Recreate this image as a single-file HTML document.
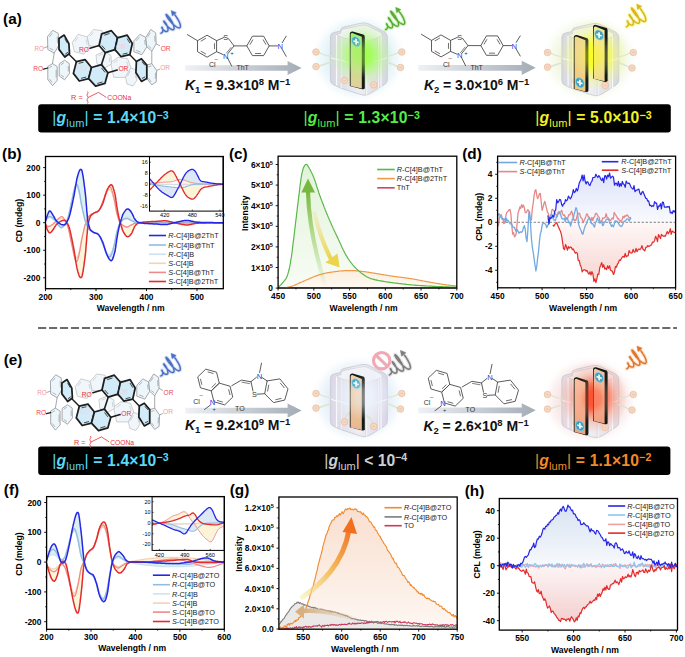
<!DOCTYPE html>
<html><head><meta charset="utf-8"><style>
html,body{margin:0;padding:0;background:#fff;width:685px;height:657px;overflow:hidden}
svg{display:block}
text{font-family:"Liberation Sans", sans-serif}
</style></head><body>
<svg width="685" height="657" viewBox="0 0 685 657" font-family='"Liberation Sans", sans-serif'><defs><clipPath id="cb"><rect x="45.5" y="156.5" width="177.8" height="132.2"/></clipPath><clipPath id="cc"><rect x="278.1" y="156.2" width="178.7" height="131.9"/></clipPath><clipPath id="cd"><rect x="497.6" y="156.2" width="178" height="131.6"/></clipPath><clipPath id="cf"><rect x="46.6" y="496.6" width="177.7" height="132.7"/></clipPath><clipPath id="cg"><rect x="278.9" y="497" width="178.3" height="132.2"/></clipPath><clipPath id="ch"><rect x="499.3" y="498.5" width="178.2" height="131.6"/></clipPath><clipPath id="cbi"><rect x="149.5" y="156.6" width="73.6" height="54.5"/></clipPath><linearGradient id="gG" x1="0" y1="0" x2="0" y2="1"><stop offset="0" stop-color="#e2f3da"/><stop offset="1" stop-color="#f8fcf5"/></linearGradient><linearGradient id="gO" x1="0" y1="0" x2="0" y2="1"><stop offset="0" stop-color="#fbeedd"/><stop offset="1" stop-color="#fefaf3"/></linearGradient><linearGradient id="aG" x1="0" y1="1" x2="0" y2="0"><stop offset="0" stop-color="#8cc850" stop-opacity="0.05"/><stop offset="0.55" stop-color="#8cc850" stop-opacity="0.6"/><stop offset="1" stop-color="#78b840"/></linearGradient><linearGradient id="aY" x1="0" y1="0" x2="0" y2="1"><stop offset="0" stop-color="#e8e090" stop-opacity="0.3"/><stop offset="1" stop-color="#ecd44c"/></linearGradient><linearGradient id="gdB" x1="0" y1="0" x2="0" y2="1"><stop offset="0" stop-color="#dde2f7"/><stop offset="1" stop-color="#fafbff"/></linearGradient><linearGradient id="gdR" x1="0" y1="1" x2="0" y2="0"><stop offset="0" stop-color="#f6d4d0"/><stop offset="1" stop-color="#fef8f7"/></linearGradient><clipPath id="cfi"><rect x="152.1" y="496.6" width="72.2" height="53.8"/></clipPath><linearGradient id="ggO" x1="0" y1="0" x2="0" y2="1"><stop offset="0" stop-color="#f9dfd0"/><stop offset="1" stop-color="#fef7f2"/></linearGradient><linearGradient id="aO" x1="0" y1="1" x2="1" y2="0"><stop offset="0" stop-color="#f4eca0" stop-opacity="0.5"/><stop offset="0.5" stop-color="#f4c060"/><stop offset="1" stop-color="#f07828"/></linearGradient><linearGradient id="aT" x1="1" y1="0" x2="0" y2="0"><stop offset="0" stop-color="#e8c8a8" stop-opacity="0.2"/><stop offset="1" stop-color="#d8b080"/></linearGradient><linearGradient id="ghB" x1="0" y1="0" x2="0" y2="1"><stop offset="0" stop-color="#d8e3f1"/><stop offset="1" stop-color="#f8fafd"/></linearGradient><linearGradient id="ghR" x1="0" y1="1" x2="0" y2="0"><stop offset="0" stop-color="#f4cfcf"/><stop offset="1" stop-color="#fdf6f6"/></linearGradient><linearGradient id="ga1" x1="0" y1="0" x2="1" y2="0"><stop offset="0" stop-color="#eef2f6"/><stop offset="1" stop-color="#a4acb6"/></linearGradient><radialGradient id="cg0_0o"><stop offset="0" stop-color="#d6eef4" stop-opacity="1"/><stop offset="0.55" stop-color="#d6eef4" stop-opacity="0.85"/><stop offset="0.8" stop-color="#d6eef4" stop-opacity="0.35"/><stop offset="1" stop-color="#ffffff" stop-opacity="0"/></radialGradient><radialGradient id="cg0_0g"><stop offset="0" stop-color="#a0ff50" stop-opacity="1"/><stop offset="0.35" stop-color="#a0ff50" stop-opacity="0.9"/><stop offset="0.7" stop-color="#b8f890" stop-opacity="0.45"/><stop offset="1" stop-color="#b8f890" stop-opacity="0"/></radialGradient><linearGradient id="cg0_0b" x1="0" y1="0" x2="1" y2="0"><stop offset="0" stop-color="#d6d7e0"/><stop offset="0.5" stop-color="#eeeef2"/><stop offset="1" stop-color="#d6d7e0"/></linearGradient><linearGradient id="bg0_0_349" x1="0" y1="0" x2="0" y2="1"><stop offset="0" stop-color="#9ef26c"/><stop offset="1" stop-color="#e6cfa0"/></linearGradient><linearGradient id="ga2" x1="0" y1="0" x2="1" y2="0"><stop offset="0" stop-color="#eef2f6"/><stop offset="1" stop-color="#a4acb6"/></linearGradient><radialGradient id="cg231_0o"><stop offset="0" stop-color="#eaf4d4" stop-opacity="1"/><stop offset="0.55" stop-color="#eaf4d4" stop-opacity="0.85"/><stop offset="0.8" stop-color="#eaf4d4" stop-opacity="0.35"/><stop offset="1" stop-color="#ffffff" stop-opacity="0"/></radialGradient><radialGradient id="cg231_0g"><stop offset="0" stop-color="#f8ff20" stop-opacity="1"/><stop offset="0.35" stop-color="#f8ff20" stop-opacity="0.9"/><stop offset="0.7" stop-color="#f0f880" stop-opacity="0.45"/><stop offset="1" stop-color="#f0f880" stop-opacity="0"/></radialGradient><linearGradient id="cg231_0b" x1="0" y1="0" x2="1" y2="0"><stop offset="0" stop-color="#d6d7e0"/><stop offset="0.5" stop-color="#eeeef2"/><stop offset="1" stop-color="#d6d7e0"/></linearGradient><linearGradient id="bg231_0_342" x1="0" y1="0" x2="0" y2="1"><stop offset="0" stop-color="#f2d890"/><stop offset="1" stop-color="#f0c880"/></linearGradient><linearGradient id="bg231_0_361" x1="0" y1="0" x2="0" y2="1"><stop offset="0" stop-color="#f8e88a"/><stop offset="1" stop-color="#f2d890"/></linearGradient><linearGradient id="ga3" x1="0" y1="0" x2="1" y2="0"><stop offset="0" stop-color="#eef2f6"/><stop offset="1" stop-color="#a4acb6"/></linearGradient><linearGradient id="ga4" x1="0" y1="0" x2="1" y2="0"><stop offset="0" stop-color="#eef2f6"/><stop offset="1" stop-color="#a4acb6"/></linearGradient><radialGradient id="cg0_341o"><stop offset="0" stop-color="#dceaf6" stop-opacity="1"/><stop offset="0.55" stop-color="#dceaf6" stop-opacity="0.85"/><stop offset="0.8" stop-color="#dceaf6" stop-opacity="0.35"/><stop offset="1" stop-color="#ffffff" stop-opacity="0"/></radialGradient><radialGradient id="cg0_341g"><stop offset="0" stop-color="#eef2fa" stop-opacity="1"/><stop offset="0.35" stop-color="#eef2fa" stop-opacity="0.9"/><stop offset="0.7" stop-color="#e8eef8" stop-opacity="0.45"/><stop offset="1" stop-color="#e8eef8" stop-opacity="0"/></radialGradient><linearGradient id="cg0_341b" x1="0" y1="0" x2="1" y2="0"><stop offset="0" stop-color="#dad6e8"/><stop offset="0.5" stop-color="#eeeef2"/><stop offset="1" stop-color="#dad6e8"/></linearGradient><linearGradient id="bg0_341_349" x1="0" y1="0" x2="0" y2="1"><stop offset="0" stop-color="#f2d0a8"/><stop offset="1" stop-color="#e8b890"/></linearGradient><radialGradient id="cg231_342o"><stop offset="0" stop-color="#f6dcdc" stop-opacity="1"/><stop offset="0.55" stop-color="#f6dcdc" stop-opacity="0.85"/><stop offset="0.8" stop-color="#f6dcdc" stop-opacity="0.35"/><stop offset="1" stop-color="#ffffff" stop-opacity="0"/></radialGradient><radialGradient id="cg231_342g"><stop offset="0" stop-color="#ff5030" stop-opacity="1"/><stop offset="0.35" stop-color="#ff5030" stop-opacity="0.9"/><stop offset="0.7" stop-color="#f8a088" stop-opacity="0.45"/><stop offset="1" stop-color="#f8a088" stop-opacity="0"/></radialGradient><linearGradient id="cg231_342b" x1="0" y1="0" x2="1" y2="0"><stop offset="0" stop-color="#e6d6dc"/><stop offset="0.5" stop-color="#eeeef2"/><stop offset="1" stop-color="#e6d6dc"/></linearGradient><linearGradient id="bg231_342_342" x1="0" y1="0" x2="0" y2="1"><stop offset="0" stop-color="#f8c0a0"/><stop offset="1" stop-color="#f2a080"/></linearGradient><linearGradient id="bg231_342_361" x1="0" y1="0" x2="0" y2="1"><stop offset="0" stop-color="#f8c4a4"/><stop offset="1" stop-color="#f2a080"/></linearGradient></defs><text x="3.1" y="23.7" font-size="15.3" font-weight="bold" fill="#000" text-anchor="start"  >(a)</text>
<text x="2.1" y="159.3" font-size="15.3" font-weight="bold" fill="#000" text-anchor="start"  >(b)</text>
<text x="229" y="159.3" font-size="15.3" font-weight="bold" fill="#000" text-anchor="start"  >(c)</text>
<text x="462.2" y="159.2" font-size="15.3" font-weight="bold" fill="#000" text-anchor="start"  >(d)</text>
<text x="3.7" y="364.5" font-size="15.3" font-weight="bold" fill="#000" text-anchor="start"  >(e)</text>
<text x="3.8" y="494.6" font-size="15.3" font-weight="bold" fill="#000" text-anchor="start"  >(f)</text>
<text x="229.7" y="494.5" font-size="15.3" font-weight="bold" fill="#000" text-anchor="start"  >(g)</text>
<text x="464.7" y="495.5" font-size="15.3" font-weight="bold" fill="#000" text-anchor="start"  >(h)</text>
<line x1="38.1" y1="328" x2="677" y2="328" stroke="#6b6b6b" stroke-width="2" stroke-dasharray="8.1 2.85"/>
<rect x="38.2" y="104.2" width="632.6" height="28.3" rx="3" fill="#000"/>
<rect x="38.2" y="446.5" width="632.2" height="28.4" rx="3" fill="#000"/>
<text x="52.3" y="123.4" font-size="15.7" font-weight="bold" fill="#5ad8f4" textLength="116.4" lengthAdjust="spacing"><tspan font-weight="normal">|</tspan><tspan font-style="italic">g</tspan><tspan font-size="11" font-weight="normal" dy="3.7">lum</tspan><tspan dy="-3.7" font-weight="normal">|</tspan> = 1.4&#215;10<tspan font-size="10.6" dy="-4.5">&#8722;3</tspan></text>
<text x="303.4" y="123.4" font-size="15.7" font-weight="bold" fill="#56ec48" textLength="116.4" lengthAdjust="spacing"><tspan font-weight="normal">|</tspan><tspan font-style="italic">g</tspan><tspan font-size="11" font-weight="normal" dy="3.7">lum</tspan><tspan dy="-3.7" font-weight="normal">|</tspan> = 1.3&#215;10<tspan font-size="10.6" dy="-4.5">&#8722;3</tspan></text>
<text x="535.3" y="123.4" font-size="15.7" font-weight="bold" fill="#f2f224" textLength="116.4" lengthAdjust="spacing"><tspan font-weight="normal">|</tspan><tspan font-style="italic">g</tspan><tspan font-size="11" font-weight="normal" dy="3.7">lum</tspan><tspan dy="-3.7" font-weight="normal">|</tspan> = 5.0&#215;10<tspan font-size="10.6" dy="-4.5">&#8722;3</tspan></text>
<text x="52.3" y="465.8" font-size="15.7" font-weight="bold" fill="#5ad8f4" textLength="116.4" lengthAdjust="spacing"><tspan font-weight="normal">|</tspan><tspan font-style="italic">g</tspan><tspan font-size="11" font-weight="normal" dy="3.7">lum</tspan><tspan dy="-3.7" font-weight="normal">|</tspan> = 1.4&#215;10<tspan font-size="10.6" dy="-4.5">&#8722;3</tspan></text>
<text x="324.3" y="465.8" font-size="15.7" font-weight="bold" fill="#cfcfcf"><tspan font-weight="normal">|</tspan><tspan font-style="italic">g</tspan><tspan font-size="11" font-weight="normal" dy="3.7">lum</tspan><tspan dy="-3.7" font-weight="normal">|</tspan> &lt; 10<tspan font-size="10.6" dy="-4.5">&#8722;4</tspan></text>
<text x="534.9" y="465.8" font-size="15.7" font-weight="bold" fill="#f28a26" textLength="116.4" lengthAdjust="spacing"><tspan font-weight="normal">|</tspan><tspan font-style="italic">g</tspan><tspan font-size="11" font-weight="normal" dy="3.7">lum</tspan><tspan dy="-3.7" font-weight="normal">|</tspan> = 1.1&#215;10<tspan font-size="10.6" dy="-4.5">&#8722;2</tspan></text>
<g clip-path="url(#cb)">
<path d="M45.5,221.3 45.9,220 46.2,218.8 46.6,217.6 46.9,216.6 47.3,215.6 47.6,214.7 48,213.8 48.3,212.9 48.7,212.1 49.1,211.4 49.4,211 50.1,211 50.8,211.7 51.2,212.2 51.6,212.8 51.9,213.4 52.3,214 52.6,214.5 53,215.1 53.3,215.7 53.7,216.3 54,217 54.4,217.6 54.8,218.3 55.1,218.9 55.5,219.5 55.8,220 56.2,220.5 56.5,221 56.9,221.3 57.3,221.7 58,222.3 58.7,222.9 59.4,223.4 60.1,223.8 60.8,224.2 61.5,224.5 62.2,224.7 63,224.8 63.7,224.9 64.4,224.9 65.1,224.5 65.8,223.7 66.2,223.2 66.5,222.7 66.9,222 67.2,221.4 67.6,220.7 67.9,220 68.3,219.2 68.7,218.4 69,217.4 69.4,216.3 69.7,215.1 70.1,213.7 70.4,212.3 70.8,210.8 71.1,209.2 71.5,207.6 71.9,205.9 72.2,204.2 72.6,202.6 72.9,200.9 73.3,199.2 73.6,197.5 74,195.6 74.4,193.6 74.7,191.5 75.1,189.4 75.4,187.2 75.8,185.1 76.1,183.1 76.5,181.1 76.8,179.3 77.2,177.7 77.6,176.3 77.9,174.9 78.3,173.7 78.6,172.6 79,171.7 79.3,170.9 79.7,170.2 80.1,169.7 80.8,169.3 81.5,169.7 81.8,170.4 82.2,171.7 82.5,173.3 82.9,175.3 83.3,177.6 83.6,180.1 84,182.7 84.3,185.4 84.7,188.1 85,190.8 85.4,194.2 85.8,198.1 86.1,202.3 86.5,206.6 86.8,210.9 87.2,214.8 87.5,218.3 87.9,221.1 88.2,223 88.6,224.5 89,225.9 89.3,227.1 89.7,228.1 90,229 90.4,229.7 90.7,230.2 91.5,230.8 92.2,231.4 92.9,232 93.6,232.4 94.3,232.8 95,233 95.7,233.1 96.4,233.3 97.2,233.5 97.9,234 98.6,234.6 98.9,235.1 99.3,235.6 99.6,236.1 100,236.7 100.4,237.3 100.7,238 101.1,238.6 101.4,239.3 101.8,240.1 102.1,240.8 102.5,241.6 102.9,242.5 103.2,243.5 103.6,244.5 103.9,245.7 104.3,246.8 104.6,248 105,249.1 105.3,250.3 105.7,251.4 106.1,252.5 106.4,253.5 106.8,254.4 107.1,255.2 107.5,256 107.8,256.7 108.2,257.4 108.5,258 108.9,258.6 109.3,259.2 109.6,259.6 110,260 110.7,260.5 111.4,260.7 112.1,260 112.5,259.4 112.8,258.6 113.2,257.6 113.5,256.5 113.9,255.3 114.2,254.1 114.6,252.7 115,251.3 115.3,249.4 115.7,247.2 116,244.7 116.4,242.2 116.7,239.7 117.1,237.3 117.5,235.1 117.8,233.2 118.2,231.4 118.5,229.7 118.9,228.1 119.2,226.5 119.6,225.1 119.9,223.7 120.3,222.5 120.7,221.3 121,220.1 121.4,218.9 121.7,217.7 122.1,216.7 122.4,215.6 122.8,214.7 123.2,213.9 123.5,213.2 123.9,212.6 124.2,212.1 124.6,211.6 124.9,211.1 125.3,210.6 125.6,210.2 126,209.8 126.7,209.2 127.4,208.9 128.1,209 128.9,209.4 129.6,210.1 129.9,210.4 130.3,210.8 130.6,211.3 131,211.8 131.3,212.2 131.7,212.8 132.1,213.4 132.4,214.1 132.8,214.9 133.1,215.7 133.5,216.5 133.8,217.3 134.2,218.1 134.6,218.7 134.9,219.3 135.3,219.8 135.6,220.2 136,220.5 136.7,221.2 137.4,221.8 138.1,222.2 138.8,222.6 139.5,222.7 140.3,222.8 141,222.9 141.7,223 142.4,223.1 143.1,223.2 143.8,223.3 144.5,223.4 145.2,223.4 146,223.5 146.7,223.5 147.4,223.6 148.1,223.6 148.8,223.7 149.5,223.7 150.2,223.7 150.9,223.8 151.7,223.8 152.4,223.8 153.1,223.9 153.8,223.9 154.5,224 155.2,224 155.9,224 156.6,224.1 157.4,224.1 158.1,224.2 158.8,224.2 159.5,224.3 160.2,224.4 160.9,224.4 161.6,224.5 162.3,224.5 163,224.6 163.8,224.6 164.5,224.6 165.2,224.6 165.9,224.6 166.6,224.5 167.3,224.4 168,224.3 168.7,224.1 169.5,224 170.2,223.8 170.9,223.6 171.6,223.4 172.3,223.2 173,223 173.7,222.8 174.4,222.7 175.2,222.5 175.9,222.4 176.6,222.2 177.3,222 178,221.9 178.7,221.7 179.4,221.6 180.1,221.4 180.9,221.2 181.6,221.1 182.3,221 183,220.8 183.7,220.7 184.4,220.6 185.1,220.6 185.8,220.5 186.6,220.5 187.3,220.5 188,220.5 188.7,220.6 189.4,220.7 190.1,220.8 190.8,221 191.5,221.2 192.3,221.3 193,221.5 193.7,221.6 194.4,221.8 195.1,221.9 195.8,222 196.5,222.1 197.2,222.2 198,222.2 198.7,222.2 199.4,222.3 200.1,222.3 200.8,222.4 201.5,222.4 202.2,222.4 202.9,222.4 203.7,222.5 204.4,222.5 205.1,222.5 205.8,222.5 206.5,222.6 207.2,222.6 207.9,222.6 208.6,222.6 209.4,222.6 210.1,222.6 210.8,222.6 211.5,222.6 212.2,222.6 212.9,222.6 213.6,222.7 214.3,222.7 215.1,222.7 215.8,222.7 216.5,222.7 217.2,222.7 217.9,222.7 218.6,222.7 219.3,222.7 220,222.7 220.8,222.7 221.5,222.7 222.2,222.7 222.9,222.7 222.2,222.7 221.5,222.7 220.8,222.7 220,222.7 219.3,222.7 218.6,222.7 217.9,222.7 217.2,222.8 216.5,222.8 215.8,222.8 215.1,222.8 214.3,222.8 213.6,222.8 212.9,222.8 212.2,222.8 211.5,222.8 210.8,222.8 210.1,222.8 209.4,222.8 208.6,222.8 207.9,222.8 207.2,222.8 206.5,222.8 205.8,222.8 205.1,222.8 204.4,222.8 203.7,222.8 202.9,222.8 202.2,222.8 201.5,222.8 200.8,222.8 200.1,222.8 199.4,222.8 198.7,222.8 198,222.8 197.2,222.8 196.5,222.8 195.8,222.8 195.1,222.8 194.4,222.8 193.7,222.8 193,222.8 192.3,222.8 191.5,222.8 190.8,222.8 190.1,222.8 189.4,222.8 188.7,222.8 188,222.8 187.3,222.8 186.6,222.8 185.8,222.8 185.1,222.8 184.4,222.8 183.7,222.8 183,222.8 182.3,222.8 181.6,222.8 180.9,222.8 180.1,222.8 179.4,222.8 178.7,222.8 178,222.8 177.3,222.8 176.6,222.8 175.9,222.8 175.2,222.8 174.4,222.8 173.7,222.8 173,222.8 172.3,222.8 171.6,222.8 170.9,222.8 170.2,222.8 169.5,222.8 168.7,222.8 168,222.8 167.3,222.8 166.6,222.8 165.9,222.8 165.2,222.8 164.5,222.7 163.8,222.7 163,222.7 162.3,222.7 161.6,222.7 160.9,222.7 160.2,222.7 159.5,222.7 158.8,222.7 158.1,222.7 157.4,222.7 156.6,222.7 155.9,222.7 155.2,222.7 154.5,222.7 153.8,222.7 153.1,222.7 152.4,222.7 151.7,222.7 150.9,222.7 150.2,222.7 149.5,222.7 148.8,222.7 148.1,222.7 147.4,222.7 146.7,222.7 146,222.7 145.2,222.7 144.5,222.7 143.8,222.7 143.1,222.7 142.4,222.6 141.7,222.6 141,222.6 140.3,222.6 139.5,222.6 138.8,222.5 138.1,222.5 137.4,222.5 136.7,222.4 136,222.4 135.3,222.2 134.6,221.9 133.8,221.5 133.1,221.1 132.4,220.6 131.7,220.2 131,219.7 130.3,219.2 129.6,218.6 128.9,218 128.1,217.6 127.4,217.2 126.7,217.1 126,217.4 125.3,217.8 124.6,218.3 123.9,218.8 123.2,219.3 122.4,220 122.1,220.3 121.7,220.8 121.4,221.2 121,221.6 120.7,222.1 120.3,222.6 119.9,223.1 119.6,223.8 119.2,224.6 118.9,225.4 118.5,226.4 118.2,227.4 117.8,228.5 117.5,229.6 117.1,230.8 116.7,232.1 116.4,233.7 116,235.5 115.7,237.3 115.3,239.2 115,241 114.6,242.7 114.2,244.3 113.9,245.7 113.5,246.8 113.2,247.8 112.8,248.9 112.5,249.9 112.1,250.8 111.8,251.6 111.4,252.4 111,253.1 110.7,253.7 110.3,254.2 109.6,254.7 108.9,254.7 108.2,254.3 107.5,253.6 107.1,253 106.8,252.4 106.4,251.7 106.1,250.9 105.7,250 105.3,249.1 105,248.2 104.6,247.3 104.3,246.4 103.9,245.5 103.6,244.7 103.2,243.9 102.9,243.1 102.5,242.2 102.1,241.3 101.8,240.4 101.4,239.5 101.1,238.7 100.7,237.8 100.4,237.1 100,236.3 99.6,235.7 99.3,235.1 98.9,234.7 98.6,234.3 97.9,233.8 97.2,233.4 96.4,233.1 95.7,232.8 95,232.5 94.3,232.2 93.6,231.9 92.9,231.5 92.2,231.2 91.5,230.8 90.7,230.4 90,229.9 89.3,229.3 89,228.8 88.6,228.3 88.2,227.7 87.9,227.1 87.5,226.4 87.2,225.6 86.8,224.8 86.5,224 86.1,223.2 85.8,222.3 85.4,221.4 85,220.3 84.7,219.1 84.3,217.8 84,216.5 83.6,215.1 83.3,213.6 82.9,212.1 82.5,210.5 82.2,209 81.8,207.4 81.5,205.7 81.1,203.8 80.8,201.8 80.4,199.7 80.1,197.7 79.7,195.7 79.3,193.9 79,192.4 78.6,191.2 78.3,190.1 77.9,189.1 77.6,188.2 77.2,187.5 76.8,186.9 76.1,186.5 75.4,187.2 75.1,188 74.7,189 74.4,190.3 74,191.7 73.6,193.3 73.3,194.9 72.9,196.6 72.6,198.3 72.2,200 71.9,201.6 71.5,203.1 71.1,204.8 70.8,206.4 70.4,208.1 70.1,209.8 69.7,211.4 69.4,213 69,214.5 68.7,215.8 68.3,217 67.9,218 67.6,219 67.2,219.9 66.9,220.7 66.5,221.5 66.2,222.2 65.8,222.9 65.4,223.5 65.1,223.9 64.7,224.3 64,225 63.3,225.6 62.6,226.2 61.9,226.5 61.2,226.6 60.5,226.3 59.7,225.8 59,225.3 58.3,224.6 58,224.3 57.6,223.9 57.3,223.5 56.9,223 56.5,222.6 56.2,222.2 55.8,221.8 55.5,221.4 55.1,221 54.8,220.7 54,220 53.3,219.4 52.6,218.8 51.9,218.3 51.2,217.9 50.5,217.7 49.8,217.7 49.1,217.9 48.3,218.2 47.6,218.5 46.9,218.9 46.2,219.4 45.5,219.9Z" fill="#d8eef0" fill-opacity="0.9" />
<path d="M45.5,224.1 45.9,225.3 46.2,226.4 46.6,227.5 46.9,228.5 47.3,229.4 47.6,230.1 48,230.8 48.3,231.4 48.7,232 49.1,232.5 49.8,232.9 50.5,232.6 51.2,232 51.6,231.6 51.9,231.2 52.3,230.8 52.6,230.3 53,229.9 53.3,229.3 53.7,228.8 54,228.2 54.4,227.6 54.8,227 55.1,226.4 55.5,225.8 55.8,225.3 56.2,224.8 56.5,224.4 56.9,224.1 57.6,223.4 58.3,222.8 59,222.3 59.7,221.8 60.5,221.4 61.2,221.1 61.9,220.8 62.6,220.5 63.3,220.4 64,220.2 64.7,220.3 65.4,220.8 65.8,221.1 66.2,221.5 66.5,222 66.9,222.6 67.2,223.1 67.6,223.7 67.9,224.4 68.3,225 68.7,225.8 69,226.8 69.4,228 69.7,229.2 70.1,230.6 70.4,232.2 70.8,233.8 71.1,235.5 71.5,237.2 71.9,239 72.2,240.8 72.6,242.6 72.9,244.4 73.3,246.2 73.6,248 74,250 74.4,252.2 74.7,254.4 75.1,256.7 75.4,259 75.8,261.3 76.1,263.4 76.5,265.5 76.8,267.4 77.2,269.1 77.6,270.5 77.9,271.9 78.3,273.1 78.6,274.3 79,275.2 79.3,276.1 79.7,276.8 80.1,277.3 80.8,277.7 81.5,277.4 81.8,276.7 82.2,275.5 82.5,274 82.9,272.1 83.3,270 83.6,267.7 84,265.2 84.3,262.6 84.7,260 85,257.3 85.4,254.1 85.8,250.2 86.1,246 86.5,241.6 86.8,237.2 87.2,233 87.5,229.2 87.9,226 88.2,223.6 88.6,222 89,220.6 89.3,219.4 89.7,218.3 90,217.4 90.4,216.5 90.7,215.9 91.1,215.4 91.5,215 92.2,214.4 92.9,213.8 93.6,213.3 94.3,212.9 95,212.6 95.7,212.3 96.4,212.1 97.2,211.9 97.9,211.4 98.6,210.8 98.9,210.4 99.3,209.9 99.6,209.4 100,208.8 100.4,208.2 100.7,207.6 101.1,207 101.4,206.3 101.8,205.6 102.1,204.9 102.5,204.1 102.9,203.2 103.2,202.2 103.6,201.1 103.9,200 104.3,198.8 104.6,197.6 105,196.4 105.3,195.2 105.7,194.1 106.1,193 106.4,191.9 106.8,191 107.1,190.2 107.5,189.4 107.8,188.7 108.2,188 108.5,187.3 108.9,186.8 109.3,186.2 109.6,185.8 110,185.4 110.7,184.8 111.4,184.7 112.1,185.4 112.5,186 112.8,186.8 113.2,187.8 113.5,188.9 113.9,190.1 114.2,191.3 114.6,192.7 115,194.1 115.3,196 115.7,198.2 116,200.7 116.4,203.2 116.7,205.7 117.1,208.1 117.5,210.3 117.8,212.2 118.2,214 118.5,215.7 118.9,217.3 119.2,218.9 119.6,220.3 119.9,221.7 120.3,222.9 120.7,224.1 121,225.3 121.4,226.5 121.7,227.6 122.1,228.7 122.4,229.7 122.8,230.7 123.2,231.5 123.5,232.2 123.9,232.8 124.2,233.3 124.6,233.8 124.9,234.4 125.3,234.9 125.6,235.3 126,235.7 126.4,236.1 127.1,236.6 127.8,236.8 128.5,236.6 129.2,236.1 129.9,235.5 130.3,235.1 130.6,234.6 131,234.2 131.3,233.7 131.7,233.2 132.1,232.5 132.4,231.7 132.8,230.9 133.1,230 133.5,229.1 133.8,228.3 134.2,227.5 134.6,226.7 134.9,226.1 135.3,225.6 135.6,225.2 136,224.9 136.7,224.2 137.4,223.6 138.1,223.2 138.8,222.8 139.5,222.7 140.3,222.6 141,222.5 141.7,222.4 142.4,222.3 143.1,222.2 143.8,222.1 144.5,222 145.2,222 146,221.9 146.7,221.9 147.4,221.8 148.1,221.8 148.8,221.7 149.5,221.7 150.2,221.7 150.9,221.6 151.7,221.6 152.4,221.6 153.1,221.5 153.8,221.5 154.5,221.4 155.2,221.4 155.9,221.4 156.6,221.3 157.4,221.3 158.1,221.2 158.8,221.2 159.5,221.1 160.2,221 160.9,221 161.6,220.9 162.3,220.9 163,220.8 163.8,220.8 164.5,220.8 165.2,220.8 165.9,220.8 166.6,220.9 167.3,221 168,221.1 168.7,221.3 169.5,221.4 170.2,221.6 170.9,221.8 171.6,222 172.3,222.2 173,222.4 173.7,222.6 174.4,222.7 175.2,222.9 175.9,223 176.6,223.2 177.3,223.3 178,223.5 178.7,223.7 179.4,223.8 180.1,224 180.9,224.1 181.6,224.3 182.3,224.4 183,224.5 183.7,224.6 184.4,224.7 185.1,224.8 185.8,224.9 186.6,224.9 187.3,224.9 188,224.9 188.7,224.8 189.4,224.7 190.1,224.6 190.8,224.5 191.5,224.3 192.3,224.1 193,224 193.7,223.8 194.4,223.6 195.1,223.5 195.8,223.4 196.5,223.3 197.2,223.2 198,223.2 198.7,223.2 199.4,223.1 200.1,223.1 200.8,223 201.5,223 202.2,223 202.9,222.9 203.7,222.9 204.4,222.9 205.1,222.9 205.8,222.9 206.5,222.8 207.2,222.8 207.9,222.8 208.6,222.8 209.4,222.8 210.1,222.8 210.8,222.8 211.5,222.8 212.2,222.8 212.9,222.8 213.6,222.7 214.3,222.7 215.1,222.7 215.8,222.7 216.5,222.7 217.2,222.7 217.9,222.7 218.6,222.7 219.3,222.7 220,222.7 220.8,222.7 221.5,222.7 222.2,222.7 222.9,222.7 222.2,222.7 221.5,222.7 220.8,222.7 220,222.7 219.3,222.7 218.6,222.7 217.9,222.7 217.2,222.6 216.5,222.6 215.8,222.6 215.1,222.6 214.3,222.6 213.6,222.6 212.9,222.6 212.2,222.6 211.5,222.6 210.8,222.6 210.1,222.6 209.4,222.6 208.6,222.6 207.9,222.6 207.2,222.6 206.5,222.6 205.8,222.6 205.1,222.6 204.4,222.6 203.7,222.6 202.9,222.6 202.2,222.6 201.5,222.6 200.8,222.6 200.1,222.6 199.4,222.6 198.7,222.6 198,222.6 197.2,222.6 196.5,222.6 195.8,222.6 195.1,222.6 194.4,222.6 193.7,222.6 193,222.6 192.3,222.6 191.5,222.6 190.8,222.6 190.1,222.6 189.4,222.6 188.7,222.6 188,222.6 187.3,222.6 186.6,222.6 185.8,222.6 185.1,222.6 184.4,222.6 183.7,222.6 183,222.6 182.3,222.6 181.6,222.6 180.9,222.6 180.1,222.6 179.4,222.6 178.7,222.6 178,222.6 177.3,222.6 176.6,222.6 175.9,222.6 175.2,222.6 174.4,222.6 173.7,222.6 173,222.6 172.3,222.6 171.6,222.6 170.9,222.6 170.2,222.6 169.5,222.6 168.7,222.6 168,222.6 167.3,222.6 166.6,222.6 165.9,222.6 165.2,222.6 164.5,222.6 163.8,222.6 163,222.7 162.3,222.7 161.6,222.7 160.9,222.7 160.2,222.7 159.5,222.7 158.8,222.7 158.1,222.7 157.4,222.7 156.6,222.7 155.9,222.7 155.2,222.7 154.5,222.7 153.8,222.7 153.1,222.7 152.4,222.7 151.7,222.7 150.9,222.7 150.2,222.7 149.5,222.7 148.8,222.7 148.1,222.7 147.4,222.7 146.7,222.7 146,222.7 145.2,222.7 144.5,222.7 143.8,222.7 143.1,222.7 142.4,222.7 141.7,222.8 141,222.8 140.3,222.8 139.5,222.8 138.8,222.9 138.1,222.9 137.4,222.9 136.7,223 136,223 135.3,223.2 134.6,223.4 133.8,223.7 133.1,224.1 132.4,224.4 131.7,224.8 131,225.1 130.3,225.4 129.6,225.7 128.9,226 128.1,226.3 127.4,226.5 126.7,226.6 126,226.4 125.3,226.2 124.6,225.8 123.9,225.5 123.2,225.2 122.4,224.7 121.7,224.1 121,223.5 120.7,223.1 120.3,222.8 119.9,222.3 119.6,221.7 119.2,221 118.9,220.1 118.5,219.2 118.2,218.1 117.8,217 117.5,215.8 117.1,214.6 116.7,213.2 116.4,211.6 116,209.9 115.7,208 115.3,206.1 115,204.2 114.6,202.4 114.2,200.7 113.9,199.3 113.5,198 113.2,196.8 112.8,195.6 112.5,194.4 112.1,193.3 111.8,192.3 111.4,191.5 111,190.7 110.7,190.1 110.3,189.8 109.6,189.5 108.9,189.7 108.2,190.3 107.8,190.7 107.5,191.2 107.1,191.8 106.8,192.5 106.4,193.3 106.1,194.1 105.7,195.1 105.3,196 105,197 104.6,198 104.3,198.9 103.9,199.8 103.6,200.7 103.2,201.5 102.9,202.4 102.5,203.3 102.1,204.2 101.8,205.1 101.4,205.9 101.1,206.8 100.7,207.6 100.4,208.4 100,209.1 99.6,209.7 99.3,210.3 98.9,210.7 98.6,211.1 97.9,211.6 97.2,212 96.4,212.3 95.7,212.6 95,212.9 94.3,213.2 93.6,213.5 92.9,213.9 92.2,214.2 91.5,214.6 90.7,215 90,215.5 89.3,216.1 89,216.6 88.6,217.1 88.2,217.7 87.9,218.3 87.5,219 87.2,219.8 86.8,220.6 86.5,221.4 86.1,222.2 85.8,223.1 85.4,224 85,225.1 84.7,226.3 84.3,227.6 84,228.9 83.6,230.4 83.3,231.9 82.9,233.4 82.5,234.9 82.2,236.4 81.8,238 81.5,239.6 81.1,241.5 80.8,243.4 80.4,245.4 80.1,247.4 79.7,249.3 79.3,251 79,252.5 78.6,253.6 78.3,254.7 77.9,255.7 77.6,256.5 77.2,257.1 76.8,257.5 76.1,257.5 75.8,257.1 75.4,256.4 75.1,255.5 74.7,254.4 74.4,253.2 74,251.9 73.6,250.4 73.3,249 72.9,247.4 72.6,245.9 72.2,244.4 71.9,242.9 71.5,241.5 71.1,240 70.8,238.3 70.4,236.7 70.1,235 69.7,233.4 69.4,231.8 69,230.4 68.7,229 68.3,227.9 67.9,226.9 67.6,225.9 67.2,225 66.9,224.2 66.5,223.4 66.2,222.7 65.8,222 65.4,221.4 65.1,221 64.7,220.5 64.4,220.2 64,219.8 63.7,219.4 63.3,219.1 62.6,218.5 61.9,218.3 61.2,218.4 60.5,218.6 59.7,219 59,219.4 58.3,219.8 57.6,220.3 56.9,220.9 56.2,221.4 55.5,222 54.8,222.6 54,223.1 53.3,223.7 52.6,224.2 51.9,224.7 51.2,225.2 50.5,225.5 49.8,225.7 49.1,225.9 48.3,226 47.6,226 46.9,225.9 46.2,225.7 45.5,225.5Z" fill="#fbf4d6" fill-opacity="0.9" />
<path d="M45.5,225.5 46.2,225.7 46.9,225.9 47.6,226 48.3,226 49.1,225.9 49.8,225.7 50.5,225.5 51.2,225.2 51.9,224.7 52.6,224.2 53.3,223.7 54,223.1 54.8,222.6 55.5,222 56.2,221.4 56.9,220.9 57.6,220.3 58.3,219.8 59,219.4 59.7,219 60.5,218.6 61.2,218.4 61.9,218.3 62.6,218.5 63.3,219.1 63.7,219.4 64,219.8 64.4,220.2 64.7,220.5 65.1,221 65.4,221.4 65.8,222 66.2,222.7 66.5,223.4 66.9,224.2 67.2,225 67.6,225.9 67.9,226.9 68.3,227.9 68.7,229 69,230.4 69.4,231.8 69.7,233.4 70.1,235 70.4,236.7 70.8,238.3 71.1,240 71.5,241.5 71.9,242.9 72.2,244.4 72.6,245.9 72.9,247.4 73.3,249 73.6,250.4 74,251.9 74.4,253.2 74.7,254.4 75.1,255.5 75.4,256.4 75.8,257.1 76.1,257.5 76.8,257.5 77.2,257.1 77.6,256.5 77.9,255.7 78.3,254.7 78.6,253.6 79,252.5 79.3,251 79.7,249.3 80.1,247.4 80.4,245.4 80.8,243.4 81.1,241.5 81.5,239.6 81.8,238 82.2,236.4 82.5,234.9 82.9,233.4 83.3,231.9 83.6,230.4 84,228.9 84.3,227.6 84.7,226.3 85,225.1 85.4,224 85.8,223.1 86.1,222.2 86.5,221.4 86.8,220.6 87.2,219.8 87.5,219 87.9,218.3 88.2,217.7 88.6,217.1 89,216.6 89.3,216.1 89.7,215.7 90.4,215.2 91.1,214.8 91.8,214.4 92.5,214.1 93.2,213.7 93.9,213.3 94.7,213 95.4,212.7 96.1,212.4 96.8,212.1 97.5,211.8 98.2,211.3 98.9,210.7 99.3,210.3 99.6,209.7 100,209.1 100.4,208.4 100.7,207.6 101.1,206.8 101.4,205.9 101.8,205.1 102.1,204.2 102.5,203.3 102.9,202.4 103.2,201.5 103.6,200.7 103.9,199.8 104.3,198.9 104.6,198 105,197 105.3,196 105.7,195.1 106.1,194.1 106.4,193.3 106.8,192.5 107.1,191.8 107.5,191.2 107.8,190.7 108.2,190.3 108.9,189.7 109.6,189.5 110.3,189.8 110.7,190.1 111,190.7 111.4,191.5 111.8,192.3 112.1,193.3 112.5,194.4 112.8,195.6 113.2,196.8 113.5,198 113.9,199.3 114.2,200.7 114.6,202.4 115,204.2 115.3,206.1 115.7,208 116,209.9 116.4,211.6 116.7,213.2 117.1,214.6 117.5,215.8 117.8,217 118.2,218.1 118.5,219.2 118.9,220.1 119.2,221 119.6,221.7 119.9,222.3 120.3,222.8 120.7,223.1 121,223.5 121.7,224.1 122.4,224.7 123.2,225.2 123.9,225.5 124.6,225.8 125.3,226.2 126,226.4 126.7,226.6 127.4,226.5 128.1,226.3 128.9,226 129.6,225.7 130.3,225.4 131,225.1 131.7,224.8 132.4,224.4 133.1,224.1 133.8,223.7 134.6,223.4 135.3,223.2 136,223 136.7,223 137.4,222.9 138.1,222.9 138.8,222.9 139.5,222.8 140.3,222.8 141,222.8 141.7,222.8 142.4,222.7 143.1,222.7 143.8,222.7 144.5,222.7 145.2,222.7 146,222.7 146.7,222.7 147.4,222.7 148.1,222.7 148.8,222.7 149.5,222.7 150.2,222.7 150.9,222.7 151.7,222.7 152.4,222.7 153.1,222.7 153.8,222.7 154.5,222.7 155.2,222.7 155.9,222.7 156.6,222.7 157.4,222.7 158.1,222.7 158.8,222.7 159.5,222.7 160.2,222.7 160.9,222.7 161.6,222.7 162.3,222.7 163,222.7 163.8,222.6 164.5,222.6 165.2,222.6 165.9,222.6 166.6,222.6 167.3,222.6 168,222.6 168.7,222.6 169.5,222.6 170.2,222.6 170.9,222.6 171.6,222.6 172.3,222.6 173,222.6 173.7,222.6 174.4,222.6 175.2,222.6 175.9,222.6 176.6,222.6 177.3,222.6 178,222.6 178.7,222.6 179.4,222.6 180.1,222.6 180.9,222.6 181.6,222.6 182.3,222.6 183,222.6 183.7,222.6 184.4,222.6 185.1,222.6 185.8,222.6 186.6,222.6 187.3,222.6 188,222.6 188.7,222.6 189.4,222.6 190.1,222.6 190.8,222.6 191.5,222.6 192.3,222.6 193,222.6 193.7,222.6 194.4,222.6 195.1,222.6 195.8,222.6 196.5,222.6 197.2,222.6 198,222.6 198.7,222.6 199.4,222.6 200.1,222.6 200.8,222.6 201.5,222.6 202.2,222.6 202.9,222.6 203.7,222.6 204.4,222.6 205.1,222.6 205.8,222.6 206.5,222.6 207.2,222.6 207.9,222.6 208.6,222.6 209.4,222.6 210.1,222.6 210.8,222.6 211.5,222.6 212.2,222.6 212.9,222.6 213.6,222.6 214.3,222.6 215.1,222.6 215.8,222.6 216.5,222.6 217.2,222.6 217.9,222.7 218.6,222.7 219.3,222.7 220,222.7 220.8,222.7 221.5,222.7 222.2,222.7 222.9,222.7 223.2,222.7" fill="none" stroke="#f3d2b6" stroke-width="1.3" stroke-linejoin="round"  />
<path d="M45.5,219.9 46.2,219.4 46.9,218.9 47.6,218.5 48.3,218.2 49.1,217.9 49.8,217.7 50.5,217.7 51.2,217.9 51.9,218.3 52.6,218.8 53.3,219.4 54,220 54.8,220.7 55.1,221 55.5,221.4 55.8,221.8 56.2,222.2 56.5,222.6 56.9,223 57.3,223.5 57.6,223.9 58,224.3 58.3,224.6 59,225.3 59.7,225.8 60.5,226.3 61.2,226.6 61.9,226.5 62.6,226.2 63.3,225.6 64,225 64.7,224.3 65.1,223.9 65.4,223.5 65.8,222.9 66.2,222.2 66.5,221.5 66.9,220.7 67.2,219.9 67.6,219 67.9,218 68.3,217 68.7,215.8 69,214.5 69.4,213 69.7,211.4 70.1,209.8 70.4,208.1 70.8,206.4 71.1,204.8 71.5,203.1 71.9,201.6 72.2,200 72.6,198.3 72.9,196.6 73.3,194.9 73.6,193.3 74,191.7 74.4,190.3 74.7,189 75.1,188 75.4,187.2 75.8,186.7 76.5,186.6 77.2,187.5 77.6,188.2 77.9,189.1 78.3,190.1 78.6,191.2 79,192.4 79.3,193.9 79.7,195.7 80.1,197.7 80.4,199.7 80.8,201.8 81.1,203.8 81.5,205.7 81.8,207.4 82.2,209 82.5,210.5 82.9,212.1 83.3,213.6 83.6,215.1 84,216.5 84.3,217.8 84.7,219.1 85,220.3 85.4,221.4 85.8,222.3 86.1,223.2 86.5,224 86.8,224.8 87.2,225.6 87.5,226.4 87.9,227.1 88.2,227.7 88.6,228.3 89,228.8 89.3,229.3 89.7,229.7 90.4,230.2 91.1,230.6 91.8,231 92.5,231.3 93.2,231.7 93.9,232.1 94.7,232.4 95.4,232.7 96.1,233 96.8,233.2 97.5,233.6 98.2,234 98.9,234.7 99.3,235.1 99.6,235.7 100,236.3 100.4,237.1 100.7,237.8 101.1,238.7 101.4,239.5 101.8,240.4 102.1,241.3 102.5,242.2 102.9,243.1 103.2,243.9 103.6,244.7 103.9,245.5 104.3,246.4 104.6,247.3 105,248.2 105.3,249.1 105.7,250 106.1,250.9 106.4,251.7 106.8,252.4 107.1,253 107.5,253.6 107.8,254 108.5,254.5 109.3,254.7 110,254.5 110.7,253.7 111,253.1 111.4,252.4 111.8,251.6 112.1,250.8 112.5,249.9 112.8,248.9 113.2,247.8 113.5,246.8 113.9,245.7 114.2,244.3 114.6,242.7 115,241 115.3,239.2 115.7,237.3 116,235.5 116.4,233.7 116.7,232.1 117.1,230.8 117.5,229.6 117.8,228.5 118.2,227.4 118.5,226.4 118.9,225.4 119.2,224.6 119.6,223.8 119.9,223.1 120.3,222.6 120.7,222.1 121,221.6 121.4,221.2 121.7,220.8 122.1,220.3 122.4,220 122.8,219.6 123.5,219 124.2,218.5 124.9,218 125.6,217.5 126.4,217.2 127.1,217.1 127.8,217.4 128.5,217.8 129.2,218.3 129.9,218.9 130.6,219.5 131.3,219.9 132.1,220.4 132.8,220.8 133.5,221.3 134.2,221.7 134.9,222 135.6,222.3 136.3,222.4 137,222.5 137.8,222.5 138.5,222.5 139.2,222.5 139.9,222.6 140.6,222.6 141.3,222.6 142,222.6 142.7,222.7 143.5,222.7 144.2,222.7 144.9,222.7 145.6,222.7 146.3,222.7 147,222.7 147.7,222.7 148.4,222.7 149.2,222.7 149.9,222.7 150.6,222.7 151.3,222.7 152,222.7 152.7,222.7 153.4,222.7 154.1,222.7 154.9,222.7 155.6,222.7 156.3,222.7 157,222.7 157.7,222.7 158.4,222.7 159.1,222.7 159.8,222.7 160.6,222.7 161.3,222.7 162,222.7 162.7,222.7 163.4,222.7 164.1,222.7 164.8,222.7 165.5,222.8 166.3,222.8 167,222.8 167.7,222.8 168.4,222.8 169.1,222.8 169.8,222.8 170.5,222.8 171.2,222.8 172,222.8 172.7,222.8 173.4,222.8 174.1,222.8 174.8,222.8 175.5,222.8 176.2,222.8 176.9,222.8 177.7,222.8 178.4,222.8 179.1,222.8 179.8,222.8 180.5,222.8 181.2,222.8 181.9,222.8 182.6,222.8 183.4,222.8 184.1,222.8 184.8,222.8 185.5,222.8 186.2,222.8 186.9,222.8 187.6,222.8 188.3,222.8 189.1,222.8 189.8,222.8 190.5,222.8 191.2,222.8 191.9,222.8 192.6,222.8 193.3,222.8 194,222.8 194.8,222.8 195.5,222.8 196.2,222.8 196.9,222.8 197.6,222.8 198.3,222.8 199,222.8 199.7,222.8 200.5,222.8 201.2,222.8 201.9,222.8 202.6,222.8 203.3,222.8 204,222.8 204.7,222.8 205.4,222.8 206.2,222.8 206.9,222.8 207.6,222.8 208.3,222.8 209,222.8 209.7,222.8 210.4,222.8 211.1,222.8 211.9,222.8 212.6,222.8 213.3,222.8 214,222.8 214.7,222.8 215.4,222.8 216.1,222.8 216.8,222.8 217.6,222.8 218.3,222.7 219,222.7 219.7,222.7 220.4,222.7 221.1,222.7 221.8,222.7 222.5,222.7 223.2,222.7" fill="none" stroke="#cfe2f1" stroke-width="1.3" stroke-linejoin="round"  />
<path d="M45.5,224.9 46.2,225.5 46.9,226.1 47.6,226.5 48.3,226.6 49.1,226.5 49.8,226.3 50.5,226 51.2,225.6 51.9,225.1 52.6,224.5 53.3,223.9 54,223.2 54.8,222.5 55.1,222.2 55.5,221.8 55.8,221.4 56.2,221 56.5,220.5 56.9,220.1 57.3,219.7 57.6,219.3 58,219 58.7,218.4 59.4,217.8 60.1,217.3 60.8,216.9 61.5,216.7 62.2,216.7 63,217.2 63.3,217.6 63.7,218.1 64,218.5 64.4,219 64.7,219.5 65.1,220 65.4,220.6 65.8,221.3 66.2,222.1 66.5,223 66.9,224 67.2,225 67.6,226.1 67.9,227.3 68.3,228.5 68.7,229.8 69,231.3 69.4,232.9 69.7,234.7 70.1,236.5 70.4,238.3 70.8,240.1 71.1,241.9 71.5,243.6 71.9,245.2 72.2,246.8 72.6,248.5 72.9,250.3 73.3,252 73.6,253.7 74,255.4 74.4,256.9 74.7,258.3 75.1,259.5 75.4,260.5 75.8,261.2 76.1,261.7 76.8,261.4 77.2,260.8 77.6,260 77.9,259 78.3,257.8 78.6,256.5 79,255.1 79.3,253.5 79.7,251.6 80.1,249.6 80.4,247.4 80.8,245.3 81.1,243.1 81.5,241.1 81.8,239.3 82.2,237.7 82.5,236 82.9,234.3 83.3,232.7 83.6,231.1 84,229.5 84.3,228 84.7,226.6 85,225.3 85.4,224.1 85.8,223.1 86.1,222.2 86.5,221.3 86.8,220.4 87.2,219.5 87.5,218.7 87.9,218 88.2,217.2 88.6,216.6 89,216 89.3,215.6 89.7,215.2 90.4,214.7 91.1,214.3 91.8,213.9 92.5,213.5 93.2,213.2 93.9,212.8 94.7,212.5 95.4,212.2 96.1,211.9 96.8,211.6 97.5,211.2 98.2,210.8 98.9,210.2 99.3,209.7 99.6,209.1 100,208.4 100.4,207.7 100.7,206.8 101.1,205.9 101.4,205 101.8,204.1 102.1,203.1 102.5,202.1 102.9,201.1 103.2,200.2 103.6,199.3 103.9,198.4 104.3,197.4 104.6,196.4 105,195.3 105.3,194.2 105.7,193.2 106.1,192.2 106.4,191.2 106.8,190.4 107.1,189.6 107.5,188.9 107.8,188.3 108.2,187.8 108.5,187.4 109.3,186.9 110,186.8 110.7,187.4 111,188 111.4,188.8 111.8,189.8 112.1,190.9 112.5,192.1 112.8,193.4 113.2,194.7 113.5,196 113.9,197.4 114.2,199 114.6,200.8 115,202.8 115.3,204.8 115.7,206.9 116,208.9 116.4,210.8 116.7,212.5 117.1,214 117.5,215.3 117.8,216.6 118.2,217.8 118.5,218.9 118.9,219.9 119.2,220.8 119.6,221.6 119.9,222.3 120.3,222.8 120.7,223.2 121,223.6 121.4,224 121.7,224.4 122.1,224.8 122.8,225.4 123.5,225.9 124.2,226.2 124.9,226.6 125.6,226.9 126.4,227.1 127.1,227.2 127.8,226.9 128.5,226.6 129.2,226.2 129.9,225.7 130.6,225.3 131.3,224.9 132.1,224.6 132.8,224.2 133.5,223.9 134.2,223.5 134.9,223.3 135.6,223.1 136.3,223 137,222.9 137.8,222.9 138.5,222.9 139.2,222.9 139.9,222.8 140.6,222.8 141.3,222.8 142,222.8 142.7,222.8 143.5,222.7 144.2,222.7 144.9,222.7 145.6,222.7 146.3,222.7 147,222.7 147.7,222.7 148.4,222.7 149.2,222.7 149.9,222.7 150.6,222.7 151.3,222.6 152,222.6 152.7,222.6 153.4,222.6 154.1,222.6 154.9,222.6 155.6,222.6 156.3,222.6 157,222.6 157.7,222.6 158.4,222.6 159.1,222.5 159.8,222.5 160.6,222.5 161.3,222.5 162,222.5 162.7,222.5 163.4,222.5 164.1,222.5 164.8,222.5 165.5,222.5 166.3,222.5 167,222.5 167.7,222.5 168.4,222.5 169.1,222.4 169.8,222.4 170.5,222.4 171.2,222.4 172,222.4 172.7,222.4 173.4,222.4 174.1,222.4 174.8,222.4 175.5,222.4 176.2,222.4 176.9,222.4 177.7,222.4 178.4,222.4 179.1,222.4 179.8,222.4 180.5,222.4 181.2,222.4 181.9,222.4 182.6,222.4 183.4,222.4 184.1,222.4 184.8,222.4 185.5,222.4 186.2,222.4 186.9,222.4 187.6,222.4 188.3,222.4 189.1,222.4 189.8,222.4 190.5,222.4 191.2,222.5 191.9,222.5 192.6,222.5 193.3,222.5 194,222.5 194.8,222.5 195.5,222.5 196.2,222.5 196.9,222.5 197.6,222.5 198.3,222.5 199,222.5 199.7,222.5 200.5,222.5 201.2,222.5 201.9,222.5 202.6,222.5 203.3,222.5 204,222.5 204.7,222.5 205.4,222.5 206.2,222.5 206.9,222.6 207.6,222.6 208.3,222.6 209,222.6 209.7,222.6 210.4,222.6 211.1,222.6 211.9,222.6 212.6,222.6 213.3,222.6 214,222.6 214.7,222.6 215.4,222.6 216.1,222.6 216.8,222.6 217.6,222.6 218.3,222.7 219,222.7 219.7,222.7 220.4,222.7 221.1,222.7 221.8,222.7 222.5,222.7 223.2,222.7" fill="none" stroke="#ee8a8a" stroke-width="1.2" stroke-linejoin="round"  />
<path d="M45.5,220.5 45.9,219.9 46.2,219.3 46.6,218.8 46.9,218.3 47.3,217.8 47.6,217.5 48.3,217 49.1,216.7 49.8,216.5 50.5,216.6 51.2,216.9 51.9,217.4 52.6,218 53.3,218.6 53.7,219 54,219.4 54.4,219.7 54.8,220.1 55.1,220.6 55.5,221 55.8,221.5 56.2,222 56.5,222.6 56.9,223.1 57.3,223.6 57.6,224.1 58,224.6 58.3,225.1 58.7,225.5 59,225.9 59.4,226.3 59.7,226.7 60.5,227.3 61.2,227.7 61.9,227.6 62.6,227.2 63.3,226.5 63.7,226.1 64,225.7 64.4,225.3 64.7,224.8 65.1,224.4 65.4,223.8 65.8,223.1 66.2,222.4 66.5,221.5 66.9,220.6 67.2,219.6 67.6,218.6 67.9,217.5 68.3,216.4 68.7,215.1 69,213.7 69.4,212.1 69.7,210.4 70.1,208.7 70.4,206.9 70.8,205.2 71.1,203.4 71.5,201.8 71.9,200.2 72.2,198.6 72.6,197 72.9,195.3 73.3,193.6 73.6,192 74,190.4 74.4,189 74.7,187.6 75.1,186.5 75.4,185.5 75.8,184.7 76.1,184.3 76.8,184.4 77.2,184.9 77.6,185.7 77.9,186.6 78.3,187.7 78.6,188.9 79,190.2 79.3,191.8 79.7,193.7 80.1,195.8 80.4,197.9 80.8,200.1 81.1,202.2 81.5,204.3 81.8,206.1 82.2,207.7 82.5,209.4 82.9,211.1 83.3,212.7 83.6,214.3 84,215.9 84.3,217.4 84.7,218.8 85,220.1 85.4,221.3 85.8,222.3 86.1,223.2 86.5,224.1 86.8,225 87.2,225.9 87.5,226.7 87.9,227.4 88.2,228.2 88.6,228.8 89,229.4 89.3,229.8 89.7,230.2 90.4,230.7 91.1,231.1 91.8,231.5 92.5,231.9 93.2,232.2 93.9,232.6 94.7,232.9 95.4,233.2 96.1,233.5 96.8,233.8 97.5,234.1 98.2,234.6 98.9,235.2 99.3,235.7 99.6,236.3 100,237 100.4,237.8 100.7,238.7 101.1,239.6 101.4,240.5 101.8,241.5 102.1,242.4 102.5,243.4 102.9,244.3 103.2,245.2 103.6,246.1 103.9,247 104.3,247.8 104.6,248.8 105,249.7 105.3,250.7 105.7,251.6 106.1,252.4 106.4,253.3 106.8,254 107.1,254.7 107.5,255.3 107.8,255.7 108.2,256.1 108.9,256.6 109.6,256.8 110.3,256.4 110.7,256 111,255.4 111.4,254.7 111.8,253.7 112.1,252.7 112.5,251.6 112.8,250.4 113.2,249.2 113.5,248 113.9,246.7 114.2,245.2 114.6,243.5 115,241.7 115.3,239.9 115.7,238 116,236.2 116.4,234.4 116.7,232.8 117.1,231.4 117.5,230.1 117.8,228.9 118.2,227.7 118.5,226.6 118.9,225.5 119.2,224.6 119.6,223.8 119.9,223.1 120.3,222.6 120.7,222.2 121,221.7 121.4,221.3 121.7,220.9 122.1,220.6 122.8,219.9 123.5,219.5 124.2,219.2 124.9,218.9 125.6,218.7 126.4,218.5 127.1,218.5 127.8,218.7 128.5,219 129.2,219.4 129.9,219.8 130.6,220.2 131.3,220.5 132.1,220.8 132.8,221.2 133.5,221.5 134.2,221.8 134.9,222.1 135.6,222.3 136.3,222.4 137,222.5 137.8,222.5 138.5,222.5 139.2,222.5 139.9,222.6 140.6,222.6 141.3,222.6 142,222.6 142.7,222.6 143.5,222.7 144.2,222.7 144.9,222.7 145.6,222.7 146.3,222.7 147,222.7 147.7,222.7 148.4,222.7 149.2,222.7 149.9,222.7 150.6,222.7 151.3,222.8 152,222.8 152.7,222.8 153.4,222.8 154.1,222.8 154.9,222.8 155.6,222.8 156.3,222.8 157,222.8 157.7,222.8 158.4,222.8 159.1,222.9 159.8,222.9 160.6,222.9 161.3,222.9 162,222.9 162.7,222.9 163.4,222.9 164.1,222.9 164.8,222.9 165.5,222.9 166.3,222.9 167,222.9 167.7,222.9 168.4,222.9 169.1,223 169.8,223 170.5,223 171.2,223 172,223 172.7,223 173.4,223 174.1,223 174.8,223 175.5,223 176.2,223 176.9,223 177.7,223 178.4,223 179.1,223 179.8,223 180.5,223 181.2,223 181.9,223 182.6,223 183.4,223 184.1,223 184.8,223 185.5,223 186.2,223 186.9,223 187.6,223 188.3,223 189.1,223 189.8,223 190.5,223 191.2,222.9 191.9,222.9 192.6,222.9 193.3,222.9 194,222.9 194.8,222.9 195.5,222.9 196.2,222.9 196.9,222.9 197.6,222.9 198.3,222.9 199,222.9 199.7,222.9 200.5,222.9 201.2,222.9 201.9,222.9 202.6,222.9 203.3,222.9 204,222.9 204.7,222.9 205.4,222.9 206.2,222.9 206.9,222.8 207.6,222.8 208.3,222.8 209,222.8 209.7,222.8 210.4,222.8 211.1,222.8 211.9,222.8 212.6,222.8 213.3,222.8 214,222.8 214.7,222.8 215.4,222.8 216.1,222.8 216.8,222.8 217.6,222.8 218.3,222.7 219,222.7 219.7,222.7 220.4,222.7 221.1,222.7 221.8,222.7 222.5,222.7 223.2,222.7" fill="none" stroke="#93bde0" stroke-width="1.4" stroke-linejoin="round"  />
<path d="M45.5,224.1 45.9,225.3 46.2,226.4 46.6,227.5 46.9,228.5 47.3,229.4 47.6,230.1 48,230.8 48.3,231.4 48.7,232 49.1,232.5 49.8,232.9 50.5,232.6 51.2,232 51.6,231.6 51.9,231.2 52.3,230.8 52.6,230.3 53,229.9 53.3,229.3 53.7,228.8 54,228.2 54.4,227.6 54.8,227 55.1,226.4 55.5,225.8 55.8,225.3 56.2,224.8 56.5,224.4 56.9,224.1 57.6,223.4 58.3,222.8 59,222.3 59.7,221.8 60.5,221.4 61.2,221.1 61.9,220.8 62.6,220.5 63.3,220.4 64,220.2 64.7,220.3 65.4,220.8 65.8,221.1 66.2,221.5 66.5,222 66.9,222.6 67.2,223.1 67.6,223.7 67.9,224.4 68.3,225 68.7,225.8 69,226.8 69.4,228 69.7,229.2 70.1,230.6 70.4,232.2 70.8,233.8 71.1,235.5 71.5,237.2 71.9,239 72.2,240.8 72.6,242.6 72.9,244.4 73.3,246.2 73.6,248 74,250 74.4,252.2 74.7,254.4 75.1,256.7 75.4,259 75.8,261.3 76.1,263.4 76.5,265.5 76.8,267.4 77.2,269.1 77.6,270.5 77.9,271.9 78.3,273.1 78.6,274.3 79,275.2 79.3,276.1 79.7,276.8 80.1,277.3 80.8,277.7 81.5,277.4 81.8,276.7 82.2,275.5 82.5,274 82.9,272.1 83.3,270 83.6,267.7 84,265.2 84.3,262.6 84.7,260 85,257.3 85.4,254.1 85.8,250.2 86.1,246 86.5,241.6 86.8,237.2 87.2,233 87.5,229.2 87.9,226 88.2,223.6 88.6,222 89,220.6 89.3,219.4 89.7,218.3 90,217.4 90.4,216.5 90.7,215.9 91.1,215.4 91.5,215 92.2,214.4 92.9,213.8 93.6,213.3 94.3,212.9 95,212.6 95.7,212.3 96.4,212.1 97.2,211.9 97.9,211.4 98.6,210.8 98.9,210.4 99.3,209.9 99.6,209.4 100,208.8 100.4,208.2 100.7,207.6 101.1,207 101.4,206.3 101.8,205.6 102.1,204.9 102.5,204.1 102.9,203.2 103.2,202.2 103.6,201.1 103.9,200 104.3,198.8 104.6,197.6 105,196.4 105.3,195.2 105.7,194.1 106.1,193 106.4,191.9 106.8,191 107.1,190.2 107.5,189.4 107.8,188.7 108.2,188 108.5,187.3 108.9,186.8 109.3,186.2 109.6,185.8 110,185.4 110.7,184.8 111.4,184.7 112.1,185.4 112.5,186 112.8,186.8 113.2,187.8 113.5,188.9 113.9,190.1 114.2,191.3 114.6,192.7 115,194.1 115.3,196 115.7,198.2 116,200.7 116.4,203.2 116.7,205.7 117.1,208.1 117.5,210.3 117.8,212.2 118.2,214 118.5,215.7 118.9,217.3 119.2,218.9 119.6,220.3 119.9,221.7 120.3,222.9 120.7,224.1 121,225.3 121.4,226.5 121.7,227.6 122.1,228.7 122.4,229.7 122.8,230.7 123.2,231.5 123.5,232.2 123.9,232.8 124.2,233.3 124.6,233.8 124.9,234.4 125.3,234.9 125.6,235.3 126,235.7 126.4,236.1 127.1,236.6 127.8,236.8 128.5,236.6 129.2,236.1 129.9,235.5 130.3,235.1 130.6,234.6 131,234.2 131.3,233.7 131.7,233.2 132.1,232.5 132.4,231.7 132.8,230.9 133.1,230 133.5,229.1 133.8,228.3 134.2,227.5 134.6,226.7 134.9,226.1 135.3,225.6 135.6,225.2 136,224.9 136.7,224.2 137.4,223.6 138.1,223.2 138.8,222.8 139.5,222.7 140.3,222.6 141,222.5 141.7,222.4 142.4,222.3 143.1,222.2 143.8,222.1 144.5,222 145.2,222 146,221.9 146.7,221.9 147.4,221.8 148.1,221.8 148.8,221.7 149.5,221.7 150.2,221.7 150.9,221.6 151.7,221.6 152.4,221.6 153.1,221.5 153.8,221.5 154.5,221.4 155.2,221.4 155.9,221.4 156.6,221.3 157.4,221.3 158.1,221.2 158.8,221.2 159.5,221.1 160.2,221 160.9,221 161.6,220.9 162.3,220.9 163,220.8 163.8,220.8 164.5,220.8 165.2,220.8 165.9,220.8 166.6,220.9 167.3,221 168,221.1 168.7,221.3 169.5,221.4 170.2,221.6 170.9,221.8 171.6,222 172.3,222.2 173,222.4 173.7,222.6 174.4,222.7 175.2,222.9 175.9,223 176.6,223.2 177.3,223.3 178,223.5 178.7,223.7 179.4,223.8 180.1,224 180.9,224.1 181.6,224.3 182.3,224.4 183,224.5 183.7,224.6 184.4,224.7 185.1,224.8 185.8,224.9 186.6,224.9 187.3,224.9 188,224.9 188.7,224.8 189.4,224.7 190.1,224.6 190.8,224.5 191.5,224.3 192.3,224.1 193,224 193.7,223.8 194.4,223.6 195.1,223.5 195.8,223.4 196.5,223.3 197.2,223.2 198,223.2 198.7,223.2 199.4,223.1 200.1,223.1 200.8,223 201.5,223 202.2,223 202.9,222.9 203.7,222.9 204.4,222.9 205.1,222.9 205.8,222.9 206.5,222.8 207.2,222.8 207.9,222.8 208.6,222.8 209.4,222.8 210.1,222.8 210.8,222.8 211.5,222.8 212.2,222.8 212.9,222.8 213.6,222.7 214.3,222.7 215.1,222.7 215.8,222.7 216.5,222.7 217.2,222.7 217.9,222.7 218.6,222.7 219.3,222.7 220,222.7 220.8,222.7 221.5,222.7 222.2,222.7 222.9,222.7 223.2,222.7" fill="none" stroke="#e42a2a" stroke-width="1.5" stroke-linejoin="round"  />
<path d="M45.5,221.3 45.9,220 46.2,218.8 46.6,217.6 46.9,216.6 47.3,215.6 47.6,214.7 48,213.8 48.3,212.9 48.7,212.1 49.1,211.4 49.4,211 50.1,211 50.8,211.7 51.2,212.2 51.6,212.8 51.9,213.4 52.3,214 52.6,214.5 53,215.1 53.3,215.7 53.7,216.3 54,217 54.4,217.6 54.8,218.3 55.1,218.9 55.5,219.5 55.8,220 56.2,220.5 56.5,221 56.9,221.3 57.3,221.7 58,222.3 58.7,222.9 59.4,223.4 60.1,223.8 60.8,224.2 61.5,224.5 62.2,224.7 63,224.8 63.7,224.9 64.4,224.9 65.1,224.5 65.8,223.7 66.2,223.2 66.5,222.7 66.9,222 67.2,221.4 67.6,220.7 67.9,220 68.3,219.2 68.7,218.4 69,217.4 69.4,216.3 69.7,215.1 70.1,213.7 70.4,212.3 70.8,210.8 71.1,209.2 71.5,207.6 71.9,205.9 72.2,204.2 72.6,202.6 72.9,200.9 73.3,199.2 73.6,197.5 74,195.6 74.4,193.6 74.7,191.5 75.1,189.4 75.4,187.2 75.8,185.1 76.1,183.1 76.5,181.1 76.8,179.3 77.2,177.7 77.6,176.3 77.9,174.9 78.3,173.7 78.6,172.6 79,171.7 79.3,170.9 79.7,170.2 80.1,169.7 80.8,169.3 81.5,169.7 81.8,170.4 82.2,171.7 82.5,173.3 82.9,175.3 83.3,177.6 83.6,180.1 84,182.7 84.3,185.4 84.7,188.1 85,190.8 85.4,194.2 85.8,198.1 86.1,202.3 86.5,206.6 86.8,210.9 87.2,214.8 87.5,218.3 87.9,221.1 88.2,223 88.6,224.5 89,225.9 89.3,227.1 89.7,228.1 90,229 90.4,229.7 90.7,230.2 91.5,230.8 92.2,231.4 92.9,232 93.6,232.4 94.3,232.8 95,233 95.7,233.1 96.4,233.3 97.2,233.5 97.9,234 98.6,234.6 98.9,235.1 99.3,235.6 99.6,236.1 100,236.7 100.4,237.3 100.7,238 101.1,238.6 101.4,239.3 101.8,240.1 102.1,240.8 102.5,241.6 102.9,242.5 103.2,243.5 103.6,244.5 103.9,245.7 104.3,246.8 104.6,248 105,249.1 105.3,250.3 105.7,251.4 106.1,252.5 106.4,253.5 106.8,254.4 107.1,255.2 107.5,256 107.8,256.7 108.2,257.4 108.5,258 108.9,258.6 109.3,259.2 109.6,259.6 110,260 110.7,260.5 111.4,260.7 112.1,260 112.5,259.4 112.8,258.6 113.2,257.6 113.5,256.5 113.9,255.3 114.2,254.1 114.6,252.7 115,251.3 115.3,249.4 115.7,247.2 116,244.7 116.4,242.2 116.7,239.7 117.1,237.3 117.5,235.1 117.8,233.2 118.2,231.4 118.5,229.7 118.9,228.1 119.2,226.5 119.6,225.1 119.9,223.7 120.3,222.5 120.7,221.3 121,220.1 121.4,218.9 121.7,217.7 122.1,216.7 122.4,215.6 122.8,214.7 123.2,213.9 123.5,213.2 123.9,212.6 124.2,212.1 124.6,211.6 124.9,211.1 125.3,210.6 125.6,210.2 126,209.8 126.7,209.2 127.4,208.9 128.1,209 128.9,209.4 129.6,210.1 129.9,210.4 130.3,210.8 130.6,211.3 131,211.8 131.3,212.2 131.7,212.8 132.1,213.4 132.4,214.1 132.8,214.9 133.1,215.7 133.5,216.5 133.8,217.3 134.2,218.1 134.6,218.7 134.9,219.3 135.3,219.8 135.6,220.2 136,220.5 136.7,221.2 137.4,221.8 138.1,222.2 138.8,222.6 139.5,222.7 140.3,222.8 141,222.9 141.7,223 142.4,223.1 143.1,223.2 143.8,223.3 144.5,223.4 145.2,223.4 146,223.5 146.7,223.5 147.4,223.6 148.1,223.6 148.8,223.7 149.5,223.7 150.2,223.7 150.9,223.8 151.7,223.8 152.4,223.8 153.1,223.9 153.8,223.9 154.5,224 155.2,224 155.9,224 156.6,224.1 157.4,224.1 158.1,224.2 158.8,224.2 159.5,224.3 160.2,224.4 160.9,224.4 161.6,224.5 162.3,224.5 163,224.6 163.8,224.6 164.5,224.6 165.2,224.6 165.9,224.6 166.6,224.5 167.3,224.4 168,224.3 168.7,224.1 169.5,224 170.2,223.8 170.9,223.6 171.6,223.4 172.3,223.2 173,223 173.7,222.8 174.4,222.7 175.2,222.5 175.9,222.4 176.6,222.2 177.3,222 178,221.9 178.7,221.7 179.4,221.6 180.1,221.4 180.9,221.2 181.6,221.1 182.3,221 183,220.8 183.7,220.7 184.4,220.6 185.1,220.6 185.8,220.5 186.6,220.5 187.3,220.5 188,220.5 188.7,220.6 189.4,220.7 190.1,220.8 190.8,221 191.5,221.2 192.3,221.3 193,221.5 193.7,221.6 194.4,221.8 195.1,221.9 195.8,222 196.5,222.1 197.2,222.2 198,222.2 198.7,222.2 199.4,222.3 200.1,222.3 200.8,222.4 201.5,222.4 202.2,222.4 202.9,222.4 203.7,222.5 204.4,222.5 205.1,222.5 205.8,222.5 206.5,222.6 207.2,222.6 207.9,222.6 208.6,222.6 209.4,222.6 210.1,222.6 210.8,222.6 211.5,222.6 212.2,222.6 212.9,222.6 213.6,222.7 214.3,222.7 215.1,222.7 215.8,222.7 216.5,222.7 217.2,222.7 217.9,222.7 218.6,222.7 219.3,222.7 220,222.7 220.8,222.7 221.5,222.7 222.2,222.7 222.9,222.7 223.2,222.7" fill="none" stroke="#2626e6" stroke-width="1.5" stroke-linejoin="round"  />
</g>
<rect x="149.5" y="156.6" width="73.6" height="54.5" fill="#fff"/>
<g clip-path="url(#cbi)">
<path d="M149.5,178.7 150,179.2 150.5,179.8 151,180.3 151.5,180.9 152,181.4 152.5,182 153,182.5 153.5,183.1 154,183.7 154.4,184.3 154.9,184.9 155.4,185.6 155.9,186.2 156.4,186.7 156.9,187.3 157.4,187.9 157.9,188.4 158.4,188.9 158.9,189.4 159.4,189.9 159.9,190.3 160.4,190.7 160.8,191.1 161.3,191.5 161.8,191.9 162.3,192.3 162.8,192.6 163.3,192.9 163.8,193.3 164.3,193.6 164.8,193.9 165.3,194.2 165.8,194.5 166.3,194.8 166.8,195.1 167.2,195.4 167.7,195.6 168.2,195.9 168.7,196.2 169.2,196.5 169.7,196.8 170.2,197.1 170.7,197.3 171.4,197.5 172.2,197.4 172.7,197.2 173.2,196.7 173.6,196.2 174.1,195.5 174.6,194.7 175.1,193.8 175.4,193.4 175.6,192.9 175.9,192.4 176.1,191.9 176.4,191.5 176.6,191 176.8,190.5 177.1,190.1 177.3,189.6 177.6,189.1 177.8,188.7 178.1,188.2 178.3,187.7 178.6,187.3 178.8,186.8 179.1,186.3 179.3,185.8 179.6,185.3 179.8,184.9 180,184.4 180.3,183.9 180.5,183.4 180.8,182.9 181,182.3 181.3,181.8 181.5,181.3 181.8,180.8 182,180.3 182.3,179.7 182.5,179.2 182.8,178.7 183,178.2 183.2,177.7 183.5,177.2 183.7,176.7 184,176.3 184.5,175.4 185,174.5 185.5,173.8 186,173.1 186.4,172.6 186.9,172.1 187.4,171.6 187.9,171.2 188.4,170.9 188.9,170.6 189.4,170.3 189.9,170 190.4,169.7 191.1,169.5 191.9,169.3 192.6,169.4 193.3,169.7 193.8,170 194.3,170.4 194.8,170.9 195.3,171.5 195.8,172.2 196.3,173 196.8,174 197,174.4 197.3,174.9 197.5,175.4 197.8,175.9 198,176.4 198.3,176.9 198.5,177.4 198.8,177.9 199.2,178.8 199.7,179.6 200.2,180.2 200.7,180.7 201.2,181.1 201.7,181.3 202.4,181.5 203.2,181.7 203.9,181.7 204.7,181.8 205.4,182 206.1,182.1 206.9,182.2 207.6,182.4 208.4,182.5 209.1,182.7 209.8,182.8 210.6,183 211.3,183.1 212,183.2 212.8,183.3 213.5,183.4 214.3,183.5 215,183.6 215.7,183.7 216.5,183.8 217.2,183.8 218,183.9 218.7,183.9 219.4,184 220.2,184 220.9,184.1 221.6,184.1 222.4,184.2 223.1,184.2 222.4,184.2 221.6,184.2 220.9,184.1 220.2,184.1 219.4,184.1 218.7,184.1 218,184.1 217.2,184.1 216.5,184 215.7,184 215,184 214.3,184 213.5,184 212.8,184 212,184 211.3,184 210.6,184 209.8,184 209.1,184 208.4,184 207.6,184 206.9,184 206.1,184 205.4,184 204.7,184 203.9,184 203.2,184 202.4,184 201.7,184 201,184 200.2,184.1 199.5,184.1 198.8,184.1 198,184.1 197.3,184.2 196.5,184.2 195.8,184.3 195.1,184.3 194.3,184.4 193.6,184.5 192.8,184.6 192.1,184.7 191.4,184.9 190.6,185.1 189.9,185.3 189.2,185.6 188.4,185.9 187.7,186.2 186.9,186.4 186.2,186.7 185.5,186.9 184.7,187.1 184,187.3 183.2,187.5 182.5,187.6 181.8,187.7 181,187.8 180.3,187.8 179.6,187.8 178.8,187.8 178.1,187.8 177.3,187.7 176.6,187.7 175.9,187.6 175.1,187.5 174.4,187.4 173.6,187.3 172.9,187.2 172.2,187.2 171.4,187.1 170.7,187 170,186.9 169.2,186.8 168.5,186.7 167.7,186.6 167,186.5 166.3,186.5 165.5,186.4 164.8,186.3 164,186.2 163.3,186.1 162.6,186 161.8,185.9 161.1,185.8 160.4,185.7 159.6,185.6 158.9,185.5 158.1,185.4 157.4,185.2 156.7,185.1 155.9,185 155.2,184.8 154.4,184.7 153.7,184.5 153,184.3 152.2,184.2 151.5,184 150.8,183.8 150,183.6 149.5,183.5Z" fill="#dce8f6"  />
<path d="M149.5,190.4 150,189.8 150.5,189.3 151,188.7 151.5,188.2 152,187.6 152.5,187.1 153,186.5 153.5,186 154,185.5 154.4,184.9 154.9,184.4 155.4,183.9 155.9,183.4 156.4,182.9 156.9,182.4 157.4,181.9 157.9,181.4 158.4,180.8 158.9,180.3 159.4,179.8 159.9,179.3 160.4,178.7 160.8,178.2 161.3,177.7 161.8,177.2 162.3,176.7 162.8,176.3 163.3,175.8 163.8,175.3 164.3,174.9 164.8,174.5 165.3,174.1 165.8,173.8 166.3,173.4 166.8,173.1 167.2,172.7 167.7,172.4 168.2,172.2 168.7,171.9 169.2,171.6 169.7,171.3 170.2,171.1 170.9,170.9 171.7,170.8 172.4,171.1 172.9,171.4 173.4,172 173.9,172.6 174.4,173.3 174.9,174.2 175.4,175.1 175.6,175.5 175.9,176 176.1,176.5 176.4,176.9 176.6,177.4 176.8,177.9 177.1,178.3 177.3,178.8 177.6,179.3 177.8,179.7 178.1,180.2 178.3,180.7 178.6,181.1 178.8,181.6 179.1,182.1 179.3,182.6 179.6,183 179.8,183.5 180,184 180.3,184.5 180.5,185 180.8,185.5 181,186.1 181.3,186.6 181.5,187.1 181.8,187.6 182,188.1 182.3,188.7 182.5,189.2 182.8,189.7 183,190.2 183.2,190.7 183.5,191.2 183.7,191.7 184,192.1 184.5,193 185,193.9 185.5,194.6 186,195.2 186.4,195.8 186.9,196.3 187.4,196.8 187.9,197.2 188.4,197.5 188.9,197.8 189.4,198.1 189.9,198.4 190.4,198.7 191.1,199 191.9,199.1 192.6,199.1 193.3,198.9 193.8,198.6 194.3,198.2 194.8,197.8 195.3,197.3 195.8,196.7 196.3,196.1 196.8,195.4 197.3,194.6 197.8,193.9 198.3,193.1 198.8,192.3 199.2,191.5 199.7,190.8 200.2,190.1 200.7,189.5 201.2,189 201.7,188.6 202.2,188.3 202.7,188 203.2,187.7 203.9,187.4 204.7,187.2 205.4,187.1 206.1,186.9 206.9,186.8 207.6,186.7 208.4,186.5 209.1,186.4 209.8,186.2 210.6,186.1 211.3,185.9 212,185.8 212.8,185.6 213.5,185.5 214.3,185.4 215,185.2 215.7,185.1 216.5,185 217.2,184.9 218,184.8 218.7,184.7 219.4,184.6 220.2,184.5 220.9,184.5 221.6,184.4 222.4,184.3 223.1,184.2 222.4,184.1 221.6,184.1 220.9,184 220.2,184 219.4,183.9 218.7,183.9 218,183.8 217.2,183.8 216.5,183.8 215.7,183.8 215,183.8 214.3,183.8 213.5,183.8 212.8,183.9 212,183.9 211.3,184 210.6,184 209.8,184 209.1,184.1 208.4,184.1 207.6,184.2 206.9,184.2 206.1,184.2 205.4,184.2 204.7,184.2 203.9,184.2 203.2,184.1 202.4,184.1 201.7,184 201,184 200.2,183.9 199.5,183.8 198.8,183.7 198,183.7 197.3,183.6 196.5,183.5 195.8,183.4 195.1,183.2 194.3,183.1 193.6,183 192.8,182.8 192.1,182.7 191.4,182.5 190.6,182.3 189.9,182.1 189.2,181.9 188.4,181.6 187.7,181.4 186.9,181.1 186.2,180.8 185.5,180.6 184.7,180.3 184,180.1 183.2,179.8 182.5,179.6 181.8,179.5 181,179.4 180.3,179.3 179.6,179.4 178.8,179.5 178.1,179.7 177.3,179.9 176.6,180.2 175.9,180.5 175.1,180.7 174.4,181 173.6,181.3 172.9,181.5 172.2,181.6 171.4,181.7 170.7,181.8 170,181.9 169.2,182 168.5,182 167.7,182 167,182.1 166.3,182.1 165.5,182.1 164.8,182.1 164,182.2 163.3,182.2 162.6,182.3 161.8,182.3 161.1,182.4 160.4,182.5 159.6,182.5 158.9,182.6 158.1,182.7 157.4,182.7 156.7,182.8 155.9,182.8 155.2,182.8 154.4,182.9 153.7,182.9 153,182.9 152.2,182.9 151.5,182.9 150.8,182.8 150,182.8 149.5,182.8Z" fill="#fbf4d8"  />
<path d="M149.5,184.2 150.3,184.2 151,184.2 151.7,184.2 152.5,184.3 153.2,184.3 154,184.3 154.7,184.3 155.4,184.3 156.2,184.3 156.9,184.4 157.6,184.4 158.4,184.4 159.1,184.4 159.9,184.4 160.6,184.4 161.3,184.4 162.1,184.4 162.8,184.5 163.6,184.5 164.3,184.5 165,184.5 165.8,184.5 166.5,184.5 167.2,184.5 168,184.5 168.7,184.5 169.5,184.5 170.2,184.5 170.9,184.5 171.7,184.5 172.4,184.5 173.2,184.5 173.9,184.6 174.6,184.6 175.4,184.6 176.1,184.6 176.8,184.6 177.6,184.6 178.3,184.6 179.1,184.6 179.8,184.6 180.5,184.6 181.3,184.6 182,184.6 182.8,184.6 183.5,184.6 184.2,184.6 185,184.6 185.7,184.6 186.4,184.6 187.2,184.6 187.9,184.6 188.7,184.6 189.4,184.6 190.1,184.6 190.9,184.6 191.6,184.6 192.4,184.6 193.1,184.6 193.8,184.6 194.6,184.6 195.3,184.6 196,184.6 196.8,184.6 197.5,184.6 198.3,184.6 199,184.6 199.7,184.6 200.5,184.6 201.2,184.6 202,184.5 202.7,184.5 203.4,184.5 204.2,184.5 204.9,184.5 205.6,184.5 206.4,184.5 207.1,184.5 207.9,184.5 208.6,184.5 209.3,184.4 210.1,184.4 210.8,184.4 211.6,184.4 212.3,184.4 213,184.4 213.8,184.4 214.5,184.4 215.2,184.3 216,184.3 216.7,184.3 217.5,184.3 218.2,184.3 218.9,184.3 219.7,184.3 220.4,184.3 221.2,184.2 221.9,184.2 222.6,184.2 223.1,184.2" fill="none" stroke="#f3d2b6" stroke-width="1.1" stroke-linejoin="round"  />
<path d="M149.5,183.9 150.3,183.9 151,184 151.7,184 152.5,184 153.2,184 154,184 154.7,184 155.4,184.1 156.2,184.1 156.9,184.1 157.6,184.1 158.4,184.1 159.1,184.1 159.9,184.1 160.6,184.1 161.3,184.2 162.1,184.2 162.8,184.2 163.6,184.2 164.3,184.2 165,184.2 165.8,184.2 166.5,184.2 167.2,184.2 168,184.2 168.7,184.2 169.5,184.2 170.2,184.3 170.9,184.3 171.7,184.3 172.4,184.3 173.2,184.3 173.9,184.3 174.6,184.3 175.4,184.3 176.1,184.3 176.8,184.3 177.6,184.3 178.3,184.3 179.1,184.3 179.8,184.3 180.5,184.3 181.3,184.3 182,184.3 182.8,184.3 183.5,184.3 184.2,184.3 185,184.3 185.7,184.3 186.4,184.3 187.2,184.3 187.9,184.3 188.7,184.3 189.4,184.3 190.1,184.3 190.9,184.3 191.6,184.3 192.4,184.3 193.1,184.3 193.8,184.3 194.6,184.3 195.3,184.3 196,184.3 196.8,184.3 197.5,184.3 198.3,184.3 199,184.3 199.7,184.3 200.5,184.3 201.2,184.3 202,184.3 202.7,184.3 203.4,184.3 204.2,184.2 204.9,184.2 205.6,184.2 206.4,184.2 207.1,184.2 207.9,184.2 208.6,184.2 209.3,184.2 210.1,184.2 210.8,184.1 211.6,184.1 212.3,184.1 213,184.1 213.8,184.1 214.5,184.1 215.2,184.1 216,184.1 216.7,184 217.5,184 218.2,184 218.9,184 219.7,184 220.4,184 221.2,184 221.9,183.9 222.6,183.9 223.1,183.9" fill="none" stroke="#cfe2f1" stroke-width="1.1" stroke-linejoin="round"  />
<path d="M149.5,182.8 150.3,182.8 151,182.9 151.7,182.9 152.5,182.9 153.2,182.9 154,182.9 154.7,182.9 155.4,182.8 156.2,182.8 156.9,182.7 157.6,182.7 158.4,182.6 159.1,182.6 159.9,182.5 160.6,182.4 161.3,182.4 162.1,182.3 162.8,182.3 163.6,182.2 164.3,182.2 165,182.1 165.8,182.1 166.5,182.1 167.2,182.1 168,182 168.7,182 169.5,182 170.2,181.9 170.9,181.8 171.7,181.7 172.4,181.6 173.2,181.4 173.9,181.2 174.6,180.9 175.4,180.6 176.1,180.4 176.8,180.1 177.6,179.8 178.3,179.6 179.1,179.4 179.8,179.4 180.5,179.4 181.3,179.4 182,179.5 182.8,179.7 183.5,179.9 184.2,180.1 185,180.4 185.7,180.6 186.4,180.9 187.2,181.2 187.9,181.4 188.7,181.7 189.4,182 190.1,182.2 190.9,182.4 191.6,182.6 192.4,182.7 193.1,182.9 193.8,183 194.6,183.2 195.3,183.3 196,183.4 196.8,183.5 197.5,183.6 198.3,183.7 199,183.8 199.7,183.9 200.5,183.9 201.2,184 202,184.1 202.7,184.1 203.4,184.1 204.2,184.2 204.9,184.2 205.6,184.2 206.4,184.2 207.1,184.2 207.9,184.2 208.6,184.1 209.3,184.1 210.1,184 210.8,184 211.6,183.9 212.3,183.9 213,183.9 213.8,183.8 214.5,183.8 215.2,183.8 216,183.8 216.7,183.8 217.5,183.8 218.2,183.8 218.9,183.9 219.7,183.9 220.4,184 221.2,184 221.9,184.1 222.6,184.2 223.1,184.2" fill="none" stroke="#ee8a8a" stroke-width="1.0" stroke-linejoin="round"  />
<path d="M149.5,183.5 150.3,183.7 151,183.9 151.7,184.1 152.5,184.2 153.2,184.4 154,184.6 154.7,184.7 155.4,184.9 156.2,185 156.9,185.2 157.6,185.3 158.4,185.4 159.1,185.5 159.9,185.6 160.6,185.7 161.3,185.8 162.1,185.9 162.8,186 163.6,186.1 164.3,186.2 165,186.3 165.8,186.4 166.5,186.5 167.2,186.6 168,186.7 168.7,186.7 169.5,186.8 170.2,186.9 170.9,187 171.7,187.1 172.4,187.2 173.2,187.3 173.9,187.4 174.6,187.4 175.4,187.5 176.1,187.6 176.8,187.7 177.6,187.7 178.3,187.8 179.1,187.8 179.8,187.8 180.5,187.8 181.3,187.7 182,187.7 182.8,187.6 183.5,187.4 184.2,187.3 185,187.1 185.7,186.9 186.4,186.6 187.2,186.3 187.9,186.1 188.7,185.8 189.4,185.5 190.1,185.3 190.9,185 191.6,184.8 192.4,184.7 193.1,184.5 193.8,184.4 194.6,184.4 195.3,184.3 196,184.2 196.8,184.2 197.5,184.2 198.3,184.1 199,184.1 199.7,184.1 200.5,184.1 201.2,184 202,184 202.7,184 203.4,184 204.2,184 204.9,184 205.6,184 206.4,184 207.1,184 207.9,184 208.6,184 209.3,184 210.1,184 210.8,184 211.6,184 212.3,184 213,184 213.8,184 214.5,184 215.2,184 216,184 216.7,184.1 217.5,184.1 218.2,184.1 218.9,184.1 219.7,184.1 220.4,184.1 221.2,184.2 221.9,184.2 222.6,184.2 223.1,184.2" fill="none" stroke="#93bde0" stroke-width="1.1" stroke-linejoin="round"  />
<path d="M149.5,190.4 150,189.8 150.5,189.3 151,188.7 151.5,188.2 152,187.6 152.5,187.1 153,186.5 153.5,186 154,185.5 154.4,184.9 154.9,184.4 155.4,183.9 155.9,183.4 156.4,182.9 156.9,182.4 157.4,181.9 157.9,181.4 158.4,180.8 158.9,180.3 159.4,179.8 159.9,179.3 160.4,178.7 160.8,178.2 161.3,177.7 161.8,177.2 162.3,176.7 162.8,176.3 163.3,175.8 163.8,175.3 164.3,174.9 164.8,174.5 165.3,174.1 165.8,173.8 166.3,173.4 166.8,173.1 167.2,172.7 167.7,172.4 168.2,172.2 168.7,171.9 169.2,171.6 169.7,171.3 170.2,171.1 170.9,170.9 171.7,170.8 172.4,171.1 172.9,171.4 173.4,172 173.9,172.6 174.4,173.3 174.9,174.2 175.4,175.1 175.6,175.5 175.9,176 176.1,176.5 176.4,176.9 176.6,177.4 176.8,177.9 177.1,178.3 177.3,178.8 177.6,179.3 177.8,179.7 178.1,180.2 178.3,180.7 178.6,181.1 178.8,181.6 179.1,182.1 179.3,182.6 179.6,183 179.8,183.5 180,184 180.3,184.5 180.5,185 180.8,185.5 181,186.1 181.3,186.6 181.5,187.1 181.8,187.6 182,188.1 182.3,188.7 182.5,189.2 182.8,189.7 183,190.2 183.2,190.7 183.5,191.2 183.7,191.7 184,192.1 184.5,193 185,193.9 185.5,194.6 186,195.2 186.4,195.8 186.9,196.3 187.4,196.8 187.9,197.2 188.4,197.5 188.9,197.8 189.4,198.1 189.9,198.4 190.4,198.7 191.1,199 191.9,199.1 192.6,199.1 193.3,198.9 193.8,198.6 194.3,198.2 194.8,197.8 195.3,197.3 195.8,196.7 196.3,196.1 196.8,195.4 197.3,194.6 197.8,193.9 198.3,193.1 198.8,192.3 199.2,191.5 199.7,190.8 200.2,190.1 200.7,189.5 201.2,189 201.7,188.6 202.2,188.3 202.7,188 203.2,187.7 203.9,187.4 204.7,187.2 205.4,187.1 206.1,186.9 206.9,186.8 207.6,186.7 208.4,186.5 209.1,186.4 209.8,186.2 210.6,186.1 211.3,185.9 212,185.8 212.8,185.6 213.5,185.5 214.3,185.4 215,185.2 215.7,185.1 216.5,185 217.2,184.9 218,184.8 218.7,184.7 219.4,184.6 220.2,184.5 220.9,184.5 221.6,184.4 222.4,184.3 223.1,184.2" fill="none" stroke="#e42a2a" stroke-width="1.3" stroke-linejoin="round"  />
<path d="M149.5,178.7 150,179.2 150.5,179.8 151,180.3 151.5,180.9 152,181.4 152.5,182 153,182.5 153.5,183.1 154,183.7 154.4,184.3 154.9,184.9 155.4,185.6 155.9,186.2 156.4,186.7 156.9,187.3 157.4,187.9 157.9,188.4 158.4,188.9 158.9,189.4 159.4,189.9 159.9,190.3 160.4,190.7 160.8,191.1 161.3,191.5 161.8,191.9 162.3,192.3 162.8,192.6 163.3,192.9 163.8,193.3 164.3,193.6 164.8,193.9 165.3,194.2 165.8,194.5 166.3,194.8 166.8,195.1 167.2,195.4 167.7,195.6 168.2,195.9 168.7,196.2 169.2,196.5 169.7,196.8 170.2,197.1 170.7,197.3 171.4,197.5 172.2,197.4 172.7,197.2 173.2,196.7 173.6,196.2 174.1,195.5 174.6,194.7 175.1,193.8 175.4,193.4 175.6,192.9 175.9,192.4 176.1,191.9 176.4,191.5 176.6,191 176.8,190.5 177.1,190.1 177.3,189.6 177.6,189.1 177.8,188.7 178.1,188.2 178.3,187.7 178.6,187.3 178.8,186.8 179.1,186.3 179.3,185.8 179.6,185.3 179.8,184.9 180,184.4 180.3,183.9 180.5,183.4 180.8,182.9 181,182.3 181.3,181.8 181.5,181.3 181.8,180.8 182,180.3 182.3,179.7 182.5,179.2 182.8,178.7 183,178.2 183.2,177.7 183.5,177.2 183.7,176.7 184,176.3 184.5,175.4 185,174.5 185.5,173.8 186,173.1 186.4,172.6 186.9,172.1 187.4,171.6 187.9,171.2 188.4,170.9 188.9,170.6 189.4,170.3 189.9,170 190.4,169.7 191.1,169.5 191.9,169.3 192.6,169.4 193.3,169.7 193.8,170 194.3,170.4 194.8,170.9 195.3,171.5 195.8,172.2 196.3,173 196.8,174 197,174.4 197.3,174.9 197.5,175.4 197.8,175.9 198,176.4 198.3,176.9 198.5,177.4 198.8,177.9 199.2,178.8 199.7,179.6 200.2,180.2 200.7,180.7 201.2,181.1 201.7,181.3 202.4,181.5 203.2,181.7 203.9,181.7 204.7,181.8 205.4,182 206.1,182.1 206.9,182.2 207.6,182.4 208.4,182.5 209.1,182.7 209.8,182.8 210.6,183 211.3,183.1 212,183.2 212.8,183.3 213.5,183.4 214.3,183.5 215,183.6 215.7,183.7 216.5,183.8 217.2,183.8 218,183.9 218.7,183.9 219.4,184 220.2,184 220.9,184.1 221.6,184.1 222.4,184.2 223.1,184.2" fill="none" stroke="#2626e6" stroke-width="1.3" stroke-linejoin="round"  />
</g>
<rect x="149.5" y="156.6" width="73.6" height="54.5" fill="none" stroke="#000" stroke-width="1.0"/>
<line x1="149.5" y1="162.2" x2="151" y2="162.2" stroke="#000" stroke-width="0.6"/>
<text x="147.7" y="164.1" font-size="5.4" text-anchor="end">16</text>
<line x1="149.5" y1="173.2" x2="151" y2="173.2" stroke="#000" stroke-width="0.6"/>
<text x="147.7" y="175.1" font-size="5.4" text-anchor="end">8</text>
<line x1="149.5" y1="184.2" x2="151" y2="184.2" stroke="#000" stroke-width="0.6"/>
<text x="147.7" y="186.1" font-size="5.4" text-anchor="end">0</text>
<line x1="149.5" y1="195.2" x2="151" y2="195.2" stroke="#000" stroke-width="0.6"/>
<text x="147.7" y="197.1" font-size="5.4" text-anchor="end">-8</text>
<line x1="149.5" y1="206.2" x2="151" y2="206.2" stroke="#000" stroke-width="0.6"/>
<text x="147.7" y="208.1" font-size="5.4" text-anchor="end">-16</text>
<line x1="164.7" y1="211.1" x2="164.7" y2="209.6" stroke="#000" stroke-width="0.6"/>
<text x="164.7" y="217.2" font-size="5.6" text-anchor="middle">420</text>
<line x1="192.3" y1="211.1" x2="192.3" y2="209.6" stroke="#000" stroke-width="0.6"/>
<text x="192.3" y="217.2" font-size="5.6" text-anchor="middle">480</text>
<line x1="219.9" y1="211.1" x2="219.9" y2="209.6" stroke="#000" stroke-width="0.6"/>
<text x="219.9" y="217.2" font-size="5.6" text-anchor="middle">540</text>
<line x1="148.9" y1="235.5" x2="166" y2="235.5" stroke="#2626e6" stroke-width="1.6"/>
<text x="168.2" y="238.1" font-size="7.3" fill="#222"><tspan font-style="italic">R</tspan>-C[4]B@2ThT</text>
<line x1="148.9" y1="245" x2="166" y2="245" stroke="#93bde0" stroke-width="1.6"/>
<text x="168.2" y="247.6" font-size="7.3" fill="#222"><tspan font-style="italic">R</tspan>-C[4]B@ThT</text>
<line x1="148.9" y1="254.2" x2="166" y2="254.2" stroke="#cfe2f1" stroke-width="1.6"/>
<text x="168.2" y="256.8" font-size="7.3" fill="#222"><tspan font-style="italic">R</tspan>-C[4]B</text>
<line x1="148.9" y1="263.3" x2="166" y2="263.3" stroke="#f3d2b6" stroke-width="1.6"/>
<text x="168.2" y="265.9" font-size="7.3" fill="#222"><tspan font-style="italic">S</tspan>-C[4]B</text>
<line x1="148.9" y1="272.4" x2="166" y2="272.4" stroke="#ee8a8a" stroke-width="1.6"/>
<text x="168.2" y="275" font-size="7.3" fill="#222"><tspan font-style="italic">S</tspan>-C[4]B@ThT</text>
<line x1="148.9" y1="281.5" x2="166" y2="281.5" stroke="#e42a2a" stroke-width="1.6"/>
<text x="168.2" y="284.1" font-size="7.3" fill="#222"><tspan font-style="italic">S</tspan>-C[4]B@2ThT</text>
<g clip-path="url(#cc)">
<path d="M278.1,287.5 278.5,287.1 278.8,286.7 279.2,286.3 279.9,285.6 280.6,285 281.3,284.3 281.7,284 282,283.6 282.4,283.1 282.8,282.7 283.1,282.2 283.5,281.8 283.8,281.3 284.2,280.8 284.5,280.4 284.9,280 285.3,279.6 285.6,279.1 286,278.6 286.3,277.9 286.7,277.2 287.1,276.3 287.4,275.3 287.8,274.2 288.1,273.1 288.5,271.8 288.8,270.5 289.2,269 289.6,267.4 289.9,265.5 290.3,263.5 290.6,261.4 291,259.2 291.4,257 291.7,254.5 292.1,251.9 292.4,249.1 292.8,246.2 293.1,243.2 293.5,240.3 293.9,237.3 294.2,234.4 294.6,231.4 294.9,228.4 295.3,225.4 295.6,222.3 296,219.3 296.4,216.3 296.7,213.3 297.1,210.3 297.4,207.4 297.8,204.4 298.2,201.4 298.5,198.5 298.9,195.7 299.2,192.8 299.6,189.7 299.9,186.7 300.3,183.8 300.7,181 301,178.5 301.4,176.3 301.7,174.5 302.1,172.8 302.5,171.2 302.8,169.8 303.2,168.6 303.5,167.6 303.9,166.9 304.2,166.3 304.6,165.7 305,165.2 305.3,164.8 306,164.3 306.7,164.5 307.1,164.8 307.5,165.3 307.8,165.9 308.2,166.5 308.5,167.1 308.9,167.7 309.3,168.2 309.6,168.8 310,169.5 310.3,170.1 310.7,170.8 311,171.5 311.4,172.2 311.8,172.9 312.1,173.7 312.5,174.5 312.8,175.3 313.2,176.1 313.6,177 313.9,177.9 314.3,178.8 314.6,179.8 315,180.9 315.3,181.9 315.7,183 316.1,184.1 316.4,185.2 316.8,186.3 317.1,187.5 317.5,188.6 317.9,189.7 318.2,190.8 318.6,191.9 318.9,193 319.3,194 319.6,195.1 320,196.1 320.4,197 320.7,198 321.1,199 321.4,199.9 321.8,200.9 322.1,201.8 322.5,202.7 322.9,203.7 323.2,204.6 323.6,205.5 323.9,206.4 324.3,207.4 324.7,208.3 325,209.2 325.4,210.1 325.7,211 326.1,211.8 326.4,212.7 326.8,213.6 327.2,214.5 327.5,215.3 327.9,216.2 328.2,217 328.6,217.9 329,218.7 329.3,219.5 329.7,220.4 330,221.2 330.4,222 330.7,222.8 331.1,223.6 331.5,224.4 331.8,225.2 332.2,226 332.5,226.8 332.9,227.6 333.2,228.4 333.6,229.2 334,229.9 334.3,230.7 334.7,231.5 335,232.2 335.4,233 335.8,233.8 336.1,234.5 336.5,235.3 336.8,236.1 337.2,236.8 337.5,237.6 337.9,238.3 338.3,239.1 338.6,239.9 339,240.7 339.3,241.4 339.7,242.2 340.1,243 340.4,243.8 340.8,244.6 341.1,245.3 341.5,246.1 341.8,246.9 342.2,247.7 342.6,248.4 342.9,249.2 343.3,249.9 343.6,250.6 344,251.4 344.4,252.1 344.7,252.8 345.1,253.4 345.4,254.1 345.8,254.8 346.1,255.4 346.5,256 346.9,256.6 347.2,257.2 347.6,257.7 347.9,258.3 348.3,258.8 348.6,259.3 349,259.8 349.4,260.3 349.7,260.8 350.1,261.3 350.4,261.8 350.8,262.3 351.2,262.8 351.5,263.3 351.9,263.7 352.2,264.2 352.6,264.6 352.9,265 353.3,265.5 353.7,265.9 354,266.3 354.4,266.7 354.7,267.1 355.1,267.5 355.5,267.9 355.8,268.2 356.2,268.6 356.5,268.9 357.2,269.6 358,270.2 358.7,270.9 359.4,271.5 360.1,272.1 360.8,272.6 361.5,273.2 362.3,273.8 363,274.3 363.7,274.8 364.4,275.3 365.1,275.8 365.8,276.2 366.6,276.7 367.3,277 368,277.4 368.7,277.7 369.4,278 370.1,278.3 370.9,278.6 371.6,278.8 372.3,279 373,279.2 373.7,279.4 374.4,279.6 375.1,279.8 375.9,279.9 376.6,280.1 377.3,280.2 378,280.4 378.7,280.5 379.4,280.7 380.2,280.8 380.9,280.9 381.6,281.1 382.3,281.2 383,281.3 383.7,281.4 384.5,281.5 385.2,281.7 385.9,281.8 386.6,281.9 387.3,282 388,282.1 388.8,282.2 389.5,282.3 390.2,282.4 390.9,282.5 391.6,282.6 392.3,282.7 393.1,282.8 393.8,282.9 394.5,283 395.2,283.1 395.9,283.1 396.6,283.2 397.4,283.3 398.1,283.4 398.8,283.5 399.5,283.6 400.2,283.7 400.9,283.7 401.7,283.8 402.4,283.9 403.1,284 403.8,284.1 404.5,284.2 405.2,284.2 405.9,284.3 406.7,284.4 407.4,284.5 408.1,284.5 408.8,284.6 409.5,284.7 410.2,284.8 411,284.8 411.7,284.9 412.4,285 413.1,285 413.8,285.1 414.5,285.2 415.3,285.2 416,285.3 416.7,285.3 417.4,285.4 418.1,285.4 418.8,285.5 419.6,285.5 420.3,285.6 421,285.6 421.7,285.7 422.4,285.7 423.1,285.7 423.9,285.8 424.6,285.8 425.3,285.9 426,285.9 426.7,286 427.4,286 428.2,286 428.9,286.1 429.6,286.1 430.3,286.2 431,286.2 431.7,286.2 432.4,286.3 433.2,286.3 433.9,286.3 434.6,286.4 435.3,286.4 436,286.5 436.7,286.5 437.5,286.5 438.2,286.6 438.9,286.6 439.6,286.6 440.3,286.6 441,286.7 441.8,286.7 442.5,286.7 443.2,286.8 443.9,286.8 444.6,286.8 445.3,286.8 446.1,286.9 446.8,286.9 447.5,286.9 448.2,286.9 448.9,286.9 449.6,287 450.4,287 451.1,287 451.8,287 452.5,287 453.2,287 453.9,287 454.7,287.1 455.4,287.1 456.1,287.1 456.8,287.1 456.8,288.1 456.1,288.1 455.4,288.1 454.7,288.1 453.9,288.1 453.2,288.1 452.5,288.1 451.8,288.1 451.1,288.1 450.4,288.1 449.6,288.1 448.9,288.1 448.2,288.1 447.5,288.1 446.8,288.1 446.1,288.1 445.3,288.1 444.6,288.1 443.9,288.1 443.2,288.1 442.5,288.1 441.8,288.1 441,288.1 440.3,288.1 439.6,288.1 438.9,288.1 438.2,288.1 437.5,288.1 436.7,288.1 436,288.1 435.3,288.1 434.6,288.1 433.9,288.1 433.2,288.1 432.4,288.1 431.7,288.1 431,288.1 430.3,288.1 429.6,288.1 428.9,288.1 428.2,288.1 427.4,288.1 426.7,288.1 426,288.1 425.3,288.1 424.6,288.1 423.9,288.1 423.1,288.1 422.4,288.1 421.7,288.1 421,288.1 420.3,288.1 419.6,288.1 418.8,288.1 418.1,288.1 417.4,288.1 416.7,288.1 416,288.1 415.3,288.1 414.5,288.1 413.8,288.1 413.1,288.1 412.4,288.1 411.7,288.1 411,288.1 410.2,288.1 409.5,288.1 408.8,288.1 408.1,288.1 407.4,288.1 406.7,288.1 405.9,288.1 405.2,288.1 404.5,288.1 403.8,288.1 403.1,288.1 402.4,288.1 401.7,288.1 400.9,288.1 400.2,288.1 399.5,288.1 398.8,288.1 398.1,288.1 397.4,288.1 396.6,288.1 395.9,288.1 395.2,288.1 394.5,288.1 393.8,288.1 393.1,288.1 392.3,288.1 391.6,288.1 390.9,288.1 390.2,288.1 389.5,288.1 388.8,288.1 388,288.1 387.3,288.1 386.6,288.1 385.9,288.1 385.2,288.1 384.5,288.1 383.7,288.1 383,288.1 382.3,288.1 381.6,288.1 380.9,288.1 380.2,288.1 379.4,288.1 378.7,288.1 378,288.1 377.3,288.1 376.6,288.1 375.9,288.1 375.1,288.1 374.4,288.1 373.7,288.1 373,288.1 372.3,288.1 371.6,288.1 370.9,288.1 370.1,288.1 369.4,288.1 368.7,288.1 368,288.1 367.3,288.1 366.6,288.1 365.8,288.1 365.1,288.1 364.4,288.1 363.7,288.1 363,288.1 362.3,288.1 361.5,288.1 360.8,288.1 360.1,288.1 359.4,288.1 358.7,288.1 358,288.1 357.2,288.1 356.5,288.1 355.8,288.1 355.1,288.1 354.4,288.1 353.7,288.1 352.9,288.1 352.2,288.1 351.5,288.1 350.8,288.1 350.1,288.1 349.4,288.1 348.6,288.1 347.9,288.1 347.2,288.1 346.5,288.1 345.8,288.1 345.1,288.1 344.4,288.1 343.6,288.1 342.9,288.1 342.2,288.1 341.5,288.1 340.8,288.1 340.1,288.1 339.3,288.1 338.6,288.1 337.9,288.1 337.2,288.1 336.5,288.1 335.8,288.1 335,288.1 334.3,288.1 333.6,288.1 332.9,288.1 332.2,288.1 331.5,288.1 330.7,288.1 330,288.1 329.3,288.1 328.6,288.1 327.9,288.1 327.2,288.1 326.4,288.1 325.7,288.1 325,288.1 324.3,288.1 323.6,288.1 322.9,288.1 322.1,288.1 321.4,288.1 320.7,288.1 320,288.1 319.3,288.1 318.6,288.1 317.9,288.1 317.1,288.1 316.4,288.1 315.7,288.1 315,288.1 314.3,288.1 313.6,288.1 312.8,288.1 312.1,288.1 311.4,288.1 310.7,288.1 310,288.1 309.3,288.1 308.5,288.1 307.8,288.1 307.1,288.1 306.4,288.1 305.7,288.1 305,288.1 304.2,288.1 303.5,288.1 302.8,288.1 302.1,288.1 301.4,288.1 300.7,288.1 299.9,288.1 299.2,288.1 298.5,288.1 297.8,288.1 297.1,288.1 296.4,288.1 295.6,288.1 294.9,288.1 294.2,288.1 293.5,288.1 292.8,288.1 292.1,288.1 291.4,288.1 290.6,288.1 289.9,288.1 289.2,288.1 288.5,288.1 287.8,288.1 287.1,288.1 286.3,288.1 285.6,288.1 284.9,288.1 284.2,288.1 283.5,288.1 282.8,288.1 282,288.1 281.3,288.1 280.6,288.1 279.9,288.1 279.2,288.1 278.5,288.1 278.1,288.1Z" fill="url(#gG)"  />
<path d="M278.1,288.1 278.8,288.1 279.5,288.1 280.2,288.1 281,288 281.7,288 282.4,287.9 283.1,287.9 283.8,287.8 284.5,287.8 285.3,287.7 286,287.6 286.7,287.5 287.4,287.4 288.1,287.2 288.8,287 289.6,286.9 290.3,286.7 291,286.5 291.7,286.2 292.4,286 293.1,285.8 293.9,285.5 294.6,285.2 295.3,284.9 296,284.6 296.7,284.3 297.4,283.9 298.2,283.6 298.9,283.2 299.6,282.9 300.3,282.6 301,282.3 301.7,282 302.5,281.7 303.2,281.4 303.9,281.1 304.6,280.8 305.3,280.5 306,280.1 306.7,279.8 307.5,279.5 308.2,279.2 308.9,278.9 309.6,278.6 310.3,278.2 311,277.9 311.8,277.6 312.5,277.3 313.2,277 313.9,276.7 314.6,276.5 315.3,276.2 316.1,275.9 316.8,275.7 317.5,275.4 318.2,275.2 318.9,274.9 319.6,274.7 320.4,274.5 321.1,274.3 321.8,274.1 322.5,273.9 323.2,273.7 323.9,273.5 324.7,273.4 325.4,273.2 326.1,273 326.8,272.9 327.5,272.8 328.2,272.6 329,272.5 329.7,272.4 330.4,272.3 331.1,272.2 331.8,272.1 332.5,272 333.2,271.9 334,271.8 334.7,271.7 335.4,271.6 336.1,271.5 336.8,271.4 337.5,271.3 338.3,271.2 339,271.1 339.7,271 340.4,271 341.1,270.9 341.8,270.8 342.6,270.8 343.3,270.8 344,270.7 344.7,270.7 345.4,270.7 346.1,270.6 346.9,270.6 347.6,270.6 348.3,270.6 349,270.6 349.7,270.6 350.4,270.6 351.2,270.6 351.9,270.6 352.6,270.6 353.3,270.7 354,270.7 354.7,270.7 355.5,270.7 356.2,270.8 356.9,270.8 357.6,270.8 358.3,270.9 359,271 359.8,271.1 360.5,271.2 361.2,271.3 361.9,271.4 362.6,271.5 363.3,271.5 364,271.6 364.8,271.7 365.5,271.8 366.2,271.9 366.9,272 367.6,272.1 368.3,272.2 369.1,272.3 369.8,272.5 370.5,272.6 371.2,272.7 371.9,272.8 372.6,272.9 373.4,273 374.1,273.1 374.8,273.3 375.5,273.4 376.2,273.5 376.9,273.6 377.7,273.8 378.4,273.9 379.1,274 379.8,274.1 380.5,274.2 381.2,274.4 382,274.5 382.7,274.6 383.4,274.7 384.1,274.8 384.8,275 385.5,275.1 386.3,275.2 387,275.3 387.7,275.4 388.4,275.5 389.1,275.6 389.8,275.8 390.5,275.9 391.3,276 392,276.1 392.7,276.2 393.4,276.3 394.1,276.4 394.8,276.5 395.6,276.6 396.3,276.7 397,276.8 397.7,276.9 398.4,277 399.1,277.1 399.9,277.1 400.6,277.2 401.3,277.3 402,277.4 402.7,277.5 403.4,277.6 404.2,277.7 404.9,277.8 405.6,277.9 406.3,278 407,278.1 407.7,278.2 408.5,278.3 409.2,278.4 409.9,278.5 410.6,278.6 411.3,278.7 412,278.9 412.8,279 413.5,279.1 414.2,279.2 414.9,279.3 415.6,279.5 416.3,279.6 417,279.7 417.8,279.9 418.5,280 419.2,280.2 419.9,280.3 420.6,280.4 421.3,280.6 422.1,280.7 422.8,280.9 423.5,281 424.2,281.2 424.9,281.3 425.6,281.4 426.4,281.6 427.1,281.7 427.8,281.8 428.5,282 429.2,282.1 429.9,282.2 430.7,282.3 431.4,282.5 432.1,282.6 432.8,282.7 433.5,282.8 434.2,283 435,283.1 435.7,283.2 436.4,283.3 437.1,283.5 437.8,283.6 438.5,283.7 439.3,283.8 440,283.9 440.7,284 441.4,284.1 442.1,284.3 442.8,284.4 443.5,284.5 444.3,284.6 445,284.7 445.7,284.8 446.4,284.9 447.1,285 447.8,285.1 448.6,285.1 449.3,285.2 450,285.3 450.7,285.4 451.4,285.5 452.1,285.6 452.9,285.6 453.6,285.7 454.3,285.8 455,285.9 455.7,285.9 456.4,286 456.8,288.1 456.1,288.1 455.4,288.1 454.7,288.1 453.9,288.1 453.2,288.1 452.5,288.1 451.8,288.1 451.1,288.1 450.4,288.1 449.6,288.1 448.9,288.1 448.2,288.1 447.5,288.1 446.8,288.1 446.1,288.1 445.3,288.1 444.6,288.1 443.9,288.1 443.2,288.1 442.5,288.1 441.8,288.1 441,288.1 440.3,288.1 439.6,288.1 438.9,288.1 438.2,288.1 437.5,288.1 436.7,288.1 436,288.1 435.3,288.1 434.6,288.1 433.9,288.1 433.2,288.1 432.4,288.1 431.7,288.1 431,288.1 430.3,288.1 429.6,288.1 428.9,288.1 428.2,288.1 427.4,288.1 426.7,288.1 426,288.1 425.3,288.1 424.6,288.1 423.9,288.1 423.1,288.1 422.4,288.1 421.7,288.1 421,288.1 420.3,288.1 419.6,288.1 418.8,288.1 418.1,288.1 417.4,288.1 416.7,288.1 416,288.1 415.3,288.1 414.5,288.1 413.8,288.1 413.1,288.1 412.4,288.1 411.7,288.1 411,288.1 410.2,288.1 409.5,288.1 408.8,288.1 408.1,288.1 407.4,288.1 406.7,288.1 405.9,288.1 405.2,288.1 404.5,288.1 403.8,288.1 403.1,288.1 402.4,288.1 401.7,288.1 400.9,288.1 400.2,288.1 399.5,288.1 398.8,288.1 398.1,288.1 397.4,288.1 396.6,288.1 395.9,288.1 395.2,288.1 394.5,288.1 393.8,288.1 393.1,288.1 392.3,288.1 391.6,288.1 390.9,288.1 390.2,288.1 389.5,288.1 388.8,288.1 388,288.1 387.3,288.1 386.6,288.1 385.9,288.1 385.2,288.1 384.5,288.1 383.7,288.1 383,288.1 382.3,288.1 381.6,288.1 380.9,288.1 380.2,288.1 379.4,288.1 378.7,288.1 378,288.1 377.3,288.1 376.6,288.1 375.9,288.1 375.1,288.1 374.4,288.1 373.7,288.1 373,288.1 372.3,288.1 371.6,288.1 370.9,288.1 370.1,288.1 369.4,288.1 368.7,288.1 368,288.1 367.3,288.1 366.6,288.1 365.8,288.1 365.1,288.1 364.4,288.1 363.7,288.1 363,288.1 362.3,288.1 361.5,288.1 360.8,288.1 360.1,288.1 359.4,288.1 358.7,288.1 358,288.1 357.2,288.1 356.5,288.1 355.8,288.1 355.1,288.1 354.4,288.1 353.7,288.1 352.9,288.1 352.2,288.1 351.5,288.1 350.8,288.1 350.1,288.1 349.4,288.1 348.6,288.1 347.9,288.1 347.2,288.1 346.5,288.1 345.8,288.1 345.1,288.1 344.4,288.1 343.6,288.1 342.9,288.1 342.2,288.1 341.5,288.1 340.8,288.1 340.1,288.1 339.3,288.1 338.6,288.1 337.9,288.1 337.2,288.1 336.5,288.1 335.8,288.1 335,288.1 334.3,288.1 333.6,288.1 332.9,288.1 332.2,288.1 331.5,288.1 330.7,288.1 330,288.1 329.3,288.1 328.6,288.1 327.9,288.1 327.2,288.1 326.4,288.1 325.7,288.1 325,288.1 324.3,288.1 323.6,288.1 322.9,288.1 322.1,288.1 321.4,288.1 320.7,288.1 320,288.1 319.3,288.1 318.6,288.1 317.9,288.1 317.1,288.1 316.4,288.1 315.7,288.1 315,288.1 314.3,288.1 313.6,288.1 312.8,288.1 312.1,288.1 311.4,288.1 310.7,288.1 310,288.1 309.3,288.1 308.5,288.1 307.8,288.1 307.1,288.1 306.4,288.1 305.7,288.1 305,288.1 304.2,288.1 303.5,288.1 302.8,288.1 302.1,288.1 301.4,288.1 300.7,288.1 299.9,288.1 299.2,288.1 298.5,288.1 297.8,288.1 297.1,288.1 296.4,288.1 295.6,288.1 294.9,288.1 294.2,288.1 293.5,288.1 292.8,288.1 292.1,288.1 291.4,288.1 290.6,288.1 289.9,288.1 289.2,288.1 288.5,288.1 287.8,288.1 287.1,288.1 286.3,288.1 285.6,288.1 284.9,288.1 284.2,288.1 283.5,288.1 282.8,288.1 282,288.1 281.3,288.1 280.6,288.1 279.9,288.1 279.2,288.1 278.5,288.1 278.1,288.1Z" fill="url(#gO)"  />
<path d="M278.1,287.7 278.8,287.7 279.5,287.7 280.2,287.7 281,287.7 281.7,287.7 282.4,287.7 283.1,287.7 283.8,287.7 284.5,287.7 285.3,287.7 286,287.7 286.7,287.7 287.4,287.7 288.1,287.7 288.8,287.7 289.6,287.7 290.3,287.7 291,287.7 291.7,287.7 292.4,287.7 293.1,287.7 293.9,287.7 294.6,287.7 295.3,287.7 296,287.7 296.7,287.7 297.4,287.7 298.2,287.7 298.9,287.7 299.6,287.7 300.3,287.7 301,287.7 301.7,287.7 302.5,287.7 303.2,287.7 303.9,287.7 304.6,287.7 305.3,287.7 306,287.7 306.7,287.7 307.5,287.7 308.2,287.7 308.9,287.7 309.6,287.7 310.3,287.7 311,287.7 311.8,287.7 312.5,287.7 313.2,287.7 313.9,287.7 314.6,287.7 315.3,287.7 316.1,287.7 316.8,287.7 317.5,287.7 318.2,287.7 318.9,287.7 319.6,287.7 320.4,287.7 321.1,287.7 321.8,287.7 322.5,287.7 323.2,287.7 323.9,287.7 324.7,287.7 325.4,287.7 326.1,287.7 326.8,287.7 327.5,287.7 328.2,287.7 329,287.7 329.7,287.7 330.4,287.7 331.1,287.7 331.8,287.7 332.5,287.7 333.2,287.7 334,287.7 334.7,287.7 335.4,287.7 336.1,287.7 336.8,287.7 337.5,287.7 338.3,287.7 339,287.7 339.7,287.7 340.4,287.7 341.1,287.7 341.8,287.7 342.6,287.7 343.3,287.7 344,287.7 344.7,287.7 345.4,287.7 346.1,287.7 346.9,287.7 347.6,287.7 348.3,287.7 349,287.7 349.7,287.7 350.4,287.7 351.2,287.7 351.9,287.7 352.6,287.7 353.3,287.7 354,287.7 354.7,287.7 355.5,287.7 356.2,287.7 356.9,287.7 357.6,287.7 358.3,287.7 359,287.7 359.8,287.7 360.5,287.7 361.2,287.7 361.9,287.7 362.6,287.7 363.3,287.7 364,287.7 364.8,287.7 365.5,287.7 366.2,287.7 366.9,287.7 367.6,287.7 368.3,287.7 369.1,287.7 369.8,287.7 370.5,287.7 371.2,287.7 371.9,287.7 372.6,287.7 373.4,287.7 374.1,287.7 374.8,287.7 375.5,287.7 376.2,287.7 376.9,287.7 377.7,287.7 378.4,287.7 379.1,287.7 379.8,287.7 380.5,287.7 381.2,287.7 382,287.7 382.7,287.7 383.4,287.7 384.1,287.7 384.8,287.7 385.5,287.7 386.3,287.7 387,287.7 387.7,287.7 388.4,287.7 389.1,287.7 389.8,287.7 390.5,287.7 391.3,287.7 392,287.7 392.7,287.7 393.4,287.7 394.1,287.7 394.8,287.7 395.6,287.7 396.3,287.7 397,287.7 397.7,287.7 398.4,287.7 399.1,287.7 399.9,287.7 400.6,287.7 401.3,287.7 402,287.7 402.7,287.7 403.4,287.7 404.2,287.7 404.9,287.7 405.6,287.7 406.3,287.7 407,287.7 407.7,287.7 408.5,287.7 409.2,287.7 409.9,287.7 410.6,287.7 411.3,287.7 412,287.7 412.8,287.7 413.5,287.7 414.2,287.7 414.9,287.7 415.6,287.7 416.3,287.7 417,287.7 417.8,287.7 418.5,287.7 419.2,287.7 419.9,287.7 420.6,287.7 421.3,287.7 422.1,287.7 422.8,287.7 423.5,287.7 424.2,287.7 424.9,287.7 425.6,287.7 426.4,287.7 427.1,287.7 427.8,287.7 428.5,287.7 429.2,287.7 429.9,287.7 430.7,287.7 431.4,287.7 432.1,287.7 432.8,287.7 433.5,287.7 434.2,287.7 435,287.7 435.7,287.7 436.4,287.7 437.1,287.7 437.8,287.7 438.5,287.7 439.3,287.7 440,287.7 440.7,287.7 441.4,287.7 442.1,287.7 442.8,287.7 443.5,287.7 444.3,287.7 445,287.7 445.7,287.7 446.4,287.7 447.1,287.7 447.8,287.7 448.6,287.7 449.3,287.7 450,287.7 450.7,287.7 451.4,287.7 452.1,287.7 452.9,287.7 453.6,287.7 454.3,287.7 455,287.7 455.7,287.7 456.4,287.7 456.8,287.7" fill="none" stroke="#d2426a" stroke-width="1.2" stroke-linejoin="round"  />
<path d="M278.1,288.1 278.8,288.1 279.5,288.1 280.2,288.1 281,288 281.7,288 282.4,287.9 283.1,287.9 283.8,287.8 284.5,287.8 285.3,287.7 286,287.6 286.7,287.5 287.4,287.4 288.1,287.2 288.8,287 289.6,286.9 290.3,286.7 291,286.5 291.7,286.2 292.4,286 293.1,285.8 293.9,285.5 294.6,285.2 295.3,284.9 296,284.6 296.7,284.3 297.4,283.9 298.2,283.6 298.9,283.2 299.6,282.9 300.3,282.6 301,282.3 301.7,282 302.5,281.7 303.2,281.4 303.9,281.1 304.6,280.8 305.3,280.5 306,280.1 306.7,279.8 307.5,279.5 308.2,279.2 308.9,278.9 309.6,278.6 310.3,278.2 311,277.9 311.8,277.6 312.5,277.3 313.2,277 313.9,276.7 314.6,276.5 315.3,276.2 316.1,275.9 316.8,275.7 317.5,275.4 318.2,275.2 318.9,274.9 319.6,274.7 320.4,274.5 321.1,274.3 321.8,274.1 322.5,273.9 323.2,273.7 323.9,273.5 324.7,273.4 325.4,273.2 326.1,273 326.8,272.9 327.5,272.8 328.2,272.6 329,272.5 329.7,272.4 330.4,272.3 331.1,272.2 331.8,272.1 332.5,272 333.2,271.9 334,271.8 334.7,271.7 335.4,271.6 336.1,271.5 336.8,271.4 337.5,271.3 338.3,271.2 339,271.1 339.7,271 340.4,271 341.1,270.9 341.8,270.8 342.6,270.8 343.3,270.8 344,270.7 344.7,270.7 345.4,270.7 346.1,270.6 346.9,270.6 347.6,270.6 348.3,270.6 349,270.6 349.7,270.6 350.4,270.6 351.2,270.6 351.9,270.6 352.6,270.6 353.3,270.7 354,270.7 354.7,270.7 355.5,270.7 356.2,270.8 356.9,270.8 357.6,270.8 358.3,270.9 359,271 359.8,271.1 360.5,271.2 361.2,271.3 361.9,271.4 362.6,271.5 363.3,271.5 364,271.6 364.8,271.7 365.5,271.8 366.2,271.9 366.9,272 367.6,272.1 368.3,272.2 369.1,272.3 369.8,272.5 370.5,272.6 371.2,272.7 371.9,272.8 372.6,272.9 373.4,273 374.1,273.1 374.8,273.3 375.5,273.4 376.2,273.5 376.9,273.6 377.7,273.8 378.4,273.9 379.1,274 379.8,274.1 380.5,274.2 381.2,274.4 382,274.5 382.7,274.6 383.4,274.7 384.1,274.8 384.8,275 385.5,275.1 386.3,275.2 387,275.3 387.7,275.4 388.4,275.5 389.1,275.6 389.8,275.8 390.5,275.9 391.3,276 392,276.1 392.7,276.2 393.4,276.3 394.1,276.4 394.8,276.5 395.6,276.6 396.3,276.7 397,276.8 397.7,276.9 398.4,277 399.1,277.1 399.9,277.1 400.6,277.2 401.3,277.3 402,277.4 402.7,277.5 403.4,277.6 404.2,277.7 404.9,277.8 405.6,277.9 406.3,278 407,278.1 407.7,278.2 408.5,278.3 409.2,278.4 409.9,278.5 410.6,278.6 411.3,278.7 412,278.9 412.8,279 413.5,279.1 414.2,279.2 414.9,279.3 415.6,279.5 416.3,279.6 417,279.7 417.8,279.9 418.5,280 419.2,280.2 419.9,280.3 420.6,280.4 421.3,280.6 422.1,280.7 422.8,280.9 423.5,281 424.2,281.2 424.9,281.3 425.6,281.4 426.4,281.6 427.1,281.7 427.8,281.8 428.5,282 429.2,282.1 429.9,282.2 430.7,282.3 431.4,282.5 432.1,282.6 432.8,282.7 433.5,282.8 434.2,283 435,283.1 435.7,283.2 436.4,283.3 437.1,283.5 437.8,283.6 438.5,283.7 439.3,283.8 440,283.9 440.7,284 441.4,284.1 442.1,284.3 442.8,284.4 443.5,284.5 444.3,284.6 445,284.7 445.7,284.8 446.4,284.9 447.1,285 447.8,285.1 448.6,285.1 449.3,285.2 450,285.3 450.7,285.4 451.4,285.5 452.1,285.6 452.9,285.6 453.6,285.7 454.3,285.8 455,285.9 455.7,285.9 456.4,286 456.8,286" fill="none" stroke="#ef9a4a" stroke-width="1.2" stroke-linejoin="round"  />
<path d="M278.1,287.5 278.5,287.1 278.8,286.7 279.2,286.3 279.9,285.6 280.6,285 281.3,284.3 281.7,284 282,283.6 282.4,283.1 282.8,282.7 283.1,282.2 283.5,281.8 283.8,281.3 284.2,280.8 284.5,280.4 284.9,280 285.3,279.6 285.6,279.1 286,278.6 286.3,277.9 286.7,277.2 287.1,276.3 287.4,275.3 287.8,274.2 288.1,273.1 288.5,271.8 288.8,270.5 289.2,269 289.6,267.4 289.9,265.5 290.3,263.5 290.6,261.4 291,259.2 291.4,257 291.7,254.5 292.1,251.9 292.4,249.1 292.8,246.2 293.1,243.2 293.5,240.3 293.9,237.3 294.2,234.4 294.6,231.4 294.9,228.4 295.3,225.4 295.6,222.3 296,219.3 296.4,216.3 296.7,213.3 297.1,210.3 297.4,207.4 297.8,204.4 298.2,201.4 298.5,198.5 298.9,195.7 299.2,192.8 299.6,189.7 299.9,186.7 300.3,183.8 300.7,181 301,178.5 301.4,176.3 301.7,174.5 302.1,172.8 302.5,171.2 302.8,169.8 303.2,168.6 303.5,167.6 303.9,166.9 304.2,166.3 304.6,165.7 305,165.2 305.3,164.8 306,164.3 306.7,164.5 307.1,164.8 307.5,165.3 307.8,165.9 308.2,166.5 308.5,167.1 308.9,167.7 309.3,168.2 309.6,168.8 310,169.5 310.3,170.1 310.7,170.8 311,171.5 311.4,172.2 311.8,172.9 312.1,173.7 312.5,174.5 312.8,175.3 313.2,176.1 313.6,177 313.9,177.9 314.3,178.8 314.6,179.8 315,180.9 315.3,181.9 315.7,183 316.1,184.1 316.4,185.2 316.8,186.3 317.1,187.5 317.5,188.6 317.9,189.7 318.2,190.8 318.6,191.9 318.9,193 319.3,194 319.6,195.1 320,196.1 320.4,197 320.7,198 321.1,199 321.4,199.9 321.8,200.9 322.1,201.8 322.5,202.7 322.9,203.7 323.2,204.6 323.6,205.5 323.9,206.4 324.3,207.4 324.7,208.3 325,209.2 325.4,210.1 325.7,211 326.1,211.8 326.4,212.7 326.8,213.6 327.2,214.5 327.5,215.3 327.9,216.2 328.2,217 328.6,217.9 329,218.7 329.3,219.5 329.7,220.4 330,221.2 330.4,222 330.7,222.8 331.1,223.6 331.5,224.4 331.8,225.2 332.2,226 332.5,226.8 332.9,227.6 333.2,228.4 333.6,229.2 334,229.9 334.3,230.7 334.7,231.5 335,232.2 335.4,233 335.8,233.8 336.1,234.5 336.5,235.3 336.8,236.1 337.2,236.8 337.5,237.6 337.9,238.3 338.3,239.1 338.6,239.9 339,240.7 339.3,241.4 339.7,242.2 340.1,243 340.4,243.8 340.8,244.6 341.1,245.3 341.5,246.1 341.8,246.9 342.2,247.7 342.6,248.4 342.9,249.2 343.3,249.9 343.6,250.6 344,251.4 344.4,252.1 344.7,252.8 345.1,253.4 345.4,254.1 345.8,254.8 346.1,255.4 346.5,256 346.9,256.6 347.2,257.2 347.6,257.7 347.9,258.3 348.3,258.8 348.6,259.3 349,259.8 349.4,260.3 349.7,260.8 350.1,261.3 350.4,261.8 350.8,262.3 351.2,262.8 351.5,263.3 351.9,263.7 352.2,264.2 352.6,264.6 352.9,265 353.3,265.5 353.7,265.9 354,266.3 354.4,266.7 354.7,267.1 355.1,267.5 355.5,267.9 355.8,268.2 356.2,268.6 356.5,268.9 357.2,269.6 358,270.2 358.7,270.9 359.4,271.5 360.1,272.1 360.8,272.6 361.5,273.2 362.3,273.8 363,274.3 363.7,274.8 364.4,275.3 365.1,275.8 365.8,276.2 366.6,276.7 367.3,277 368,277.4 368.7,277.7 369.4,278 370.1,278.3 370.9,278.6 371.6,278.8 372.3,279 373,279.2 373.7,279.4 374.4,279.6 375.1,279.8 375.9,279.9 376.6,280.1 377.3,280.2 378,280.4 378.7,280.5 379.4,280.7 380.2,280.8 380.9,280.9 381.6,281.1 382.3,281.2 383,281.3 383.7,281.4 384.5,281.5 385.2,281.7 385.9,281.8 386.6,281.9 387.3,282 388,282.1 388.8,282.2 389.5,282.3 390.2,282.4 390.9,282.5 391.6,282.6 392.3,282.7 393.1,282.8 393.8,282.9 394.5,283 395.2,283.1 395.9,283.1 396.6,283.2 397.4,283.3 398.1,283.4 398.8,283.5 399.5,283.6 400.2,283.7 400.9,283.7 401.7,283.8 402.4,283.9 403.1,284 403.8,284.1 404.5,284.2 405.2,284.2 405.9,284.3 406.7,284.4 407.4,284.5 408.1,284.5 408.8,284.6 409.5,284.7 410.2,284.8 411,284.8 411.7,284.9 412.4,285 413.1,285 413.8,285.1 414.5,285.2 415.3,285.2 416,285.3 416.7,285.3 417.4,285.4 418.1,285.4 418.8,285.5 419.6,285.5 420.3,285.6 421,285.6 421.7,285.7 422.4,285.7 423.1,285.7 423.9,285.8 424.6,285.8 425.3,285.9 426,285.9 426.7,286 427.4,286 428.2,286 428.9,286.1 429.6,286.1 430.3,286.2 431,286.2 431.7,286.2 432.4,286.3 433.2,286.3 433.9,286.3 434.6,286.4 435.3,286.4 436,286.5 436.7,286.5 437.5,286.5 438.2,286.6 438.9,286.6 439.6,286.6 440.3,286.6 441,286.7 441.8,286.7 442.5,286.7 443.2,286.8 443.9,286.8 444.6,286.8 445.3,286.8 446.1,286.9 446.8,286.9 447.5,286.9 448.2,286.9 448.9,286.9 449.6,287 450.4,287 451.1,287 451.8,287 452.5,287 453.2,287 453.9,287 454.7,287.1 455.4,287.1 456.1,287.1 456.8,287.1" fill="none" stroke="#58b848" stroke-width="1.2" stroke-linejoin="round"  />
</g>
<path d="M325,285 C318,262 309,230 308,192" fill="none" stroke="url(#aG)" stroke-width="4.2"/>
<path d="M301.3,192.5 L308,178.5 L315,192.5 Z" fill="#78b840"/>
<path d="M314,211.5 C318,228 324,246 331,259" fill="none" stroke="url(#aY)" stroke-width="4.2"/>
<path d="M325.3,262.5 L339.6,267.6 L337.6,253.4 Z" fill="#ecd44c"/>
<line x1="377.2" y1="169.5" x2="394.7" y2="169.5" stroke="#58b848" stroke-width="1.6"/>
<text x="396.7" y="172.1" font-size="7.3" fill="#222"><tspan font-style="italic">R</tspan>-C[4]B@ThT</text>
<line x1="377.2" y1="178.6" x2="394.7" y2="178.6" stroke="#ef9a4a" stroke-width="1.6"/>
<text x="396.7" y="181.2" font-size="7.3" fill="#222"><tspan font-style="italic">R</tspan>-C[4]B@2ThT</text>
<line x1="377.2" y1="187.8" x2="394.7" y2="187.8" stroke="#d2426a" stroke-width="1.6"/>
<text x="396.7" y="190.4" font-size="7.3" fill="#222">ThT</text>
<g clip-path="url(#cd)">
<path d="M547.9,215.4 548.9,224 549.8,217.6 550.8,218.6 551.8,217.2 552.8,215.5 553.8,217.2 554.7,211.3 555.7,209.9 556.7,199.5 557.7,202.8 558.7,201.4 559.6,199.4 560.6,199.7 561.6,204.4 562.6,206.3 563.5,203.9 564.5,203.6 565.5,199.6 566.5,200.8 567.5,199.7 568.4,196.2 569.4,197.6 570.4,198.8 571.4,197.1 572.4,194.1 573.3,189.7 574.3,192.6 575.3,191.6 576.3,188.4 577.3,191 578.2,188.2 579.2,183.2 580.2,180.9 581.2,178.9 582.2,175 583.1,181 584.1,175.1 585.1,181 586.1,184 587,181.7 588,182.1 589,184.8 590,185.5 591,182.4 591.9,181.4 592.9,177.5 593.9,177.5 594.9,177.2 595.9,174.2 596.8,176 597.8,177.5 598.8,175.6 599.8,176.9 600.8,179.3 601.7,180.5 602.7,178.1 603.7,182.6 604.7,175.8 605.6,175.6 606.6,179.1 607.6,175.2 608.6,176.7 609.6,173 610.5,178.2 611.5,177.1 612.5,176.2 613.5,177.1 614.5,185.1 615.4,183.4 616.4,183.1 617.4,185.6 618.4,181.4 619.4,186.7 620.3,183.6 621.3,186.1 622.3,181.3 623.3,184 624.2,184.6 625.2,187.3 626.2,181 627.2,183 628.2,183.4 629.1,183 630.1,184.9 631.1,187.4 632.1,188.4 633.1,189.2 634,185.7 635,191.7 636,190.4 637,190.2 638,189.4 638.9,189.1 639.9,193.1 640.9,194.7 641.9,192.4 642.8,191.3 643.8,193.5 644.8,195.9 645.8,198.3 646.8,198.5 647.7,201.1 648.7,200.8 649.7,205.6 650.7,205.2 651.7,206.6 652.6,205.7 653.6,206.2 654.6,201.5 655.6,203.2 656.6,203 657.5,209.5 658.5,206 659.5,206.2 660.5,203.7 661.4,208.9 662.4,202.1 663.4,202.3 664.4,207.1 665.4,207 666.3,207.3 667.3,206.6 668.3,207.1 669.3,206.5 670.3,212.8 671.2,212.2 672.2,213.6 673.2,210.5 674.2,212.2 675.2,210.4 675.2,222.3 674.2,222.3 673.2,222.3 672.2,222.3 671.2,222.3 670.3,222.3 669.3,222.3 668.3,222.3 667.3,222.3 666.3,222.3 665.4,222.3 664.4,222.3 663.4,222.3 662.4,222.3 661.4,222.3 660.5,222.3 659.5,222.3 658.5,222.3 657.5,222.3 656.6,222.3 655.6,222.3 654.6,222.3 653.6,222.3 652.6,222.3 651.7,222.3 650.7,222.3 649.7,222.3 648.7,222.3 647.7,222.3 646.8,222.3 645.8,222.3 644.8,222.3 643.8,222.3 642.8,222.3 641.9,222.3 640.9,222.3 639.9,222.3 638.9,222.3 638,222.3 637,222.3 636,222.3 635,222.3 634,222.3 633.1,222.3 632.1,222.3 631.1,222.3 630.1,222.3 629.1,222.3 628.2,222.3 627.2,222.3 626.2,222.3 625.2,222.3 624.2,222.3 623.3,222.3 622.3,222.3 621.3,222.3 620.3,222.3 619.4,222.3 618.4,222.3 617.4,222.3 616.4,222.3 615.4,222.3 614.5,222.3 613.5,222.3 612.5,222.3 611.5,222.3 610.5,222.3 609.6,222.3 608.6,222.3 607.6,222.3 606.6,222.3 605.6,222.3 604.7,222.3 603.7,222.3 602.7,222.3 601.7,222.3 600.8,222.3 599.8,222.3 598.8,222.3 597.8,222.3 596.8,222.3 595.9,222.3 594.9,222.3 593.9,222.3 592.9,222.3 591.9,222.3 591,222.3 590,222.3 589,222.3 588,222.3 587,222.3 586.1,222.3 585.1,222.3 584.1,222.3 583.1,222.3 582.2,222.3 581.2,222.3 580.2,222.3 579.2,222.3 578.2,222.3 577.3,222.3 576.3,222.3 575.3,222.3 574.3,222.3 573.3,222.3 572.4,222.3 571.4,222.3 570.4,222.3 569.4,222.3 568.4,222.3 567.5,222.3 566.5,222.3 565.5,222.3 564.5,222.3 563.5,222.3 562.6,222.3 561.6,222.3 560.6,222.3 559.6,222.3 558.7,222.3 557.7,222.3 556.7,222.3 555.7,222.3 554.7,222.3 553.8,222.3 552.8,222.3 551.8,222.3 550.8,222.3 549.8,222.3 548.9,222.3 547.9,222.3Z" fill="url(#gdB)"  />
<path d="M552.8,225 553.8,226.2 554.7,224.4 555.7,223.6 556.7,222.7 557.7,225.3 558.7,227.5 559.6,229.6 560.6,231.7 561.6,235.6 562.6,242.2 563.5,248.7 564.5,249.7 565.5,244.6 566.5,247 567.5,250.2 568.4,246.6 569.4,248.2 570.4,247 571.4,247.4 572.4,249.7 573.3,249 574.3,251.2 575.3,253.2 576.3,252.4 577.3,253.2 578.2,260.4 579.2,260.5 580.2,264.9 581.2,267 582.2,272 583.1,270.2 584.1,269.9 585.1,269.8 586.1,271.2 587,270.5 588,272.8 589,274.2 590,271.8 591,275.1 591.9,271.7 592.9,274 593.9,281.3 594.9,278.8 595.9,282.6 596.8,279.1 597.8,274.1 598.8,274.3 599.8,267.5 600.8,265.2 601.7,262.5 602.7,267.4 603.7,264.7 604.7,269 605.6,268.1 606.6,269.6 607.6,265.9 608.6,268.4 609.6,265.8 610.5,270.2 611.5,270.7 612.5,271.5 613.5,274.5 614.5,272.1 615.4,266.6 616.4,267.2 617.4,264.2 618.4,262.8 619.4,260 620.3,260.4 621.3,258.7 622.3,257 623.3,256.3 624.2,257.4 625.2,253.3 626.2,256.9 627.2,256 628.2,255.6 629.1,250.6 630.1,252.5 631.1,253.1 632.1,252.9 633.1,249.4 634,251.9 635,252.1 636,248.3 637,251.6 638,249.7 638.9,248.9 639.9,249.6 640.9,248.6 641.9,245.6 642.8,248.9 643.8,250 644.8,250.8 645.8,247.3 646.8,247.2 647.7,245.6 648.7,246.5 649.7,245.9 650.7,245.5 651.7,244.3 652.6,242.1 653.6,242.2 654.6,240.5 655.6,236.3 656.6,238.4 657.5,241.6 658.5,234.6 659.5,236.6 660.5,238.5 661.4,234.4 662.4,235.6 663.4,236.3 664.4,235.9 665.4,236.2 666.3,233.8 667.3,231.5 668.3,233.8 669.3,232 670.3,228.8 671.2,234.3 672.2,231 673.2,231.7 674.2,232.7 675.2,232.3 675.2,222.3 674.2,222.3 673.2,222.3 672.2,222.3 671.2,222.3 670.3,222.3 669.3,222.3 668.3,222.3 667.3,222.3 666.3,222.3 665.4,222.3 664.4,222.3 663.4,222.3 662.4,222.3 661.4,222.3 660.5,222.3 659.5,222.3 658.5,222.3 657.5,222.3 656.6,222.3 655.6,222.3 654.6,222.3 653.6,222.3 652.6,222.3 651.7,222.3 650.7,222.3 649.7,222.3 648.7,222.3 647.7,222.3 646.8,222.3 645.8,222.3 644.8,222.3 643.8,222.3 642.8,222.3 641.9,222.3 640.9,222.3 639.9,222.3 638.9,222.3 638,222.3 637,222.3 636,222.3 635,222.3 634,222.3 633.1,222.3 632.1,222.3 631.1,222.3 630.1,222.3 629.1,222.3 628.2,222.3 627.2,222.3 626.2,222.3 625.2,222.3 624.2,222.3 623.3,222.3 622.3,222.3 621.3,222.3 620.3,222.3 619.4,222.3 618.4,222.3 617.4,222.3 616.4,222.3 615.4,222.3 614.5,222.3 613.5,222.3 612.5,222.3 611.5,222.3 610.5,222.3 609.6,222.3 608.6,222.3 607.6,222.3 606.6,222.3 605.6,222.3 604.7,222.3 603.7,222.3 602.7,222.3 601.7,222.3 600.8,222.3 599.8,222.3 598.8,222.3 597.8,222.3 596.8,222.3 595.9,222.3 594.9,222.3 593.9,222.3 592.9,222.3 591.9,222.3 591,222.3 590,222.3 589,222.3 588,222.3 587,222.3 586.1,222.3 585.1,222.3 584.1,222.3 583.1,222.3 582.2,222.3 581.2,222.3 580.2,222.3 579.2,222.3 578.2,222.3 577.3,222.3 576.3,222.3 575.3,222.3 574.3,222.3 573.3,222.3 572.4,222.3 571.4,222.3 570.4,222.3 569.4,222.3 568.4,222.3 567.5,222.3 566.5,222.3 565.5,222.3 564.5,222.3 563.5,222.3 562.6,222.3 561.6,222.3 560.6,222.3 559.6,222.3 558.7,222.3 557.7,222.3 556.7,222.3 555.7,222.3 554.7,222.3 553.8,222.3 552.8,222.3Z" fill="url(#gdR)"  />
<line x1="497.6" y1="222.3" x2="675.6" y2="222.3" stroke="#777" stroke-width="0.9" stroke-dasharray="2.4 1.6"/>
<path d="M497.6,224.4 498.5,225.6 499.4,217.4 500.3,216.5 501.2,214.5 502.1,217.5 502.9,219 503.8,223.5 504.7,223.2 505.6,217.5 506.5,212.9 507.4,211.8 508.3,211.1 509.2,209.6 510.1,209.5 511,215.1 511.8,225.8 512.7,234.1 513.6,232.6 514.5,236.8 515.4,235.8 516.3,233.6 517.2,221.9 518.1,212.7 519,210.3 519.9,207 520.7,208.4 521.6,204.7 522.5,207.3 523.4,205.1 524.3,207.7 525.2,212.5 526.1,212.8 527,211.2 527.9,209.7 528.8,210.8 529.6,215.8 530.5,220.7 531.4,219.7 532.3,208.8 533.2,203.4 534.1,195.5 535,190.7 535.9,189.8 536.8,195.7 537.6,198.7 538.5,196.5 539.4,193.8 540.3,193.4 541.2,201.7 542.1,210.3 543,207.3 543.9,203.8 544.8,201.3 545.7,204.9 546.6,208.7 547.4,212.1 548.3,213.4 549.2,217.7 550.1,217.7 551,215.1 551.9,209.9 552.8,209.3 553.7,210.6 554.6,212.1 555.5,214.2 556.3,215 557.2,216.9 558.1,212.4 559,211.6 559.9,212.1 560.8,211.9 561.7,210.3 562.6,214 563.5,215.5 564.4,214.9 565.2,217 566.1,218.1 567,219.5 567.9,217.6 568.8,214.6 569.7,214.9 570.6,213.4 571.5,211.1 572.4,213.4 573.2,217.6 574.1,220.3 575,220.1 575.9,220.4 576.8,217.3 577.7,212.9 578.6,213.7 579.5,213.2 580.4,216.7 581.3,218.1 582.1,218.7 583,222.7 583.9,220.9 584.8,219.2 585.7,216.9 586.6,213.9 587.5,214.3 588.4,217.4 589.3,217.1 590.2,219.3 591.1,220.5 591.9,217.5 592.8,220.6 593.7,217.5 594.6,216.9 595.5,213.5 596.4,213.5 597.3,214.5 598.2,216.5 599.1,217.2 600,221.5 600.8,222 601.7,221.9 602.6,217.8 603.5,218.3 604.4,218 605.3,216.8 606.2,213.7 607.1,217.7 608,217.6 608.9,219 609.7,219.9 610.6,220.4 611.5,219.1 612.4,217.9 613.3,219 614.2,212.3 615.1,214 616,215.4 616.9,216.9 617.8,219 618.6,218.4 619.5,220.9 620.4,220.5 621.3,222.4 622.2,219.4 623.1,216.3 624,217.9 624.9,215.7 625.8,216.3 626.6,215 627.5,215.2 628.4,216.7 629.3,217.9 630.2,217.5 631.1,218.6" fill="none" stroke="#e68888" stroke-width="1.3" stroke-linejoin="round"  />
<path d="M497.6,216.3 498.5,213.9 499.4,213.9 500.3,216.6 501.2,217.6 502.1,219.2 502.9,218.6 503.8,219.6 504.7,218.9 505.6,222.3 506.5,218.4 507.4,220.8 508.3,220.6 509.2,222.5 510.1,223.8 511,223.9 511.8,224.4 512.7,226.6 513.6,227.5 514.5,227.5 515.4,230.2 516.3,231.6 517.2,229.7 518.1,231.4 519,233.2 519.9,232.2 520.7,231.9 521.6,232.3 522.5,231.2 523.4,227.8 524.3,225.7 525.2,229 526.1,237.8 527,241.5 527.9,230 528.8,214 529.6,211.7 530.5,223.5 531.4,238.2 532.3,246.9 533.2,252.3 534.1,258.8 535,265 535.9,271 536.8,266.1 537.6,258.3 538.5,251.8 539.4,241.7 540.3,234.1 541.2,231.3 542.1,225.2 543,223.4 543.9,223 544.8,223.8 545.7,224.1 546.6,227.7 547.4,225.9 548.3,224.5 549.2,223.6 550.1,216.9 551,215.1 551.9,214.3 552.8,218 553.7,219.8 554.6,220.2 555.5,220.6 556.3,216.9 557.2,215.6 558.1,213.1 559,213.7 559.9,212.7 560.8,215.1 561.7,218.3 562.6,219.1 563.5,219.1 564.4,218.2 565.2,221.5 566.1,217.9 567,218.1 567.9,219.8 568.8,222.9 569.7,222.3 570.6,226.2 571.5,222.8 572.4,219 573.2,219.4 574.1,214.2 575,211.4 575.9,207.6 576.8,209 577.7,214.5 578.6,224.4 579.5,227 580.4,229.3 581.3,231.2 582.1,233.8 583,234 583.9,230.1 584.8,227.3 585.7,224.9 586.6,223.6 587.5,220.3 588.4,218.9 589.3,218.8 590.2,219.7 591.1,222.8 591.9,223.9 592.8,223.7 593.7,226.1 594.6,227 595.5,222.2 596.4,221.4 597.3,218 598.2,219.8 599.1,221 600,223.3 600.8,221.4 601.7,221.1 602.6,225.7 603.5,224.9 604.4,221.9 605.3,221.8 606.2,219.6 607.1,219.1 608,219.2 608.9,219.9 609.7,223.3 610.6,224 611.5,226.4 612.4,225 613.3,226.8 614.2,224.5 615.1,220.6 616,221.8 616.9,221 617.8,222.6 618.6,223.4 619.5,225.5 620.4,225.9 621.3,226.5 622.2,225.6 623.1,223.5 624,221.4 624.9,221.3 625.8,220.3 626.6,219.4 627.5,218.8 628.4,219.3 629.3,221.1 630.2,218.8 631.1,218.4" fill="none" stroke="#70aae2" stroke-width="1.3" stroke-linejoin="round"  />
<path d="M552.8,225 553.8,226.2 554.7,224.4 555.7,223.6 556.7,222.7 557.7,225.3 558.7,227.5 559.6,229.6 560.6,231.7 561.6,235.6 562.6,242.2 563.5,248.7 564.5,249.7 565.5,244.6 566.5,247 567.5,250.2 568.4,246.6 569.4,248.2 570.4,247 571.4,247.4 572.4,249.7 573.3,249 574.3,251.2 575.3,253.2 576.3,252.4 577.3,253.2 578.2,260.4 579.2,260.5 580.2,264.9 581.2,267 582.2,272 583.1,270.2 584.1,269.9 585.1,269.8 586.1,271.2 587,270.5 588,272.8 589,274.2 590,271.8 591,275.1 591.9,271.7 592.9,274 593.9,281.3 594.9,278.8 595.9,282.6 596.8,279.1 597.8,274.1 598.8,274.3 599.8,267.5 600.8,265.2 601.7,262.5 602.7,267.4 603.7,264.7 604.7,269 605.6,268.1 606.6,269.6 607.6,265.9 608.6,268.4 609.6,265.8 610.5,270.2 611.5,270.7 612.5,271.5 613.5,274.5 614.5,272.1 615.4,266.6 616.4,267.2 617.4,264.2 618.4,262.8 619.4,260 620.3,260.4 621.3,258.7 622.3,257 623.3,256.3 624.2,257.4 625.2,253.3 626.2,256.9 627.2,256 628.2,255.6 629.1,250.6 630.1,252.5 631.1,253.1 632.1,252.9 633.1,249.4 634,251.9 635,252.1 636,248.3 637,251.6 638,249.7 638.9,248.9 639.9,249.6 640.9,248.6 641.9,245.6 642.8,248.9 643.8,250 644.8,250.8 645.8,247.3 646.8,247.2 647.7,245.6 648.7,246.5 649.7,245.9 650.7,245.5 651.7,244.3 652.6,242.1 653.6,242.2 654.6,240.5 655.6,236.3 656.6,238.4 657.5,241.6 658.5,234.6 659.5,236.6 660.5,238.5 661.4,234.4 662.4,235.6 663.4,236.3 664.4,235.9 665.4,236.2 666.3,233.8 667.3,231.5 668.3,233.8 669.3,232 670.3,228.8 671.2,234.3 672.2,231 673.2,231.7 674.2,232.7 675.2,232.3" fill="none" stroke="#e42a2a" stroke-width="1.2" stroke-linejoin="round"  />
<path d="M547.9,215.4 548.9,224 549.8,217.6 550.8,218.6 551.8,217.2 552.8,215.5 553.8,217.2 554.7,211.3 555.7,209.9 556.7,199.5 557.7,202.8 558.7,201.4 559.6,199.4 560.6,199.7 561.6,204.4 562.6,206.3 563.5,203.9 564.5,203.6 565.5,199.6 566.5,200.8 567.5,199.7 568.4,196.2 569.4,197.6 570.4,198.8 571.4,197.1 572.4,194.1 573.3,189.7 574.3,192.6 575.3,191.6 576.3,188.4 577.3,191 578.2,188.2 579.2,183.2 580.2,180.9 581.2,178.9 582.2,175 583.1,181 584.1,175.1 585.1,181 586.1,184 587,181.7 588,182.1 589,184.8 590,185.5 591,182.4 591.9,181.4 592.9,177.5 593.9,177.5 594.9,177.2 595.9,174.2 596.8,176 597.8,177.5 598.8,175.6 599.8,176.9 600.8,179.3 601.7,180.5 602.7,178.1 603.7,182.6 604.7,175.8 605.6,175.6 606.6,179.1 607.6,175.2 608.6,176.7 609.6,173 610.5,178.2 611.5,177.1 612.5,176.2 613.5,177.1 614.5,185.1 615.4,183.4 616.4,183.1 617.4,185.6 618.4,181.4 619.4,186.7 620.3,183.6 621.3,186.1 622.3,181.3 623.3,184 624.2,184.6 625.2,187.3 626.2,181 627.2,183 628.2,183.4 629.1,183 630.1,184.9 631.1,187.4 632.1,188.4 633.1,189.2 634,185.7 635,191.7 636,190.4 637,190.2 638,189.4 638.9,189.1 639.9,193.1 640.9,194.7 641.9,192.4 642.8,191.3 643.8,193.5 644.8,195.9 645.8,198.3 646.8,198.5 647.7,201.1 648.7,200.8 649.7,205.6 650.7,205.2 651.7,206.6 652.6,205.7 653.6,206.2 654.6,201.5 655.6,203.2 656.6,203 657.5,209.5 658.5,206 659.5,206.2 660.5,203.7 661.4,208.9 662.4,202.1 663.4,202.3 664.4,207.1 665.4,207 666.3,207.3 667.3,206.6 668.3,207.1 669.3,206.5 670.3,212.8 671.2,212.2 672.2,213.6 673.2,210.5 674.2,212.2 675.2,210.4" fill="none" stroke="#2626e6" stroke-width="1.2" stroke-linejoin="round"  />
</g>
<line x1="498.3" y1="162.5" x2="517.2" y2="162.5" stroke="#70a8e0" stroke-width="1.6"/>
<text x="519.4" y="165.1" font-size="7.3" fill="#222"><tspan font-style="italic">R</tspan>-C[4]B@ThT</text>
<line x1="498.3" y1="171.6" x2="517.2" y2="171.6" stroke="#e48888" stroke-width="1.6"/>
<text x="519.4" y="174.2" font-size="7.3" fill="#222"><tspan font-style="italic">S</tspan>-C[4]B@ThT</text>
<line x1="601.8" y1="161.7" x2="618.4" y2="161.7" stroke="#2626e6" stroke-width="1.6"/>
<text x="621.2" y="164.3" font-size="7.3" fill="#222"><tspan font-style="italic">R</tspan>-C[4]B@2ThT</text>
<line x1="601.8" y1="170.2" x2="618.4" y2="170.2" stroke="#e42a2a" stroke-width="1.6"/>
<text x="621.2" y="172.8" font-size="7.3" fill="#222"><tspan font-style="italic">S</tspan>-C[4]B@2ThT</text>
<g clip-path="url(#cf)">
<path d="M46.6,560.6 47,559.3 47.3,558.1 47.7,556.8 48,555.7 48.4,554.5 48.7,553.4 49.1,552.3 49.4,551.3 49.8,550.2 50.2,549.2 50.5,548.3 50.9,547.5 51.2,546.9 51.6,546.2 51.9,545.7 52.3,545.1 52.7,544.7 53,544.3 53.7,543.9 54.4,544 55.1,544.8 55.5,545.5 55.9,546.3 56.2,547.2 56.6,548.2 56.9,549.2 57.3,550.2 57.6,551.4 58,552.7 58.4,554.1 58.7,555.6 59.1,557 59.4,558.3 59.8,559.3 60.1,560.2 60.5,560.9 60.8,561.6 61.2,562.1 61.6,562.5 62.3,563 63,563 63.7,562.6 64.4,561.9 64.8,561.4 65.1,560.8 65.5,560.2 65.8,559.3 66.2,558.3 66.5,557 66.9,555.6 67.3,554.2 67.6,552.6 68,551 68.3,549.4 68.7,547.8 69,546.2 69.4,544.5 69.7,542.8 70.1,540.9 70.5,539.1 70.8,537.2 71.2,535.3 71.5,533.3 71.9,531.5 72.2,529.6 72.6,527.9 73,526.2 73.3,524.6 73.7,523.1 74,521.6 74.4,520.2 74.7,518.9 75.1,517.6 75.4,516.4 75.8,515.3 76.2,514.4 76.5,513.6 76.9,512.9 77.2,512.5 77.9,512.4 78.3,512.9 78.7,514 79,515.8 79.4,518.1 79.7,520.7 80.1,523.5 80.4,526.4 80.8,529.2 81.1,532.1 81.5,535.5 81.9,539.1 82.2,543 82.6,546.9 82.9,550.6 83.3,554.2 83.6,557.4 84,560 84.3,562 84.7,563.6 85.1,565 85.4,566.3 85.8,567.5 86.1,568.5 86.5,569.4 86.8,570.1 87.2,570.7 87.6,571.1 87.9,571.5 88.3,571.9 89,572.5 89.7,573.1 90.4,573.6 91.1,573.9 91.8,574.1 92.5,574.4 93.3,575.1 93.6,575.7 94,576.4 94.3,577.2 94.7,578.1 95,579.1 95.4,580.1 95.7,581.2 96.1,582.2 96.5,583.3 96.8,584.4 97.2,585.8 97.5,587.2 97.9,588.8 98.2,590.3 98.6,591.8 98.9,593.2 99.3,594.5 99.7,595.7 100,596.6 100.4,597.5 100.7,598.2 101.1,598.9 101.4,599.5 101.8,600.1 102.2,600.6 102.5,601 103.2,601.5 103.9,601.7 104.6,601.3 105,600.8 105.4,600.1 105.7,599.2 106.1,598.2 106.4,597 106.8,595.8 107.1,594.4 107.5,592.6 107.9,590.3 108.2,587.8 108.6,585.1 108.9,582.3 109.3,579.7 109.6,577.3 110,575.1 110.3,572.8 110.7,570.6 111.1,568.4 111.4,566.4 111.8,564.5 112.1,562.9 112.5,561.7 112.8,560.5 113.2,559.4 113.5,558.4 113.9,557.5 114.3,556.7 114.6,556 115,555.3 115.3,554.8 115.7,554.4 116,553.9 116.4,553.5 116.8,553 117.1,552.6 117.5,552.3 118.2,551.7 118.9,551.6 119.6,552 120.3,552.5 121,553.2 121.4,553.6 121.7,554 122.1,554.4 122.5,554.9 122.8,555.3 123.2,555.7 123.5,556.2 123.9,556.8 124.2,557.4 124.6,558 124.9,558.6 125.3,559.2 125.7,559.7 126,560.1 126.7,560.7 127.4,561.1 128.1,561.4 128.9,561.7 129.6,561.9 130.3,562 131,562.1 131.7,562.1 132.4,562.1 133.1,562.1 133.8,562.1 134.6,562.1 135.3,562.1 136,562.1 136.7,562.1 137.4,562 138.1,562 138.8,562 139.5,562 140.3,562 141,562 141.7,562 142.4,562 143.1,562 143.8,562.1 144.5,562.1 145.2,562.2 146,562.2 146.7,562.2 147.4,562.3 148.1,562.3 148.8,562.4 149.5,562.4 150.2,562.5 150.9,562.5 151.7,562.6 152.4,562.6 153.1,562.7 153.8,562.7 154.5,562.8 155.2,562.8 155.9,562.9 156.6,562.9 157.4,563 158.1,563 158.8,563.1 159.5,563.1 160.2,563.1 160.9,563.2 161.6,563.2 162.3,563.2 163,563.3 163.8,563.3 164.5,563.3 165.2,563.4 165.9,563.4 166.6,563.4 167.3,563.4 168,563.5 168.7,563.5 169.5,563.5 170.2,563.5 170.9,563.5 171.6,563.6 172.3,563.6 173,563.6 173.7,563.6 174.4,563.6 175.2,563.6 175.9,563.6 176.6,563.6 177.3,563.5 178,563.5 178.7,563.5 179.4,563.4 180.1,563.3 180.9,563.2 181.6,563.1 182.3,563.1 183,563 183.7,562.9 184.4,562.7 185.1,562.6 185.8,562.5 186.6,562.4 187.3,562.3 188,562.2 188.7,562.1 189.4,562 190.1,561.9 190.8,561.7 191.5,561.6 192.2,561.4 193,561.2 193.7,561 194.4,560.8 195.1,560.5 195.8,560.3 196.5,560.1 197.2,559.9 197.9,559.6 198.7,559.4 199.4,559.2 200.1,559 200.8,558.8 201.5,558.6 202.2,558.5 202.9,558.3 203.6,558.2 204.4,558.1 205.1,558 205.8,558 206.5,557.9 207.2,558 207.9,558.1 208.6,558.3 209.3,558.6 210.1,558.9 210.8,559.2 211.5,559.6 212.2,560 212.9,560.3 213.6,560.7 214.3,560.9 215,561.1 215.8,561.3 216.5,561.4 217.2,561.5 217.9,561.6 218.6,561.7 219.3,561.7 220,561.8 220.7,561.8 221.5,561.9 222.2,561.9 222.9,561.9 223.6,561.8 224.3,561.8 223.9,562.2 223.2,562.3 222.5,562.4 221.8,562.5 221.1,562.6 220.4,562.7 219.7,562.8 219,562.9 218.2,563 217.5,563.1 216.8,563.2 216.1,563.3 215.4,563.4 214.7,563.5 214,563.6 213.3,563.7 212.5,563.8 211.8,563.9 211.1,564 210.4,564.1 209.7,564.2 209,564.2 208.3,564.3 207.6,564.4 206.9,564.5 206.1,564.6 205.4,564.7 204.7,564.7 204,564.8 203.3,564.9 202.6,565 201.9,565.1 201.2,565.1 200.4,565.2 199.7,565.3 199,565.3 198.3,565.4 197.6,565.5 196.9,565.5 196.2,565.6 195.5,565.7 194.7,565.7 194,565.8 193.3,565.8 192.6,565.9 191.9,566 191.2,566 190.5,566.1 189.8,566.1 189,566.2 188.3,566.2 187.6,566.2 186.9,566.3 186.2,566.3 185.5,566.4 184.8,566.4 184.1,566.4 183.3,566.5 182.6,566.5 181.9,566.5 181.2,566.6 180.5,566.6 179.8,566.6 179.1,566.6 178.4,566.6 177.6,566.7 176.9,566.7 176.2,566.7 175.5,566.7 174.8,566.7 174.1,566.7 173.4,566.7 172.7,566.7 172,566.7 171.2,566.7 170.5,566.7 169.8,566.7 169.1,566.7 168.4,566.7 167.7,566.7 167,566.7 166.3,566.6 165.5,566.6 164.8,566.6 164.1,566.6 163.4,566.6 162.7,566.5 162,566.5 161.3,566.5 160.6,566.4 159.8,566.4 159.1,566.4 158.4,566.3 157.7,566.3 157,566.2 156.3,566.2 155.6,566.1 154.9,566.1 154.1,566 153.4,565.9 152.7,565.9 152,565.8 151.3,565.7 150.6,565.7 149.9,565.6 149.2,565.5 148.4,565.4 147.7,565.4 147,565.3 146.3,565.2 145.6,565.1 144.9,565 144.2,564.9 143.5,564.8 142.8,564.7 142,564.6 141.3,564.5 140.6,564.4 139.9,564.3 139.2,564.1 138.5,564 137.8,563.9 137.1,563.8 136.3,563.7 135.6,563.5 134.9,563.4 134.2,563.2 133.5,563.1 132.8,563 132.1,562.8 131.4,562.7 130.6,562.5 129.9,562.4 129.2,562.2 128.5,562 127.8,561.8 127.1,561.6 126.4,561.3 125.7,560.9 124.9,560.6 124.2,560.3 123.5,559.9 122.8,559.6 122.1,559.3 121.4,558.9 120.7,558.5 120,558.2 119.2,557.9 118.5,557.6 117.8,557.6 117.1,557.8 116.4,558.1 115.7,558.4 115,558.8 114.3,559.3 113.9,559.7 113.5,560.1 113.2,560.6 112.8,561.2 112.5,561.8 112.1,562.6 111.8,563.8 111.4,565.4 111.1,567.2 110.7,569.1 110.3,571.1 110,573 109.6,574.9 109.3,576.7 108.9,578.7 108.6,580.8 108.2,582.8 107.9,584.8 107.5,586.7 107.1,588.5 106.8,590 106.4,591.2 106.1,592.3 105.7,593.4 105.4,594.4 105,595.4 104.6,596.2 104.3,596.8 103.9,597.3 103.6,597.7 102.9,597.8 102.2,597.4 101.8,597 101.4,596.6 101.1,596 100.7,595.5 100.4,594.8 100,594.1 99.7,593.3 99.3,592.5 98.9,591.7 98.6,590.8 98.2,589.7 97.9,588.5 97.5,587.2 97.2,585.8 96.8,584.5 96.5,583.1 96.1,581.8 95.7,580.6 95.4,579.5 95,578.5 94.7,577.8 94.3,577.2 94,576.6 93.6,576.1 93.3,575.7 92.9,575.3 92.5,574.9 92.2,574.5 91.8,574.2 91.1,573.5 90.4,572.9 89.7,572.5 89,572 88.3,571.4 87.9,571 87.6,570.5 87.2,569.9 86.8,569.2 86.5,568.5 86.1,567.7 85.8,566.8 85.4,566 85.1,565.2 84.7,564.3 84.3,563.6 84,562.8 83.6,562.1 83.3,561.4 82.9,560.7 82.6,560 82.2,559.2 81.9,558.4 81.5,557.4 81.1,556.4 80.8,555.1 80.4,553.6 80.1,551.8 79.7,549.9 79.4,548 79,546 78.7,544.1 78.3,542.3 77.9,540.7 77.6,539.3 77.2,538 76.9,536.6 76.5,535.3 76.2,534.1 75.8,533 75.4,532.1 75.1,531.4 74.7,530.9 74,530.9 73.3,531.6 73,532.3 72.6,533 72.2,533.9 71.9,534.8 71.5,535.7 71.2,536.8 70.8,537.9 70.5,539.2 70.1,540.6 69.7,542 69.4,543.4 69,544.8 68.7,546.1 68.3,547.4 68,548.6 67.6,549.7 67.3,550.8 66.9,551.9 66.5,553 66.2,554.1 65.8,555.1 65.5,556 65.1,556.8 64.8,557.4 64.4,557.9 64,558.3 63.7,558.6 63,559.3 62.3,559.7 61.6,559.8 60.8,559.5 60.1,559.1 59.4,558.6 58.7,558 58,557.5 57.3,556.9 56.6,556.3 55.9,555.8 55.1,555.2 54.4,554.9 53.7,554.7 53,554.6 52.3,554.6 51.6,554.7 50.9,555.1 50.2,555.5 49.4,556 48.7,556.6 48.4,556.9 48,557.3 47.7,557.8 47.3,558.2 47,558.7 46.6,559.1Z" fill="#d8eef0" fill-opacity="0.9" />
<path d="M46.6,563.6 47,564.8 47.3,566.1 47.7,567.3 48,568.5 48.4,569.6 48.7,570.8 49.1,571.9 49.4,573.1 49.8,574.2 50.2,575.3 50.5,576.4 50.9,577.2 51.2,578 51.6,578.6 51.9,579.2 52.3,579.8 52.7,580.3 53,580.7 53.7,581.1 54.4,581.2 55.1,580.5 55.5,579.9 55.9,579.1 56.2,578.3 56.6,577.4 56.9,576.4 57.3,575.5 57.6,574.3 58,572.8 58.4,571.2 58.7,569.6 59.1,568 59.4,566.6 59.8,565.4 60.1,564.7 60.5,564 60.8,563.4 61.2,562.8 61.6,562.3 61.9,561.9 62.6,561.4 63.3,561.2 64,561.4 64.8,562.1 65.1,562.6 65.5,563.2 65.8,563.8 66.2,564.8 66.5,566 66.9,567.5 67.3,569.1 67.6,570.9 68,572.7 68.3,574.5 68.7,576.3 69,578.1 69.4,579.9 69.7,581.8 70.1,583.8 70.5,585.8 70.8,587.9 71.2,589.9 71.5,591.9 71.9,593.9 72.2,595.8 72.6,597.7 73,599.4 73.3,601.1 73.7,602.6 74,604.1 74.4,605.6 74.7,606.9 75.1,608.2 75.4,609.3 75.8,610.4 76.2,611.3 76.5,612 76.9,612.6 77.2,613 77.9,613 78.3,612.5 78.7,611.4 79,609.7 79.4,607.5 79.7,604.9 80.1,602.2 80.4,599.3 80.8,596.5 81.1,593.5 81.5,590 81.9,586.2 82.2,582.2 82.6,578.1 82.9,574.1 83.3,570.3 83.6,567 84,564.2 84.3,562.2 84.7,560.6 85.1,559.2 85.4,557.9 85.8,556.8 86.1,555.8 86.5,554.9 86.8,554.2 87.2,553.5 87.6,553.1 87.9,552.6 88.3,552.2 88.6,551.7 89,551.3 89.3,551 89.7,550.6 90.4,550 91.1,549.5 91.8,549.2 92.5,548.7 92.9,548.3 93.3,547.8 93.6,547.1 94,546.4 94.3,545.5 94.7,544.6 95,543.6 95.4,542.6 95.7,541.6 96.1,540.5 96.5,539.5 96.8,538.3 97.2,537 97.5,535.6 97.9,534.1 98.2,532.7 98.6,531.3 98.9,529.9 99.3,528.7 99.7,527.6 100,526.7 100.4,525.9 100.7,525.2 101.1,524.5 101.4,523.9 101.8,523.4 102.2,523 102.5,522.6 103.2,522.1 103.9,521.9 104.6,522.3 105,522.8 105.4,523.5 105.7,524.4 106.1,525.4 106.4,526.6 106.8,527.8 107.1,529.2 107.5,531.1 107.9,533.4 108.2,536.1 108.6,538.9 108.9,541.7 109.3,544.4 109.6,546.9 110,549.1 110.3,551.4 110.7,553.7 111.1,555.8 111.4,557.9 111.8,559.7 112.1,561.3 112.5,562.5 112.8,563.7 113.2,564.8 113.5,565.8 113.9,566.7 114.3,567.5 114.6,568.3 115,568.9 115.3,569.4 115.7,569.8 116,570.2 116.4,570.6 116.8,571.1 117.1,571.5 117.5,571.9 117.8,572.2 118.5,572.8 119.2,573.1 120,573.1 120.7,572.8 121.4,572.3 122.1,571.6 122.5,571.3 122.8,570.9 123.2,570.4 123.5,570 123.9,569.6 124.2,569.1 124.6,568.5 124.9,567.8 125.3,567.1 125.7,566.3 126,565.6 126.4,564.9 126.7,564.4 127.1,563.9 127.8,563.4 128.5,563 129.2,562.7 129.9,562.4 130.6,562.2 131.4,562.1 132.1,562.1 132.8,562.1 133.5,562.1 134.2,562.1 134.9,562.1 135.6,562.1 136.3,562.1 137.1,562.1 137.8,562.1 138.5,562.2 139.2,562.2 139.9,562.2 140.6,562.2 141.3,562.2 142,562.2 142.8,562.2 143.5,562.1 144.2,562.1 144.9,562.1 145.6,562 146.3,562 147,562 147.7,561.9 148.4,561.9 149.2,561.9 149.9,561.8 150.6,561.8 151.3,561.8 152,561.7 152.7,561.7 153.4,561.6 154.1,561.6 154.9,561.6 155.6,561.5 156.3,561.5 157,561.4 157.7,561.4 158.4,561.4 159.1,561.3 159.8,561.3 160.6,561.2 161.3,561.2 162,561.2 162.7,561.1 163.4,561.1 164.1,561 164.8,561 165.5,561 166.3,560.9 167,560.9 167.7,560.8 168.4,560.8 169.1,560.7 169.8,560.7 170.5,560.6 171.2,560.6 172,560.5 172.7,560.4 173.4,560.4 174.1,560.3 174.8,560.2 175.5,560.2 176.2,560.1 176.9,560 177.6,560 178.4,559.9 179.1,559.8 179.8,559.8 180.5,559.7 181.2,559.7 181.9,559.6 182.6,559.6 183.3,559.5 184.1,559.5 184.8,559.5 185.5,559.4 186.2,559.4 186.9,559.4 187.6,559.5 188.3,559.7 189,559.9 189.8,560.1 190.5,560.4 191.2,560.8 191.9,561.1 192.6,561.4 193.3,561.6 194,561.8 194.7,562 195.5,562.1 196.2,562.2 196.9,562.2 197.6,562.3 198.3,562.3 199,562.3 199.7,562.4 200.4,562.4 201.2,562.4 201.9,562.5 202.6,562.5 203.3,562.5 204,562.5 204.7,562.5 205.4,562.6 206.1,562.6 206.9,562.5 207.6,562.5 208.3,562.5 209,562.5 209.7,562.5 210.4,562.5 211.1,562.5 211.8,562.5 212.5,562.5 213.3,562.4 214,562.4 214.7,562.4 215.4,562.4 216.1,562.4 216.8,562.4 217.5,562.3 218.2,562.3 219,562.3 219.7,562.3 220.4,562.3 221.1,562.2 221.8,562.2 222.5,562.2 223.2,562.1 223.9,562.1 223.2,561.9 222.5,561.8 221.8,561.7 221.1,561.6 220.4,561.5 219.7,561.4 219,561.3 218.2,561.2 217.5,561.1 216.8,561 216.1,560.9 215.4,560.8 214.7,560.7 214,560.6 213.3,560.5 212.5,560.4 211.8,560.3 211.1,560.2 210.4,560.1 209.7,560 209,560 208.3,559.9 207.6,559.8 206.9,559.7 206.1,559.6 205.4,559.5 204.7,559.5 204,559.4 203.3,559.3 202.6,559.2 201.9,559.1 201.2,559.1 200.4,559 199.7,558.9 199,558.9 198.3,558.8 197.6,558.7 196.9,558.7 196.2,558.6 195.5,558.5 194.7,558.5 194,558.4 193.3,558.4 192.6,558.3 191.9,558.2 191.2,558.2 190.5,558.1 189.8,558.1 189,558 188.3,558 187.6,558 186.9,557.9 186.2,557.9 185.5,557.8 184.8,557.8 184.1,557.8 183.3,557.7 182.6,557.7 181.9,557.7 181.2,557.6 180.5,557.6 179.8,557.6 179.1,557.6 178.4,557.6 177.6,557.5 176.9,557.5 176.2,557.5 175.5,557.5 174.8,557.5 174.1,557.5 173.4,557.5 172.7,557.5 172,557.5 171.2,557.5 170.5,557.5 169.8,557.5 169.1,557.5 168.4,557.5 167.7,557.5 167,557.5 166.3,557.6 165.5,557.6 164.8,557.6 164.1,557.6 163.4,557.6 162.7,557.7 162,557.7 161.3,557.7 160.6,557.8 159.8,557.8 159.1,557.8 158.4,557.9 157.7,557.9 157,558 156.3,558 155.6,558.1 154.9,558.1 154.1,558.2 153.4,558.3 152.7,558.3 152,558.4 151.3,558.5 150.6,558.5 149.9,558.6 149.2,558.7 148.4,558.8 147.7,558.8 147,558.9 146.3,559 145.6,559.1 144.9,559.2 144.2,559.3 143.5,559.4 142.8,559.5 142,559.6 141.3,559.7 140.6,559.8 139.9,559.9 139.2,560.1 138.5,560.2 137.8,560.3 137.1,560.4 136.3,560.5 135.6,560.7 134.9,560.8 134.2,561 133.5,561.1 132.8,561.2 132.1,561.4 131.4,561.5 130.6,561.7 129.9,561.8 129.2,562 128.5,562.2 127.8,562.4 127.1,562.6 126.4,562.9 125.7,563.3 124.9,563.6 124.2,563.9 123.5,564.3 122.8,564.6 122.1,564.9 121.4,565.3 120.7,565.7 120,566 119.2,566.3 118.5,566.6 117.8,566.6 117.1,566.4 116.4,566.1 115.7,565.8 115,565.4 114.3,564.9 113.9,564.5 113.5,564.1 113.2,563.6 112.8,563 112.5,562.4 112.1,561.6 111.8,560.4 111.4,558.8 111.1,557 110.7,555.1 110.3,553.1 110,551.1 109.6,549.3 109.3,547.5 108.9,545.5 108.6,543.5 108.2,541.5 107.9,539.5 107.5,537.6 107.1,536 106.8,534.5 106.4,533.3 106.1,532.2 105.7,531.2 105.4,530.2 105,529.3 104.6,528.6 104.3,527.9 103.9,527.4 103.2,526.9 102.5,527.1 101.8,527.7 101.4,528.1 101.1,528.5 100.7,529.1 100.4,529.6 100,530.3 99.7,531 99.3,531.7 98.9,532.5 98.6,533.3 98.2,534.4 97.9,535.5 97.5,536.7 97.2,537.9 96.8,539.2 96.5,540.5 96.1,541.7 95.7,542.8 95.4,543.9 95,544.8 94.7,545.5 94.3,546.1 94,546.7 93.6,547.2 93.3,547.7 92.9,548.1 92.5,548.5 92.2,548.9 91.8,549.3 91.5,549.7 91.1,550.1 90.8,550.5 90,551.1 89.3,551.7 88.6,552.3 88.3,552.7 87.9,553.2 87.6,553.7 87.2,554.3 86.8,555 86.5,555.8 86.1,556.6 85.8,557.4 85.4,558.2 85.1,559.1 84.7,559.9 84.3,560.6 84,561.4 83.6,562.1 83.3,562.8 82.9,563.5 82.6,564.2 82.2,565 81.9,565.8 81.5,566.8 81.1,567.8 80.8,569.1 80.4,570.6 80.1,572.4 79.7,574.3 79.4,576.2 79,578.2 78.7,580.1 78.3,581.9 77.9,583.5 77.6,584.9 77.2,586.2 76.9,587.6 76.5,588.9 76.2,590.1 75.8,591.2 75.4,592.1 75.1,592.8 74.7,593.2 74,593.3 73.3,592.6 73,592 72.6,591.2 72.2,590.4 71.9,589.4 71.5,588.5 71.2,587.4 70.8,586.2 70.5,584.9 70.1,583.5 69.7,582.1 69.4,580.6 69,579.2 68.7,577.8 68.3,576.5 68,575.3 67.6,574.2 67.3,573.1 66.9,572 66.5,570.9 66.2,569.9 65.8,568.9 65.5,568 65.1,567.2 64.8,566.5 64.4,566 64,565.6 63.7,565.2 63.3,564.8 63,564.4 62.3,563.9 61.6,563.8 60.8,564.1 60.1,564.6 59.4,565.2 58.7,565.8 58,566.4 57.3,566.9 56.6,567.5 55.9,568 55.1,568.4 54.4,568.7 53.7,568.8 53,568.8 52.3,568.7 51.6,568.6 50.9,568.3 50.2,568 49.4,567.6 48.7,567.1 48,566.5 47.3,565.8 47,565.5 46.6,565.1Z" fill="#fbf4d6" fill-opacity="0.9" />
<path d="M46.6,565.1 47,565.5 47.3,565.8 47.7,566.2 48.4,566.8 49.1,567.4 49.8,567.8 50.5,568.1 51.2,568.5 51.9,568.7 52.7,568.8 53.4,568.8 54.1,568.8 54.8,568.6 55.5,568.2 56.2,567.8 56.9,567.2 57.6,566.7 58.4,566.1 59.1,565.5 59.8,564.9 60.5,564.4 61.2,563.9 61.9,563.8 62.6,564.1 63.3,564.8 63.7,565.2 64,565.6 64.4,566 64.8,566.5 65.1,567.2 65.5,568 65.8,568.9 66.2,569.9 66.5,570.9 66.9,572 67.3,573.1 67.6,574.2 68,575.3 68.3,576.5 68.7,577.8 69,579.2 69.4,580.6 69.7,582.1 70.1,583.5 70.5,584.9 70.8,586.2 71.2,587.4 71.5,588.5 71.9,589.4 72.2,590.4 72.6,591.2 73,592 73.3,592.6 73.7,593 74.4,593.4 75.1,592.8 75.4,592.1 75.8,591.2 76.2,590.1 76.5,588.9 76.9,587.6 77.2,586.2 77.6,584.9 77.9,583.5 78.3,581.9 78.7,580.1 79,578.2 79.4,576.2 79.7,574.3 80.1,572.4 80.4,570.6 80.8,569.1 81.1,567.8 81.5,566.8 81.9,565.8 82.2,565 82.6,564.2 82.9,563.5 83.3,562.8 83.6,562.1 84,561.4 84.3,560.6 84.7,559.9 85.1,559.1 85.4,558.2 85.8,557.4 86.1,556.6 86.5,555.8 86.8,555 87.2,554.3 87.6,553.7 87.9,553.2 88.3,552.7 88.6,552.3 89,552 89.7,551.4 90.4,550.8 91.1,550.1 91.5,549.7 91.8,549.3 92.2,548.9 92.5,548.5 92.9,548.1 93.3,547.7 93.6,547.2 94,546.7 94.3,546.1 94.7,545.5 95,544.8 95.4,543.9 95.7,542.8 96.1,541.7 96.5,540.5 96.8,539.2 97.2,537.9 97.5,536.7 97.9,535.5 98.2,534.4 98.6,533.3 98.9,532.5 99.3,531.7 99.7,531 100,530.3 100.4,529.6 100.7,529.1 101.1,528.5 101.4,528.1 101.8,527.7 102.5,527.1 103.2,526.9 103.9,527.4 104.3,527.9 104.6,528.6 105,529.3 105.4,530.2 105.7,531.2 106.1,532.2 106.4,533.3 106.8,534.5 107.1,536 107.5,537.6 107.9,539.5 108.2,541.5 108.6,543.5 108.9,545.5 109.3,547.5 109.6,549.3 110,551.1 110.3,553.1 110.7,555.1 111.1,557 111.4,558.8 111.8,560.4 112.1,561.6 112.5,562.4 112.8,563 113.2,563.6 113.5,564.1 113.9,564.5 114.3,564.9 115,565.4 115.7,565.8 116.4,566.1 117.1,566.4 117.8,566.6 118.5,566.6 119.2,566.3 120,566 120.7,565.7 121.4,565.3 122.1,564.9 122.8,564.6 123.5,564.3 124.2,563.9 124.9,563.6 125.7,563.3 126.4,562.9 127.1,562.6 127.8,562.4 128.5,562.2 129.2,562 129.9,561.8 130.6,561.7 131.4,561.5 132.1,561.4 132.8,561.2 133.5,561.1 134.2,561 134.9,560.8 135.6,560.7 136.3,560.5 137.1,560.4 137.8,560.3 138.5,560.2 139.2,560.1 139.9,559.9 140.6,559.8 141.3,559.7 142,559.6 142.8,559.5 143.5,559.4 144.2,559.3 144.9,559.2 145.6,559.1 146.3,559 147,558.9 147.7,558.8 148.4,558.8 149.2,558.7 149.9,558.6 150.6,558.5 151.3,558.5 152,558.4 152.7,558.3 153.4,558.3 154.1,558.2 154.9,558.1 155.6,558.1 156.3,558 157,558 157.7,557.9 158.4,557.9 159.1,557.8 159.8,557.8 160.6,557.8 161.3,557.7 162,557.7 162.7,557.7 163.4,557.6 164.1,557.6 164.8,557.6 165.5,557.6 166.3,557.6 167,557.5 167.7,557.5 168.4,557.5 169.1,557.5 169.8,557.5 170.5,557.5 171.2,557.5 172,557.5 172.7,557.5 173.4,557.5 174.1,557.5 174.8,557.5 175.5,557.5 176.2,557.5 176.9,557.5 177.6,557.5 178.4,557.6 179.1,557.6 179.8,557.6 180.5,557.6 181.2,557.6 181.9,557.7 182.6,557.7 183.3,557.7 184.1,557.8 184.8,557.8 185.5,557.8 186.2,557.9 186.9,557.9 187.6,558 188.3,558 189,558 189.8,558.1 190.5,558.1 191.2,558.2 191.9,558.2 192.6,558.3 193.3,558.4 194,558.4 194.7,558.5 195.5,558.5 196.2,558.6 196.9,558.7 197.6,558.7 198.3,558.8 199,558.9 199.7,558.9 200.4,559 201.2,559.1 201.9,559.1 202.6,559.2 203.3,559.3 204,559.4 204.7,559.5 205.4,559.5 206.1,559.6 206.9,559.7 207.6,559.8 208.3,559.9 209,560 209.7,560 210.4,560.1 211.1,560.2 211.8,560.3 212.5,560.4 213.3,560.5 214,560.6 214.7,560.7 215.4,560.8 216.1,560.9 216.8,561 217.5,561.1 218.2,561.2 219,561.3 219.7,561.4 220.4,561.5 221.1,561.6 221.8,561.7 222.5,561.8 223.2,561.9 223.9,562 224.3,562.1" fill="none" stroke="#f3d2b6" stroke-width="1.3" stroke-linejoin="round"  />
<path d="M46.6,559.1 47,558.7 47.3,558.2 47.7,557.8 48,557.3 48.4,556.9 48.7,556.6 49.4,556 50.2,555.5 50.9,555.1 51.6,554.7 52.3,554.6 53,554.6 53.7,554.7 54.4,554.9 55.1,555.2 55.9,555.8 56.6,556.3 57.3,556.9 58,557.5 58.7,558 59.4,558.6 60.1,559.1 60.8,559.5 61.6,559.8 62.3,559.7 63,559.3 63.7,558.6 64,558.3 64.4,557.9 64.8,557.4 65.1,556.8 65.5,556 65.8,555.1 66.2,554.1 66.5,553 66.9,551.9 67.3,550.8 67.6,549.7 68,548.6 68.3,547.4 68.7,546.1 69,544.8 69.4,543.4 69.7,542 70.1,540.6 70.5,539.2 70.8,537.9 71.2,536.8 71.5,535.7 71.9,534.8 72.2,533.9 72.6,533 73,532.3 73.3,531.6 73.7,531.2 74.4,530.8 75.1,531.4 75.4,532.1 75.8,533 76.2,534.1 76.5,535.3 76.9,536.6 77.2,538 77.6,539.3 77.9,540.7 78.3,542.3 78.7,544.1 79,546 79.4,548 79.7,549.9 80.1,551.8 80.4,553.6 80.8,555.1 81.1,556.4 81.5,557.4 81.9,558.4 82.2,559.2 82.6,560 82.9,560.7 83.3,561.4 83.6,562.1 84,562.8 84.3,563.6 84.7,564.3 85.1,565.2 85.4,566 85.8,566.8 86.1,567.7 86.5,568.5 86.8,569.2 87.2,569.9 87.6,570.5 87.9,571 88.3,571.4 89,572 89.7,572.5 90.4,572.9 91.1,573.5 91.8,574.2 92.2,574.5 92.5,574.9 92.9,575.3 93.3,575.7 93.6,576.1 94,576.6 94.3,577.2 94.7,577.8 95,578.5 95.4,579.5 95.7,580.6 96.1,581.8 96.5,583.1 96.8,584.5 97.2,585.8 97.5,587.2 97.9,588.5 98.2,589.7 98.6,590.8 98.9,591.7 99.3,592.5 99.7,593.3 100,594.1 100.4,594.8 100.7,595.5 101.1,596 101.4,596.6 101.8,597 102.2,597.4 102.9,597.8 103.6,597.7 103.9,597.3 104.3,596.8 104.6,596.2 105,595.4 105.4,594.4 105.7,593.4 106.1,592.3 106.4,591.2 106.8,590 107.1,588.5 107.5,586.7 107.9,584.8 108.2,582.8 108.6,580.8 108.9,578.7 109.3,576.7 109.6,574.9 110,573 110.3,571.1 110.7,569.1 111.1,567.2 111.4,565.4 111.8,563.8 112.1,562.6 112.5,561.8 112.8,561.2 113.2,560.6 113.5,560.1 113.9,559.7 114.3,559.3 115,558.8 115.7,558.4 116.4,558.1 117.1,557.8 117.8,557.6 118.5,557.6 119.2,557.9 120,558.2 120.7,558.5 121.4,558.9 122.1,559.3 122.8,559.6 123.5,559.9 124.2,560.3 124.9,560.6 125.7,560.9 126.4,561.3 127.1,561.6 127.8,561.8 128.5,562 129.2,562.2 129.9,562.4 130.6,562.5 131.4,562.7 132.1,562.8 132.8,563 133.5,563.1 134.2,563.2 134.9,563.4 135.6,563.5 136.3,563.7 137.1,563.8 137.8,563.9 138.5,564 139.2,564.1 139.9,564.3 140.6,564.4 141.3,564.5 142,564.6 142.8,564.7 143.5,564.8 144.2,564.9 144.9,565 145.6,565.1 146.3,565.2 147,565.3 147.7,565.4 148.4,565.4 149.2,565.5 149.9,565.6 150.6,565.7 151.3,565.7 152,565.8 152.7,565.9 153.4,565.9 154.1,566 154.9,566.1 155.6,566.1 156.3,566.2 157,566.2 157.7,566.3 158.4,566.3 159.1,566.4 159.8,566.4 160.6,566.4 161.3,566.5 162,566.5 162.7,566.5 163.4,566.6 164.1,566.6 164.8,566.6 165.5,566.6 166.3,566.6 167,566.7 167.7,566.7 168.4,566.7 169.1,566.7 169.8,566.7 170.5,566.7 171.2,566.7 172,566.7 172.7,566.7 173.4,566.7 174.1,566.7 174.8,566.7 175.5,566.7 176.2,566.7 176.9,566.7 177.6,566.7 178.4,566.6 179.1,566.6 179.8,566.6 180.5,566.6 181.2,566.6 181.9,566.5 182.6,566.5 183.3,566.5 184.1,566.4 184.8,566.4 185.5,566.4 186.2,566.3 186.9,566.3 187.6,566.2 188.3,566.2 189,566.2 189.8,566.1 190.5,566.1 191.2,566 191.9,566 192.6,565.9 193.3,565.8 194,565.8 194.7,565.7 195.5,565.7 196.2,565.6 196.9,565.5 197.6,565.5 198.3,565.4 199,565.3 199.7,565.3 200.4,565.2 201.2,565.1 201.9,565.1 202.6,565 203.3,564.9 204,564.8 204.7,564.7 205.4,564.7 206.1,564.6 206.9,564.5 207.6,564.4 208.3,564.3 209,564.2 209.7,564.2 210.4,564.1 211.1,564 211.8,563.9 212.5,563.8 213.3,563.7 214,563.6 214.7,563.5 215.4,563.4 216.1,563.3 216.8,563.2 217.5,563.1 218.2,563 219,562.9 219.7,562.8 220.4,562.7 221.1,562.6 221.8,562.5 222.5,562.4 223.2,562.3 223.9,562.2 224.3,562.1" fill="none" stroke="#cfe2f1" stroke-width="1.3" stroke-linejoin="round"  />
<path d="M46.6,564.5 47,565.1 47.3,565.8 47.7,566.4 48,567 48.4,567.5 48.7,568 49.1,568.5 49.4,568.9 49.8,569.2 50.2,569.6 50.5,570 51.2,570.6 51.9,571 52.7,571.4 53.4,571.7 54.1,571.8 54.8,571.5 55.5,571 56.2,570.3 56.6,569.9 56.9,569.5 57.3,569.1 57.6,568.6 58,568.2 58.4,567.8 58.7,567.4 59.1,567 59.4,566.5 59.8,566 60.1,565.6 60.5,565.2 60.8,564.8 61.6,564.3 62.3,564.4 63,564.9 63.3,565.2 63.7,565.7 64,566.1 64.4,566.6 64.8,567.2 65.1,568 65.5,568.9 65.8,569.9 66.2,571 66.5,572.2 66.9,573.4 67.3,574.7 67.6,575.9 68,577.1 68.3,578.5 68.7,579.9 69,581.4 69.4,583 69.7,584.6 70.1,586.1 70.5,587.6 70.8,589 71.2,590.3 71.5,591.5 71.9,592.5 72.2,593.4 72.6,594.3 73,595.1 73.3,595.7 73.7,596.1 74.4,596.4 75.1,595.7 75.4,594.9 75.8,593.9 76.2,592.7 76.5,591.3 76.9,589.9 77.2,588.5 77.6,587 77.9,585.5 78.3,583.7 78.7,581.8 79,579.7 79.4,577.6 79.7,575.5 80.1,573.4 80.4,571.5 80.8,569.8 81.1,568.4 81.5,567.3 81.9,566.3 82.2,565.4 82.6,564.5 82.9,563.7 83.3,563 83.6,562.2 84,561.4 84.3,560.6 84.7,559.8 85.1,558.9 85.4,558 85.8,557.1 86.1,556.2 86.5,555.4 86.8,554.6 87.2,553.8 87.6,553.1 87.9,552.6 88.3,552.1 88.6,551.7 89.3,551 90,550.5 90.8,549.9 91.1,549.5 91.5,549.1 91.8,548.7 92.2,548.3 92.5,547.9 92.9,547.4 93.3,546.9 93.6,546.4 94,545.9 94.3,545.3 94.7,544.6 95,543.8 95.4,542.8 95.7,541.6 96.1,540.3 96.5,538.9 96.8,537.5 97.2,536.1 97.5,534.7 97.9,533.4 98.2,532.1 98.6,531 98.9,530.1 99.3,529.3 99.7,528.6 100,527.9 100.4,527.2 100.7,526.7 101.1,526.2 101.4,525.7 101.8,525.4 102.5,524.9 103.2,524.9 103.9,525.5 104.3,526.1 104.6,526.8 105,527.6 105.4,528.5 105.7,529.5 106.1,530.6 106.4,531.8 106.8,533.1 107.1,534.6 107.5,536.3 107.9,538.2 108.2,540.3 108.6,542.4 108.9,544.5 109.3,546.5 109.6,548.4 110,550.3 110.3,552.4 110.7,554.5 111.1,556.5 111.4,558.5 111.8,560.1 112.1,561.5 112.5,562.4 112.8,563.2 113.2,563.9 113.5,564.5 113.9,565 114.3,565.5 114.6,565.9 115.3,566.5 116,567 116.8,567.5 117.5,567.9 118.2,568.1 118.9,567.9 119.6,567.5 120.3,567.1 121,566.5 121.7,566 122.5,565.4 123.2,565 123.9,564.5 124.6,564.1 125.3,563.6 126,563.2 126.7,562.8 127.4,562.4 128.1,562.2 128.9,562.1 129.6,562 130.3,562 131,562 131.7,562 132.4,562 133.1,562 133.8,562 134.6,562 135.3,562 136,562 136.7,562.1 137.4,562.1 138.1,562.1 138.8,562.1 139.5,562.2 140.3,562.2 141,562.2 141.7,562.2 142.4,562.2 143.1,562.2 143.8,562.1 144.5,562.1 145.2,562 146,562 146.7,561.9 147.4,561.9 148.1,561.8 148.8,561.7 149.5,561.6 150.2,561.6 150.9,561.5 151.7,561.4 152.4,561.3 153.1,561.2 153.8,561.1 154.5,561 155.2,561 155.9,560.9 156.6,560.8 157.4,560.7 158.1,560.6 158.8,560.5 159.5,560.4 160.2,560.3 160.9,560.2 161.6,560.1 162.3,560 163,560 163.8,559.9 164.5,559.8 165.2,559.7 165.9,559.6 166.6,559.6 167.3,559.5 168,559.4 168.7,559.4 169.5,559.3 170.2,559.3 170.9,559.2 171.6,559.2 172.3,559.2 173,559.2 173.7,559.1 174.4,559.1 175.2,559.1 175.9,559.1 176.6,559.2 177.3,559.2 178,559.3 178.7,559.4 179.4,559.6 180.1,559.7 180.9,559.9 181.6,560.1 182.3,560.3 183,560.5 183.7,560.7 184.4,560.9 185.1,561.1 185.8,561.3 186.6,561.5 187.3,561.7 188,561.9 188.7,562.1 189.4,562.3 190.1,562.5 190.8,562.7 191.5,562.9 192.2,563.1 193,563.3 193.7,563.5 194.4,563.8 195.1,564 195.8,564.2 196.5,564.5 197.2,564.7 197.9,564.9 198.7,565.2 199.4,565.4 200.1,565.6 200.8,565.8 201.5,566 202.2,566.2 202.9,566.4 203.6,566.6 204.4,566.7 205.1,566.9 205.8,567 206.5,567.2 207.2,567.3 207.9,567.3 208.6,567.3 209.3,567.3 210.1,567.3 210.8,567.2 211.5,567.1 212.2,567 212.9,566.8 213.6,566.7 214.3,566.5 215,566.3 215.8,566 216.5,565.8 217.2,565.5 217.9,565.3 218.6,565 219.3,564.7 220,564.4 220.7,564.1 221.5,563.8 222.2,563.6 222.9,563.3 223.6,563 224.3,562.7" fill="none" stroke="#ee8a8a" stroke-width="1.2" stroke-linejoin="round"  />
<path d="M46.6,559.7 47,558.7 47.3,557.7 47.7,556.7 48,555.8 48.4,555 48.7,554.2 49.1,553.5 49.4,552.8 49.8,552.2 50.2,551.6 50.5,551.1 50.9,550.6 51.2,550.1 51.9,549.6 52.7,549.4 53.4,549.4 54.1,549.8 54.8,550.4 55.1,550.8 55.5,551.3 55.9,551.8 56.2,552.4 56.6,553 56.9,553.6 57.3,554.2 57.6,554.8 58,555.3 58.4,555.8 58.7,556.4 59.1,556.9 59.4,557.5 59.8,558 60.1,558.5 60.5,558.9 60.8,559.3 61.6,559.9 62.3,559.9 63,559.4 63.3,559 63.7,558.6 64,558.1 64.4,557.6 64.8,556.9 65.1,556.2 65.5,555.2 65.8,554.2 66.2,553.1 66.5,551.9 66.9,550.7 67.3,549.5 67.6,548.3 68,547.1 68.3,545.8 68.7,544.4 69,543 69.4,541.6 69.7,540.1 70.1,538.6 70.5,537.2 70.8,535.9 71.2,534.7 71.5,533.6 71.9,532.7 72.2,531.7 72.6,530.9 73,530.1 73.3,529.5 73.7,529 74.4,528.7 75.1,529.4 75.4,530.1 75.8,531.1 76.2,532.3 76.5,533.6 76.9,535 77.2,536.4 77.6,537.8 77.9,539.3 78.3,541 78.7,542.8 79,544.8 79.4,546.9 79.7,548.9 80.1,550.9 80.4,552.8 80.8,554.4 81.1,555.8 81.5,556.9 81.9,557.9 82.2,558.8 82.6,559.7 82.9,560.5 83.3,561.2 83.6,562 84,562.8 84.3,563.6 84.7,564.4 85.1,565.3 85.4,566.2 85.8,567.1 86.1,568 86.5,568.9 86.8,569.7 87.2,570.4 87.6,571.1 87.9,571.6 88.3,572.1 89,572.7 89.7,573.1 90.4,573.5 91.1,574.1 91.5,574.5 91.8,574.8 92.2,575.2 92.5,575.6 92.9,576 93.3,576.4 93.6,576.9 94,577.5 94.3,578 94.7,578.7 95,579.5 95.4,580.5 95.7,581.6 96.1,582.9 96.5,584.3 96.8,585.7 97.2,587.1 97.5,588.5 97.9,589.8 98.2,591.1 98.6,592.2 98.9,593.2 99.3,594.1 99.7,594.9 100,595.6 100.4,596.3 100.7,597 101.1,597.6 101.4,598.1 101.8,598.6 102.2,598.9 102.9,599.3 103.6,599.2 103.9,598.8 104.3,598.2 104.6,597.5 105,596.7 105.4,595.8 105.7,594.7 106.1,593.6 106.4,592.4 106.8,591.1 107.1,589.6 107.5,587.9 107.9,585.9 108.2,583.9 108.6,581.8 108.9,579.7 109.3,577.7 109.6,575.8 110,573.9 110.3,571.8 110.7,569.7 111.1,567.7 111.4,565.7 111.8,564.1 112.1,562.7 112.5,561.8 112.8,561 113.2,560.3 113.5,559.7 113.9,559.2 114.3,558.7 114.6,558.3 115.3,557.7 116,557.2 116.8,556.7 117.5,556.3 118.2,556.1 118.9,556.3 119.6,556.7 120.3,557.1 121,557.7 121.7,558.2 122.5,558.8 123.2,559.2 123.9,559.7 124.6,560.1 125.3,560.6 126,561.1 126.7,561.5 127.4,561.8 128.1,562 128.9,562.1 129.6,562.1 130.3,562.2 131,562.2 131.7,562.2 132.4,562.2 133.1,562.2 133.8,562.2 134.6,562.2 135.3,562.1 136,562.1 136.7,562.1 137.4,562.1 138.1,562.1 138.8,562.1 139.5,562.1 140.3,562.1 141,562.1 141.7,562.1 142.4,562.1 143.1,562.1 143.8,562.1 144.5,562.1 145.2,562.1 146,562.2 146.7,562.2 147.4,562.2 148.1,562.2 148.8,562.3 149.5,562.3 150.2,562.3 150.9,562.4 151.7,562.4 152.4,562.5 153.1,562.5 153.8,562.5 154.5,562.6 155.2,562.6 155.9,562.7 156.6,562.7 157.4,562.7 158.1,562.8 158.8,562.8 159.5,562.9 160.2,562.9 160.9,563 161.6,563 162.3,563.1 163,563.1 163.8,563.1 164.5,563.2 165.2,563.2 165.9,563.3 166.6,563.3 167.3,563.4 168,563.4 168.7,563.5 169.5,563.5 170.2,563.5 170.9,563.6 171.6,563.6 172.3,563.7 173,563.7 173.7,563.7 174.4,563.8 175.2,563.8 175.9,563.8 176.6,563.9 177.3,563.9 178,563.9 178.7,564 179.4,564 180.1,564 180.9,564 181.6,564.1 182.3,564.1 183,564.1 183.7,564.1 184.4,564.1 185.1,564.2 185.8,564.2 186.6,564.2 187.3,564.2 188,564.2 188.7,564.2 189.4,564.2 190.1,564.1 190.8,563.9 191.5,563.8 192.2,563.6 193,563.3 193.7,563.1 194.4,562.9 195.1,562.7 195.8,562.5 196.5,562.3 197.2,562.2 197.9,562.1 198.7,562 199.4,561.9 200.1,561.9 200.8,561.8 201.5,561.7 202.2,561.7 202.9,561.6 203.6,561.6 204.4,561.6 205.1,561.5 205.8,561.5 206.5,561.5 207.2,561.5 207.9,561.4 208.6,561.4 209.3,561.4 210.1,561.4 210.8,561.4 211.5,561.4 212.2,561.4 212.9,561.5 213.6,561.5 214.3,561.5 215,561.5 215.8,561.5 216.5,561.6 217.2,561.6 217.9,561.6 218.6,561.7 219.3,561.7 220,561.8 220.7,561.8 221.5,561.9 222.2,561.9 222.9,562 223.6,562 224.3,562.1" fill="none" stroke="#93bde0" stroke-width="1.4" stroke-linejoin="round"  />
<path d="M46.6,563.6 47,564.8 47.3,566.1 47.7,567.3 48,568.5 48.4,569.6 48.7,570.8 49.1,571.9 49.4,573.1 49.8,574.2 50.2,575.3 50.5,576.4 50.9,577.2 51.2,578 51.6,578.6 51.9,579.2 52.3,579.8 52.7,580.3 53,580.7 53.7,581.1 54.4,581.2 55.1,580.5 55.5,579.9 55.9,579.1 56.2,578.3 56.6,577.4 56.9,576.4 57.3,575.5 57.6,574.3 58,572.8 58.4,571.2 58.7,569.6 59.1,568 59.4,566.6 59.8,565.4 60.1,564.7 60.5,564 60.8,563.4 61.2,562.8 61.6,562.3 61.9,561.9 62.6,561.4 63.3,561.2 64,561.4 64.8,562.1 65.1,562.6 65.5,563.2 65.8,563.8 66.2,564.8 66.5,566 66.9,567.5 67.3,569.1 67.6,570.9 68,572.7 68.3,574.5 68.7,576.3 69,578.1 69.4,579.9 69.7,581.8 70.1,583.8 70.5,585.8 70.8,587.9 71.2,589.9 71.5,591.9 71.9,593.9 72.2,595.8 72.6,597.7 73,599.4 73.3,601.1 73.7,602.6 74,604.1 74.4,605.6 74.7,606.9 75.1,608.2 75.4,609.3 75.8,610.4 76.2,611.3 76.5,612 76.9,612.6 77.2,613 77.9,613 78.3,612.5 78.7,611.4 79,609.7 79.4,607.5 79.7,604.9 80.1,602.2 80.4,599.3 80.8,596.5 81.1,593.5 81.5,590 81.9,586.2 82.2,582.2 82.6,578.1 82.9,574.1 83.3,570.3 83.6,567 84,564.2 84.3,562.2 84.7,560.6 85.1,559.2 85.4,557.9 85.8,556.8 86.1,555.8 86.5,554.9 86.8,554.2 87.2,553.5 87.6,553.1 87.9,552.6 88.3,552.2 88.6,551.7 89,551.3 89.3,551 89.7,550.6 90.4,550 91.1,549.5 91.8,549.2 92.5,548.7 92.9,548.3 93.3,547.8 93.6,547.1 94,546.4 94.3,545.5 94.7,544.6 95,543.6 95.4,542.6 95.7,541.6 96.1,540.5 96.5,539.5 96.8,538.3 97.2,537 97.5,535.6 97.9,534.1 98.2,532.7 98.6,531.3 98.9,529.9 99.3,528.7 99.7,527.6 100,526.7 100.4,525.9 100.7,525.2 101.1,524.5 101.4,523.9 101.8,523.4 102.2,523 102.5,522.6 103.2,522.1 103.9,521.9 104.6,522.3 105,522.8 105.4,523.5 105.7,524.4 106.1,525.4 106.4,526.6 106.8,527.8 107.1,529.2 107.5,531.1 107.9,533.4 108.2,536.1 108.6,538.9 108.9,541.7 109.3,544.4 109.6,546.9 110,549.1 110.3,551.4 110.7,553.7 111.1,555.8 111.4,557.9 111.8,559.7 112.1,561.3 112.5,562.5 112.8,563.7 113.2,564.8 113.5,565.8 113.9,566.7 114.3,567.5 114.6,568.3 115,568.9 115.3,569.4 115.7,569.8 116,570.2 116.4,570.6 116.8,571.1 117.1,571.5 117.5,571.9 117.8,572.2 118.5,572.8 119.2,573.1 120,573.1 120.7,572.8 121.4,572.3 122.1,571.6 122.5,571.3 122.8,570.9 123.2,570.4 123.5,570 123.9,569.6 124.2,569.1 124.6,568.5 124.9,567.8 125.3,567.1 125.7,566.3 126,565.6 126.4,564.9 126.7,564.4 127.1,563.9 127.8,563.4 128.5,563 129.2,562.7 129.9,562.4 130.6,562.2 131.4,562.1 132.1,562.1 132.8,562.1 133.5,562.1 134.2,562.1 134.9,562.1 135.6,562.1 136.3,562.1 137.1,562.1 137.8,562.1 138.5,562.2 139.2,562.2 139.9,562.2 140.6,562.2 141.3,562.2 142,562.2 142.8,562.2 143.5,562.1 144.2,562.1 144.9,562.1 145.6,562 146.3,562 147,562 147.7,561.9 148.4,561.9 149.2,561.9 149.9,561.8 150.6,561.8 151.3,561.8 152,561.7 152.7,561.7 153.4,561.6 154.1,561.6 154.9,561.6 155.6,561.5 156.3,561.5 157,561.4 157.7,561.4 158.4,561.4 159.1,561.3 159.8,561.3 160.6,561.2 161.3,561.2 162,561.2 162.7,561.1 163.4,561.1 164.1,561 164.8,561 165.5,561 166.3,560.9 167,560.9 167.7,560.8 168.4,560.8 169.1,560.7 169.8,560.7 170.5,560.6 171.2,560.6 172,560.5 172.7,560.4 173.4,560.4 174.1,560.3 174.8,560.2 175.5,560.2 176.2,560.1 176.9,560 177.6,560 178.4,559.9 179.1,559.8 179.8,559.8 180.5,559.7 181.2,559.7 181.9,559.6 182.6,559.6 183.3,559.5 184.1,559.5 184.8,559.5 185.5,559.4 186.2,559.4 186.9,559.4 187.6,559.5 188.3,559.7 189,559.9 189.8,560.1 190.5,560.4 191.2,560.8 191.9,561.1 192.6,561.4 193.3,561.6 194,561.8 194.7,562 195.5,562.1 196.2,562.2 196.9,562.2 197.6,562.3 198.3,562.3 199,562.3 199.7,562.4 200.4,562.4 201.2,562.4 201.9,562.5 202.6,562.5 203.3,562.5 204,562.5 204.7,562.5 205.4,562.6 206.1,562.6 206.9,562.5 207.6,562.5 208.3,562.5 209,562.5 209.7,562.5 210.4,562.5 211.1,562.5 211.8,562.5 212.5,562.5 213.3,562.4 214,562.4 214.7,562.4 215.4,562.4 216.1,562.4 216.8,562.4 217.5,562.3 218.2,562.3 219,562.3 219.7,562.3 220.4,562.3 221.1,562.2 221.8,562.2 222.5,562.2 223.2,562.1 223.9,562.1 224.3,562.1" fill="none" stroke="#e42a2a" stroke-width="1.5" stroke-linejoin="round"  />
<path d="M46.6,560.6 47,559.3 47.3,558.1 47.7,556.8 48,555.7 48.4,554.5 48.7,553.4 49.1,552.3 49.4,551.3 49.8,550.2 50.2,549.2 50.5,548.3 50.9,547.5 51.2,546.9 51.6,546.2 51.9,545.7 52.3,545.1 52.7,544.7 53,544.3 53.7,543.9 54.4,544 55.1,544.8 55.5,545.5 55.9,546.3 56.2,547.2 56.6,548.2 56.9,549.2 57.3,550.2 57.6,551.4 58,552.7 58.4,554.1 58.7,555.6 59.1,557 59.4,558.3 59.8,559.3 60.1,560.2 60.5,560.9 60.8,561.6 61.2,562.1 61.6,562.5 62.3,563 63,563 63.7,562.6 64.4,561.9 64.8,561.4 65.1,560.8 65.5,560.2 65.8,559.3 66.2,558.3 66.5,557 66.9,555.6 67.3,554.2 67.6,552.6 68,551 68.3,549.4 68.7,547.8 69,546.2 69.4,544.5 69.7,542.8 70.1,540.9 70.5,539.1 70.8,537.2 71.2,535.3 71.5,533.3 71.9,531.5 72.2,529.6 72.6,527.9 73,526.2 73.3,524.6 73.7,523.1 74,521.6 74.4,520.2 74.7,518.9 75.1,517.6 75.4,516.4 75.8,515.3 76.2,514.4 76.5,513.6 76.9,512.9 77.2,512.5 77.9,512.4 78.3,512.9 78.7,514 79,515.8 79.4,518.1 79.7,520.7 80.1,523.5 80.4,526.4 80.8,529.2 81.1,532.1 81.5,535.5 81.9,539.1 82.2,543 82.6,546.9 82.9,550.6 83.3,554.2 83.6,557.4 84,560 84.3,562 84.7,563.6 85.1,565 85.4,566.3 85.8,567.5 86.1,568.5 86.5,569.4 86.8,570.1 87.2,570.7 87.6,571.1 87.9,571.5 88.3,571.9 89,572.5 89.7,573.1 90.4,573.6 91.1,573.9 91.8,574.1 92.5,574.4 93.3,575.1 93.6,575.7 94,576.4 94.3,577.2 94.7,578.1 95,579.1 95.4,580.1 95.7,581.2 96.1,582.2 96.5,583.3 96.8,584.4 97.2,585.8 97.5,587.2 97.9,588.8 98.2,590.3 98.6,591.8 98.9,593.2 99.3,594.5 99.7,595.7 100,596.6 100.4,597.5 100.7,598.2 101.1,598.9 101.4,599.5 101.8,600.1 102.2,600.6 102.5,601 103.2,601.5 103.9,601.7 104.6,601.3 105,600.8 105.4,600.1 105.7,599.2 106.1,598.2 106.4,597 106.8,595.8 107.1,594.4 107.5,592.6 107.9,590.3 108.2,587.8 108.6,585.1 108.9,582.3 109.3,579.7 109.6,577.3 110,575.1 110.3,572.8 110.7,570.6 111.1,568.4 111.4,566.4 111.8,564.5 112.1,562.9 112.5,561.7 112.8,560.5 113.2,559.4 113.5,558.4 113.9,557.5 114.3,556.7 114.6,556 115,555.3 115.3,554.8 115.7,554.4 116,553.9 116.4,553.5 116.8,553 117.1,552.6 117.5,552.3 118.2,551.7 118.9,551.6 119.6,552 120.3,552.5 121,553.2 121.4,553.6 121.7,554 122.1,554.4 122.5,554.9 122.8,555.3 123.2,555.7 123.5,556.2 123.9,556.8 124.2,557.4 124.6,558 124.9,558.6 125.3,559.2 125.7,559.7 126,560.1 126.7,560.7 127.4,561.1 128.1,561.4 128.9,561.7 129.6,561.9 130.3,562 131,562.1 131.7,562.1 132.4,562.1 133.1,562.1 133.8,562.1 134.6,562.1 135.3,562.1 136,562.1 136.7,562.1 137.4,562 138.1,562 138.8,562 139.5,562 140.3,562 141,562 141.7,562 142.4,562 143.1,562 143.8,562.1 144.5,562.1 145.2,562.2 146,562.2 146.7,562.2 147.4,562.3 148.1,562.3 148.8,562.4 149.5,562.4 150.2,562.5 150.9,562.5 151.7,562.6 152.4,562.6 153.1,562.7 153.8,562.7 154.5,562.8 155.2,562.8 155.9,562.9 156.6,562.9 157.4,563 158.1,563 158.8,563.1 159.5,563.1 160.2,563.1 160.9,563.2 161.6,563.2 162.3,563.2 163,563.3 163.8,563.3 164.5,563.3 165.2,563.4 165.9,563.4 166.6,563.4 167.3,563.4 168,563.5 168.7,563.5 169.5,563.5 170.2,563.5 170.9,563.5 171.6,563.6 172.3,563.6 173,563.6 173.7,563.6 174.4,563.6 175.2,563.6 175.9,563.6 176.6,563.6 177.3,563.5 178,563.5 178.7,563.5 179.4,563.4 180.1,563.3 180.9,563.2 181.6,563.1 182.3,563.1 183,563 183.7,562.9 184.4,562.7 185.1,562.6 185.8,562.5 186.6,562.4 187.3,562.3 188,562.2 188.7,562.1 189.4,562 190.1,561.9 190.8,561.7 191.5,561.6 192.2,561.4 193,561.2 193.7,561 194.4,560.8 195.1,560.5 195.8,560.3 196.5,560.1 197.2,559.9 197.9,559.6 198.7,559.4 199.4,559.2 200.1,559 200.8,558.8 201.5,558.6 202.2,558.5 202.9,558.3 203.6,558.2 204.4,558.1 205.1,558 205.8,558 206.5,557.9 207.2,558 207.9,558.1 208.6,558.3 209.3,558.6 210.1,558.9 210.8,559.2 211.5,559.6 212.2,560 212.9,560.3 213.6,560.7 214.3,560.9 215,561.1 215.8,561.3 216.5,561.4 217.2,561.5 217.9,561.6 218.6,561.7 219.3,561.7 220,561.8 220.7,561.8 221.5,561.9 222.2,561.9 222.9,561.9 223.6,561.8 224.3,561.8" fill="none" stroke="#2626e6" stroke-width="1.5" stroke-linejoin="round"  />
</g>
<rect x="152.1" y="496.6" width="72.2" height="53.8" fill="#fff"/>
<g clip-path="url(#cfi)">
<path d="M152.1,519.9 152.9,520.2 153.6,520.5 154.1,520.7 154.6,521 155.1,521.2 155.5,521.4 156,521.6 156.5,521.8 157,522 157.5,522.3 158,522.5 158.7,522.8 159.4,523.1 160.2,523.4 160.9,523.7 161.6,524.1 162.3,524.4 163.1,524.7 163.8,525 164.3,525.2 164.8,525.4 165.3,525.7 165.7,525.9 166.2,526.1 166.7,526.3 167.2,526.6 167.7,526.8 168.2,527 168.6,527.3 169.1,527.5 169.6,527.7 170.1,528 170.6,528.2 171.1,528.4 171.8,528.7 172.5,529 173.3,529.3 174,529.5 174.7,529.8 175.4,530 176.2,530.1 176.9,530.3 177.6,530.5 178.4,530.8 179.1,531.1 179.8,531.4 180.3,531.7 180.8,531.9 181.3,532.3 181.8,532.6 182.2,533 182.7,533.3 183.2,533.6 183.9,533.9 184.7,533.8 185.4,533.5 185.9,533 186.4,532.5 186.9,531.8 187.3,531.1 187.8,530.3 188.3,529.5 188.8,528.7 189.3,527.9 189.8,527.1 190.3,526.3 190.7,525.6 191.2,525 191.7,524.4 192.2,523.8 192.7,523.2 193.2,522.7 193.7,522.1 194.1,521.6 194.6,521 195.1,520.5 195.6,520 196.1,519.5 196.6,519 197,518.5 197.5,518 198,517.6 198.5,517.1 199,516.6 199.5,516.1 200,515.7 200.4,515.2 200.9,514.7 201.4,514.3 201.9,513.8 202.4,513.3 202.9,512.8 203.4,512.3 203.8,511.8 204.3,511.3 204.8,510.8 205.3,510.4 205.8,509.9 206.3,509.5 206.8,509 207.2,508.6 207.7,508.3 208.2,507.9 208.7,507.7 209.4,507.6 210.2,507.7 210.6,508 211.1,508.4 211.6,509 212.1,509.8 212.6,510.7 212.8,511.2 213.1,511.7 213.3,512.3 213.6,512.8 213.8,513.4 214,514 214.3,514.6 214.5,515.2 214.8,515.8 215,516.4 215.3,516.9 215.5,517.4 215.7,517.9 216.2,518.8 216.7,519.5 217.2,520 217.7,520.5 218.2,520.9 218.7,521.2 219.1,521.4 219.9,521.7 220.6,521.9 221.3,522 222.1,522.1 222.8,522.1 223.5,522.1 224.2,522.1 224.7,523.1 224,523.1 223.3,523.1 222.5,523.1 221.8,523.1 221.1,523.1 220.4,523.1 219.6,523.1 218.9,523.1 218.2,523 217.4,523 216.7,523 216,523 215.3,523 214.5,523 213.8,523.1 213.1,523.1 212.3,523.1 211.6,523.1 210.9,523.1 210.2,523.1 209.4,523.1 208.7,523.1 208,523.2 207.2,523.2 206.5,523.3 205.8,523.4 205.1,523.6 204.3,523.7 203.6,524 202.9,524.3 202.4,524.5 201.9,524.8 201.4,525 200.9,525.4 200.4,525.8 200,526.2 199.5,526.6 199,527 198.5,527.5 198,528 197.5,528.4 197,528.9 196.6,529.3 196.1,529.8 195.6,530.1 195.1,530.5 194.6,530.8 194.1,531 193.4,531.2 192.7,531.3 192,531.3 191.2,531.1 190.5,530.9 189.8,530.6 189,530.3 188.3,530 187.6,529.7 186.9,529.5 186.1,529.3 185.4,529.1 184.7,528.9 183.9,528.7 183.2,528.5 182.5,528.3 181.8,528.1 181,527.9 180.3,527.6 179.6,527.4 178.8,527.1 178.1,526.8 177.4,526.5 176.7,526.2 175.9,526 175.2,525.7 174.5,525.4 173.7,525.2 173,525 172.3,524.8 171.6,524.6 170.8,524.4 170.1,524.2 169.4,524.1 168.6,524 167.9,523.8 167.2,523.7 166.5,523.6 165.7,523.5 165,523.4 164.3,523.3 163.6,523.2 162.8,523.2 162.1,523.1 161.4,523.1 160.6,523.1 159.9,523.1 159.2,523.1 158.5,523.2 157.7,523.2 157,523.3 156.3,523.4 155.5,523.5 154.8,523.7 154.1,523.8 153.4,523.9 152.6,524.1 152.1,524.2Z" fill="#dce8f6"  />
<path d="M152.1,525.2 152.9,525 153.6,524.8 154.3,524.6 155.1,524.4 155.8,524.2 156.5,524 157.2,523.7 158,523.5 158.7,523.3 159.4,523.1 160.2,522.9 160.9,522.6 161.6,522.3 162.3,522 163.1,521.7 163.6,521.5 164,521.3 164.5,521.1 165,520.8 165.5,520.6 166,520.3 166.5,520 166.9,519.7 167.4,519.4 167.9,519.1 168.4,518.8 168.9,518.4 169.4,518.1 169.9,517.8 170.3,517.5 170.8,517.2 171.3,516.9 171.8,516.6 172.3,516.3 172.8,516.1 173.3,515.9 174,515.6 174.7,515.4 175.4,515.2 176.2,515 176.9,514.8 177.6,514.5 178.1,514.3 178.6,514 179.1,513.8 179.6,513.5 180.1,513.2 180.5,512.9 181,512.6 181.5,512.4 182,512.2 182.7,511.9 183.5,511.8 184.2,511.8 184.9,511.9 185.6,512.2 186.1,512.6 186.6,513 187.1,513.6 187.6,514.3 188.1,515.1 188.6,515.9 189,516.8 189.5,517.6 190,518.5 190.5,519.2 191,519.8 191.5,520.4 192,521 192.4,521.5 192.9,522 193.4,522.6 193.9,523.1 194.4,523.7 194.9,524.4 195.4,525.1 195.8,525.8 196.3,526.6 196.8,527.4 197.3,528.1 197.8,528.9 198.3,529.6 198.7,530.4 199.2,531.1 199.7,531.8 200.2,532.5 200.7,533.1 201.2,533.8 201.7,534.4 202.1,535 202.6,535.6 203.1,536.1 203.6,536.6 204.1,537.1 204.6,537.6 205.1,538 205.5,538.5 206,538.9 206.5,539.3 207,539.7 207.5,540 208,540.4 208.5,540.8 208.9,541.2 209.4,541.5 209.9,541.7 210.6,541.9 211.4,541.6 211.9,541.2 212.3,540.6 212.8,539.9 213.3,539.1 213.8,538.2 214,537.7 214.3,537.1 214.5,536.6 214.8,536.1 215,535.6 215.3,535 215.5,534.5 215.7,533.9 216,533.4 216.2,532.9 216.5,532.4 216.7,531.9 217,531.5 217.4,530.6 217.9,529.9 218.4,529.3 218.9,528.8 219.4,528.4 219.9,528.1 220.4,527.8 220.8,527.5 221.3,527.3 221.8,527 222.3,526.8 222.8,526.6 223.5,526.3 224.2,526 224.7,522.6 224,522.8 223.3,523 222.5,523.2 221.8,523.4 221.1,523.6 220.4,523.9 219.6,524.1 218.9,524.4 218.2,524.6 217.4,524.7 216.7,524.8 216,524.9 215.3,524.9 214.5,524.9 213.8,524.9 213.1,524.8 212.3,524.7 211.6,524.7 210.9,524.6 210.2,524.5 209.4,524.5 208.7,524.4 208,524.3 207.2,524.2 206.5,524.2 205.8,524.1 205.1,524 204.3,523.8 203.6,523.6 202.9,523.4 202.1,523.1 201.7,522.9 201.2,522.6 200.7,522.3 200.2,521.9 199.7,521.5 199.2,521 198.7,520.5 198.3,519.9 197.8,519.2 197.3,518.5 196.8,517.6 196.3,516.8 195.8,515.9 195.4,515.1 194.9,514.4 194.4,513.8 193.9,513.3 193.4,513.1 192.7,512.9 192,513.2 191.5,513.6 191,514 190.5,514.4 190,514.7 189.5,514.9 188.8,515.2 188.1,515.4 187.3,515.5 186.6,515.6 185.9,515.8 185.2,516 184.4,516.3 183.7,516.6 183,516.9 182.5,517.1 182,517.4 181.5,517.6 181,517.8 180.5,518 179.8,518.3 179.1,518.6 178.4,518.9 177.6,519.2 176.9,519.5 176.2,519.7 175.4,520 174.7,520.2 174,520.4 173.3,520.6 172.5,520.8 171.8,521 171.1,521.2 170.3,521.3 169.6,521.5 168.9,521.6 168.2,521.8 167.4,521.9 166.7,522 166,522.1 165.3,522.3 164.5,522.4 163.8,522.5 163.1,522.6 162.3,522.7 161.6,522.8 160.9,522.9 160.2,523 159.4,523.1 158.7,523.2 158,523.3 157.2,523.4 156.5,523.5 155.8,523.6 155.1,523.8 154.3,524 153.6,524.2 152.9,524.5 152.1,524.7Z" fill="#fbf4d8"  />
<path d="M152.1,522.6 152.9,522.6 153.6,522.7 154.3,522.7 155.1,522.8 155.8,522.9 156.5,522.9 157.2,523 158,523 158.7,523.1 159.4,523.1 160.2,523.2 160.9,523.3 161.6,523.3 162.3,523.4 163.1,523.4 163.8,523.5 164.5,523.5 165.3,523.5 166,523.6 166.7,523.6 167.4,523.7 168.2,523.7 168.9,523.8 169.6,523.8 170.3,523.9 171.1,523.9 171.8,524 172.5,524 173.3,524.1 174,524.1 174.7,524.1 175.4,524.1 176.2,524.2 176.9,524.2 177.6,524.2 178.4,524.2 179.1,524.2 179.8,524.1 180.5,524.1 181.3,524.1 182,524.1 182.7,524.1 183.5,524 184.2,524 184.9,524 185.6,524 186.4,523.9 187.1,523.9 187.8,523.9 188.6,523.9 189.3,523.8 190,523.8 190.7,523.8 191.5,523.8 192.2,523.7 192.9,523.7 193.7,523.7 194.4,523.7 195.1,523.6 195.8,523.6 196.6,523.6 197.3,523.6 198,523.6 198.7,523.6 199.5,523.6 200.2,523.5 200.9,523.5 201.7,523.5 202.4,523.5 203.1,523.5 203.8,523.5 204.6,523.4 205.3,523.4 206,523.4 206.8,523.4 207.5,523.4 208.2,523.4 208.9,523.4 209.7,523.3 210.4,523.3 211.1,523.3 211.9,523.3 212.6,523.3 213.3,523.3 214,523.3 214.8,523.2 215.5,523.2 216.2,523.2 217,523.2 217.7,523.2 218.4,523.2 219.1,523.2 219.9,523.2 220.6,523.2 221.3,523.1 222.1,523.1 222.8,523.1 223.5,523.1 224.2,523.1 224.7,523.1" fill="none" stroke="#f3d2b6" stroke-width="1.1" stroke-linejoin="round"  />
<path d="M152.1,522.2 152.9,522.3 153.6,522.4 154.3,522.4 155.1,522.5 155.8,522.5 156.5,522.6 157.2,522.7 158,522.7 158.7,522.8 159.4,522.8 160.2,522.9 160.9,522.9 161.6,523 162.3,523 163.1,523.1 163.8,523.1 164.5,523.2 165.3,523.2 166,523.3 166.7,523.3 167.4,523.4 168.2,523.4 168.9,523.5 169.6,523.5 170.3,523.6 171.1,523.6 171.8,523.7 172.5,523.7 173.3,523.7 174,523.8 174.7,523.8 175.4,523.8 176.2,523.8 176.9,523.8 177.6,523.8 178.4,523.8 179.1,523.8 179.8,523.8 180.5,523.8 181.3,523.8 182,523.8 182.7,523.7 183.5,523.7 184.2,523.7 184.9,523.7 185.6,523.6 186.4,523.6 187.1,523.6 187.8,523.6 188.6,523.5 189.3,523.5 190,523.5 190.7,523.5 191.5,523.4 192.2,523.4 192.9,523.4 193.7,523.4 194.4,523.3 195.1,523.3 195.8,523.3 196.6,523.3 197.3,523.3 198,523.3 198.7,523.2 199.5,523.2 200.2,523.2 200.9,523.2 201.7,523.2 202.4,523.2 203.1,523.2 203.8,523.1 204.6,523.1 205.3,523.1 206,523.1 206.8,523.1 207.5,523.1 208.2,523 208.9,523 209.7,523 210.4,523 211.1,523 211.9,523 212.6,523 213.3,522.9 214,522.9 214.8,522.9 215.5,522.9 216.2,522.9 217,522.9 217.7,522.9 218.4,522.9 219.1,522.9 219.9,522.8 220.6,522.8 221.3,522.8 222.1,522.8 222.8,522.8 223.5,522.8 224.2,522.8 224.7,522.8" fill="none" stroke="#cfe2f1" stroke-width="1.1" stroke-linejoin="round"  />
<path d="M152.1,525.2 152.9,525 153.6,524.8 154.3,524.6 155.1,524.4 155.8,524.2 156.5,524 157.2,523.7 158,523.5 158.7,523.3 159.4,523.1 160.2,522.9 160.9,522.6 161.6,522.3 162.3,522 163.1,521.7 163.6,521.5 164,521.3 164.5,521.1 165,520.8 165.5,520.6 166,520.3 166.5,520 166.9,519.7 167.4,519.4 167.9,519.1 168.4,518.8 168.9,518.4 169.4,518.1 169.9,517.8 170.3,517.5 170.8,517.2 171.3,516.9 171.8,516.6 172.3,516.3 172.8,516.1 173.3,515.9 174,515.6 174.7,515.4 175.4,515.2 176.2,515 176.9,514.8 177.6,514.5 178.1,514.3 178.6,514 179.1,513.8 179.6,513.5 180.1,513.2 180.5,512.9 181,512.6 181.5,512.4 182,512.2 182.7,511.9 183.5,511.8 184.2,511.8 184.9,511.9 185.6,512.2 186.1,512.6 186.6,513 187.1,513.6 187.6,514.3 188.1,515.1 188.6,515.9 189,516.8 189.5,517.6 190,518.5 190.5,519.2 191,519.8 191.5,520.4 192,521 192.4,521.5 192.9,522 193.4,522.6 193.9,523.1 194.4,523.7 194.9,524.4 195.4,525.1 195.8,525.8 196.3,526.6 196.8,527.4 197.3,528.1 197.8,528.9 198.3,529.6 198.7,530.4 199.2,531.1 199.7,531.8 200.2,532.5 200.7,533.1 201.2,533.8 201.7,534.4 202.1,535 202.6,535.6 203.1,536.1 203.6,536.6 204.1,537.1 204.6,537.6 205.1,538 205.5,538.5 206,538.9 206.5,539.3 207,539.7 207.5,540 208,540.4 208.5,540.8 208.9,541.2 209.4,541.5 209.9,541.7 210.6,541.9 211.4,541.6 211.9,541.2 212.3,540.6 212.8,539.9 213.3,539.1 213.8,538.2 214,537.7 214.3,537.1 214.5,536.6 214.8,536.1 215,535.6 215.3,535 215.5,534.5 215.7,533.9 216,533.4 216.2,532.9 216.5,532.4 216.7,531.9 217,531.5 217.4,530.6 217.9,529.9 218.4,529.3 218.9,528.8 219.4,528.4 219.9,528.1 220.4,527.8 220.8,527.5 221.3,527.3 221.8,527 222.3,526.8 222.8,526.6 223.5,526.3 224.2,526 224.7,525.8" fill="none" stroke="#ee8a8a" stroke-width="1.0" stroke-linejoin="round"  />
<path d="M152.1,524.2 152.9,524 153.6,523.9 154.3,523.7 155.1,523.6 155.8,523.5 156.5,523.4 157.2,523.3 158,523.2 158.7,523.1 159.4,523.1 160.2,523.1 160.9,523.1 161.6,523.1 162.3,523.1 163.1,523.2 163.8,523.3 164.5,523.3 165.3,523.4 166,523.5 166.7,523.6 167.4,523.8 168.2,523.9 168.9,524 169.6,524.1 170.3,524.3 171.1,524.5 171.8,524.6 172.5,524.8 173.3,525 174,525.3 174.7,525.5 175.4,525.8 176.2,526 176.9,526.3 177.6,526.6 178.4,526.9 179.1,527.2 179.8,527.4 180.5,527.7 181.3,527.9 182,528.2 182.7,528.4 183.5,528.6 184.2,528.8 184.9,529 185.6,529.2 186.4,529.4 187.1,529.6 187.8,529.8 188.6,530.1 189.3,530.4 190,530.7 190.7,531 191.5,531.2 192.2,531.3 192.9,531.3 193.7,531.2 194.4,530.9 194.9,530.6 195.4,530.3 195.8,530 196.3,529.5 196.8,529.1 197.3,528.7 197.8,528.2 198.3,527.7 198.7,527.3 199.2,526.8 199.7,526.4 200.2,526 200.7,525.6 201.2,525.2 201.7,524.9 202.1,524.6 202.6,524.4 203.4,524.1 204.1,523.8 204.8,523.6 205.5,523.5 206.3,523.3 207,523.3 207.7,523.2 208.5,523.2 209.2,523.1 209.9,523.1 210.6,523.1 211.4,523.1 212.1,523.1 212.8,523.1 213.6,523.1 214.3,523.1 215,523 215.7,523 216.5,523 217.2,523 217.9,523 218.7,523.1 219.4,523.1 220.1,523.1 220.8,523.1 221.6,523.1 222.3,523.1 223,523.1 223.8,523.1 224.5,523.1 224.7,523.1" fill="none" stroke="#93bde0" stroke-width="1.1" stroke-linejoin="round"  />
<path d="M152.1,524.7 152.9,524.5 153.6,524.2 154.3,524 155.1,523.8 155.8,523.6 156.5,523.5 157.2,523.4 158,523.3 158.7,523.2 159.4,523.1 160.2,523 160.9,522.9 161.6,522.8 162.3,522.7 163.1,522.6 163.8,522.5 164.5,522.4 165.3,522.3 166,522.1 166.7,522 167.4,521.9 168.2,521.8 168.9,521.6 169.6,521.5 170.3,521.3 171.1,521.2 171.8,521 172.5,520.8 173.3,520.6 174,520.4 174.7,520.2 175.4,520 176.2,519.7 176.9,519.5 177.6,519.2 178.4,518.9 179.1,518.6 179.8,518.3 180.5,518 181,517.8 181.5,517.6 182,517.4 182.5,517.1 183,516.9 183.5,516.7 184.2,516.4 184.9,516.1 185.6,515.9 186.4,515.7 187.1,515.5 187.8,515.4 188.6,515.3 189.3,515 189.8,514.8 190.3,514.5 190.7,514.2 191.2,513.8 191.7,513.4 192.2,513.1 192.9,512.9 193.7,513.2 194.1,513.6 194.6,514.1 195.1,514.7 195.6,515.5 196.1,516.4 196.6,517.2 197,518.1 197.5,518.9 198,519.6 198.5,520.2 199,520.8 199.5,521.3 200,521.7 200.4,522.1 200.9,522.4 201.4,522.7 201.9,523 202.4,523.2 203.1,523.5 203.8,523.7 204.6,523.9 205.3,524 206,524.1 206.8,524.2 207.5,524.3 208.2,524.4 208.9,524.4 209.7,524.5 210.4,524.6 211.1,524.6 211.9,524.7 212.6,524.8 213.3,524.8 214,524.9 214.8,524.9 215.5,524.9 216.2,524.9 217,524.8 217.7,524.7 218.4,524.5 219.1,524.3 219.9,524 220.6,523.8 221.3,523.6 222.1,523.3 222.8,523.1 223.5,522.9 224.2,522.7 224.7,522.6" fill="none" stroke="#e42a2a" stroke-width="1.3" stroke-linejoin="round"  />
<path d="M152.1,519.9 152.9,520.2 153.6,520.5 154.1,520.7 154.6,521 155.1,521.2 155.5,521.4 156,521.6 156.5,521.8 157,522 157.5,522.3 158,522.5 158.7,522.8 159.4,523.1 160.2,523.4 160.9,523.7 161.6,524.1 162.3,524.4 163.1,524.7 163.8,525 164.3,525.2 164.8,525.4 165.3,525.7 165.7,525.9 166.2,526.1 166.7,526.3 167.2,526.6 167.7,526.8 168.2,527 168.6,527.3 169.1,527.5 169.6,527.7 170.1,528 170.6,528.2 171.1,528.4 171.8,528.7 172.5,529 173.3,529.3 174,529.5 174.7,529.8 175.4,530 176.2,530.1 176.9,530.3 177.6,530.5 178.4,530.8 179.1,531.1 179.8,531.4 180.3,531.7 180.8,531.9 181.3,532.3 181.8,532.6 182.2,533 182.7,533.3 183.2,533.6 183.9,533.9 184.7,533.8 185.4,533.5 185.9,533 186.4,532.5 186.9,531.8 187.3,531.1 187.8,530.3 188.3,529.5 188.8,528.7 189.3,527.9 189.8,527.1 190.3,526.3 190.7,525.6 191.2,525 191.7,524.4 192.2,523.8 192.7,523.2 193.2,522.7 193.7,522.1 194.1,521.6 194.6,521 195.1,520.5 195.6,520 196.1,519.5 196.6,519 197,518.5 197.5,518 198,517.6 198.5,517.1 199,516.6 199.5,516.1 200,515.7 200.4,515.2 200.9,514.7 201.4,514.3 201.9,513.8 202.4,513.3 202.9,512.8 203.4,512.3 203.8,511.8 204.3,511.3 204.8,510.8 205.3,510.4 205.8,509.9 206.3,509.5 206.8,509 207.2,508.6 207.7,508.3 208.2,507.9 208.7,507.7 209.4,507.6 210.2,507.7 210.6,508 211.1,508.4 211.6,509 212.1,509.8 212.6,510.7 212.8,511.2 213.1,511.7 213.3,512.3 213.6,512.8 213.8,513.4 214,514 214.3,514.6 214.5,515.2 214.8,515.8 215,516.4 215.3,516.9 215.5,517.4 215.7,517.9 216.2,518.8 216.7,519.5 217.2,520 217.7,520.5 218.2,520.9 218.7,521.2 219.1,521.4 219.9,521.7 220.6,521.9 221.3,522 222.1,522.1 222.8,522.1 223.5,522.1 224.2,522.1 224.7,522" fill="none" stroke="#2626e6" stroke-width="1.3" stroke-linejoin="round"  />
</g>
<rect x="152.1" y="496.6" width="72.2" height="53.8" fill="none" stroke="#000" stroke-width="1.0"/>
<line x1="152.1" y1="501.7" x2="153.6" y2="501.7" stroke="#000" stroke-width="0.6"/>
<text x="150.4" y="503.6" font-size="5.4" text-anchor="end">20</text>
<line x1="152.1" y1="512.4" x2="153.6" y2="512.4" stroke="#000" stroke-width="0.6"/>
<text x="150.4" y="514.3" font-size="5.4" text-anchor="end">10</text>
<line x1="152.1" y1="523.1" x2="153.6" y2="523.1" stroke="#000" stroke-width="0.6"/>
<text x="150.4" y="525" font-size="5.4" text-anchor="end">0</text>
<line x1="152.1" y1="533.8" x2="153.6" y2="533.8" stroke="#000" stroke-width="0.6"/>
<text x="150.4" y="535.7" font-size="5.4" text-anchor="end">-10</text>
<line x1="152.1" y1="544.5" x2="153.6" y2="544.5" stroke="#000" stroke-width="0.6"/>
<text x="150.4" y="546.4" font-size="5.4" text-anchor="end">-20</text>
<line x1="159.4" y1="550.4" x2="159.4" y2="548.9" stroke="#000" stroke-width="0.6"/>
<text x="159.4" y="556.6" font-size="5.6" text-anchor="middle">420</text>
<line x1="184.8" y1="550.4" x2="184.8" y2="548.9" stroke="#000" stroke-width="0.6"/>
<text x="184.8" y="556.6" font-size="5.6" text-anchor="middle">490</text>
<line x1="210.21" y1="550.4" x2="210.21" y2="548.9" stroke="#000" stroke-width="0.6"/>
<text x="210.21" y="556.6" font-size="5.6" text-anchor="middle">560</text>
<line x1="152.9" y1="575.2" x2="170" y2="575.2" stroke="#2626e6" stroke-width="1.6"/>
<text x="171.9" y="577.8" font-size="7.3" fill="#222"><tspan font-style="italic">R</tspan>-C[4]B@2TO</text>
<line x1="152.9" y1="584.7" x2="170" y2="584.7" stroke="#93bde0" stroke-width="1.6"/>
<text x="171.9" y="587.3" font-size="7.3" fill="#222"><tspan font-style="italic">R</tspan>-C[4]B@TO</text>
<line x1="152.9" y1="593.9" x2="170" y2="593.9" stroke="#cfe2f1" stroke-width="1.6"/>
<text x="171.9" y="596.5" font-size="7.3" fill="#222"><tspan font-style="italic">R</tspan>-C[4]B</text>
<line x1="152.9" y1="603.1" x2="170" y2="603.1" stroke="#f3d2b6" stroke-width="1.6"/>
<text x="171.9" y="605.7" font-size="7.3" fill="#222"><tspan font-style="italic">S</tspan>-C[4]B</text>
<line x1="152.9" y1="612.1" x2="170" y2="612.1" stroke="#ee8a8a" stroke-width="1.6"/>
<text x="171.9" y="614.7" font-size="7.3" fill="#222"><tspan font-style="italic">S</tspan>-C[4]B@TO</text>
<line x1="152.9" y1="621.5" x2="170" y2="621.5" stroke="#e42a2a" stroke-width="1.6"/>
<text x="171.9" y="624.1" font-size="7.3" fill="#222"><tspan font-style="italic">S</tspan>-C[4]B@2TO</text>
<g clip-path="url(#cg)">
<path d="M278.6,628.2 279.2,627.3 279.8,629.4 280.4,626.8 281,627.8 281.6,628.2 282.3,628 283.5,627.2 284.1,626.2 285.3,625.9 286,627.3 286.6,627 287.2,624.5 287.8,624.7 288.4,623.6 289,624 289.6,625.3 290.3,623.4 290.9,623.5 292.1,623.9 292.7,623 293.3,622.8 294,621.7 294.6,621.8 295.2,620.3 295.8,621.6 296.4,620.2 297,619.7 297.7,620.1 298.3,619.8 298.9,617.6 299.5,617.4 300.1,617.2 300.7,616.2 302,614.9 302.6,614.7 303.2,613.3 303.8,611.8 304.4,611.6 305,609.5 305.7,609.3 306.3,607.2 306.9,606.3 307.5,603.7 308.1,601.8 308.7,600.3 309.4,598.5 310,595.4 310.6,593.4 311.2,593.2 311.8,589.5 313.1,586.5 313.7,583.8 314.3,581.2 314.9,579.6 315.5,576.9 316.1,573.8 316.8,571.8 317.4,569.3 318,565.8 318.6,563.2 319.2,561.5 319.8,559 320.4,556.6 321.1,554.5 321.7,552 322.3,549.9 322.9,546.3 323.5,544.4 324.1,542.2 324.8,539.8 325.4,537.5 326,535 326.6,534.4 327.2,532.8 327.8,530.7 328.5,529.8 329.1,526.7 329.7,525.4 330.3,524.2 330.9,523.4 331.5,521.6 332.2,520.4 332.8,519.9 333.4,519.7 334,520 334.6,517.4 335.2,517.8 335.8,517.5 336.5,515.8 337.1,515.7 337.7,516.5 338.3,515.1 338.9,514.8 339.5,513.5 340.2,515.1 340.8,513.7 341.4,513.1 342,511.6 342.6,512.9 343.2,513.8 343.9,512.3 344.5,510.7 345.1,509.9 345.7,508.8 346.3,509.4 346.9,509.9 347.6,508.5 348.2,508.9 349.4,508.8 350,507.9 350.6,509.5 351.2,509.7 351.9,509.1 352.5,509.2 353.1,509.8 353.7,510 354.3,509.2 354.9,508.7 355.6,509.3 356.2,509.5 356.8,509.3 357.4,511.8 358,511.6 358.6,511.3 359.3,511.9 359.9,512 360.5,511.6 361.1,512.9 361.7,512.8 362.3,514.4 363,514.2 363.6,513.1 364.2,515 365.4,515.2 366,516.7 366.6,516.6 367.3,517.5 367.9,517.9 368.5,519.6 369.1,521 369.7,521.5 370.3,522 371,522.1 371.6,523.5 372.2,524.6 372.8,525.4 374,527.5 374.7,527 375.3,529.8 375.9,530.3 376.5,530.2 377.1,531.4 377.7,533.4 378.4,533.9 379,535.3 380.2,536.5 380.8,538.4 381.4,538.7 382,540.3 382.7,541.2 383.3,542.1 383.9,543.6 384.5,544 385.1,545 385.7,546.1 386.4,546.7 387,548.7 387.6,550.6 388.2,550.9 388.8,551.5 389.4,552.7 390.1,553.4 390.7,554.3 391.3,556 391.9,557.1 392.5,558.7 393.1,558.3 393.8,560.3 394.4,561.9 395,562.9 395.6,563.4 396.2,563 396.8,564.5 397.4,567.2 398.1,567.1 398.7,567.8 399.3,568.5 399.9,569.6 400.5,571.3 401.1,571.5 401.8,573.1 402.4,575.2 403,575 403.6,575.8 404.2,575.5 404.8,576.3 405.5,578.6 406.7,579.4 407.3,581.2 407.9,582.4 408.5,581.7 409.2,582.3 409.8,583.5 410.4,585.7 411,584.5 411.6,585.6 412.2,586.5 412.8,586.8 413.5,588 414.1,587.5 414.7,588.5 415.3,589.5 416.5,590.3 417.2,592 417.8,591.5 418.4,592.3 419,593.7 419.6,593.5 420.2,593.2 420.9,594.4 421.5,593.4 422.1,593.6 422.7,595.4 423.3,595.2 423.9,594.6 424.6,596.6 425.2,597.3 426.4,598.4 427,598.7 427.6,597.9 428.2,598.7 428.9,598.5 429.5,598.7 430.1,599.9 431.3,600.2 431.9,600.9 432.6,601.4 433.2,600.9 433.8,601.6 435,601.6 435.6,602.1 436.3,604 436.9,604.3 438.1,604.5 438.7,604.4 439.3,606.2 440,606.3 441.2,606.1 441.8,606.4 442.4,608.6 443,608.5 443.6,609.4 444.3,608.7 444.9,609.4 445.5,610.4 446.1,611 446.7,610.8 448,612.4 449.2,612.5 449.8,613 450.4,613.1 451,614.4 452.3,615.9 452.9,614.8 453.5,614.4 454.1,616.9 454.7,616.3 455.4,615.5 456,616.6 456.6,618.1 457.2,616.3 457.8,618.4 458.4,616.8 458.4,629 457.2,629 456,629 454.7,629 453.5,629 452.3,629 451,629 449.8,629 448.6,629 447.3,629 446.1,629 444.9,629 443.6,629 442.4,629 441.2,629 440,629 438.7,629 437.5,629 436.3,629 435,629 433.8,629 432.6,629 431.3,629 430.1,629 428.9,629 427.6,629 426.4,629 425.2,629 423.9,629 422.7,629 421.5,629 420.2,629 419,629 417.8,629 416.5,629 415.3,629 414.1,629 412.8,629 411.6,629 410.4,629 409.2,629 407.9,629 406.7,629 405.5,629 404.2,629 403,629 401.8,629 400.5,629 399.3,629 398.1,629 396.8,629 395.6,629 394.4,629 393.1,629 391.9,629 390.7,629 389.4,629 388.2,629 387,629 385.7,629 384.5,629 383.3,629 382,629 380.8,629 379.6,629 378.4,629 377.1,629 375.9,629 374.7,629 373.4,629 372.2,629 371,629 369.7,629 368.5,629 367.3,629 366,629 364.8,629 363.6,629 362.3,629 361.1,629 359.9,629 358.6,629 357.4,629 356.2,629 354.9,629 353.7,629 352.5,629 351.2,629 350,629 348.8,629 347.6,629 346.3,629 345.1,629 343.9,629 342.6,629 341.4,629 340.2,629 338.9,629 337.7,629 336.5,629 335.2,629 334,629 332.8,629 331.5,629 330.3,629 329.1,629 327.8,629 326.6,629 325.4,629 324.1,629 322.9,629 321.7,629 320.4,629 319.2,629 318,629 316.8,629 315.5,629 314.3,629 313.1,629 311.8,629 310.6,629 309.4,629 308.1,629 306.9,629 305.7,629 304.4,629 303.2,629 302,629 300.7,629 299.5,629 298.3,629 297,629 295.8,629 294.6,629 293.3,629 292.1,629 290.9,629 289.6,629 288.4,629 287.2,629 286,629 284.7,629 283.5,629 282.3,629 281,629 279.8,629 278.6,629Z" fill="url(#ggO)"  />
<path d="M278.6,624.9 279.2,624.2 279.8,623.6 280.4,622.7 281,621.4 281.6,621.6 282.3,620.1 282.9,619.3 283.5,619.1 284.1,618.4 284.7,617.2 285.3,616.2 286,615 286.6,614.4 287.2,613.1 287.8,612.7 288.4,611.8 289,611.1 289.6,609.9 290.3,608.8 290.9,607.9 291.5,607.6 292.1,606.4 292.7,606.1 293.3,605.6 294,605.1 294.6,603.7 295.8,603.6 296.4,603.3 297,602.2 297.7,602.8 298.3,602.2 299.5,603.4 300.1,602.5 300.7,603.2 301.4,603.8 302,603.9 303.2,604.1 303.8,604.4 304.4,605.1 305,604.8 305.7,605.1 306.3,605.3 306.9,605.8 308.1,605.9 308.7,606.4 310,606.7 310.6,606.9 311.8,607.7 312.4,607.4 313.1,607.3 313.7,608.2 314.9,607.3 315.5,608.3 316.8,608.2 317.4,608.7 318,609 319.2,609.2 319.8,609.4 321.1,609.1 321.7,609.6 322.3,609.3 322.9,609.7 323.5,609.8 324.1,610 324.8,610.4 325.4,610.3 326,610.4 326.6,611 327.2,610.5 327.8,610.7 328.5,610.8 329.1,611.2 329.7,612 330.3,610.8 330.9,611.4 331.5,612.2 332.2,611.4 332.8,612 333.4,611.7 334,612.1 334.6,611.9 335.2,612.3 335.8,612.4 336.5,612.7 337.1,612.5 337.7,613.5 338.3,612.9 338.9,613.3 339.5,613.9 340.8,614.3 342,614.3 342.6,615 343.2,614.8 343.9,615 344.5,615.3 345.7,615.9 346.9,615.6 347.6,616.6 348.2,616.8 348.8,617 350,617.6 350.6,617.7 351.2,618.4 352.5,618.6 353.1,618.8 354.3,618.6 354.9,619.1 355.6,619.5 356.2,619.2 356.8,619.4 357.4,620 358,619.6 358.6,620.1 359.9,620.3 360.5,619.9 361.1,620.5 362.3,620.4 363,620.3 364.2,621.1 364.8,620.5 365.4,620.9 366,620.7 366.6,620.9 367.3,621.5 368.5,621.6 369.1,621.5 369.7,621.2 370.3,621.7 371,622 371.6,621.1 372.2,622.3 372.8,622.1 373.4,622.2 374,622.6 374.7,622.1 375.9,622.5 377.1,622.7 377.7,623.3 378.4,622.8 379,623.3 380.2,623 381.4,623.6 382,623 382.7,622.9 383.3,623.5 383.9,623.7 385.1,623.9 385.7,624.1 386.4,623.8 387.6,624.3 388.8,624.4 389.4,624.5 390.1,624.7 390.7,624.9 391.3,624.2 391.9,624.7 393.1,624.2 393.8,624.9 394.4,624.6 395,625.3 395.6,625.1 396.2,624.7 396.8,625.1 397.4,625.5 398.7,625 399.3,625.4 399.9,625 400.5,625.1 401.1,625.4 402.4,625.1 403,625.4 403.6,625.7 404.2,625.3 404.8,625.6 406.1,625.4 406.7,625.5 407.3,625.3 407.9,625.7 408.5,625.8 409.8,625.6 410.4,626 411,625.9 411.6,626.1 412.8,625.9 413.5,625.2 414.1,626 414.7,625.9 415.9,626 417.2,625.5 417.8,626.1 418.4,625.6 419,625.9 419.6,626.4 420.9,626.3 421.5,626.5 422.1,625.9 422.7,626.1 423.9,626.6 424.6,626.2 425.2,626.5 425.8,625.6 426.4,626.4 427,626.3 428.2,626.5 429.5,626.6 430.1,626.2 430.7,626.7 431.3,626.5 431.9,626.4 432.6,626.6 433.2,626.9 434.4,626.7 435,626.9 435.6,626.3 436.3,626.6 437.5,626.9 438.1,626.5 438.7,626.8 439.3,627 440.6,626 441.2,626.9 441.8,627 442.4,626.4 443,626.5 443.6,626.9 444.3,626.4 444.9,627.2 445.5,627 446.1,627.3 446.7,626.4 447.3,626.8 448,626.1 448.6,626.7 449.8,627.2 451,627.1 451.7,626.7 452.3,627.2 452.9,627.6 453.5,626.7 454.7,627.2 455.4,626.8 456,626.6 457.2,627.5 457.8,627 458.4,627.2 458.4,629 457.2,629 456,629 454.7,629 453.5,629 452.3,629 451,629 449.8,629 448.6,629 447.3,629 446.1,629 444.9,629 443.6,629 442.4,629 441.2,629 440,629 438.7,629 437.5,629 436.3,629 435,629 433.8,629 432.6,629 431.3,629 430.1,629 428.9,629 427.6,629 426.4,629 425.2,629 423.9,629 422.7,629 421.5,629 420.2,629 419,629 417.8,629 416.5,629 415.3,629 414.1,629 412.8,629 411.6,629 410.4,629 409.2,629 407.9,629 406.7,629 405.5,629 404.2,629 403,629 401.8,629 400.5,629 399.3,629 398.1,629 396.8,629 395.6,629 394.4,629 393.1,629 391.9,629 390.7,629 389.4,629 388.2,629 387,629 385.7,629 384.5,629 383.3,629 382,629 380.8,629 379.6,629 378.4,629 377.1,629 375.9,629 374.7,629 373.4,629 372.2,629 371,629 369.7,629 368.5,629 367.3,629 366,629 364.8,629 363.6,629 362.3,629 361.1,629 359.9,629 358.6,629 357.4,629 356.2,629 354.9,629 353.7,629 352.5,629 351.2,629 350,629 348.8,629 347.6,629 346.3,629 345.1,629 343.9,629 342.6,629 341.4,629 340.2,629 338.9,629 337.7,629 336.5,629 335.2,629 334,629 332.8,629 331.5,629 330.3,629 329.1,629 327.8,629 326.6,629 325.4,629 324.1,629 322.9,629 321.7,629 320.4,629 319.2,629 318,629 316.8,629 315.5,629 314.3,629 313.1,629 311.8,629 310.6,629 309.4,629 308.1,629 306.9,629 305.7,629 304.4,629 303.2,629 302,629 300.7,629 299.5,629 298.3,629 297,629 295.8,629 294.6,629 293.3,629 292.1,629 290.9,629 289.6,629 288.4,629 287.2,629 286,629 284.7,629 283.5,629 282.3,629 281,629 279.8,629 278.6,629Z" fill="#ebe9e7"  />
<path d="M278.6,628.3 279.2,628.4 279.8,628.5 280.4,629.4 281,628.2 281.6,629.3 282.3,628 282.9,628.1 283.5,628 284.7,628.2 285.3,628.5 286,628.3 286.6,627.6 287.2,628.4 287.8,628.2 288.4,628.4 289,628.3 289.6,628.2 290.3,627.9 290.9,628.1 292.1,628.2 292.7,627.8 293.3,628.4 294,627.8 294.6,627.2 295.2,628 295.8,627.7 296.4,626.5 297,628 297.7,628.2 298.3,627.7 298.9,626.8 299.5,626.7 300.1,627.9 300.7,627.2 301.4,627.3 302,627.5 302.6,628 303.2,626.8 303.8,627.5 304.4,627 305.7,626.2 306.3,626.5 306.9,627.3 307.5,626.9 308.1,626.3 308.7,627.2 309.4,626.8 310,626.5 310.6,627.2 311.2,627 311.8,627.1 312.4,626.2 313.1,626.5 313.7,625.9 314.3,626.1 314.9,625.9 315.5,626.1 316.1,625.7 316.8,626 317.4,626.3 318,625.4 319.2,624.9 319.8,625.8 320.4,626 321.1,626.3 321.7,627.2 322.3,626.1 322.9,625.4 323.5,625.9 324.1,626.5 324.8,625.2 325.4,625.7 326,625.5 327.2,625.4 327.8,625.1 328.5,625.9 329.1,625.3 330.3,624.7 330.9,625.5 331.5,624.4 332.2,624.8 332.8,624.3 333.4,625.2 334,624.6 334.6,624.7 335.2,625.4 335.8,624.9 337.1,625.1 337.7,625 338.3,625.2 338.9,624.8 339.5,624.4 340.2,624.9 340.8,625.1 341.4,624.1 342,624.6 342.6,624.4 343.9,624.5 344.5,624.1 345.1,624.5 345.7,624.2 346.3,624.8 347.6,624.3 348.2,623.3 348.8,624 349.4,623.2 350,623.8 351.2,624.2 351.9,623.9 352.5,623.1 353.1,623.3 353.7,624 354.3,623.9 354.9,623.2 355.6,623.9 356.2,623.3 356.8,624 357.4,623.3 358,622.9 358.6,623.2 359.3,623.4 360.5,623.4 361.7,622.8 363,623 363.6,623.7 364.2,623.3 364.8,622.9 366,623.5 366.6,622.6 367.3,621.7 367.9,623.2 368.5,622.6 369.1,621.9 369.7,622.7 371,622.3 371.6,622.1 372.2,622.4 372.8,621.8 373.4,622.9 374,621.8 375.3,622.1 375.9,621.8 376.5,621.9 377.1,621.3 377.7,622 378.4,621.9 379,622.4 379.6,622.3 380.2,621.9 380.8,622.5 381.4,622.2 382,622.4 382.7,622 383.3,621.8 383.9,621.4 384.5,622.6 385.1,621.9 385.7,621.5 386.4,621.3 387.6,622.4 388.2,622 388.8,621.6 389.4,621.4 390.1,621.7 391.3,621.7 391.9,622.1 392.5,621.8 393.1,621.5 393.8,622 394.4,621.4 395,623 395.6,622 396.2,621.1 396.8,621.5 397.4,621.3 398.1,621.8 398.7,622.4 399.3,622.1 399.9,621.3 400.5,622.7 401.1,622.4 401.8,622.8 402.4,622.3 403.6,622 404.2,622.6 404.8,621.7 405.5,622.2 406.1,622.7 406.7,623 407.3,623.2 407.9,622.6 408.5,622 409.2,622.9 409.8,623.3 410.4,623 411,623.2 411.6,623.4 412.2,623.9 412.8,623.2 413.5,622.7 414.1,622.8 414.7,623 415.3,623.3 416.5,623.1 417.2,623.6 418.4,623.9 419,623.4 419.6,624.3 420.2,623.7 421.5,623.7 422.1,623.9 422.7,624.4 423.3,624.5 424.6,624.5 425.2,624.9 425.8,624.7 426.4,624.8 427,625 427.6,624.5 428.2,625 428.9,624.6 429.5,624.1 430.7,624.8 431.3,624.4 431.9,624.7 432.6,623.9 433.2,624.2 433.8,624.4 434.4,624.9 435.6,624.7 436.3,624.9 436.9,625 437.5,624.7 438.1,625.5 438.7,625.8 439.3,625.4 440.6,625.1 441.2,625.4 441.8,625.1 442.4,625.9 443,624.5 443.6,624.9 444.3,625.5 444.9,625 445.5,624.6 446.1,624.8 446.7,625.2 447.3,624.9 448,624.8 448.6,625.7 449.2,625.8 449.8,625.4 450.4,624.8 451,624.6 451.7,625.2 452.3,624.6 452.9,624.8 453.5,625.3 454.1,625.5 455.4,625.2 456,624.7 456.6,624.9 457.2,625.8 458.4,624.9" fill="none" stroke="#c83a5a" stroke-width="1.1" stroke-linejoin="round"  />
<path d="M278.6,624.9 279.2,624.2 279.8,623.6 280.4,622.7 281,621.4 281.6,621.6 282.3,620.1 282.9,619.3 283.5,619.1 284.1,618.4 284.7,617.2 285.3,616.2 286,615 286.6,614.4 287.2,613.1 287.8,612.7 288.4,611.8 289,611.1 289.6,609.9 290.3,608.8 290.9,607.9 291.5,607.6 292.1,606.4 292.7,606.1 293.3,605.6 294,605.1 294.6,603.7 295.8,603.6 296.4,603.3 297,602.2 297.7,602.8 298.3,602.2 299.5,603.4 300.1,602.5 300.7,603.2 301.4,603.8 302,603.9 303.2,604.1 303.8,604.4 304.4,605.1 305,604.8 305.7,605.1 306.3,605.3 306.9,605.8 308.1,605.9 308.7,606.4 310,606.7 310.6,606.9 311.8,607.7 312.4,607.4 313.1,607.3 313.7,608.2 314.9,607.3 315.5,608.3 316.8,608.2 317.4,608.7 318,609 319.2,609.2 319.8,609.4 321.1,609.1 321.7,609.6 322.3,609.3 322.9,609.7 323.5,609.8 324.1,610 324.8,610.4 325.4,610.3 326,610.4 326.6,611 327.2,610.5 327.8,610.7 328.5,610.8 329.1,611.2 329.7,612 330.3,610.8 330.9,611.4 331.5,612.2 332.2,611.4 332.8,612 333.4,611.7 334,612.1 334.6,611.9 335.2,612.3 335.8,612.4 336.5,612.7 337.1,612.5 337.7,613.5 338.3,612.9 338.9,613.3 339.5,613.9 340.8,614.3 342,614.3 342.6,615 343.2,614.8 343.9,615 344.5,615.3 345.7,615.9 346.9,615.6 347.6,616.6 348.2,616.8 348.8,617 350,617.6 350.6,617.7 351.2,618.4 352.5,618.6 353.1,618.8 354.3,618.6 354.9,619.1 355.6,619.5 356.2,619.2 356.8,619.4 357.4,620 358,619.6 358.6,620.1 359.9,620.3 360.5,619.9 361.1,620.5 362.3,620.4 363,620.3 364.2,621.1 364.8,620.5 365.4,620.9 366,620.7 366.6,620.9 367.3,621.5 368.5,621.6 369.1,621.5 369.7,621.2 370.3,621.7 371,622 371.6,621.1 372.2,622.3 372.8,622.1 373.4,622.2 374,622.6 374.7,622.1 375.9,622.5 377.1,622.7 377.7,623.3 378.4,622.8 379,623.3 380.2,623 381.4,623.6 382,623 382.7,622.9 383.3,623.5 383.9,623.7 385.1,623.9 385.7,624.1 386.4,623.8 387.6,624.3 388.8,624.4 389.4,624.5 390.1,624.7 390.7,624.9 391.3,624.2 391.9,624.7 393.1,624.2 393.8,624.9 394.4,624.6 395,625.3 395.6,625.1 396.2,624.7 396.8,625.1 397.4,625.5 398.7,625 399.3,625.4 399.9,625 400.5,625.1 401.1,625.4 402.4,625.1 403,625.4 403.6,625.7 404.2,625.3 404.8,625.6 406.1,625.4 406.7,625.5 407.3,625.3 407.9,625.7 408.5,625.8 409.8,625.6 410.4,626 411,625.9 411.6,626.1 412.8,625.9 413.5,625.2 414.1,626 414.7,625.9 415.9,626 417.2,625.5 417.8,626.1 418.4,625.6 419,625.9 419.6,626.4 420.9,626.3 421.5,626.5 422.1,625.9 422.7,626.1 423.9,626.6 424.6,626.2 425.2,626.5 425.8,625.6 426.4,626.4 427,626.3 428.2,626.5 429.5,626.6 430.1,626.2 430.7,626.7 431.3,626.5 431.9,626.4 432.6,626.6 433.2,626.9 434.4,626.7 435,626.9 435.6,626.3 436.3,626.6 437.5,626.9 438.1,626.5 438.7,626.8 439.3,627 440.6,626 441.2,626.9 441.8,627 442.4,626.4 443,626.5 443.6,626.9 444.3,626.4 444.9,627.2 445.5,627 446.1,627.3 446.7,626.4 447.3,626.8 448,626.1 448.6,626.7 449.8,627.2 451,627.1 451.7,626.7 452.3,627.2 452.9,627.6 453.5,626.7 454.7,627.2 455.4,626.8 456,626.6 457.2,627.5 457.8,627 458.4,627.2" fill="none" stroke="#7c7c7c" stroke-width="1.1" stroke-linejoin="round"  />
<path d="M278.6,628.2 279.2,627.3 279.8,629.4 280.4,626.8 281,627.8 281.6,628.2 282.3,628 283.5,627.2 284.1,626.2 285.3,625.9 286,627.3 286.6,627 287.2,624.5 287.8,624.7 288.4,623.6 289,624 289.6,625.3 290.3,623.4 290.9,623.5 292.1,623.9 292.7,623 293.3,622.8 294,621.7 294.6,621.8 295.2,620.3 295.8,621.6 296.4,620.2 297,619.7 297.7,620.1 298.3,619.8 298.9,617.6 299.5,617.4 300.1,617.2 300.7,616.2 302,614.9 302.6,614.7 303.2,613.3 303.8,611.8 304.4,611.6 305,609.5 305.7,609.3 306.3,607.2 306.9,606.3 307.5,603.7 308.1,601.8 308.7,600.3 309.4,598.5 310,595.4 310.6,593.4 311.2,593.2 311.8,589.5 313.1,586.5 313.7,583.8 314.3,581.2 314.9,579.6 315.5,576.9 316.1,573.8 316.8,571.8 317.4,569.3 318,565.8 318.6,563.2 319.2,561.5 319.8,559 320.4,556.6 321.1,554.5 321.7,552 322.3,549.9 322.9,546.3 323.5,544.4 324.1,542.2 324.8,539.8 325.4,537.5 326,535 326.6,534.4 327.2,532.8 327.8,530.7 328.5,529.8 329.1,526.7 329.7,525.4 330.3,524.2 330.9,523.4 331.5,521.6 332.2,520.4 332.8,519.9 333.4,519.7 334,520 334.6,517.4 335.2,517.8 335.8,517.5 336.5,515.8 337.1,515.7 337.7,516.5 338.3,515.1 338.9,514.8 339.5,513.5 340.2,515.1 340.8,513.7 341.4,513.1 342,511.6 342.6,512.9 343.2,513.8 343.9,512.3 344.5,510.7 345.1,509.9 345.7,508.8 346.3,509.4 346.9,509.9 347.6,508.5 348.2,508.9 349.4,508.8 350,507.9 350.6,509.5 351.2,509.7 351.9,509.1 352.5,509.2 353.1,509.8 353.7,510 354.3,509.2 354.9,508.7 355.6,509.3 356.2,509.5 356.8,509.3 357.4,511.8 358,511.6 358.6,511.3 359.3,511.9 359.9,512 360.5,511.6 361.1,512.9 361.7,512.8 362.3,514.4 363,514.2 363.6,513.1 364.2,515 365.4,515.2 366,516.7 366.6,516.6 367.3,517.5 367.9,517.9 368.5,519.6 369.1,521 369.7,521.5 370.3,522 371,522.1 371.6,523.5 372.2,524.6 372.8,525.4 374,527.5 374.7,527 375.3,529.8 375.9,530.3 376.5,530.2 377.1,531.4 377.7,533.4 378.4,533.9 379,535.3 380.2,536.5 380.8,538.4 381.4,538.7 382,540.3 382.7,541.2 383.3,542.1 383.9,543.6 384.5,544 385.1,545 385.7,546.1 386.4,546.7 387,548.7 387.6,550.6 388.2,550.9 388.8,551.5 389.4,552.7 390.1,553.4 390.7,554.3 391.3,556 391.9,557.1 392.5,558.7 393.1,558.3 393.8,560.3 394.4,561.9 395,562.9 395.6,563.4 396.2,563 396.8,564.5 397.4,567.2 398.1,567.1 398.7,567.8 399.3,568.5 399.9,569.6 400.5,571.3 401.1,571.5 401.8,573.1 402.4,575.2 403,575 403.6,575.8 404.2,575.5 404.8,576.3 405.5,578.6 406.7,579.4 407.3,581.2 407.9,582.4 408.5,581.7 409.2,582.3 409.8,583.5 410.4,585.7 411,584.5 411.6,585.6 412.2,586.5 412.8,586.8 413.5,588 414.1,587.5 414.7,588.5 415.3,589.5 416.5,590.3 417.2,592 417.8,591.5 418.4,592.3 419,593.7 419.6,593.5 420.2,593.2 420.9,594.4 421.5,593.4 422.1,593.6 422.7,595.4 423.3,595.2 423.9,594.6 424.6,596.6 425.2,597.3 426.4,598.4 427,598.7 427.6,597.9 428.2,598.7 428.9,598.5 429.5,598.7 430.1,599.9 431.3,600.2 431.9,600.9 432.6,601.4 433.2,600.9 433.8,601.6 435,601.6 435.6,602.1 436.3,604 436.9,604.3 438.1,604.5 438.7,604.4 439.3,606.2 440,606.3 441.2,606.1 441.8,606.4 442.4,608.6 443,608.5 443.6,609.4 444.3,608.7 444.9,609.4 445.5,610.4 446.1,611 446.7,610.8 448,612.4 449.2,612.5 449.8,613 450.4,613.1 451,614.4 452.3,615.9 452.9,614.8 453.5,614.4 454.1,616.9 454.7,616.3 455.4,615.5 456,616.6 456.6,618.1 457.2,616.3 457.8,618.4 458.4,616.8" fill="none" stroke="#f08a2e" stroke-width="1.1" stroke-linejoin="round"  />
</g>
<path d="M300.5,598.5 C320,585 343,565 349,530" fill="none" stroke="url(#aO)" stroke-width="5"/>
<path d="M342.5,532 L351.5,517 L357,534 Z" fill="#f07020"/>
<path d="M357,620 C340,614 320,610 303,611" fill="none" stroke="url(#aT)" stroke-width="4.5"/>
<path d="M304,604.5 L295,611.8 L304,618.5 Z" fill="#d8b080"/>
<line x1="384.5" y1="507.7" x2="401.8" y2="507.7" stroke="#f08a2e" stroke-width="1.6"/>
<text x="403.9" y="510.3" font-size="7.3" fill="#222"><tspan font-style="italic">R</tspan>-C[4]B@2TO</text>
<line x1="384.5" y1="516.9" x2="401.8" y2="516.9" stroke="#7c7c7c" stroke-width="1.6"/>
<text x="403.9" y="519.5" font-size="7.3" fill="#222"><tspan font-style="italic">R</tspan>-C[4]B@TO</text>
<line x1="384.5" y1="525.7" x2="401.8" y2="525.7" stroke="#c83a5a" stroke-width="1.6"/>
<text x="403.9" y="528.3" font-size="7.3" fill="#222">TO</text>
<g clip-path="url(#ch)">
<path d="M498.6,566.4 499.5,565.1 500.4,564.4 501.3,566.9 502.3,564 503.2,564.7 504.1,563.8 505,564.6 506,563.1 506.9,566.6 507.8,562.1 508.7,563.1 509.7,566.1 510.6,564.1 511.5,564.5 512.4,568.2 513.4,564.4 514.3,566.3 515.2,565.8 516.1,566.4 517.1,566.1 518,565 518.9,564.4 519.8,566.3 520.8,563.2 521.7,563.9 522.6,562.7 523.5,560.2 524.5,557.2 525.4,556.4 526.3,557.3 527.2,556.2 528.2,555.1 529.1,552.2 530,549.6 530.9,549.8 531.9,547.3 532.8,546.5 533.7,543.2 534.6,547.6 535.6,546.3 536.5,541.7 537.4,538.9 538.3,539.1 539.3,536.1 540.2,537.2 541.1,535.7 542,533.3 543,529.2 543.9,528.1 544.8,529.1 545.7,526.3 546.7,526.5 547.6,524.2 548.5,524.9 549.4,522 550.4,522.1 551.3,520 552.2,520 553.1,519.3 554.1,516.9 555,516.7 555.9,515.3 556.8,515.1 557.8,512.6 558.7,514.1 559.6,510.7 560.5,509.1 561.5,511.2 562.4,507.4 563.3,506.5 564.2,508.6 565.2,511.2 566.1,511.2 567,508.6 567.9,505.1 568.9,507 569.8,506.8 570.7,509 571.6,510.8 572.6,510.1 573.5,513.8 574.4,513.8 575.3,514.5 576.3,517.3 577.2,517.9 578.1,520.5 579,519.6 580,520.7 580.9,524.7 581.8,524.3 582.7,524.4 583.7,522.7 584.6,524 585.5,524.7 586.4,525.8 587.4,525.9 588.3,526.3 589.2,529.6 590.2,531.9 591.1,528.7 592,530.6 592.9,530.5 593.9,531.2 594.8,533.1 595.7,534.1 596.6,530.4 597.6,530.7 598.5,531.6 599.4,533.7 600.3,534.7 601.3,537 602.2,537.5 603.1,539.5 604,540.9 605,540.6 605.9,538.9 606.8,545.4 607.7,541.8 608.7,542.1 609.6,545.7 610.5,543.6 611.4,544.3 612.4,545.6 613.3,546.1 614.2,548.1 615.1,543.4 616.1,542.8 617,544.5 617.9,548 618.8,547.5 619.8,547.8 620.7,550.2 621.6,549.8 622.5,548.9 623.5,551 624.4,553.6 625.3,553.3 626.2,551.3 627.2,552.7 628.1,553.1 629,550.9 629.9,553.5 630.9,555.4 631.8,554.9 632.7,551.8 633.6,557.9 634.6,553.7 635.5,554.8 636.4,557.8 637.3,558.5 638.3,555.9 639.2,558 640.1,559.5 641,555.7 642,558.6 642.9,558.5 643.8,559.1 644.7,559.9 645.7,559.4 646.6,560.5 647.5,559.4 648.4,558.9 649.4,559.2 650.3,559.4 651.2,559.3 652.1,560.8 653.1,563.2 654,560.8 654.9,565.2 655.8,563.7 656.8,562.1 657.7,565.4 658.6,560.3 659.5,564.5 660.5,565.3 661.4,564.2 662.3,564.4 663.2,563.4 664.2,563.8 665.1,562 666,564.2 666.9,563.8 667.9,565.9 668.8,563.5 669.7,565.6 670.6,567.5 671.6,562.2 672.5,566.1 673.4,566.1 674.3,565.8 675.3,563.3 676.2,566.8 677.1,565 677.1,565.7 676.2,565.7 675.3,565.7 674.3,565.7 673.4,565.7 672.5,565.7 671.6,565.7 670.6,565.7 669.7,565.7 668.8,565.7 667.9,565.7 666.9,565.7 666,565.7 665.1,565.7 664.2,565.7 663.2,565.7 662.3,565.7 661.4,565.7 660.5,565.7 659.5,565.7 658.6,565.7 657.7,565.7 656.8,565.7 655.8,565.7 654.9,565.7 654,565.7 653.1,565.7 652.1,565.7 651.2,565.7 650.3,565.7 649.4,565.7 648.4,565.7 647.5,565.7 646.6,565.7 645.7,565.7 644.7,565.7 643.8,565.7 642.9,565.7 642,565.7 641,565.7 640.1,565.7 639.2,565.7 638.3,565.7 637.3,565.7 636.4,565.7 635.5,565.7 634.6,565.7 633.6,565.7 632.7,565.7 631.8,565.7 630.9,565.7 629.9,565.7 629,565.7 628.1,565.7 627.2,565.7 626.2,565.7 625.3,565.7 624.4,565.7 623.5,565.7 622.5,565.7 621.6,565.7 620.7,565.7 619.8,565.7 618.8,565.7 617.9,565.7 617,565.7 616.1,565.7 615.1,565.7 614.2,565.7 613.3,565.7 612.4,565.7 611.4,565.7 610.5,565.7 609.6,565.7 608.7,565.7 607.7,565.7 606.8,565.7 605.9,565.7 605,565.7 604,565.7 603.1,565.7 602.2,565.7 601.3,565.7 600.3,565.7 599.4,565.7 598.5,565.7 597.6,565.7 596.6,565.7 595.7,565.7 594.8,565.7 593.9,565.7 592.9,565.7 592,565.7 591.1,565.7 590.2,565.7 589.2,565.7 588.3,565.7 587.4,565.7 586.4,565.7 585.5,565.7 584.6,565.7 583.7,565.7 582.7,565.7 581.8,565.7 580.9,565.7 580,565.7 579,565.7 578.1,565.7 577.2,565.7 576.3,565.7 575.3,565.7 574.4,565.7 573.5,565.7 572.6,565.7 571.6,565.7 570.7,565.7 569.8,565.7 568.9,565.7 567.9,565.7 567,565.7 566.1,565.7 565.2,565.7 564.2,565.7 563.3,565.7 562.4,565.7 561.5,565.7 560.5,565.7 559.6,565.7 558.7,565.7 557.8,565.7 556.8,565.7 555.9,565.7 555,565.7 554.1,565.7 553.1,565.7 552.2,565.7 551.3,565.7 550.4,565.7 549.4,565.7 548.5,565.7 547.6,565.7 546.7,565.7 545.7,565.7 544.8,565.7 543.9,565.7 543,565.7 542,565.7 541.1,565.7 540.2,565.7 539.3,565.7 538.3,565.7 537.4,565.7 536.5,565.7 535.6,565.7 534.6,565.7 533.7,565.7 532.8,565.7 531.9,565.7 530.9,565.7 530,565.7 529.1,565.7 528.2,565.7 527.2,565.7 526.3,565.7 525.4,565.7 524.5,565.7 523.5,565.7 522.6,565.7 521.7,565.7 520.8,565.7 519.8,565.7 518.9,565.7 518,565.7 517.1,565.7 516.1,565.7 515.2,565.7 514.3,565.7 513.4,565.7 512.4,565.7 511.5,565.7 510.6,565.7 509.7,565.7 508.7,565.7 507.8,565.7 506.9,565.7 506,565.7 505,565.7 504.1,565.7 503.2,565.7 502.3,565.7 501.3,565.7 500.4,565.7 499.5,565.7 498.6,565.7Z" fill="url(#ghB)"  />
<path d="M498.6,565.6 499.5,565.7 500.4,566.8 501.3,565.6 502.3,567.7 503.2,569.5 504.1,563.7 505,565.6 506,569.8 506.9,568.1 507.8,567.4 508.7,565.9 509.7,564.4 510.6,566.2 511.5,567.5 512.4,566.1 513.4,567.3 514.3,566.7 515.2,568.2 516.1,569.2 517.1,565.3 518,568.3 518.9,568.2 519.8,570.1 520.8,570.8 521.7,571.3 522.6,570.4 523.5,570.1 524.5,571.8 525.4,574.2 526.3,569.1 527.2,572.8 528.2,573.2 529.1,576.4 530,576.7 530.9,576.7 531.9,582.4 532.8,582.9 533.7,583.2 534.6,581.8 535.6,586.8 536.5,590.6 537.4,592 538.3,589.5 539.3,593.5 540.2,593.8 541.1,591.2 542,595.7 543,597.9 543.9,600.4 544.8,598.7 545.7,600.5 546.7,605.4 547.6,608.1 548.5,607.2 549.4,606 550.4,608.6 551.3,612.5 552.2,611 553.1,611.3 554.1,613.6 555,614.3 555.9,615.6 556.8,617.4 557.8,618.5 558.7,620.3 559.6,620.4 560.5,621.6 561.5,618.3 562.4,618.5 563.3,619.4 564.2,619 565.2,619.7 566.1,620.9 567,619 567.9,619.3 568.9,618.6 569.8,621.2 570.7,618.3 571.6,616.7 572.6,618.3 573.5,619.9 574.4,621.9 575.3,620.9 576.3,617.7 577.2,620.4 578.1,616 579,616.9 580,612.8 580.9,613.6 581.8,610.4 582.7,608.4 583.7,607.3 584.6,608.8 585.5,606.8 586.4,606.8 587.4,604.7 588.3,604.2 589.2,603.3 590.2,601.2 591.1,603.2 592,602.1 592.9,601.1 593.9,600 594.8,600.4 595.7,597.6 596.6,599.6 597.6,594.2 598.5,596.3 599.4,593.6 600.3,596.4 601.3,594.1 602.2,592.3 603.1,588.6 604,590.4 605,587.2 605.9,590 606.8,585.6 607.7,588.4 608.7,589.5 609.6,589.1 610.5,584.9 611.4,585 612.4,583.7 613.3,583.7 614.2,582.4 615.1,580.1 616.1,582.9 617,581.8 617.9,582.6 618.8,584.6 619.8,581.9 620.7,578.7 621.6,582.1 622.5,576.5 623.5,578.8 624.4,578.3 625.3,576.8 626.2,577.6 627.2,576.8 628.1,574.1 629,577 629.9,575.6 630.9,577 631.8,574.6 632.7,569.5 633.6,572.3 634.6,575.6 635.5,576.7 636.4,572.6 637.3,572.2 638.3,574.1 639.2,570.6 640.1,571.8 641,571.1 642,570.7 642.9,569.9 643.8,572.3 644.7,572.5 645.7,568.9 646.6,571.2 647.5,572.8 648.4,570.1 649.4,571.3 650.3,569.9 651.2,565.1 652.1,567.2 653.1,570.7 654,571.8 654.9,569.5 655.8,570.7 656.8,568.3 657.7,567.9 658.6,567 659.5,567.8 660.5,569.9 661.4,567.8 662.3,567.5 663.2,567.2 664.2,565.6 665.1,569.4 666,567.9 666.9,568.7 667.9,569.1 668.8,566.7 669.7,568.7 670.6,564.4 671.6,571.6 672.5,564.7 673.4,567.3 674.3,568.6 675.3,565.9 676.2,565.6 677.1,563.7 677.1,565.7 676.2,565.7 675.3,565.7 674.3,565.7 673.4,565.7 672.5,565.7 671.6,565.7 670.6,565.7 669.7,565.7 668.8,565.7 667.9,565.7 666.9,565.7 666,565.7 665.1,565.7 664.2,565.7 663.2,565.7 662.3,565.7 661.4,565.7 660.5,565.7 659.5,565.7 658.6,565.7 657.7,565.7 656.8,565.7 655.8,565.7 654.9,565.7 654,565.7 653.1,565.7 652.1,565.7 651.2,565.7 650.3,565.7 649.4,565.7 648.4,565.7 647.5,565.7 646.6,565.7 645.7,565.7 644.7,565.7 643.8,565.7 642.9,565.7 642,565.7 641,565.7 640.1,565.7 639.2,565.7 638.3,565.7 637.3,565.7 636.4,565.7 635.5,565.7 634.6,565.7 633.6,565.7 632.7,565.7 631.8,565.7 630.9,565.7 629.9,565.7 629,565.7 628.1,565.7 627.2,565.7 626.2,565.7 625.3,565.7 624.4,565.7 623.5,565.7 622.5,565.7 621.6,565.7 620.7,565.7 619.8,565.7 618.8,565.7 617.9,565.7 617,565.7 616.1,565.7 615.1,565.7 614.2,565.7 613.3,565.7 612.4,565.7 611.4,565.7 610.5,565.7 609.6,565.7 608.7,565.7 607.7,565.7 606.8,565.7 605.9,565.7 605,565.7 604,565.7 603.1,565.7 602.2,565.7 601.3,565.7 600.3,565.7 599.4,565.7 598.5,565.7 597.6,565.7 596.6,565.7 595.7,565.7 594.8,565.7 593.9,565.7 592.9,565.7 592,565.7 591.1,565.7 590.2,565.7 589.2,565.7 588.3,565.7 587.4,565.7 586.4,565.7 585.5,565.7 584.6,565.7 583.7,565.7 582.7,565.7 581.8,565.7 580.9,565.7 580,565.7 579,565.7 578.1,565.7 577.2,565.7 576.3,565.7 575.3,565.7 574.4,565.7 573.5,565.7 572.6,565.7 571.6,565.7 570.7,565.7 569.8,565.7 568.9,565.7 567.9,565.7 567,565.7 566.1,565.7 565.2,565.7 564.2,565.7 563.3,565.7 562.4,565.7 561.5,565.7 560.5,565.7 559.6,565.7 558.7,565.7 557.8,565.7 556.8,565.7 555.9,565.7 555,565.7 554.1,565.7 553.1,565.7 552.2,565.7 551.3,565.7 550.4,565.7 549.4,565.7 548.5,565.7 547.6,565.7 546.7,565.7 545.7,565.7 544.8,565.7 543.9,565.7 543,565.7 542,565.7 541.1,565.7 540.2,565.7 539.3,565.7 538.3,565.7 537.4,565.7 536.5,565.7 535.6,565.7 534.6,565.7 533.7,565.7 532.8,565.7 531.9,565.7 530.9,565.7 530,565.7 529.1,565.7 528.2,565.7 527.2,565.7 526.3,565.7 525.4,565.7 524.5,565.7 523.5,565.7 522.6,565.7 521.7,565.7 520.8,565.7 519.8,565.7 518.9,565.7 518,565.7 517.1,565.7 516.1,565.7 515.2,565.7 514.3,565.7 513.4,565.7 512.4,565.7 511.5,565.7 510.6,565.7 509.7,565.7 508.7,565.7 507.8,565.7 506.9,565.7 506,565.7 505,565.7 504.1,565.7 503.2,565.7 502.3,565.7 501.3,565.7 500.4,565.7 499.5,565.7 498.6,565.7Z" fill="url(#ghR)"  />
<path d="M498.6,565.7 499.6,567.3 500.6,562.5 501.6,565.1 502.7,564.9 503.7,566 504.7,565.6 505.8,565.3 506.8,565.5 507.8,566.5 508.8,564.9 509.9,565.1 510.9,565.8 511.9,566.6 512.9,566.8 514,566.9 515,565.4 516,566.1 517.1,564.6 518.1,566.8 519.1,564.8 520.1,565.7 521.2,566.4 522.2,564.4 523.2,565.5 524.3,564.7 525.3,564.3 526.3,565.1 527.3,566.3 528.4,565.5 529.4,564.5 530.4,566.5 531.5,565 532.5,565.9 533.5,566.3 534.5,566.4 535.6,567 536.6,566 537.6,565.2 538.6,568.1 539.7,566.2 540.7,565.4 541.7,566.2 542.8,564.8 543.8,566.7 544.8,564.8 545.8,564.7 546.9,565.2 547.9,566.6 548.9,563.6 550,566 551,565.1 552,566.9 553,566.6 554.1,565.3 555.1,567.4 556.1,565.2 557.2,563.6 558.2,567.5 559.2,566.1 560.2,564.7 561.3,566.2 562.3,564.7 563.3,565.5 564.3,567.8 565.4,568.9 566.4,566.1 567.4,564.6 568.5,566.8 569.5,564.2 570.5,567.7 571.5,565 572.6,566 573.6,565.9 574.6,566.2 575.7,566.6 576.7,565.9 577.7,567.1 578.7,564.6 579.8,567.2 580.8,565 581.8,567.1 582.9,567.4 583.9,565 584.9,565.3 585.9,565.7 587,563.6 588,566.7 589,564.6 590,565.3 591.1,563.6 592.1,567 593.1,566.2 594.2,566.4 595.2,566.8 596.2,567.6 597.2,566 598.3,566.1 599.3,566.9 600.3,566 601.4,567.8 602.4,564 603.4,565.1 604.4,565.5 605.5,564.8 606.5,566.2 607.5,566.5 608.6,566.4 609.6,566.7 610.6,566.3 611.6,564.4 612.7,566.3 613.7,564 614.7,565.2 615.7,563.4 616.8,566.4 617.8,566.6 618.8,566.5 619.9,568.4 620.9,564.8 621.9,565.2 622.9,565.6 624,565.6 625,564.6 626,566.8 627.1,565.3 628.1,565.3 629.1,564.7 630.1,563.9 631.2,565.1 632.2,566.7 633.2,565 634.3,566 635.3,565.6 636.3,566.9 637.3,566 638.4,565.8 639.4,566.1 640.4,565.1 641.4,563.4 642.5,565.7 643.5,566.8 644.5,566 645.6,564.3 646.6,565.6 647.6,564.4 648.6,565.4 649.7,564.5 650.7,566.2 651.7,564.1 652.8,565.4 653.8,564.9 654.8,563.9 655.8,568.4 656.9,563.9 657.9,562.7 658.9,565.9 660,566.3 661,565.9 662,564.8 663,565.8 664.1,567.2 665.1,566.9 666.1,567.8 667.1,566.6 668.2,566.9 669.2,567.8 670.2,565.3 671.3,565.9 672.3,565.1 673.3,568.4 674.3,564.7 675.4,563.9 676.4,566.4" fill="none" stroke="#f0a4a4" stroke-width="1.2" stroke-linejoin="round"  />
<path d="M498.6,565.2 499.6,566.4 500.6,565 501.6,565.6 502.7,567.6 503.7,564.5 504.7,565.8 505.8,564.9 506.8,563.4 507.8,565.4 508.8,567 509.9,566.5 510.9,564.4 511.9,567.5 512.9,565.4 514,565.2 515,567.1 516,565.5 517.1,565 518.1,566.7 519.1,566.3 520.1,565 521.2,567.3 522.2,566.8 523.2,564.5 524.3,565.6 525.3,567.5 526.3,565.7 527.3,563.3 528.4,567.6 529.4,564.7 530.4,564.8 531.5,565.9 532.5,565 533.5,566.5 534.5,563.8 535.6,563.6 536.6,566.8 537.6,566 538.6,565.5 539.7,566.5 540.7,565.3 541.7,567 542.8,565 543.8,566.1 544.8,565.8 545.8,565.1 546.9,564.6 547.9,566.9 548.9,564.7 550,564.6 551,565.8 552,563.8 553,566.6 554.1,566.4 555.1,565.2 556.1,566.5 557.2,564 558.2,565.5 559.2,563.6 560.2,567 561.3,566.9 562.3,564 563.3,567 564.3,564.4 565.4,566.7 566.4,565.4 567.4,564.3 568.5,565.8 569.5,567.1 570.5,566.3 571.5,564.3 572.6,565.5 573.6,564.8 574.6,565.6 575.7,565.3 576.7,565.9 577.7,567 578.7,565 579.8,565.5 580.8,568.1 581.8,565.7 582.9,564.5 583.9,563.3 584.9,567.4 585.9,565.6 587,565 588,564.8 589,566.6 590,565.1 591.1,566.2 592.1,565.8 593.1,566.4 594.2,565.3 595.2,566.2 596.2,565.3 597.2,565.8 598.3,564.6 599.3,563.6 600.3,565.8 601.4,566.6 602.4,566 603.4,566.4 604.4,567.7 605.5,565.7 606.5,566.3 607.5,564.6 608.6,565.9 609.6,564.5 610.6,564.7 611.6,566.3 612.7,566.1 613.7,566.3 614.7,566.3 615.7,564.7 616.8,566.3 617.8,566.2 618.8,566.7 619.9,564 620.9,566.1 621.9,565.9 622.9,566.8 624,565.4 625,566.7 626,566.5 627.1,568.2 628.1,567.8 629.1,565.5 630.1,564.8 631.2,567.8 632.2,565.5 633.2,565.5 634.3,562 635.3,567 636.3,566.6 637.3,567 638.4,564.7 639.4,564.4 640.4,566.1 641.4,563.9 642.5,563.1 643.5,566.3 644.5,565 645.6,566 646.6,566.5 647.6,566.3 648.6,566 649.7,567.3 650.7,565.8 651.7,564.7 652.8,566.9 653.8,566.4 654.8,566.8 655.8,565.2 656.9,565.8 657.9,564.6 658.9,566.1 660,567.5 661,565 662,566.1 663,564.3 664.1,564.8 665.1,569 666.1,568.2 667.1,565.7 668.2,566.6 669.2,568.5 670.2,566.4 671.3,564.1 672.3,564.9 673.3,566.8 674.3,565.4 675.4,564.5 676.4,565.9" fill="none" stroke="#8cc4f2" stroke-width="1.2" stroke-linejoin="round"  />
<path d="M498.6,565.6 499.5,565.7 500.4,566.8 501.3,565.6 502.3,567.7 503.2,569.5 504.1,563.7 505,565.6 506,569.8 506.9,568.1 507.8,567.4 508.7,565.9 509.7,564.4 510.6,566.2 511.5,567.5 512.4,566.1 513.4,567.3 514.3,566.7 515.2,568.2 516.1,569.2 517.1,565.3 518,568.3 518.9,568.2 519.8,570.1 520.8,570.8 521.7,571.3 522.6,570.4 523.5,570.1 524.5,571.8 525.4,574.2 526.3,569.1 527.2,572.8 528.2,573.2 529.1,576.4 530,576.7 530.9,576.7 531.9,582.4 532.8,582.9 533.7,583.2 534.6,581.8 535.6,586.8 536.5,590.6 537.4,592 538.3,589.5 539.3,593.5 540.2,593.8 541.1,591.2 542,595.7 543,597.9 543.9,600.4 544.8,598.7 545.7,600.5 546.7,605.4 547.6,608.1 548.5,607.2 549.4,606 550.4,608.6 551.3,612.5 552.2,611 553.1,611.3 554.1,613.6 555,614.3 555.9,615.6 556.8,617.4 557.8,618.5 558.7,620.3 559.6,620.4 560.5,621.6 561.5,618.3 562.4,618.5 563.3,619.4 564.2,619 565.2,619.7 566.1,620.9 567,619 567.9,619.3 568.9,618.6 569.8,621.2 570.7,618.3 571.6,616.7 572.6,618.3 573.5,619.9 574.4,621.9 575.3,620.9 576.3,617.7 577.2,620.4 578.1,616 579,616.9 580,612.8 580.9,613.6 581.8,610.4 582.7,608.4 583.7,607.3 584.6,608.8 585.5,606.8 586.4,606.8 587.4,604.7 588.3,604.2 589.2,603.3 590.2,601.2 591.1,603.2 592,602.1 592.9,601.1 593.9,600 594.8,600.4 595.7,597.6 596.6,599.6 597.6,594.2 598.5,596.3 599.4,593.6 600.3,596.4 601.3,594.1 602.2,592.3 603.1,588.6 604,590.4 605,587.2 605.9,590 606.8,585.6 607.7,588.4 608.7,589.5 609.6,589.1 610.5,584.9 611.4,585 612.4,583.7 613.3,583.7 614.2,582.4 615.1,580.1 616.1,582.9 617,581.8 617.9,582.6 618.8,584.6 619.8,581.9 620.7,578.7 621.6,582.1 622.5,576.5 623.5,578.8 624.4,578.3 625.3,576.8 626.2,577.6 627.2,576.8 628.1,574.1 629,577 629.9,575.6 630.9,577 631.8,574.6 632.7,569.5 633.6,572.3 634.6,575.6 635.5,576.7 636.4,572.6 637.3,572.2 638.3,574.1 639.2,570.6 640.1,571.8 641,571.1 642,570.7 642.9,569.9 643.8,572.3 644.7,572.5 645.7,568.9 646.6,571.2 647.5,572.8 648.4,570.1 649.4,571.3 650.3,569.9 651.2,565.1 652.1,567.2 653.1,570.7 654,571.8 654.9,569.5 655.8,570.7 656.8,568.3 657.7,567.9 658.6,567 659.5,567.8 660.5,569.9 661.4,567.8 662.3,567.5 663.2,567.2 664.2,565.6 665.1,569.4 666,567.9 666.9,568.7 667.9,569.1 668.8,566.7 669.7,568.7 670.6,564.4 671.6,571.6 672.5,564.7 673.4,567.3 674.3,568.6 675.3,565.9 676.2,565.6 677.1,563.7" fill="none" stroke="#e42a2a" stroke-width="1.2" stroke-linejoin="round"  />
<path d="M498.6,566.4 499.5,565.1 500.4,564.4 501.3,566.9 502.3,564 503.2,564.7 504.1,563.8 505,564.6 506,563.1 506.9,566.6 507.8,562.1 508.7,563.1 509.7,566.1 510.6,564.1 511.5,564.5 512.4,568.2 513.4,564.4 514.3,566.3 515.2,565.8 516.1,566.4 517.1,566.1 518,565 518.9,564.4 519.8,566.3 520.8,563.2 521.7,563.9 522.6,562.7 523.5,560.2 524.5,557.2 525.4,556.4 526.3,557.3 527.2,556.2 528.2,555.1 529.1,552.2 530,549.6 530.9,549.8 531.9,547.3 532.8,546.5 533.7,543.2 534.6,547.6 535.6,546.3 536.5,541.7 537.4,538.9 538.3,539.1 539.3,536.1 540.2,537.2 541.1,535.7 542,533.3 543,529.2 543.9,528.1 544.8,529.1 545.7,526.3 546.7,526.5 547.6,524.2 548.5,524.9 549.4,522 550.4,522.1 551.3,520 552.2,520 553.1,519.3 554.1,516.9 555,516.7 555.9,515.3 556.8,515.1 557.8,512.6 558.7,514.1 559.6,510.7 560.5,509.1 561.5,511.2 562.4,507.4 563.3,506.5 564.2,508.6 565.2,511.2 566.1,511.2 567,508.6 567.9,505.1 568.9,507 569.8,506.8 570.7,509 571.6,510.8 572.6,510.1 573.5,513.8 574.4,513.8 575.3,514.5 576.3,517.3 577.2,517.9 578.1,520.5 579,519.6 580,520.7 580.9,524.7 581.8,524.3 582.7,524.4 583.7,522.7 584.6,524 585.5,524.7 586.4,525.8 587.4,525.9 588.3,526.3 589.2,529.6 590.2,531.9 591.1,528.7 592,530.6 592.9,530.5 593.9,531.2 594.8,533.1 595.7,534.1 596.6,530.4 597.6,530.7 598.5,531.6 599.4,533.7 600.3,534.7 601.3,537 602.2,537.5 603.1,539.5 604,540.9 605,540.6 605.9,538.9 606.8,545.4 607.7,541.8 608.7,542.1 609.6,545.7 610.5,543.6 611.4,544.3 612.4,545.6 613.3,546.1 614.2,548.1 615.1,543.4 616.1,542.8 617,544.5 617.9,548 618.8,547.5 619.8,547.8 620.7,550.2 621.6,549.8 622.5,548.9 623.5,551 624.4,553.6 625.3,553.3 626.2,551.3 627.2,552.7 628.1,553.1 629,550.9 629.9,553.5 630.9,555.4 631.8,554.9 632.7,551.8 633.6,557.9 634.6,553.7 635.5,554.8 636.4,557.8 637.3,558.5 638.3,555.9 639.2,558 640.1,559.5 641,555.7 642,558.6 642.9,558.5 643.8,559.1 644.7,559.9 645.7,559.4 646.6,560.5 647.5,559.4 648.4,558.9 649.4,559.2 650.3,559.4 651.2,559.3 652.1,560.8 653.1,563.2 654,560.8 654.9,565.2 655.8,563.7 656.8,562.1 657.7,565.4 658.6,560.3 659.5,564.5 660.5,565.3 661.4,564.2 662.3,564.4 663.2,563.4 664.2,563.8 665.1,562 666,564.2 666.9,563.8 667.9,565.9 668.8,563.5 669.7,565.6 670.6,567.5 671.6,562.2 672.5,566.1 673.4,566.1 674.3,565.8 675.3,563.3 676.2,566.8 677.1,565" fill="none" stroke="#2626e6" stroke-width="1.2" stroke-linejoin="round"  />
</g>
<line x1="608.1" y1="506" x2="625.2" y2="506" stroke="#2626e6" stroke-width="1.6"/>
<text x="627.2" y="508.6" font-size="7.3" fill="#222"><tspan font-style="italic">R</tspan>-C[4]B@2TO</text>
<line x1="608.1" y1="515" x2="625.2" y2="515" stroke="#90c4f0" stroke-width="1.6"/>
<text x="627.2" y="517.6" font-size="7.3" fill="#222"><tspan font-style="italic">R</tspan>-C[4]B@TO</text>
<line x1="608.1" y1="524.4" x2="625.2" y2="524.4" stroke="#f0a0a0" stroke-width="1.6"/>
<text x="627.2" y="527" font-size="7.3" fill="#222">S-C[4]B@TO</text>
<line x1="608.1" y1="533.1" x2="625.2" y2="533.1" stroke="#e42a2a" stroke-width="1.6"/>
<text x="627.2" y="535.7" font-size="7.3" fill="#222">S-C[4]B@2TO</text>
<rect x="45.5" y="156.5" width="177.8" height="132.2" fill="none" stroke="#000" stroke-width="1.3"/>
<line x1="43.1" y1="167.6" x2="45.5" y2="167.6" stroke="#000" stroke-width="0.9"/>
<text x="40.3" y="170.6" font-size="8.4" font-weight="bold" text-anchor="end">200</text>
<line x1="43.1" y1="195.15" x2="45.5" y2="195.15" stroke="#000" stroke-width="0.9"/>
<text x="40.3" y="198.15" font-size="8.4" font-weight="bold" text-anchor="end">100</text>
<line x1="43.1" y1="222.7" x2="45.5" y2="222.7" stroke="#000" stroke-width="0.9"/>
<text x="40.3" y="225.7" font-size="8.4" font-weight="bold" text-anchor="end">0</text>
<line x1="43.1" y1="250.25" x2="45.5" y2="250.25" stroke="#000" stroke-width="0.9"/>
<text x="40.3" y="253.25" font-size="8.4" font-weight="bold" text-anchor="end">-100</text>
<line x1="43.1" y1="277.8" x2="45.5" y2="277.8" stroke="#000" stroke-width="0.9"/>
<text x="40.3" y="280.8" font-size="8.4" font-weight="bold" text-anchor="end">-200</text>
<line x1="44.1" y1="181.38" x2="45.5" y2="181.38" stroke="#000" stroke-width="0.8"/>
<line x1="44.1" y1="208.92" x2="45.5" y2="208.92" stroke="#000" stroke-width="0.8"/>
<line x1="44.1" y1="236.47" x2="45.5" y2="236.47" stroke="#000" stroke-width="0.8"/>
<line x1="44.1" y1="264.02" x2="45.5" y2="264.02" stroke="#000" stroke-width="0.8"/>
<line x1="45.5" y1="288.7" x2="45.5" y2="291.1" stroke="#000" stroke-width="0.9"/>
<text x="45.5" y="299.7" font-size="8.4" font-weight="bold" fill="#000" text-anchor="middle"  >200</text>
<line x1="96" y1="288.7" x2="96" y2="291.1" stroke="#000" stroke-width="0.9"/>
<text x="96" y="299.7" font-size="8.4" font-weight="bold" fill="#000" text-anchor="middle"  >300</text>
<line x1="146.49" y1="288.7" x2="146.49" y2="291.1" stroke="#000" stroke-width="0.9"/>
<text x="146.49" y="299.7" font-size="8.4" font-weight="bold" fill="#000" text-anchor="middle"  >400</text>
<line x1="196.99" y1="288.7" x2="196.99" y2="291.1" stroke="#000" stroke-width="0.9"/>
<text x="196.99" y="299.7" font-size="8.4" font-weight="bold" fill="#000" text-anchor="middle"  >500</text>
<line x1="70.75" y1="288.7" x2="70.75" y2="290.1" stroke="#000" stroke-width="0.8"/>
<line x1="121.25" y1="288.7" x2="121.25" y2="290.1" stroke="#000" stroke-width="0.8"/>
<line x1="171.74" y1="288.7" x2="171.74" y2="290.1" stroke="#000" stroke-width="0.8"/>
<text x="21.8" y="220.6" font-size="8.6" font-weight="bold" fill="#000" text-anchor="middle"  transform="rotate(-90 21.8 220.6)">CD (mdeg)</text>
<text x="130.7" y="311.4" font-size="8.6" font-weight="bold" fill="#000" text-anchor="middle"  >Wavelength / nm</text>
<rect x="278.1" y="156.2" width="178.7" height="131.9" fill="none" stroke="#000" stroke-width="1.3"/>
<line x1="275.7" y1="288.1" x2="278.1" y2="288.1" stroke="#000" stroke-width="0.9"/>
<text x="272.9" y="291.1" font-size="8.4" font-weight="bold" text-anchor="end">0</text>
<line x1="275.7" y1="267.5" x2="278.1" y2="267.5" stroke="#000" stroke-width="0.9"/>
<text x="272.9" y="270.5" font-size="8.4" font-weight="bold" text-anchor="end">1&#215;10<tspan font-size="5.5" dy="-3">5</tspan></text>
<line x1="275.7" y1="246.9" x2="278.1" y2="246.9" stroke="#000" stroke-width="0.9"/>
<text x="272.9" y="249.9" font-size="8.4" font-weight="bold" text-anchor="end">2&#215;10<tspan font-size="5.5" dy="-3">5</tspan></text>
<line x1="275.7" y1="226.3" x2="278.1" y2="226.3" stroke="#000" stroke-width="0.9"/>
<text x="272.9" y="229.3" font-size="8.4" font-weight="bold" text-anchor="end">3&#215;10<tspan font-size="5.5" dy="-3">5</tspan></text>
<line x1="275.7" y1="205.7" x2="278.1" y2="205.7" stroke="#000" stroke-width="0.9"/>
<text x="272.9" y="208.7" font-size="8.4" font-weight="bold" text-anchor="end">4&#215;10<tspan font-size="5.5" dy="-3">5</tspan></text>
<line x1="275.7" y1="185.1" x2="278.1" y2="185.1" stroke="#000" stroke-width="0.9"/>
<text x="272.9" y="188.1" font-size="8.4" font-weight="bold" text-anchor="end">5&#215;10<tspan font-size="5.5" dy="-3">5</tspan></text>
<line x1="275.7" y1="164.5" x2="278.1" y2="164.5" stroke="#000" stroke-width="0.9"/>
<text x="272.9" y="167.5" font-size="8.4" font-weight="bold" text-anchor="end">6&#215;10<tspan font-size="5.5" dy="-3">5</tspan></text>
<line x1="276.7" y1="277.8" x2="278.1" y2="277.8" stroke="#000" stroke-width="0.8"/>
<line x1="276.7" y1="257.2" x2="278.1" y2="257.2" stroke="#000" stroke-width="0.8"/>
<line x1="276.7" y1="236.6" x2="278.1" y2="236.6" stroke="#000" stroke-width="0.8"/>
<line x1="276.7" y1="216" x2="278.1" y2="216" stroke="#000" stroke-width="0.8"/>
<line x1="276.7" y1="195.4" x2="278.1" y2="195.4" stroke="#000" stroke-width="0.8"/>
<line x1="276.7" y1="174.8" x2="278.1" y2="174.8" stroke="#000" stroke-width="0.8"/>
<line x1="278.1" y1="288.1" x2="278.1" y2="290.5" stroke="#000" stroke-width="0.9"/>
<text x="278.1" y="299.1" font-size="8.4" font-weight="bold" fill="#000" text-anchor="middle"  >450</text>
<line x1="313.84" y1="288.1" x2="313.84" y2="290.5" stroke="#000" stroke-width="0.9"/>
<text x="313.84" y="299.1" font-size="8.4" font-weight="bold" fill="#000" text-anchor="middle"  >500</text>
<line x1="349.58" y1="288.1" x2="349.58" y2="290.5" stroke="#000" stroke-width="0.9"/>
<text x="349.58" y="299.1" font-size="8.4" font-weight="bold" fill="#000" text-anchor="middle"  >550</text>
<line x1="385.32" y1="288.1" x2="385.32" y2="290.5" stroke="#000" stroke-width="0.9"/>
<text x="385.32" y="299.1" font-size="8.4" font-weight="bold" fill="#000" text-anchor="middle"  >600</text>
<line x1="421.06" y1="288.1" x2="421.06" y2="290.5" stroke="#000" stroke-width="0.9"/>
<text x="421.06" y="299.1" font-size="8.4" font-weight="bold" fill="#000" text-anchor="middle"  >650</text>
<line x1="456.8" y1="288.1" x2="456.8" y2="290.5" stroke="#000" stroke-width="0.9"/>
<text x="456.8" y="299.1" font-size="8.4" font-weight="bold" fill="#000" text-anchor="middle"  >700</text>
<line x1="295.97" y1="288.1" x2="295.97" y2="289.5" stroke="#000" stroke-width="0.8"/>
<line x1="331.71" y1="288.1" x2="331.71" y2="289.5" stroke="#000" stroke-width="0.8"/>
<line x1="367.45" y1="288.1" x2="367.45" y2="289.5" stroke="#000" stroke-width="0.8"/>
<line x1="403.19" y1="288.1" x2="403.19" y2="289.5" stroke="#000" stroke-width="0.8"/>
<line x1="438.93" y1="288.1" x2="438.93" y2="289.5" stroke="#000" stroke-width="0.8"/>
<text x="247.8" y="213.2" font-size="8.6" font-weight="bold" fill="#000" text-anchor="middle"  transform="rotate(-90 247.8 213.2)">Intensity</text>
<text x="363.6" y="310.9" font-size="8.6" font-weight="bold" fill="#000" text-anchor="middle"  >Wavelength / nm</text>
<rect x="497.6" y="156.2" width="178" height="131.6" fill="none" stroke="#000" stroke-width="1.3"/>
<line x1="495.2" y1="174.3" x2="497.6" y2="174.3" stroke="#000" stroke-width="0.9"/>
<text x="492.4" y="177.3" font-size="8.4" font-weight="bold" text-anchor="end">4</text>
<line x1="495.2" y1="198.3" x2="497.6" y2="198.3" stroke="#000" stroke-width="0.9"/>
<text x="492.4" y="201.3" font-size="8.4" font-weight="bold" text-anchor="end">2</text>
<line x1="495.2" y1="222.3" x2="497.6" y2="222.3" stroke="#000" stroke-width="0.9"/>
<text x="492.4" y="225.3" font-size="8.4" font-weight="bold" text-anchor="end">0</text>
<line x1="495.2" y1="246.3" x2="497.6" y2="246.3" stroke="#000" stroke-width="0.9"/>
<text x="492.4" y="249.3" font-size="8.4" font-weight="bold" text-anchor="end">-2</text>
<line x1="495.2" y1="270.3" x2="497.6" y2="270.3" stroke="#000" stroke-width="0.9"/>
<text x="492.4" y="273.3" font-size="8.4" font-weight="bold" text-anchor="end">-4</text>
<line x1="496.2" y1="186.3" x2="497.6" y2="186.3" stroke="#000" stroke-width="0.8"/>
<line x1="496.2" y1="210.3" x2="497.6" y2="210.3" stroke="#000" stroke-width="0.8"/>
<line x1="496.2" y1="234.3" x2="497.6" y2="234.3" stroke="#000" stroke-width="0.8"/>
<line x1="496.2" y1="258.3" x2="497.6" y2="258.3" stroke="#000" stroke-width="0.8"/>
<line x1="496.2" y1="162.3" x2="497.6" y2="162.3" stroke="#000" stroke-width="0.8"/>
<line x1="496.2" y1="282.3" x2="497.6" y2="282.3" stroke="#000" stroke-width="0.8"/>
<line x1="497.6" y1="287.8" x2="497.6" y2="290.2" stroke="#000" stroke-width="0.9"/>
<text x="497.6" y="298.8" font-size="8.4" font-weight="bold" fill="#000" text-anchor="middle"  >450</text>
<line x1="542.1" y1="287.8" x2="542.1" y2="290.2" stroke="#000" stroke-width="0.9"/>
<text x="542.1" y="298.8" font-size="8.4" font-weight="bold" fill="#000" text-anchor="middle"  >500</text>
<line x1="586.6" y1="287.8" x2="586.6" y2="290.2" stroke="#000" stroke-width="0.9"/>
<text x="586.6" y="298.8" font-size="8.4" font-weight="bold" fill="#000" text-anchor="middle"  >550</text>
<line x1="631.1" y1="287.8" x2="631.1" y2="290.2" stroke="#000" stroke-width="0.9"/>
<text x="631.1" y="298.8" font-size="8.4" font-weight="bold" fill="#000" text-anchor="middle"  >600</text>
<line x1="675.6" y1="287.8" x2="675.6" y2="290.2" stroke="#000" stroke-width="0.9"/>
<text x="675.6" y="298.8" font-size="8.4" font-weight="bold" fill="#000" text-anchor="middle"  >650</text>
<line x1="519.85" y1="287.8" x2="519.85" y2="289.2" stroke="#000" stroke-width="0.8"/>
<line x1="564.35" y1="287.8" x2="564.35" y2="289.2" stroke="#000" stroke-width="0.8"/>
<line x1="608.85" y1="287.8" x2="608.85" y2="289.2" stroke="#000" stroke-width="0.8"/>
<line x1="653.35" y1="287.8" x2="653.35" y2="289.2" stroke="#000" stroke-width="0.8"/>
<text x="482.2" y="216.8" font-size="8.6" font-weight="bold" fill="#000" text-anchor="middle"  transform="rotate(-90 482.2 216.8)">CPL (mdeg)</text>
<text x="583.1" y="310.8" font-size="8.6" font-weight="bold" fill="#000" text-anchor="middle"  >Wavelength / nm</text>
<rect x="46.6" y="496.6" width="177.7" height="132.7" fill="none" stroke="#000" stroke-width="1.3"/>
<line x1="44.2" y1="502.5" x2="46.6" y2="502.5" stroke="#000" stroke-width="0.9"/>
<text x="41.4" y="505.5" font-size="8.4" font-weight="bold" text-anchor="end">200</text>
<line x1="44.2" y1="532.3" x2="46.6" y2="532.3" stroke="#000" stroke-width="0.9"/>
<text x="41.4" y="535.3" font-size="8.4" font-weight="bold" text-anchor="end">100</text>
<line x1="44.2" y1="562.1" x2="46.6" y2="562.1" stroke="#000" stroke-width="0.9"/>
<text x="41.4" y="565.1" font-size="8.4" font-weight="bold" text-anchor="end">0</text>
<line x1="44.2" y1="591.9" x2="46.6" y2="591.9" stroke="#000" stroke-width="0.9"/>
<text x="41.4" y="594.9" font-size="8.4" font-weight="bold" text-anchor="end">-100</text>
<line x1="44.2" y1="621.7" x2="46.6" y2="621.7" stroke="#000" stroke-width="0.9"/>
<text x="41.4" y="624.7" font-size="8.4" font-weight="bold" text-anchor="end">-200</text>
<line x1="45.2" y1="517.4" x2="46.6" y2="517.4" stroke="#000" stroke-width="0.8"/>
<line x1="45.2" y1="547.2" x2="46.6" y2="547.2" stroke="#000" stroke-width="0.8"/>
<line x1="45.2" y1="577" x2="46.6" y2="577" stroke="#000" stroke-width="0.8"/>
<line x1="45.2" y1="606.8" x2="46.6" y2="606.8" stroke="#000" stroke-width="0.8"/>
<line x1="46.6" y1="629.3" x2="46.6" y2="631.7" stroke="#000" stroke-width="0.9"/>
<text x="46.6" y="640.3" font-size="8.4" font-weight="bold" fill="#000" text-anchor="middle"  >200</text>
<line x1="91.03" y1="629.3" x2="91.03" y2="631.7" stroke="#000" stroke-width="0.9"/>
<text x="91.03" y="640.3" font-size="8.4" font-weight="bold" fill="#000" text-anchor="middle"  >300</text>
<line x1="135.45" y1="629.3" x2="135.45" y2="631.7" stroke="#000" stroke-width="0.9"/>
<text x="135.45" y="640.3" font-size="8.4" font-weight="bold" fill="#000" text-anchor="middle"  >400</text>
<line x1="179.88" y1="629.3" x2="179.88" y2="631.7" stroke="#000" stroke-width="0.9"/>
<text x="179.88" y="640.3" font-size="8.4" font-weight="bold" fill="#000" text-anchor="middle"  >500</text>
<line x1="224.3" y1="629.3" x2="224.3" y2="631.7" stroke="#000" stroke-width="0.9"/>
<text x="224.3" y="640.3" font-size="8.4" font-weight="bold" fill="#000" text-anchor="middle"  >600</text>
<line x1="68.81" y1="629.3" x2="68.81" y2="630.7" stroke="#000" stroke-width="0.8"/>
<line x1="113.24" y1="629.3" x2="113.24" y2="630.7" stroke="#000" stroke-width="0.8"/>
<line x1="157.66" y1="629.3" x2="157.66" y2="630.7" stroke="#000" stroke-width="0.8"/>
<line x1="202.09" y1="629.3" x2="202.09" y2="630.7" stroke="#000" stroke-width="0.8"/>
<text x="22.3" y="554" font-size="8.6" font-weight="bold" fill="#000" text-anchor="middle"  transform="rotate(-90 22.3 554)">CD (mdeg)</text>
<text x="132.2" y="651.3" font-size="8.6" font-weight="bold" fill="#000" text-anchor="middle"  >Wavelength / nm</text>
<rect x="278.9" y="497" width="178.3" height="132.2" fill="none" stroke="#000" stroke-width="1.3"/>
<line x1="276.5" y1="629" x2="278.9" y2="629" stroke="#000" stroke-width="0.9"/>
<text x="273.7" y="632" font-size="8.4" font-weight="bold" text-anchor="end">0.0</text>
<line x1="276.5" y1="608.8" x2="278.9" y2="608.8" stroke="#000" stroke-width="0.9"/>
<text x="273.7" y="611.8" font-size="8.4" font-weight="bold" text-anchor="end">2.0&#215;10<tspan font-size="5.5" dy="-3">4</tspan></text>
<line x1="276.5" y1="588.6" x2="278.9" y2="588.6" stroke="#000" stroke-width="0.9"/>
<text x="273.7" y="591.6" font-size="8.4" font-weight="bold" text-anchor="end">4.0&#215;10<tspan font-size="5.5" dy="-3">4</tspan></text>
<line x1="276.5" y1="568.4" x2="278.9" y2="568.4" stroke="#000" stroke-width="0.9"/>
<text x="273.7" y="571.4" font-size="8.4" font-weight="bold" text-anchor="end">6.0&#215;10<tspan font-size="5.5" dy="-3">4</tspan></text>
<line x1="276.5" y1="548.2" x2="278.9" y2="548.2" stroke="#000" stroke-width="0.9"/>
<text x="273.7" y="551.2" font-size="8.4" font-weight="bold" text-anchor="end">8.0&#215;10<tspan font-size="5.5" dy="-3">4</tspan></text>
<line x1="276.5" y1="528" x2="278.9" y2="528" stroke="#000" stroke-width="0.9"/>
<text x="273.7" y="531" font-size="8.4" font-weight="bold" text-anchor="end">1.0&#215;10<tspan font-size="5.5" dy="-3">5</tspan></text>
<line x1="276.5" y1="507.8" x2="278.9" y2="507.8" stroke="#000" stroke-width="0.9"/>
<text x="273.7" y="510.8" font-size="8.4" font-weight="bold" text-anchor="end">1.2&#215;10<tspan font-size="5.5" dy="-3">5</tspan></text>
<line x1="277.5" y1="618.9" x2="278.9" y2="618.9" stroke="#000" stroke-width="0.8"/>
<line x1="277.5" y1="598.7" x2="278.9" y2="598.7" stroke="#000" stroke-width="0.8"/>
<line x1="277.5" y1="578.5" x2="278.9" y2="578.5" stroke="#000" stroke-width="0.8"/>
<line x1="277.5" y1="558.3" x2="278.9" y2="558.3" stroke="#000" stroke-width="0.8"/>
<line x1="277.5" y1="538.1" x2="278.9" y2="538.1" stroke="#000" stroke-width="0.8"/>
<line x1="277.5" y1="517.9" x2="278.9" y2="517.9" stroke="#000" stroke-width="0.8"/>
<line x1="303.2" y1="629.2" x2="303.2" y2="631.6" stroke="#000" stroke-width="0.9"/>
<text x="303.2" y="640.2" font-size="8.4" font-weight="bold" fill="#000" text-anchor="middle"  >550</text>
<line x1="341.7" y1="629.2" x2="341.7" y2="631.6" stroke="#000" stroke-width="0.9"/>
<text x="341.7" y="640.2" font-size="8.4" font-weight="bold" fill="#000" text-anchor="middle"  >600</text>
<line x1="380.2" y1="629.2" x2="380.2" y2="631.6" stroke="#000" stroke-width="0.9"/>
<text x="380.2" y="640.2" font-size="8.4" font-weight="bold" fill="#000" text-anchor="middle"  >650</text>
<line x1="418.7" y1="629.2" x2="418.7" y2="631.6" stroke="#000" stroke-width="0.9"/>
<text x="418.7" y="640.2" font-size="8.4" font-weight="bold" fill="#000" text-anchor="middle"  >700</text>
<line x1="457.2" y1="629.2" x2="457.2" y2="631.6" stroke="#000" stroke-width="0.9"/>
<text x="457.2" y="640.2" font-size="8.4" font-weight="bold" fill="#000" text-anchor="middle"  >750</text>
<line x1="322.45" y1="629.2" x2="322.45" y2="630.6" stroke="#000" stroke-width="0.8"/>
<line x1="360.95" y1="629.2" x2="360.95" y2="630.6" stroke="#000" stroke-width="0.8"/>
<line x1="399.45" y1="629.2" x2="399.45" y2="630.6" stroke="#000" stroke-width="0.8"/>
<line x1="437.95" y1="629.2" x2="437.95" y2="630.6" stroke="#000" stroke-width="0.8"/>
<text x="242.3" y="554" font-size="8.6" font-weight="bold" fill="#000" text-anchor="middle"  transform="rotate(-90 242.3 554)">Intensity</text>
<text x="364.9" y="651.6" font-size="8.6" font-weight="bold" fill="#000" text-anchor="middle"  >Wavelength / nm</text>
<rect x="499.3" y="498.5" width="178.2" height="131.6" fill="none" stroke="#000" stroke-width="1.3"/>
<line x1="496.9" y1="510.7" x2="499.3" y2="510.7" stroke="#000" stroke-width="0.9"/>
<text x="494.9" y="513.7" font-size="8.4" font-weight="bold" text-anchor="end">40</text>
<line x1="496.9" y1="538.2" x2="499.3" y2="538.2" stroke="#000" stroke-width="0.9"/>
<text x="494.9" y="541.2" font-size="8.4" font-weight="bold" text-anchor="end">20</text>
<line x1="496.9" y1="565.7" x2="499.3" y2="565.7" stroke="#000" stroke-width="0.9"/>
<text x="494.9" y="568.7" font-size="8.4" font-weight="bold" text-anchor="end">0</text>
<line x1="496.9" y1="593.2" x2="499.3" y2="593.2" stroke="#000" stroke-width="0.9"/>
<text x="494.9" y="596.2" font-size="8.4" font-weight="bold" text-anchor="end">-20</text>
<line x1="496.9" y1="620.7" x2="499.3" y2="620.7" stroke="#000" stroke-width="0.9"/>
<text x="494.9" y="623.7" font-size="8.4" font-weight="bold" text-anchor="end">-40</text>
<line x1="497.9" y1="524.45" x2="499.3" y2="524.45" stroke="#000" stroke-width="0.8"/>
<line x1="497.9" y1="551.95" x2="499.3" y2="551.95" stroke="#000" stroke-width="0.8"/>
<line x1="497.9" y1="579.45" x2="499.3" y2="579.45" stroke="#000" stroke-width="0.8"/>
<line x1="497.9" y1="606.95" x2="499.3" y2="606.95" stroke="#000" stroke-width="0.8"/>
<line x1="522.2" y1="630.1" x2="522.2" y2="632.5" stroke="#000" stroke-width="0.9"/>
<text x="522.2" y="641.1" font-size="8.4" font-weight="bold" fill="#000" text-anchor="middle"  >550</text>
<line x1="573.6" y1="630.1" x2="573.6" y2="632.5" stroke="#000" stroke-width="0.9"/>
<text x="573.6" y="641.1" font-size="8.4" font-weight="bold" fill="#000" text-anchor="middle"  >600</text>
<line x1="625" y1="630.1" x2="625" y2="632.5" stroke="#000" stroke-width="0.9"/>
<text x="625" y="641.1" font-size="8.4" font-weight="bold" fill="#000" text-anchor="middle"  >650</text>
<line x1="676.4" y1="630.1" x2="676.4" y2="632.5" stroke="#000" stroke-width="0.9"/>
<text x="676.4" y="641.1" font-size="8.4" font-weight="bold" fill="#000" text-anchor="middle"  >700</text>
<line x1="547.9" y1="630.1" x2="547.9" y2="631.5" stroke="#000" stroke-width="0.8"/>
<line x1="599.3" y1="630.1" x2="599.3" y2="631.5" stroke="#000" stroke-width="0.8"/>
<line x1="650.7" y1="630.1" x2="650.7" y2="631.5" stroke="#000" stroke-width="0.8"/>
<text x="480.5" y="554.4" font-size="8.6" font-weight="bold" fill="#000" text-anchor="middle"  transform="rotate(-90 480.5 554.4)">CPL (mdeg)</text>
<text x="585" y="652.8" font-size="8.6" font-weight="bold" fill="#000" text-anchor="middle"  >Wavelength / nm</text>
<g><polygon points="72.3,42.2 78.1,34.3 87.2,36.9 89.3,46 84,54 74.4,51.8" fill="#f0f6fa" stroke="#bcc0c4" stroke-width="0.75" stroke-linejoin="round" /><polyline points="75.09,41.41 77.81,37.71" fill="none" stroke="#bcc0c4" stroke-width="0.6" stroke-linejoin="round" stroke-linecap="round" /><polyline points="86.14,39.93 87.12,44.18" fill="none" stroke="#bcc0c4" stroke-width="0.6" stroke-linejoin="round" stroke-linecap="round" /><polygon points="87.2,36.9 93.6,29.5 102.1,30.7 104.5,39 99,46.5 89.3,46" fill="#f0f6fa" stroke="#bcc0c4" stroke-width="0.75" stroke-linejoin="round" /><polyline points="90.12,36.01 93.12,32.55" fill="none" stroke="#bcc0c4" stroke-width="0.6" stroke-linejoin="round" stroke-linecap="round" /><polyline points="101.12,33.62 102.24,37.51" fill="none" stroke="#bcc0c4" stroke-width="0.6" stroke-linejoin="round" stroke-linecap="round" /><polygon points="110.6,62.5 118.1,57.2 127.7,58.8 130.9,67.8 125.5,77.4 113.8,77.4" fill="#f0f6fa" stroke="#bcc0c4" stroke-width="0.75" stroke-linejoin="round" /><polyline points="114.08,62.63 117.59,60.15" fill="none" stroke="#bcc0c4" stroke-width="0.6" stroke-linejoin="round" stroke-linecap="round" /><polyline points="126.75,61.97 128.24,66.19" fill="none" stroke="#bcc0c4" stroke-width="0.6" stroke-linejoin="round" stroke-linecap="round" /><polygon points="96,55 104,51.5 111,55.5 111.5,64 104.5,68 97,64" fill="#f0f6fa" stroke="#bcc0c4" stroke-width="0.75" stroke-linejoin="round" /><polyline points="99.01,55.48 102.75,53.84" fill="none" stroke="#bcc0c4" stroke-width="0.6" stroke-linejoin="round" stroke-linecap="round" /><polyline points="109.54,57.74 109.77,61.72" fill="none" stroke="#bcc0c4" stroke-width="0.6" stroke-linejoin="round" stroke-linecap="round" /><polygon points="125.5,77.4 130.9,67.8 136,70 137,80 133,86 127,84" fill="#f0f6fa" stroke="#bcc0c4" stroke-width="0.75" stroke-linejoin="round" /><polyline points="127.68,75.93 130.2,71.44" fill="none" stroke="#bcc0c4" stroke-width="0.6" stroke-linejoin="round" stroke-linecap="round" /><polyline points="135.18,73.22 135.65,77.9" fill="none" stroke="#bcc0c4" stroke-width="0.6" stroke-linejoin="round" stroke-linecap="round" /><polygon points="110,41 118,36 126,39 127,48 120,53 112,50" fill="#f0f6fa" stroke="#bcc0c4" stroke-width="0.75" stroke-linejoin="round" /><polyline points="113.19,40.99 116.94,38.65" fill="none" stroke="#bcc0c4" stroke-width="0.6" stroke-linejoin="round" stroke-linecap="round" /><polyline points="124.58,41.61 125.05,45.83" fill="none" stroke="#bcc0c4" stroke-width="0.6" stroke-linejoin="round" stroke-linecap="round" /><polygon points="47.5,36.5 52.8,30.3 58.3,33.4 58.8,45.5 54.2,53.2 47.8,49.5" fill="#edf6fb" stroke="#96999e" stroke-width="0.85" stroke-linejoin="round" /><polyline points="49.59,36.61 52.07,33.71" fill="none" stroke="#96999e" stroke-width="0.7" stroke-linejoin="round" stroke-linecap="round" /><polyline points="57.26,37.05 57.5,42.71" fill="none" stroke="#96999e" stroke-width="0.7" stroke-linejoin="round" stroke-linecap="round" /><polyline points="52.99,50.03 49.99,48.3" fill="none" stroke="#96999e" stroke-width="0.7" stroke-linejoin="round" stroke-linecap="round" /><polygon points="47.8,66.5 52.5,63.6 57.2,66.5 57.2,80.5 52.5,85.6 47.8,79.5" fill="#edf6fb" stroke="#96999e" stroke-width="0.85" stroke-linejoin="round" /><polyline points="49.57,67.63 51.77,66.27" fill="none" stroke="#96999e" stroke-width="0.7" stroke-linejoin="round" stroke-linecap="round" /><polyline points="56.17,70.27 56.17,76.82" fill="none" stroke="#96999e" stroke-width="0.7" stroke-linejoin="round" stroke-linecap="round" /><polyline points="51.77,82.03 49.57,79.18" fill="none" stroke="#96999e" stroke-width="0.7" stroke-linejoin="round" stroke-linecap="round" /><polygon points="59.2,64 64.5,60.2 69.3,63.5 69.5,73.5 64.6,79.8 59.2,76" fill="#edf6fb" stroke="#96999e" stroke-width="0.85" stroke-linejoin="round" /><polyline points="61.17,64.62 63.65,62.84" fill="none" stroke="#96999e" stroke-width="0.7" stroke-linejoin="round" stroke-linecap="round" /><polyline points="68.25,66.38 68.34,71.06" fill="none" stroke="#96999e" stroke-width="0.7" stroke-linejoin="round" stroke-linecap="round" /><polyline points="63.71,76.94 61.18,75.16" fill="none" stroke="#96999e" stroke-width="0.7" stroke-linejoin="round" stroke-linecap="round" /><polyline points="54.2,53.2 52.5,63.6" fill="none" stroke="#96999e" stroke-width="0.85" stroke-linejoin="round" stroke-linecap="round" /><polygon points="133.9,40.8 139.9,34.4 145.8,37.4 146.8,46.8 141.9,54.7 133.9,51.7" fill="#edf6fb" stroke="#96999e" stroke-width="0.85" stroke-linejoin="round" /><polyline points="136.26,40.57 139.07,37.58" fill="none" stroke="#96999e" stroke-width="0.7" stroke-linejoin="round" stroke-linecap="round" /><polyline points="144.76,40.38 145.23,44.78" fill="none" stroke="#96999e" stroke-width="0.7" stroke-linejoin="round" stroke-linecap="round" /><polyline points="140.31,51.94 136.57,50.54" fill="none" stroke="#96999e" stroke-width="0.7" stroke-linejoin="round" stroke-linecap="round" /><polygon points="145.8,37.4 150.8,29.5 155.7,32.9 156.2,43.8 151.8,51.2 146.8,46.8" fill="#edf6fb" stroke="#96999e" stroke-width="0.85" stroke-linejoin="round" /><polyline points="147.76,36.8 150.1,33.1" fill="none" stroke="#96999e" stroke-width="0.7" stroke-linejoin="round" stroke-linecap="round" /><polyline points="154.78,36.22 155.02,41.32" fill="none" stroke="#96999e" stroke-width="0.7" stroke-linejoin="round" stroke-linecap="round" /><polyline points="150.88,48.11 148.54,46.05" fill="none" stroke="#96999e" stroke-width="0.7" stroke-linejoin="round" stroke-linecap="round" /><polygon points="146.8,65.1 151.8,63.6 156.7,70.5 156.2,81.9 151.8,84.9 146.8,78.5" fill="#edf6fb" stroke="#96999e" stroke-width="0.85" stroke-linejoin="round" /><polyline points="148.65,66.84 150.99,66.14" fill="none" stroke="#96999e" stroke-width="0.7" stroke-linejoin="round" stroke-linecap="round" /><polyline points="155.52,73.07 155.28,78.4" fill="none" stroke="#96999e" stroke-width="0.7" stroke-linejoin="round" stroke-linecap="round" /><polyline points="150.99,81.52 148.65,78.53" fill="none" stroke="#96999e" stroke-width="0.7" stroke-linejoin="round" stroke-linecap="round" /><polyline points="151.8,51.2 151.8,63.6" fill="none" stroke="#96999e" stroke-width="0.85" stroke-linejoin="round" stroke-linecap="round" /><polygon points="101.7,33.8 111.4,30.7 117.5,37.8 115,49.6 105.3,52.7 99.1,45.5" fill="#d2ebf8" stroke="#1e1e1e" stroke-width="1.75" stroke-linejoin="round" /><polyline points="104.67,35.05 109.21,33.6" fill="none" stroke="#1e1e1e" stroke-width="0.8" stroke-linejoin="round" stroke-linecap="round" /><polyline points="105,49.15 102.1,45.78" fill="none" stroke="#1e1e1e" stroke-width="0.8" stroke-linejoin="round" stroke-linecap="round" /><polygon points="117.5,37.8 127.2,35.1 132.3,43.5 129.8,54.7 121.1,56.7 115,49.6" fill="#d2ebf8" stroke="#1e1e1e" stroke-width="1.75" stroke-linejoin="round" /><polyline points="127.25,38.86 129.64,42.79" fill="none" stroke="#1e1e1e" stroke-width="0.8" stroke-linejoin="round" stroke-linecap="round" /><polyline points="127.13,53.15 123.05,54.09" fill="none" stroke="#1e1e1e" stroke-width="0.8" stroke-linejoin="round" stroke-linecap="round" /><polygon points="76.4,61.7 85.1,59.6 91.5,67.5 88.6,78.6 79.3,81 73.4,73.4" fill="#d2ebf8" stroke="#1e1e1e" stroke-width="1.75" stroke-linejoin="round" /><polyline points="79.07,63.26 83.15,62.28" fill="none" stroke="#1e1e1e" stroke-width="0.8" stroke-linejoin="round" stroke-linecap="round" /><polyline points="85.78,77.15 81.43,78.27" fill="none" stroke="#1e1e1e" stroke-width="0.8" stroke-linejoin="round" stroke-linecap="round" /><polygon points="91.5,67.5 101.5,64.6 107.9,72.8 105,83.3 95.6,86.2 88.6,78.6" fill="#d2ebf8" stroke="#1e1e1e" stroke-width="1.75" stroke-linejoin="round" /><polyline points="101.81,68.28 104.8,72.11" fill="none" stroke="#1e1e1e" stroke-width="0.8" stroke-linejoin="round" stroke-linecap="round" /><polyline points="102.07,82.04 97.67,83.39" fill="none" stroke="#1e1e1e" stroke-width="0.8" stroke-linejoin="round" stroke-linecap="round" /><polygon points="59,38.4 64.2,35.1 68.9,43.6 69.5,53.5 64.8,57 59,49.4" fill="#d2ebf8" stroke="#1e1e1e" stroke-width="1.75" stroke-linejoin="round" /><polyline points="64.94,38.86 67.14,42.84" fill="none" stroke="#1e1e1e" stroke-width="0.8" stroke-linejoin="round" stroke-linecap="round" /><polyline points="67.61,52.43 65.41,54.07" fill="none" stroke="#1e1e1e" stroke-width="0.8" stroke-linejoin="round" stroke-linecap="round" /><polygon points="136.4,61.6 141.4,58.7 146.8,65.1 146.8,78.5 141.4,81.4 135.9,72.5" fill="#d2ebf8" stroke="#1e1e1e" stroke-width="1.75" stroke-linejoin="round" /><polyline points="142.25,62.1 144.78,65.1" fill="none" stroke="#1e1e1e" stroke-width="0.8" stroke-linejoin="round" stroke-linecap="round" /><polyline points="144.78,77 142.25,78.36" fill="none" stroke="#1e1e1e" stroke-width="0.8" stroke-linejoin="round" stroke-linecap="round" /><polyline points="105.3,52.7 101.5,64.6" fill="none" stroke="#1e1e1e" stroke-width="1.6" stroke-linejoin="round" stroke-linecap="round" /><polyline points="69.2,54.5 76.4,61.7" fill="none" stroke="#1e1e1e" stroke-width="1.4" stroke-linejoin="round" stroke-linecap="round" /><polyline points="129.8,54.7 136.4,61.6" fill="none" stroke="#1e1e1e" stroke-width="1.4" stroke-linejoin="round" stroke-linecap="round" /><polyline points="99.1,45.5 90,48.2" fill="none" stroke="#1e1e1e" stroke-width="1.6" stroke-linejoin="round" stroke-linecap="round" /><polyline points="107.9,72.8 117.2,70.1" fill="none" stroke="#1e1e1e" stroke-width="1.6" stroke-linejoin="round" stroke-linecap="round" /><polyline points="43.6,69.2 47.8,68" fill="none" stroke="#1e1e1e" stroke-width="1.3" stroke-linejoin="round" stroke-linecap="round" /><polyline points="43.8,48 47.8,46.5" fill="none" stroke="#96999e" stroke-width="0.85" stroke-linejoin="round" stroke-linecap="round" /><polyline points="156.2,43.8 159.7,45.8" fill="none" stroke="#96999e" stroke-width="0.85" stroke-linejoin="round" stroke-linecap="round" /><polyline points="156.7,70.5 159.7,69.1" fill="none" stroke="#96999e" stroke-width="0.85" stroke-linejoin="round" stroke-linecap="round" /><text x="78.9" y="52" font-size="8" fill="#ec3038" textLength="10" lengthAdjust="spacingAndGlyphs">RO</text><text x="118.4" y="71.2" font-size="8" fill="#ec3038" textLength="10" lengthAdjust="spacingAndGlyphs">OR</text><text x="34.4" y="50.6" font-size="8" fill="#f09aa2" textLength="9.4" lengthAdjust="spacingAndGlyphs">RO</text><text x="33.3" y="70.8" font-size="8" fill="#ec4a54" textLength="9.9" lengthAdjust="spacingAndGlyphs">RO</text><text x="160.7" y="50.7" font-size="8" fill="#ec4a54" textLength="9.9" lengthAdjust="spacingAndGlyphs">OR</text><text x="160.2" y="69.6" font-size="8" fill="#f09aa2" textLength="9.9" lengthAdjust="spacingAndGlyphs">OR</text><text x="116" y="49.3" font-size="8" fill="#f6cfd3" textLength="9.5" lengthAdjust="spacingAndGlyphs">OR</text><text x="77.6" y="69.5" font-size="8" fill="#f6d6da" textLength="9.5" lengthAdjust="spacingAndGlyphs">RO</text><text x="71.1" y="100.4" font-size="7.3" fill="#e8303a">R =</text><path d="M87.5,91.5 q1.2,1.2 0,2.4 q-1.2,1.2 0,2.4 q1.2,1.2 0,2.4 q-1.2,1.2 0,2.4 q1.2,1.2 0,2.4" fill="none" stroke="#e8303a" stroke-width="0.8"/><polyline points="88.5,97.3 98.5,92.4 106,97.2" fill="none" stroke="#e8303a" stroke-width="0.8" stroke-linejoin="round" stroke-linecap="round" /><text x="107.3" y="100.4" font-size="7.3" fill="#e8303a" textLength="23.9" lengthAdjust="spacingAndGlyphs">COONa</text></g>
<path d="M160.9,33.2 161.1,33.1 161.4,33 161.6,32.8 161.8,32.7 162,32.5 162.2,32.3 162.4,32.1 162.6,31.9 162.7,31.6 162.8,31.3 162.9,31 162.9,30.6 162.9,30.3 162.9,29.9 162.9,29.6 162.8,29.2 162.7,28.9 162.6,28.5 162.5,28.2 162.4,27.9 162.3,27.6 162.1,27.4 162,27.3 162,27.3 161.9,27.3 161.9,27.4 161.9,27.5 162,27.7 162,27.9 162.1,28.2 162.3,28.4 162.5,28.8 162.7,29.1 163,29.4 163.3,29.8 163.6,30.1 164,30.4 164.3,30.7 164.7,31 165.1,31.2 165.5,31.3 165.9,31.5 166.3,31.5 166.6,31.5 167,31.5 167.3,31.3 167.5,31.1 167.7,30.9 167.9,30.5 168,30.1 168,29.7 168,29.1 167.9,28.6 167.8,28 167.6,27.4 167.4,26.7 167.2,26 166.9,25.4 166.6,24.7 166.3,24.1 165.9,23.5 165.6,23 165.2,22.5 164.9,22.1 164.6,21.7 164.4,21.4 164.2,21.2 164,21.1 163.9,21.1 163.8,21.2 163.8,21.3 163.9,21.6 164,21.9 164.3,22.3 164.5,22.7 164.9,23.3 165.3,23.8 165.8,24.4 166.3,25.1 166.9,25.7 167.5,26.3 168.1,27 168.8,27.5 169.5,28.1 170.1,28.6 170.7,29 171.4,29.3 171.9,29.5 172.5,29.7 172.9,29.7 173.3,29.6 173.6,29.4 173.9,29.1 174.1,28.7 174.1,28.2 174.1,27.6 174,26.8 173.8,26.1 173.5,25.2 173.2,24.3 172.8,23.3 172.3,22.3 171.8,21.4 171.2,20.4 170.6,19.4 170,18.5 169.4,17.7 168.8,16.9 168.2,16.2 167.7,15.7 167.2,15.2 166.8,14.8 166.5,14.6 166.3,14.5 166.1,14.6 166.2,14.9 166.3,15.3 166.5,15.8 166.8,16.4 167.2,17.1 167.7,17.9 168.3,18.8 169,19.7 169.7,20.6 170.5,21.6 171.4,22.5 172.2,23.4 173.1,24.3 174,25.1 174.9,25.8 175.8,26.5 176.6,27 177.4,27.4 178.1,27.7 178.7,27.9 179.3,27.9 179.7,27.7 180,27.5 180.3,27.1 180.4,26.5 180.4,25.9 180.3,25.1 180.1,24.2 179.8,23.3 179.4,22.3 178.9,21.2 178.3,20.1 177.7,19 177,18 176.3,16.9 175.6,15.9 174.9,15 174.2,14.1 173.5,13.4" fill="none" stroke="#b8c8ec" stroke-width="3.6" stroke-opacity="0.55" stroke-linecap="round" stroke-linejoin="round"/><path d="M160.9,33.2 161.1,33.1 161.4,33 161.6,32.8 161.8,32.7 162,32.5 162.2,32.3 162.4,32.1 162.6,31.9 162.7,31.6 162.8,31.3 162.9,31 162.9,30.6 162.9,30.3 162.9,29.9 162.9,29.6 162.8,29.2 162.7,28.9 162.6,28.5 162.5,28.2 162.4,27.9 162.3,27.6 162.1,27.4 162,27.3 162,27.3 161.9,27.3 161.9,27.4 161.9,27.5 162,27.7 162,27.9 162.1,28.2 162.3,28.4 162.5,28.8 162.7,29.1 163,29.4 163.3,29.8 163.6,30.1 164,30.4 164.3,30.7 164.7,31 165.1,31.2 165.5,31.3 165.9,31.5 166.3,31.5 166.6,31.5 167,31.5 167.3,31.3 167.5,31.1 167.7,30.9 167.9,30.5 168,30.1 168,29.7 168,29.1 167.9,28.6 167.8,28 167.6,27.4 167.4,26.7 167.2,26 166.9,25.4 166.6,24.7 166.3,24.1 165.9,23.5 165.6,23 165.2,22.5 164.9,22.1 164.6,21.7 164.4,21.4 164.2,21.2 164,21.1 163.9,21.1 163.8,21.2 163.8,21.3 163.9,21.6 164,21.9 164.3,22.3 164.5,22.7 164.9,23.3 165.3,23.8 165.8,24.4 166.3,25.1 166.9,25.7 167.5,26.3 168.1,27 168.8,27.5 169.5,28.1 170.1,28.6 170.7,29 171.4,29.3 171.9,29.5 172.5,29.7 172.9,29.7 173.3,29.6 173.6,29.4 173.9,29.1 174.1,28.7 174.1,28.2 174.1,27.6 174,26.8 173.8,26.1 173.5,25.2 173.2,24.3 172.8,23.3 172.3,22.3 171.8,21.4 171.2,20.4 170.6,19.4 170,18.5 169.4,17.7 168.8,16.9 168.2,16.2 167.7,15.7 167.2,15.2 166.8,14.8 166.5,14.6 166.3,14.5 166.1,14.6 166.2,14.9 166.3,15.3 166.5,15.8 166.8,16.4 167.2,17.1 167.7,17.9 168.3,18.8 169,19.7 169.7,20.6 170.5,21.6 171.4,22.5 172.2,23.4 173.1,24.3 174,25.1 174.9,25.8 175.8,26.5 176.6,27 177.4,27.4 178.1,27.7 178.7,27.9 179.3,27.9 179.7,27.7 180,27.5 180.3,27.1 180.4,26.5 180.4,25.9 180.3,25.1 180.1,24.2 179.8,23.3 179.4,22.3 178.9,21.2 178.3,20.1 177.7,19 177,18 176.3,16.9 175.6,15.9 174.9,15 174.2,14.1 173.5,13.4" fill="none" stroke="#4a6ec4" stroke-width="1.45" stroke-linecap="round" stroke-linejoin="round"/><polygon points="171.33,10.67 172.27,15.82 176.16,12.69" fill="#b8c8ec" stroke="#b8c8ec" stroke-width="1.6" stroke-linejoin="round" stroke-opacity="0.55" fill-opacity="0.55"/><polygon points="171.33,10.67 172.27,15.82 176.16,12.69" fill="#4a6ec4" stroke="#4a6ec4" stroke-width="0.5" stroke-linejoin="round" />
<path d="M185.1,65.15 L287.6,65.15 L287.6,60.9 L301.6,68 L287.6,75.1 L287.6,70.85 L185.1,70.85 Z" fill="url(#ga1)"/>
<polygon points="207.05,57.2 197.52,51.7 197.52,40.7 207.05,35.2 216.58,40.7 216.58,51.7" fill="none" stroke="#4a4a4a" stroke-width="0.9" stroke-linejoin="round" /><polyline points="205.56,53.92 201.11,51.35" fill="none" stroke="#4a4a4a" stroke-width="0.8" stroke-linejoin="round" stroke-linecap="round" /><polyline points="201.11,41.05 205.56,38.48" fill="none" stroke="#4a4a4a" stroke-width="0.8" stroke-linejoin="round" stroke-linecap="round" /><polyline points="214.48,43.63 214.48,48.77" fill="none" stroke="#4a4a4a" stroke-width="0.8" stroke-linejoin="round" stroke-linecap="round" /><polyline points="187.4,34.6 197.52,40.7" fill="none" stroke="#4a4a4a" stroke-width="0.9" stroke-linejoin="round" stroke-linecap="round" /><polyline points="216.58,40.7 223.5,37.6" fill="none" stroke="#4a4a4a" stroke-width="0.9" stroke-linejoin="round" stroke-linecap="round" /><polyline points="228.5,38.6 234,45.9 228,53.5" fill="none" stroke="#4a4a4a" stroke-width="0.9" stroke-linejoin="round" stroke-linecap="round" /><polyline points="223,54.5 216.58,51.7" fill="none" stroke="#4a4a4a" stroke-width="0.9" stroke-linejoin="round" stroke-linecap="round" /><polyline points="231,47.5 226.5,53" fill="none" stroke="#4a4a4a" stroke-width="0.7" stroke-linejoin="round" stroke-linecap="round" /><polygon points="269.2,45.9 263.6,55.6 252.4,55.6 246.8,45.9 252.4,36.2 263.6,36.2" fill="none" stroke="#4a4a4a" stroke-width="0.9" stroke-linejoin="round" /><polyline points="260.62,53.47 255.38,53.47" fill="none" stroke="#4a4a4a" stroke-width="0.8" stroke-linejoin="round" stroke-linecap="round" /><polyline points="250.14,44.39 252.76,39.85" fill="none" stroke="#4a4a4a" stroke-width="0.8" stroke-linejoin="round" stroke-linecap="round" /><polyline points="263.24,39.85 265.86,44.39" fill="none" stroke="#4a4a4a" stroke-width="0.8" stroke-linejoin="round" stroke-linecap="round" /><polyline points="234,45.9 246.8,45.9" fill="none" stroke="#4a4a4a" stroke-width="0.9" stroke-linejoin="round" stroke-linecap="round" /><polyline points="269.2,45.9 277.5,45.9" fill="none" stroke="#4a4a4a" stroke-width="0.9" stroke-linejoin="round" stroke-linecap="round" /><polyline points="282.2,42.7 286.2,36.2" fill="none" stroke="#4a4a4a" stroke-width="0.9" stroke-linejoin="round" stroke-linecap="round" /><polyline points="282.2,49.3 286.2,56.3" fill="none" stroke="#4a4a4a" stroke-width="0.9" stroke-linejoin="round" stroke-linecap="round" /><polyline points="227.6,58 231.6,66" fill="none" stroke="#4a4a4a" stroke-width="0.9" stroke-linejoin="round" stroke-linecap="round" /><text x="225.6" y="40" font-size="7.2" fill="#333" text-anchor="middle">S</text><text x="225.8" y="58.5" font-size="7.6" fill="#2a3ad8" text-anchor="middle">N</text><text x="230.3" y="55" font-size="6" fill="#333">+</text><text x="280.2" y="49" font-size="7.6" fill="#2a3ad8" text-anchor="middle">N</text><text x="209" y="67" font-size="7" fill="#333">Cl</text><text x="214.5" y="60.8" font-size="6" fill="#333">&#8211;</text>
<text x="236.4" y="70.2" font-size="7" fill="#333">ThT</text>
<text x="184.9" y="90.4" font-size="14" font-weight="bold" fill="#111" textLength="105.3" lengthAdjust="spacing"><tspan font-style="italic">K</tspan><tspan font-size="9.5" dy="3">1</tspan><tspan dy="-3"> = 9.3&#215;10</tspan><tspan font-size="9.5" dy="-5.3">8</tspan><tspan dy="5.3"> M</tspan><tspan font-size="9.5" dy="-5.3">&#8722;1</tspan></text>
<g transform="translate(0,0)"><ellipse cx="358.5" cy="58" rx="49" ry="46" fill="url(#cg0_0o)"/><path d="M330.4,37 Q330.4,33 334,32.5 L340.7,31 L340.7,30 Q341,27.5 344,27 L362,23 Q366,22.5 369,24 L384,31.5 Q387.3,33.5 387.3,37 L387.3,80 Q387.3,83 384.5,84.5 L372,92.5 Q368,95.2 364,95.3 L359,94 L342,88.5 L334,85 Q330.4,83.5 330.4,80 Z" fill="url(#cg0_0b)" stroke="#c6c8d0" stroke-width="0.8"/><path d="M336,34.5 L341,33.2 L341,31 Q342,29 345,28.8 L362,25.2 Q365.5,24.8 368,26 L382,33 L382,36 L366,42 L343,38 Z" fill="#f4f4f7" stroke="#c6c8d0" stroke-width="0.6"/><path d="M341,38 L341,88 M336.6,35 L336.6,85.5 M366.5,42 L366.5,95 M378.3,37 L378.3,89 M381,36 L381,87.5 M331,58 L342,60.5 L359,66.5 L387,58" fill="none" stroke="#fcfcfe" stroke-width="1.1" stroke-opacity="0.95"/><path d="M340.3,38 L340.3,88 M365.8,42 L365.8,95 M377.6,37 L377.6,89" fill="none" stroke="#c6c8d0" stroke-width="0.5"/><ellipse cx="362" cy="55" rx="31" ry="32" fill="url(#cg0_0g)"/><path d="M331,56 Q325,56 318,52 M331,62 Q325,64 318,66.5 M387,56 Q393,56 399,52 M387,62 Q393,64 399,67.5 M352,70 Q345,73 345,80 M366,74 Q372,77 374,84" fill="none" stroke="#dfe3cf" stroke-width="1.4"/><circle cx="316" cy="52" r="3.3" fill="#f6d8c2" stroke="#e8bc9c" stroke-width="0.7"/><line x1="314.7" y1="52" x2="317.3" y2="52" stroke="#e4b8a0" stroke-width="0.6"/><circle cx="316" cy="66.6" r="3.3" fill="#f6d8c2" stroke="#e8bc9c" stroke-width="0.7"/><line x1="314.7" y1="66.6" x2="317.3" y2="66.6" stroke="#e4b8a0" stroke-width="0.6"/><circle cx="344.6" cy="80.4" r="3.3" fill="#f6d8c2" stroke="#e8bc9c" stroke-width="0.7"/><line x1="343.3" y1="80.4" x2="345.9" y2="80.4" stroke="#e4b8a0" stroke-width="0.6"/><circle cx="373.7" cy="84.9" r="3.3" fill="#f6d8c2" stroke="#e8bc9c" stroke-width="0.7"/><line x1="372.4" y1="84.9" x2="375" y2="84.9" stroke="#e4b8a0" stroke-width="0.6"/><circle cx="401.8" cy="52" r="3.3" fill="#f6d8c2" stroke="#e8bc9c" stroke-width="0.7"/><line x1="400.5" y1="52" x2="403.1" y2="52" stroke="#e4b8a0" stroke-width="0.6"/><circle cx="400.5" cy="67.5" r="3.3" fill="#f6d8c2" stroke="#e8bc9c" stroke-width="0.7"/><line x1="399.2" y1="67.5" x2="401.8" y2="67.5" stroke="#e4b8a0" stroke-width="0.6"/><path d="M349.8,34.2 Q349.8,31.2 352.8,31.5 L363.8,34.7 Q364.8,35.2 364.8,37.7 L364.8,87.9 Q364.8,89.4 362.3,89.2 L349.8,85.9 Z" fill="#141a14"/><path d="M350.6,34.6 Q350.6,32.8 352.4,33 L361.8,36.8 L361.8,88.6 L350.6,86 Z" fill="url(#bg0_0_349)"/><g transform="translate(356.1,41.7) skewY(18)"><ellipse cx="0" cy="0" rx="4.3" ry="4.8" fill="#3a9ec4" stroke="#7ad4ea" stroke-width="0.7"/><path d="M-2.7,0 h5.4 M0,-2.9 v5.8" stroke="#f4fcf0" stroke-width="1.7"/></g><ellipse cx="362" cy="56" rx="19" ry="22" fill="url(#cg0_0g)" opacity="0.5"/></g>
<path d="M385.6,29.6 385.8,29.5 386.1,29.4 386.3,29.2 386.5,29.1 386.7,28.9 386.9,28.7 387.1,28.5 387.2,28.3 387.4,28 387.5,27.7 387.5,27.4 387.6,27.1 387.6,26.8 387.6,26.4 387.5,26 387.5,25.7 387.4,25.3 387.3,25 387.2,24.7 387.1,24.4 386.9,24.2 386.8,24 386.7,23.8 386.6,23.8 386.6,23.8 386.6,23.9 386.6,24 386.6,24.2 386.7,24.4 386.8,24.7 387,24.9 387.2,25.2 387.4,25.6 387.6,25.9 387.9,26.2 388.3,26.6 388.6,26.9 389,27.1 389.4,27.4 389.7,27.6 390.1,27.8 390.5,27.9 390.9,28 391.2,28 391.6,27.9 391.8,27.8 392.1,27.6 392.3,27.3 392.4,27 392.5,26.6 392.6,26.1 392.6,25.6 392.5,25.1 392.4,24.5 392.2,23.9 392,23.2 391.8,22.6 391.5,21.9 391.2,21.3 390.9,20.7 390.5,20.1 390.2,19.6 389.9,19.1 389.5,18.7 389.3,18.3 389,18.1 388.8,17.9 388.6,17.8 388.5,17.7 388.5,17.8 388.5,18 388.5,18.2 388.7,18.5 388.9,18.9 389.2,19.3 389.5,19.9 389.9,20.4 390.4,21 390.9,21.6 391.5,22.3 392.1,22.9 392.7,23.5 393.3,24.1 394,24.6 394.6,25.1 395.3,25.5 395.9,25.8 396.4,26 396.9,26.1 397.4,26.2 397.8,26.1 398.1,25.9 398.3,25.6 398.5,25.2 398.6,24.7 398.5,24.1 398.4,23.4 398.3,22.6 398,21.8 397.6,20.9 397.2,19.9 396.8,19 396.2,18 395.7,17 395.1,16.1 394.5,15.2 393.9,14.4 393.3,13.6 392.8,13 392.3,12.4 391.8,11.9 391.4,11.6 391.1,11.4 390.9,11.3 390.7,11.4 390.7,11.7 390.9,12 391.1,12.5 391.4,13.1 391.8,13.8 392.3,14.6 392.8,15.4 393.5,16.3 394.2,17.3 395,18.2 395.8,19.1 396.7,20 397.6,20.9 398.5,21.7 399.3,22.4 400.2,23 401,23.5 401.8,23.9 402.4,24.2 403.1,24.4 403.6,24.4 404,24.3 404.4,24 404.6,23.6 404.7,23.1 404.7,22.4 404.6,21.7 404.4,20.8 404.1,19.9 403.7,18.9 403.2,17.9 402.7,16.8 402.1,15.7 401.4,14.7 400.7,13.6 400,12.6 399.3,11.7 398.6,10.9 397.9,10.2" fill="none" stroke="#a6f080" stroke-width="3.528" stroke-opacity="0.55" stroke-linecap="round" stroke-linejoin="round"/><path d="M385.6,29.6 385.8,29.5 386.1,29.4 386.3,29.2 386.5,29.1 386.7,28.9 386.9,28.7 387.1,28.5 387.2,28.3 387.4,28 387.5,27.7 387.5,27.4 387.6,27.1 387.6,26.8 387.6,26.4 387.5,26 387.5,25.7 387.4,25.3 387.3,25 387.2,24.7 387.1,24.4 386.9,24.2 386.8,24 386.7,23.8 386.6,23.8 386.6,23.8 386.6,23.9 386.6,24 386.6,24.2 386.7,24.4 386.8,24.7 387,24.9 387.2,25.2 387.4,25.6 387.6,25.9 387.9,26.2 388.3,26.6 388.6,26.9 389,27.1 389.4,27.4 389.7,27.6 390.1,27.8 390.5,27.9 390.9,28 391.2,28 391.6,27.9 391.8,27.8 392.1,27.6 392.3,27.3 392.4,27 392.5,26.6 392.6,26.1 392.6,25.6 392.5,25.1 392.4,24.5 392.2,23.9 392,23.2 391.8,22.6 391.5,21.9 391.2,21.3 390.9,20.7 390.5,20.1 390.2,19.6 389.9,19.1 389.5,18.7 389.3,18.3 389,18.1 388.8,17.9 388.6,17.8 388.5,17.7 388.5,17.8 388.5,18 388.5,18.2 388.7,18.5 388.9,18.9 389.2,19.3 389.5,19.9 389.9,20.4 390.4,21 390.9,21.6 391.5,22.3 392.1,22.9 392.7,23.5 393.3,24.1 394,24.6 394.6,25.1 395.3,25.5 395.9,25.8 396.4,26 396.9,26.1 397.4,26.2 397.8,26.1 398.1,25.9 398.3,25.6 398.5,25.2 398.6,24.7 398.5,24.1 398.4,23.4 398.3,22.6 398,21.8 397.6,20.9 397.2,19.9 396.8,19 396.2,18 395.7,17 395.1,16.1 394.5,15.2 393.9,14.4 393.3,13.6 392.8,13 392.3,12.4 391.8,11.9 391.4,11.6 391.1,11.4 390.9,11.3 390.7,11.4 390.7,11.7 390.9,12 391.1,12.5 391.4,13.1 391.8,13.8 392.3,14.6 392.8,15.4 393.5,16.3 394.2,17.3 395,18.2 395.8,19.1 396.7,20 397.6,20.9 398.5,21.7 399.3,22.4 400.2,23 401,23.5 401.8,23.9 402.4,24.2 403.1,24.4 403.6,24.4 404,24.3 404.4,24 404.6,23.6 404.7,23.1 404.7,22.4 404.6,21.7 404.4,20.8 404.1,19.9 403.7,18.9 403.2,17.9 402.7,16.8 402.1,15.7 401.4,14.7 400.7,13.6 400,12.6 399.3,11.7 398.6,10.9 397.9,10.2" fill="none" stroke="#5aa83c" stroke-width="1.421" stroke-linecap="round" stroke-linejoin="round"/><polygon points="395.82,7.52 396.74,12.57 400.56,9.5" fill="#a6f080" stroke="#a6f080" stroke-width="1.6" stroke-linejoin="round" stroke-opacity="0.55" fill-opacity="0.55"/><polygon points="395.82,7.52 396.74,12.57 400.56,9.5" fill="#5aa83c" stroke="#5aa83c" stroke-width="0.5" stroke-linejoin="round" />
<path d="M418.2,64.95 L521.7,64.95 L521.7,60.7 L535.7,67.8 L521.7,74.9 L521.7,70.65 L418.2,70.65 Z" fill="url(#ga2)"/>
<g transform="translate(234,-0.3)"><polygon points="207.05,57.2 197.52,51.7 197.52,40.7 207.05,35.2 216.58,40.7 216.58,51.7" fill="none" stroke="#4a4a4a" stroke-width="0.9" stroke-linejoin="round" /><polyline points="205.56,53.92 201.11,51.35" fill="none" stroke="#4a4a4a" stroke-width="0.8" stroke-linejoin="round" stroke-linecap="round" /><polyline points="201.11,41.05 205.56,38.48" fill="none" stroke="#4a4a4a" stroke-width="0.8" stroke-linejoin="round" stroke-linecap="round" /><polyline points="214.48,43.63 214.48,48.77" fill="none" stroke="#4a4a4a" stroke-width="0.8" stroke-linejoin="round" stroke-linecap="round" /><polyline points="187.4,34.6 197.52,40.7" fill="none" stroke="#4a4a4a" stroke-width="0.9" stroke-linejoin="round" stroke-linecap="round" /><polyline points="216.58,40.7 223.5,37.6" fill="none" stroke="#4a4a4a" stroke-width="0.9" stroke-linejoin="round" stroke-linecap="round" /><polyline points="228.5,38.6 234,45.9 228,53.5" fill="none" stroke="#4a4a4a" stroke-width="0.9" stroke-linejoin="round" stroke-linecap="round" /><polyline points="223,54.5 216.58,51.7" fill="none" stroke="#4a4a4a" stroke-width="0.9" stroke-linejoin="round" stroke-linecap="round" /><polyline points="231,47.5 226.5,53" fill="none" stroke="#4a4a4a" stroke-width="0.7" stroke-linejoin="round" stroke-linecap="round" /><polygon points="269.2,45.9 263.6,55.6 252.4,55.6 246.8,45.9 252.4,36.2 263.6,36.2" fill="none" stroke="#4a4a4a" stroke-width="0.9" stroke-linejoin="round" /><polyline points="260.62,53.47 255.38,53.47" fill="none" stroke="#4a4a4a" stroke-width="0.8" stroke-linejoin="round" stroke-linecap="round" /><polyline points="250.14,44.39 252.76,39.85" fill="none" stroke="#4a4a4a" stroke-width="0.8" stroke-linejoin="round" stroke-linecap="round" /><polyline points="263.24,39.85 265.86,44.39" fill="none" stroke="#4a4a4a" stroke-width="0.8" stroke-linejoin="round" stroke-linecap="round" /><polyline points="234,45.9 246.8,45.9" fill="none" stroke="#4a4a4a" stroke-width="0.9" stroke-linejoin="round" stroke-linecap="round" /><polyline points="269.2,45.9 277.5,45.9" fill="none" stroke="#4a4a4a" stroke-width="0.9" stroke-linejoin="round" stroke-linecap="round" /><polyline points="282.2,42.7 286.2,36.2" fill="none" stroke="#4a4a4a" stroke-width="0.9" stroke-linejoin="round" stroke-linecap="round" /><polyline points="282.2,49.3 286.2,56.3" fill="none" stroke="#4a4a4a" stroke-width="0.9" stroke-linejoin="round" stroke-linecap="round" /><polyline points="227.6,58 231.6,66" fill="none" stroke="#4a4a4a" stroke-width="0.9" stroke-linejoin="round" stroke-linecap="round" /><text x="225.6" y="40" font-size="7.2" fill="#333" text-anchor="middle">S</text><text x="225.8" y="58.5" font-size="7.6" fill="#2a3ad8" text-anchor="middle">N</text><text x="230.3" y="55" font-size="6" fill="#333">+</text><text x="280.2" y="49" font-size="7.6" fill="#2a3ad8" text-anchor="middle">N</text><text x="209" y="67" font-size="7" fill="#333">Cl</text><text x="214.5" y="60.8" font-size="6" fill="#333">&#8211;</text><text x="236.4" y="70.2" font-size="7" fill="#333">ThT</text></g>
<text x="423.9" y="89.9" font-size="14" font-weight="bold" fill="#111" textLength="105.3" lengthAdjust="spacing"><tspan font-style="italic">K</tspan><tspan font-size="9.5" dy="3">2</tspan><tspan dy="-3"> = 3.0&#215;10</tspan><tspan font-size="9.5" dy="-5.3">6</tspan><tspan dy="5.3"> M</tspan><tspan font-size="9.5" dy="-5.3">&#8722;1</tspan></text>
<g transform="translate(231.5,0.5)"><ellipse cx="358.5" cy="58" rx="49" ry="46" fill="url(#cg231_0o)"/><path d="M330.4,37 Q330.4,33 334,32.5 L340.7,31 L340.7,30 Q341,27.5 344,27 L362,23 Q366,22.5 369,24 L384,31.5 Q387.3,33.5 387.3,37 L387.3,80 Q387.3,83 384.5,84.5 L372,92.5 Q368,95.2 364,95.3 L359,94 L342,88.5 L334,85 Q330.4,83.5 330.4,80 Z" fill="url(#cg231_0b)" stroke="#c6c8d0" stroke-width="0.8"/><path d="M336,34.5 L341,33.2 L341,31 Q342,29 345,28.8 L362,25.2 Q365.5,24.8 368,26 L382,33 L382,36 L366,42 L343,38 Z" fill="#f4f4f7" stroke="#c6c8d0" stroke-width="0.6"/><path d="M341,38 L341,88 M336.6,35 L336.6,85.5 M366.5,42 L366.5,95 M378.3,37 L378.3,89 M381,36 L381,87.5 M331,58 L342,60.5 L359,66.5 L387,58" fill="none" stroke="#fcfcfe" stroke-width="1.1" stroke-opacity="0.95"/><path d="M340.3,38 L340.3,88 M365.8,42 L365.8,95 M377.6,37 L377.6,89" fill="none" stroke="#c6c8d0" stroke-width="0.5"/><ellipse cx="362" cy="55" rx="34.1" ry="35.2" fill="url(#cg231_0g)"/><path d="M331,56 Q325,56 318,52 M331,62 Q325,64 318,66.5 M387,56 Q393,56 399,52 M387,62 Q393,64 399,67.5 M352,70 Q345,73 345,80 M366,74 Q372,77 374,84" fill="none" stroke="#dfe3cf" stroke-width="1.4"/><circle cx="316" cy="52" r="3.3" fill="#f6d8c2" stroke="#e8bc9c" stroke-width="0.7"/><line x1="314.7" y1="52" x2="317.3" y2="52" stroke="#e4b8a0" stroke-width="0.6"/><circle cx="316" cy="66.6" r="3.3" fill="#f6d8c2" stroke="#e8bc9c" stroke-width="0.7"/><line x1="314.7" y1="66.6" x2="317.3" y2="66.6" stroke="#e4b8a0" stroke-width="0.6"/><circle cx="344.6" cy="80.4" r="3.3" fill="#f6d8c2" stroke="#e8bc9c" stroke-width="0.7"/><line x1="343.3" y1="80.4" x2="345.9" y2="80.4" stroke="#e4b8a0" stroke-width="0.6"/><circle cx="373.7" cy="84.9" r="3.3" fill="#f6d8c2" stroke="#e8bc9c" stroke-width="0.7"/><line x1="372.4" y1="84.9" x2="375" y2="84.9" stroke="#e4b8a0" stroke-width="0.6"/><circle cx="401.8" cy="52" r="3.3" fill="#f6d8c2" stroke="#e8bc9c" stroke-width="0.7"/><line x1="400.5" y1="52" x2="403.1" y2="52" stroke="#e4b8a0" stroke-width="0.6"/><circle cx="400.5" cy="67.5" r="3.3" fill="#f6d8c2" stroke="#e8bc9c" stroke-width="0.7"/><line x1="399.2" y1="67.5" x2="401.8" y2="67.5" stroke="#e4b8a0" stroke-width="0.6"/><path d="M342.3,37.2 Q342.3,34.2 345.3,34.5 L355.9,37.7 Q356.9,38.2 356.9,40.7 L356.9,90.2 Q356.9,91.7 354.4,91.5 L342.3,88.2 Z" fill="#141a14"/><path d="M343.1,37.6 Q343.1,35.8 344.9,36 L353.9,39.8 L353.9,90.9 L343.1,88.3 Z" fill="url(#bg231_0_342)"/><g transform="translate(348.4,82.2) skewY(18)"><ellipse cx="0" cy="0" rx="4.3" ry="4.8" fill="#3a9ec4" stroke="#7ad4ea" stroke-width="0.7"/><path d="M-2.7,0 h5.4 M0,-2.9 v5.8" stroke="#f4fcf0" stroke-width="1.7"/></g><path d="M361.5,27.1 Q361.5,24.1 364.5,24.4 L375.1,27.6 Q376.1,28.1 376.1,30.6 L376.1,80.1 Q376.1,81.6 373.6,81.4 L361.5,78.1 Z" fill="#141a14"/><path d="M362.3,27.5 Q362.3,25.7 364.1,25.9 L373.1,29.7 L373.1,80.8 L362.3,78.2 Z" fill="url(#bg231_0_361)"/><g transform="translate(367.6,34.6) skewY(18)"><ellipse cx="0" cy="0" rx="4.3" ry="4.8" fill="#3a9ec4" stroke="#7ad4ea" stroke-width="0.7"/><path d="M-2.7,0 h5.4 M0,-2.9 v5.8" stroke="#f4fcf0" stroke-width="1.7"/></g><ellipse cx="362" cy="56" rx="20.9" ry="24.2" fill="url(#cg231_0g)" opacity="0.5"/></g>
<path d="M626.3,26.8 626.5,26.7 626.8,26.6 627,26.4 627.2,26.3 627.4,26.1 627.6,25.9 627.8,25.7 628,25.5 628.1,25.2 628.2,24.9 628.3,24.6 628.3,24.2 628.3,23.9 628.3,23.5 628.3,23.2 628.2,22.8 628.1,22.5 628,22.1 627.9,21.8 627.8,21.5 627.7,21.2 627.5,21 627.4,20.9 627.4,20.9 627.3,20.9 627.3,21 627.3,21.1 627.4,21.3 627.4,21.5 627.5,21.8 627.7,22 627.9,22.4 628.1,22.7 628.4,23 628.7,23.4 629,23.7 629.4,24 629.7,24.3 630.1,24.6 630.5,24.8 630.9,24.9 631.3,25.1 631.7,25.1 632,25.1 632.4,25.1 632.7,24.9 632.9,24.7 633.1,24.5 633.3,24.1 633.4,23.7 633.4,23.3 633.4,22.7 633.3,22.2 633.2,21.6 633,21 632.8,20.3 632.6,19.6 632.3,19 632,18.3 631.7,17.7 631.3,17.1 631,16.6 630.6,16.1 630.3,15.7 630,15.3 629.8,15 629.6,14.8 629.4,14.7 629.3,14.7 629.2,14.8 629.2,14.9 629.3,15.2 629.4,15.5 629.7,15.9 629.9,16.3 630.3,16.9 630.7,17.4 631.2,18 631.7,18.7 632.3,19.3 632.9,19.9 633.5,20.6 634.2,21.1 634.9,21.7 635.5,22.2 636.1,22.6 636.8,22.9 637.3,23.1 637.9,23.3 638.3,23.3 638.7,23.2 639,23 639.3,22.7 639.5,22.3 639.5,21.8 639.5,21.2 639.4,20.4 639.2,19.7 638.9,18.8 638.6,17.9 638.2,16.9 637.7,15.9 637.2,15 636.6,14 636,13 635.4,12.1 634.8,11.3 634.2,10.5 633.6,9.8 633.1,9.3 632.6,8.8 632.2,8.4 631.9,8.2 631.7,8.1 631.5,8.2 631.6,8.5 631.7,8.9 631.9,9.4 632.2,10 632.6,10.7 633.1,11.5 633.7,12.4 634.4,13.3 635.1,14.2 635.9,15.2 636.8,16.1 637.6,17 638.5,17.9 639.4,18.7 640.3,19.4 641.2,20.1 642,20.6 642.8,21 643.5,21.3 644.1,21.5 644.7,21.5 645.1,21.3 645.4,21.1 645.7,20.7 645.8,20.1 645.8,19.5 645.7,18.7 645.5,17.8 645.2,16.9 644.8,15.9 644.3,14.8 643.7,13.7 643.1,12.6 642.4,11.6 641.7,10.5 641,9.5 640.3,8.6 639.6,7.7 638.9,7" fill="none" stroke="#f4f050" stroke-width="3.6" stroke-opacity="0.55" stroke-linecap="round" stroke-linejoin="round"/><path d="M626.3,26.8 626.5,26.7 626.8,26.6 627,26.4 627.2,26.3 627.4,26.1 627.6,25.9 627.8,25.7 628,25.5 628.1,25.2 628.2,24.9 628.3,24.6 628.3,24.2 628.3,23.9 628.3,23.5 628.3,23.2 628.2,22.8 628.1,22.5 628,22.1 627.9,21.8 627.8,21.5 627.7,21.2 627.5,21 627.4,20.9 627.4,20.9 627.3,20.9 627.3,21 627.3,21.1 627.4,21.3 627.4,21.5 627.5,21.8 627.7,22 627.9,22.4 628.1,22.7 628.4,23 628.7,23.4 629,23.7 629.4,24 629.7,24.3 630.1,24.6 630.5,24.8 630.9,24.9 631.3,25.1 631.7,25.1 632,25.1 632.4,25.1 632.7,24.9 632.9,24.7 633.1,24.5 633.3,24.1 633.4,23.7 633.4,23.3 633.4,22.7 633.3,22.2 633.2,21.6 633,21 632.8,20.3 632.6,19.6 632.3,19 632,18.3 631.7,17.7 631.3,17.1 631,16.6 630.6,16.1 630.3,15.7 630,15.3 629.8,15 629.6,14.8 629.4,14.7 629.3,14.7 629.2,14.8 629.2,14.9 629.3,15.2 629.4,15.5 629.7,15.9 629.9,16.3 630.3,16.9 630.7,17.4 631.2,18 631.7,18.7 632.3,19.3 632.9,19.9 633.5,20.6 634.2,21.1 634.9,21.7 635.5,22.2 636.1,22.6 636.8,22.9 637.3,23.1 637.9,23.3 638.3,23.3 638.7,23.2 639,23 639.3,22.7 639.5,22.3 639.5,21.8 639.5,21.2 639.4,20.4 639.2,19.7 638.9,18.8 638.6,17.9 638.2,16.9 637.7,15.9 637.2,15 636.6,14 636,13 635.4,12.1 634.8,11.3 634.2,10.5 633.6,9.8 633.1,9.3 632.6,8.8 632.2,8.4 631.9,8.2 631.7,8.1 631.5,8.2 631.6,8.5 631.7,8.9 631.9,9.4 632.2,10 632.6,10.7 633.1,11.5 633.7,12.4 634.4,13.3 635.1,14.2 635.9,15.2 636.8,16.1 637.6,17 638.5,17.9 639.4,18.7 640.3,19.4 641.2,20.1 642,20.6 642.8,21 643.5,21.3 644.1,21.5 644.7,21.5 645.1,21.3 645.4,21.1 645.7,20.7 645.8,20.1 645.8,19.5 645.7,18.7 645.5,17.8 645.2,16.9 644.8,15.9 644.3,14.8 643.7,13.7 643.1,12.6 642.4,11.6 641.7,10.5 641,9.5 640.3,8.6 639.6,7.7 638.9,7" fill="none" stroke="#d8b420" stroke-width="1.45" stroke-linecap="round" stroke-linejoin="round"/><polygon points="636.73,4.27 637.67,9.42 641.56,6.29" fill="#f4f050" stroke="#f4f050" stroke-width="1.6" stroke-linejoin="round" stroke-opacity="0.55" fill-opacity="0.55"/><polygon points="636.73,4.27 637.67,9.42 641.56,6.29" fill="#d8b420" stroke="#d8b420" stroke-width="0.5" stroke-linejoin="round" />
<g transform="translate(2.9,344.5)"><polygon points="72.3,42.2 78.1,34.3 87.2,36.9 89.3,46 84,54 74.4,51.8" fill="#f0f6fa" stroke="#bcc0c4" stroke-width="0.75" stroke-linejoin="round" /><polyline points="75.09,41.41 77.81,37.71" fill="none" stroke="#bcc0c4" stroke-width="0.6" stroke-linejoin="round" stroke-linecap="round" /><polyline points="86.14,39.93 87.12,44.18" fill="none" stroke="#bcc0c4" stroke-width="0.6" stroke-linejoin="round" stroke-linecap="round" /><polygon points="87.2,36.9 93.6,29.5 102.1,30.7 104.5,39 99,46.5 89.3,46" fill="#f0f6fa" stroke="#bcc0c4" stroke-width="0.75" stroke-linejoin="round" /><polyline points="90.12,36.01 93.12,32.55" fill="none" stroke="#bcc0c4" stroke-width="0.6" stroke-linejoin="round" stroke-linecap="round" /><polyline points="101.12,33.62 102.24,37.51" fill="none" stroke="#bcc0c4" stroke-width="0.6" stroke-linejoin="round" stroke-linecap="round" /><polygon points="110.6,62.5 118.1,57.2 127.7,58.8 130.9,67.8 125.5,77.4 113.8,77.4" fill="#f0f6fa" stroke="#bcc0c4" stroke-width="0.75" stroke-linejoin="round" /><polyline points="114.08,62.63 117.59,60.15" fill="none" stroke="#bcc0c4" stroke-width="0.6" stroke-linejoin="round" stroke-linecap="round" /><polyline points="126.75,61.97 128.24,66.19" fill="none" stroke="#bcc0c4" stroke-width="0.6" stroke-linejoin="round" stroke-linecap="round" /><polygon points="96,55 104,51.5 111,55.5 111.5,64 104.5,68 97,64" fill="#f0f6fa" stroke="#bcc0c4" stroke-width="0.75" stroke-linejoin="round" /><polyline points="99.01,55.48 102.75,53.84" fill="none" stroke="#bcc0c4" stroke-width="0.6" stroke-linejoin="round" stroke-linecap="round" /><polyline points="109.54,57.74 109.77,61.72" fill="none" stroke="#bcc0c4" stroke-width="0.6" stroke-linejoin="round" stroke-linecap="round" /><polygon points="125.5,77.4 130.9,67.8 136,70 137,80 133,86 127,84" fill="#f0f6fa" stroke="#bcc0c4" stroke-width="0.75" stroke-linejoin="round" /><polyline points="127.68,75.93 130.2,71.44" fill="none" stroke="#bcc0c4" stroke-width="0.6" stroke-linejoin="round" stroke-linecap="round" /><polyline points="135.18,73.22 135.65,77.9" fill="none" stroke="#bcc0c4" stroke-width="0.6" stroke-linejoin="round" stroke-linecap="round" /><polygon points="110,41 118,36 126,39 127,48 120,53 112,50" fill="#f0f6fa" stroke="#bcc0c4" stroke-width="0.75" stroke-linejoin="round" /><polyline points="113.19,40.99 116.94,38.65" fill="none" stroke="#bcc0c4" stroke-width="0.6" stroke-linejoin="round" stroke-linecap="round" /><polyline points="124.58,41.61 125.05,45.83" fill="none" stroke="#bcc0c4" stroke-width="0.6" stroke-linejoin="round" stroke-linecap="round" /><polygon points="47.5,36.5 52.8,30.3 58.3,33.4 58.8,45.5 54.2,53.2 47.8,49.5" fill="#edf6fb" stroke="#96999e" stroke-width="0.85" stroke-linejoin="round" /><polyline points="49.59,36.61 52.07,33.71" fill="none" stroke="#96999e" stroke-width="0.7" stroke-linejoin="round" stroke-linecap="round" /><polyline points="57.26,37.05 57.5,42.71" fill="none" stroke="#96999e" stroke-width="0.7" stroke-linejoin="round" stroke-linecap="round" /><polyline points="52.99,50.03 49.99,48.3" fill="none" stroke="#96999e" stroke-width="0.7" stroke-linejoin="round" stroke-linecap="round" /><polygon points="47.8,66.5 52.5,63.6 57.2,66.5 57.2,80.5 52.5,85.6 47.8,79.5" fill="#edf6fb" stroke="#96999e" stroke-width="0.85" stroke-linejoin="round" /><polyline points="49.57,67.63 51.77,66.27" fill="none" stroke="#96999e" stroke-width="0.7" stroke-linejoin="round" stroke-linecap="round" /><polyline points="56.17,70.27 56.17,76.82" fill="none" stroke="#96999e" stroke-width="0.7" stroke-linejoin="round" stroke-linecap="round" /><polyline points="51.77,82.03 49.57,79.18" fill="none" stroke="#96999e" stroke-width="0.7" stroke-linejoin="round" stroke-linecap="round" /><polygon points="59.2,64 64.5,60.2 69.3,63.5 69.5,73.5 64.6,79.8 59.2,76" fill="#edf6fb" stroke="#96999e" stroke-width="0.85" stroke-linejoin="round" /><polyline points="61.17,64.62 63.65,62.84" fill="none" stroke="#96999e" stroke-width="0.7" stroke-linejoin="round" stroke-linecap="round" /><polyline points="68.25,66.38 68.34,71.06" fill="none" stroke="#96999e" stroke-width="0.7" stroke-linejoin="round" stroke-linecap="round" /><polyline points="63.71,76.94 61.18,75.16" fill="none" stroke="#96999e" stroke-width="0.7" stroke-linejoin="round" stroke-linecap="round" /><polyline points="54.2,53.2 52.5,63.6" fill="none" stroke="#96999e" stroke-width="0.85" stroke-linejoin="round" stroke-linecap="round" /><polygon points="133.9,40.8 139.9,34.4 145.8,37.4 146.8,46.8 141.9,54.7 133.9,51.7" fill="#edf6fb" stroke="#96999e" stroke-width="0.85" stroke-linejoin="round" /><polyline points="136.26,40.57 139.07,37.58" fill="none" stroke="#96999e" stroke-width="0.7" stroke-linejoin="round" stroke-linecap="round" /><polyline points="144.76,40.38 145.23,44.78" fill="none" stroke="#96999e" stroke-width="0.7" stroke-linejoin="round" stroke-linecap="round" /><polyline points="140.31,51.94 136.57,50.54" fill="none" stroke="#96999e" stroke-width="0.7" stroke-linejoin="round" stroke-linecap="round" /><polygon points="145.8,37.4 150.8,29.5 155.7,32.9 156.2,43.8 151.8,51.2 146.8,46.8" fill="#edf6fb" stroke="#96999e" stroke-width="0.85" stroke-linejoin="round" /><polyline points="147.76,36.8 150.1,33.1" fill="none" stroke="#96999e" stroke-width="0.7" stroke-linejoin="round" stroke-linecap="round" /><polyline points="154.78,36.22 155.02,41.32" fill="none" stroke="#96999e" stroke-width="0.7" stroke-linejoin="round" stroke-linecap="round" /><polyline points="150.88,48.11 148.54,46.05" fill="none" stroke="#96999e" stroke-width="0.7" stroke-linejoin="round" stroke-linecap="round" /><polygon points="146.8,65.1 151.8,63.6 156.7,70.5 156.2,81.9 151.8,84.9 146.8,78.5" fill="#edf6fb" stroke="#96999e" stroke-width="0.85" stroke-linejoin="round" /><polyline points="148.65,66.84 150.99,66.14" fill="none" stroke="#96999e" stroke-width="0.7" stroke-linejoin="round" stroke-linecap="round" /><polyline points="155.52,73.07 155.28,78.4" fill="none" stroke="#96999e" stroke-width="0.7" stroke-linejoin="round" stroke-linecap="round" /><polyline points="150.99,81.52 148.65,78.53" fill="none" stroke="#96999e" stroke-width="0.7" stroke-linejoin="round" stroke-linecap="round" /><polyline points="151.8,51.2 151.8,63.6" fill="none" stroke="#96999e" stroke-width="0.85" stroke-linejoin="round" stroke-linecap="round" /><polygon points="101.7,33.8 111.4,30.7 117.5,37.8 115,49.6 105.3,52.7 99.1,45.5" fill="#d2ebf8" stroke="#1e1e1e" stroke-width="1.75" stroke-linejoin="round" /><polyline points="104.67,35.05 109.21,33.6" fill="none" stroke="#1e1e1e" stroke-width="0.8" stroke-linejoin="round" stroke-linecap="round" /><polyline points="105,49.15 102.1,45.78" fill="none" stroke="#1e1e1e" stroke-width="0.8" stroke-linejoin="round" stroke-linecap="round" /><polygon points="117.5,37.8 127.2,35.1 132.3,43.5 129.8,54.7 121.1,56.7 115,49.6" fill="#d2ebf8" stroke="#1e1e1e" stroke-width="1.75" stroke-linejoin="round" /><polyline points="127.25,38.86 129.64,42.79" fill="none" stroke="#1e1e1e" stroke-width="0.8" stroke-linejoin="round" stroke-linecap="round" /><polyline points="127.13,53.15 123.05,54.09" fill="none" stroke="#1e1e1e" stroke-width="0.8" stroke-linejoin="round" stroke-linecap="round" /><polygon points="76.4,61.7 85.1,59.6 91.5,67.5 88.6,78.6 79.3,81 73.4,73.4" fill="#d2ebf8" stroke="#1e1e1e" stroke-width="1.75" stroke-linejoin="round" /><polyline points="79.07,63.26 83.15,62.28" fill="none" stroke="#1e1e1e" stroke-width="0.8" stroke-linejoin="round" stroke-linecap="round" /><polyline points="85.78,77.15 81.43,78.27" fill="none" stroke="#1e1e1e" stroke-width="0.8" stroke-linejoin="round" stroke-linecap="round" /><polygon points="91.5,67.5 101.5,64.6 107.9,72.8 105,83.3 95.6,86.2 88.6,78.6" fill="#d2ebf8" stroke="#1e1e1e" stroke-width="1.75" stroke-linejoin="round" /><polyline points="101.81,68.28 104.8,72.11" fill="none" stroke="#1e1e1e" stroke-width="0.8" stroke-linejoin="round" stroke-linecap="round" /><polyline points="102.07,82.04 97.67,83.39" fill="none" stroke="#1e1e1e" stroke-width="0.8" stroke-linejoin="round" stroke-linecap="round" /><polygon points="59,38.4 64.2,35.1 68.9,43.6 69.5,53.5 64.8,57 59,49.4" fill="#d2ebf8" stroke="#1e1e1e" stroke-width="1.75" stroke-linejoin="round" /><polyline points="64.94,38.86 67.14,42.84" fill="none" stroke="#1e1e1e" stroke-width="0.8" stroke-linejoin="round" stroke-linecap="round" /><polyline points="67.61,52.43 65.41,54.07" fill="none" stroke="#1e1e1e" stroke-width="0.8" stroke-linejoin="round" stroke-linecap="round" /><polygon points="136.4,61.6 141.4,58.7 146.8,65.1 146.8,78.5 141.4,81.4 135.9,72.5" fill="#d2ebf8" stroke="#1e1e1e" stroke-width="1.75" stroke-linejoin="round" /><polyline points="142.25,62.1 144.78,65.1" fill="none" stroke="#1e1e1e" stroke-width="0.8" stroke-linejoin="round" stroke-linecap="round" /><polyline points="144.78,77 142.25,78.36" fill="none" stroke="#1e1e1e" stroke-width="0.8" stroke-linejoin="round" stroke-linecap="round" /><polyline points="105.3,52.7 101.5,64.6" fill="none" stroke="#1e1e1e" stroke-width="1.6" stroke-linejoin="round" stroke-linecap="round" /><polyline points="69.2,54.5 76.4,61.7" fill="none" stroke="#1e1e1e" stroke-width="1.4" stroke-linejoin="round" stroke-linecap="round" /><polyline points="129.8,54.7 136.4,61.6" fill="none" stroke="#1e1e1e" stroke-width="1.4" stroke-linejoin="round" stroke-linecap="round" /><polyline points="99.1,45.5 90,48.2" fill="none" stroke="#1e1e1e" stroke-width="1.6" stroke-linejoin="round" stroke-linecap="round" /><polyline points="107.9,72.8 117.2,70.1" fill="none" stroke="#1e1e1e" stroke-width="1.6" stroke-linejoin="round" stroke-linecap="round" /><polyline points="43.6,69.2 47.8,68" fill="none" stroke="#1e1e1e" stroke-width="1.3" stroke-linejoin="round" stroke-linecap="round" /><polyline points="43.8,48 47.8,46.5" fill="none" stroke="#96999e" stroke-width="0.85" stroke-linejoin="round" stroke-linecap="round" /><polyline points="156.2,43.8 159.7,45.8" fill="none" stroke="#96999e" stroke-width="0.85" stroke-linejoin="round" stroke-linecap="round" /><polyline points="156.7,70.5 159.7,69.1" fill="none" stroke="#96999e" stroke-width="0.85" stroke-linejoin="round" stroke-linecap="round" /><text x="78.9" y="52" font-size="8" fill="#ec3038" textLength="10" lengthAdjust="spacingAndGlyphs">RO</text><text x="118.4" y="71.2" font-size="8" fill="#ec3038" textLength="10" lengthAdjust="spacingAndGlyphs">OR</text><text x="34.4" y="50.6" font-size="8" fill="#f09aa2" textLength="9.4" lengthAdjust="spacingAndGlyphs">RO</text><text x="33.3" y="70.8" font-size="8" fill="#ec4a54" textLength="9.9" lengthAdjust="spacingAndGlyphs">RO</text><text x="160.7" y="50.7" font-size="8" fill="#ec4a54" textLength="9.9" lengthAdjust="spacingAndGlyphs">OR</text><text x="160.2" y="69.6" font-size="8" fill="#f09aa2" textLength="9.9" lengthAdjust="spacingAndGlyphs">OR</text><text x="116" y="49.3" font-size="8" fill="#f6cfd3" textLength="9.5" lengthAdjust="spacingAndGlyphs">OR</text><text x="77.6" y="69.5" font-size="8" fill="#f6d6da" textLength="9.5" lengthAdjust="spacingAndGlyphs">RO</text><text x="71.1" y="100.4" font-size="7.3" fill="#e8303a">R =</text><path d="M87.5,91.5 q1.2,1.2 0,2.4 q-1.2,1.2 0,2.4 q1.2,1.2 0,2.4 q-1.2,1.2 0,2.4 q1.2,1.2 0,2.4" fill="none" stroke="#e8303a" stroke-width="0.8"/><polyline points="88.5,97.3 98.5,92.4 106,97.2" fill="none" stroke="#e8303a" stroke-width="0.8" stroke-linejoin="round" stroke-linecap="round" /><text x="107.3" y="100.4" font-size="7.3" fill="#e8303a" textLength="23.9" lengthAdjust="spacingAndGlyphs">COONa</text></g>
<path d="M160.8,376 161,375.9 161.3,375.8 161.5,375.6 161.7,375.5 161.9,375.3 162.1,375.1 162.3,374.9 162.5,374.7 162.6,374.4 162.7,374.1 162.8,373.8 162.8,373.4 162.8,373.1 162.8,372.7 162.8,372.4 162.7,372 162.6,371.7 162.5,371.3 162.4,371 162.3,370.7 162.2,370.4 162,370.2 161.9,370.1 161.9,370.1 161.8,370.1 161.8,370.2 161.8,370.3 161.9,370.5 161.9,370.7 162,371 162.2,371.2 162.4,371.6 162.6,371.9 162.9,372.2 163.2,372.6 163.5,372.9 163.9,373.2 164.2,373.5 164.6,373.8 165,374 165.4,374.1 165.8,374.3 166.2,374.3 166.5,374.3 166.9,374.3 167.2,374.1 167.4,373.9 167.6,373.7 167.8,373.3 167.9,372.9 167.9,372.5 167.9,371.9 167.8,371.4 167.7,370.8 167.5,370.2 167.3,369.5 167.1,368.8 166.8,368.2 166.5,367.5 166.2,366.9 165.8,366.3 165.5,365.8 165.1,365.3 164.8,364.9 164.5,364.5 164.3,364.2 164.1,364 163.9,363.9 163.8,363.9 163.7,364 163.7,364.1 163.8,364.4 163.9,364.7 164.2,365.1 164.4,365.5 164.8,366.1 165.2,366.6 165.7,367.2 166.2,367.9 166.8,368.5 167.4,369.1 168,369.8 168.7,370.3 169.4,370.9 170,371.4 170.6,371.8 171.3,372.1 171.8,372.3 172.4,372.5 172.8,372.5 173.2,372.4 173.5,372.2 173.8,371.9 174,371.5 174,371 174,370.4 173.9,369.6 173.7,368.9 173.4,368 173.1,367.1 172.7,366.1 172.2,365.1 171.7,364.2 171.1,363.2 170.5,362.2 169.9,361.3 169.3,360.5 168.7,359.7 168.1,359 167.6,358.5 167.1,358 166.7,357.6 166.4,357.4 166.2,357.3 166,357.4 166.1,357.7 166.2,358.1 166.4,358.6 166.7,359.2 167.1,359.9 167.6,360.7 168.2,361.6 168.9,362.5 169.6,363.4 170.4,364.4 171.3,365.3 172.1,366.2 173,367.1 173.9,367.9 174.8,368.6 175.7,369.3 176.5,369.8 177.3,370.2 178,370.5 178.6,370.7 179.2,370.7 179.6,370.5 179.9,370.3 180.2,369.9 180.3,369.3 180.3,368.7 180.2,367.9 180,367 179.7,366.1 179.3,365.1 178.8,364 178.2,362.9 177.6,361.8 176.9,360.8 176.2,359.7 175.5,358.7 174.8,357.8 174.1,356.9 173.4,356.2" fill="none" stroke="#b8c8ec" stroke-width="3.6" stroke-opacity="0.55" stroke-linecap="round" stroke-linejoin="round"/><path d="M160.8,376 161,375.9 161.3,375.8 161.5,375.6 161.7,375.5 161.9,375.3 162.1,375.1 162.3,374.9 162.5,374.7 162.6,374.4 162.7,374.1 162.8,373.8 162.8,373.4 162.8,373.1 162.8,372.7 162.8,372.4 162.7,372 162.6,371.7 162.5,371.3 162.4,371 162.3,370.7 162.2,370.4 162,370.2 161.9,370.1 161.9,370.1 161.8,370.1 161.8,370.2 161.8,370.3 161.9,370.5 161.9,370.7 162,371 162.2,371.2 162.4,371.6 162.6,371.9 162.9,372.2 163.2,372.6 163.5,372.9 163.9,373.2 164.2,373.5 164.6,373.8 165,374 165.4,374.1 165.8,374.3 166.2,374.3 166.5,374.3 166.9,374.3 167.2,374.1 167.4,373.9 167.6,373.7 167.8,373.3 167.9,372.9 167.9,372.5 167.9,371.9 167.8,371.4 167.7,370.8 167.5,370.2 167.3,369.5 167.1,368.8 166.8,368.2 166.5,367.5 166.2,366.9 165.8,366.3 165.5,365.8 165.1,365.3 164.8,364.9 164.5,364.5 164.3,364.2 164.1,364 163.9,363.9 163.8,363.9 163.7,364 163.7,364.1 163.8,364.4 163.9,364.7 164.2,365.1 164.4,365.5 164.8,366.1 165.2,366.6 165.7,367.2 166.2,367.9 166.8,368.5 167.4,369.1 168,369.8 168.7,370.3 169.4,370.9 170,371.4 170.6,371.8 171.3,372.1 171.8,372.3 172.4,372.5 172.8,372.5 173.2,372.4 173.5,372.2 173.8,371.9 174,371.5 174,371 174,370.4 173.9,369.6 173.7,368.9 173.4,368 173.1,367.1 172.7,366.1 172.2,365.1 171.7,364.2 171.1,363.2 170.5,362.2 169.9,361.3 169.3,360.5 168.7,359.7 168.1,359 167.6,358.5 167.1,358 166.7,357.6 166.4,357.4 166.2,357.3 166,357.4 166.1,357.7 166.2,358.1 166.4,358.6 166.7,359.2 167.1,359.9 167.6,360.7 168.2,361.6 168.9,362.5 169.6,363.4 170.4,364.4 171.3,365.3 172.1,366.2 173,367.1 173.9,367.9 174.8,368.6 175.7,369.3 176.5,369.8 177.3,370.2 178,370.5 178.6,370.7 179.2,370.7 179.6,370.5 179.9,370.3 180.2,369.9 180.3,369.3 180.3,368.7 180.2,367.9 180,367 179.7,366.1 179.3,365.1 178.8,364 178.2,362.9 177.6,361.8 176.9,360.8 176.2,359.7 175.5,358.7 174.8,357.8 174.1,356.9 173.4,356.2" fill="none" stroke="#4a6ec4" stroke-width="1.45" stroke-linecap="round" stroke-linejoin="round"/><polygon points="171.23,353.47 172.17,358.62 176.06,355.49" fill="#b8c8ec" stroke="#b8c8ec" stroke-width="1.6" stroke-linejoin="round" stroke-opacity="0.55" fill-opacity="0.55"/><polygon points="171.23,353.47 172.17,358.62 176.06,355.49" fill="#4a6ec4" stroke="#4a6ec4" stroke-width="0.5" stroke-linejoin="round" />
<path d="M185.1,407.75 L287.6,407.75 L287.6,403.5 L301.6,410.6 L287.6,417.7 L287.6,413.45 L185.1,413.45 Z" fill="url(#ga3)"/>
<polygon points="219.27,383.09 211.21,390.87 200.44,387.78 197.73,376.91 205.79,369.13 216.56,372.22" fill="none" stroke="#4a4a4a" stroke-width="0.9" stroke-linejoin="round" /><polyline points="215.64,383.62 211.87,387.26" fill="none" stroke="#4a4a4a" stroke-width="0.8" stroke-linejoin="round" stroke-linecap="round" /><polyline points="201.79,384.37 200.53,379.29" fill="none" stroke="#4a4a4a" stroke-width="0.8" stroke-linejoin="round" stroke-linecap="round" /><polyline points="208.07,372.01 213.1,373.45" fill="none" stroke="#4a4a4a" stroke-width="0.8" stroke-linejoin="round" stroke-linecap="round" /><polygon points="232.77,397.09 224.71,404.87 213.94,401.78 211.23,390.91 219.29,383.13 230.06,386.22" fill="none" stroke="#4a4a4a" stroke-width="0.9" stroke-linejoin="round" /><polyline points="222.43,401.99 217.4,400.55" fill="none" stroke="#4a4a4a" stroke-width="0.8" stroke-linejoin="round" stroke-linecap="round" /><polyline points="228.71,389.63 229.97,394.71" fill="none" stroke="#4a4a4a" stroke-width="0.8" stroke-linejoin="round" stroke-linecap="round" /><polyline points="231.8,385.7 241.4,380.1 250.5,381.7" fill="none" stroke="#4a4a4a" stroke-width="0.9" stroke-linejoin="round" stroke-linecap="round" /><polyline points="242,382.2 249.5,383.6" fill="none" stroke="#4a4a4a" stroke-width="0.7" stroke-linejoin="round" stroke-linecap="round" /><polyline points="251,381.7 256.5,377.2" fill="none" stroke="#4a4a4a" stroke-width="0.9" stroke-linejoin="round" stroke-linecap="round" /><polyline points="262,377.5 267.1,380.9" fill="none" stroke="#4a4a4a" stroke-width="0.9" stroke-linejoin="round" stroke-linecap="round" /><polyline points="251,381.7 253,391" fill="none" stroke="#4a4a4a" stroke-width="0.9" stroke-linejoin="round" stroke-linecap="round" /><polyline points="257,394.2 264.7,393.7" fill="none" stroke="#4a4a4a" stroke-width="0.9" stroke-linejoin="round" stroke-linecap="round" /><polygon points="267.1,380.9 279.9,378.9 288,388.9 284.7,400.1 273.5,402.6 264.7,393.7" fill="none" stroke="#4a4a4a" stroke-width="0.9" stroke-linejoin="round" /><polyline points="280.38,383.09 284.17,387.77" fill="none" stroke="#4a4a4a" stroke-width="0.8" stroke-linejoin="round" stroke-linecap="round" /><polyline points="281.11,398.45 275.87,399.62" fill="none" stroke="#4a4a4a" stroke-width="0.8" stroke-linejoin="round" stroke-linecap="round" /><polyline points="267.63,391.08 268.75,385.09" fill="none" stroke="#4a4a4a" stroke-width="0.8" stroke-linejoin="round" stroke-linecap="round" /><polyline points="259.6,372.5 261.5,363.2" fill="none" stroke="#4a4a4a" stroke-width="0.9" stroke-linejoin="round" stroke-linecap="round" /><polyline points="210.5,405 204.5,409.5" fill="none" stroke="#4a4a4a" stroke-width="0.9" stroke-linejoin="round" stroke-linecap="round" /><text x="259.4" y="378.6" font-size="7.6" fill="#2a3ad8" text-anchor="middle">N</text><text x="254.3" y="397.2" font-size="7.2" fill="#333" text-anchor="middle">S</text><text x="212.6" y="405" font-size="7.6" fill="#2a3ad8" text-anchor="middle">N</text><text x="212.4" y="410.6" font-size="5.6" fill="#333">+</text><text x="193.2" y="403.6" font-size="7" fill="#333">Cl</text><text x="199.6" y="397.4" font-size="6" fill="#333">&#8211;</text><text x="235" y="410.8" font-size="7" fill="#333">TO</text>
<text x="184.9" y="430.2" font-size="14" font-weight="bold" fill="#111" textLength="105.3" lengthAdjust="spacing"><tspan font-style="italic">K</tspan><tspan font-size="9.5" dy="3">1</tspan><tspan dy="-3"> = 9.2&#215;10</tspan><tspan font-size="9.5" dy="-5.3">9</tspan><tspan dy="5.3"> M</tspan><tspan font-size="9.5" dy="-5.3">&#8722;1</tspan></text>
<path d="M418.2,407.45 L521.7,407.45 L521.7,403.2 L535.7,410.3 L521.7,417.4 L521.7,413.15 L418.2,413.15 Z" fill="url(#ga4)"/>
<g transform="translate(230.5,1.2)"><polygon points="219.27,383.09 211.21,390.87 200.44,387.78 197.73,376.91 205.79,369.13 216.56,372.22" fill="none" stroke="#4a4a4a" stroke-width="0.9" stroke-linejoin="round" /><polyline points="215.64,383.62 211.87,387.26" fill="none" stroke="#4a4a4a" stroke-width="0.8" stroke-linejoin="round" stroke-linecap="round" /><polyline points="201.79,384.37 200.53,379.29" fill="none" stroke="#4a4a4a" stroke-width="0.8" stroke-linejoin="round" stroke-linecap="round" /><polyline points="208.07,372.01 213.1,373.45" fill="none" stroke="#4a4a4a" stroke-width="0.8" stroke-linejoin="round" stroke-linecap="round" /><polygon points="232.77,397.09 224.71,404.87 213.94,401.78 211.23,390.91 219.29,383.13 230.06,386.22" fill="none" stroke="#4a4a4a" stroke-width="0.9" stroke-linejoin="round" /><polyline points="222.43,401.99 217.4,400.55" fill="none" stroke="#4a4a4a" stroke-width="0.8" stroke-linejoin="round" stroke-linecap="round" /><polyline points="228.71,389.63 229.97,394.71" fill="none" stroke="#4a4a4a" stroke-width="0.8" stroke-linejoin="round" stroke-linecap="round" /><polyline points="231.8,385.7 241.4,380.1 250.5,381.7" fill="none" stroke="#4a4a4a" stroke-width="0.9" stroke-linejoin="round" stroke-linecap="round" /><polyline points="242,382.2 249.5,383.6" fill="none" stroke="#4a4a4a" stroke-width="0.7" stroke-linejoin="round" stroke-linecap="round" /><polyline points="251,381.7 256.5,377.2" fill="none" stroke="#4a4a4a" stroke-width="0.9" stroke-linejoin="round" stroke-linecap="round" /><polyline points="262,377.5 267.1,380.9" fill="none" stroke="#4a4a4a" stroke-width="0.9" stroke-linejoin="round" stroke-linecap="round" /><polyline points="251,381.7 253,391" fill="none" stroke="#4a4a4a" stroke-width="0.9" stroke-linejoin="round" stroke-linecap="round" /><polyline points="257,394.2 264.7,393.7" fill="none" stroke="#4a4a4a" stroke-width="0.9" stroke-linejoin="round" stroke-linecap="round" /><polygon points="267.1,380.9 279.9,378.9 288,388.9 284.7,400.1 273.5,402.6 264.7,393.7" fill="none" stroke="#4a4a4a" stroke-width="0.9" stroke-linejoin="round" /><polyline points="280.38,383.09 284.17,387.77" fill="none" stroke="#4a4a4a" stroke-width="0.8" stroke-linejoin="round" stroke-linecap="round" /><polyline points="281.11,398.45 275.87,399.62" fill="none" stroke="#4a4a4a" stroke-width="0.8" stroke-linejoin="round" stroke-linecap="round" /><polyline points="267.63,391.08 268.75,385.09" fill="none" stroke="#4a4a4a" stroke-width="0.8" stroke-linejoin="round" stroke-linecap="round" /><polyline points="259.6,372.5 261.5,363.2" fill="none" stroke="#4a4a4a" stroke-width="0.9" stroke-linejoin="round" stroke-linecap="round" /><polyline points="210.5,405 204.5,409.5" fill="none" stroke="#4a4a4a" stroke-width="0.9" stroke-linejoin="round" stroke-linecap="round" /><text x="259.4" y="378.6" font-size="7.6" fill="#2a3ad8" text-anchor="middle">N</text><text x="254.3" y="397.2" font-size="7.2" fill="#333" text-anchor="middle">S</text><text x="212.6" y="405" font-size="7.6" fill="#2a3ad8" text-anchor="middle">N</text><text x="212.4" y="410.6" font-size="5.6" fill="#333">+</text><text x="193.2" y="403.6" font-size="7" fill="#333">Cl</text><text x="199.6" y="397.4" font-size="6" fill="#333">&#8211;</text><text x="235" y="410.8" font-size="7" fill="#333">TO</text></g>
<text x="423.5" y="431.3" font-size="14" font-weight="bold" fill="#111" textLength="105.3" lengthAdjust="spacing"><tspan font-style="italic">K</tspan><tspan font-size="9.5" dy="3">2</tspan><tspan dy="-3"> = 2.6&#215;10</tspan><tspan font-size="9.5" dy="-5.3">8</tspan><tspan dy="5.3"> M</tspan><tspan font-size="9.5" dy="-5.3">&#8722;1</tspan></text>
<g transform="translate(0,341.5)"><ellipse cx="358.5" cy="58" rx="49" ry="46" fill="url(#cg0_341o)"/><path d="M330.4,37 Q330.4,33 334,32.5 L340.7,31 L340.7,30 Q341,27.5 344,27 L362,23 Q366,22.5 369,24 L384,31.5 Q387.3,33.5 387.3,37 L387.3,80 Q387.3,83 384.5,84.5 L372,92.5 Q368,95.2 364,95.3 L359,94 L342,88.5 L334,85 Q330.4,83.5 330.4,80 Z" fill="url(#cg0_341b)" stroke="#c6c8d0" stroke-width="0.8"/><path d="M336,34.5 L341,33.2 L341,31 Q342,29 345,28.8 L362,25.2 Q365.5,24.8 368,26 L382,33 L382,36 L366,42 L343,38 Z" fill="#f4f4f7" stroke="#c6c8d0" stroke-width="0.6"/><path d="M341,38 L341,88 M336.6,35 L336.6,85.5 M366.5,42 L366.5,95 M378.3,37 L378.3,89 M381,36 L381,87.5 M331,58 L342,60.5 L359,66.5 L387,58" fill="none" stroke="#fcfcfe" stroke-width="1.1" stroke-opacity="0.95"/><path d="M340.3,38 L340.3,88 M365.8,42 L365.8,95 M377.6,37 L377.6,89" fill="none" stroke="#c6c8d0" stroke-width="0.5"/><ellipse cx="362" cy="55" rx="31" ry="32" fill="url(#cg0_341g)"/><path d="M331,56 Q325,56 318,52 M331,62 Q325,64 318,66.5 M387,56 Q393,56 399,52 M387,62 Q393,64 399,67.5 M352,70 Q345,73 345,80 M366,74 Q372,77 374,84" fill="none" stroke="#dfe3cf" stroke-width="1.4"/><circle cx="316" cy="52" r="3.3" fill="#f6d8c2" stroke="#e8bc9c" stroke-width="0.7"/><line x1="314.7" y1="52" x2="317.3" y2="52" stroke="#e4b8a0" stroke-width="0.6"/><circle cx="316" cy="66.6" r="3.3" fill="#f6d8c2" stroke="#e8bc9c" stroke-width="0.7"/><line x1="314.7" y1="66.6" x2="317.3" y2="66.6" stroke="#e4b8a0" stroke-width="0.6"/><circle cx="344.6" cy="80.4" r="3.3" fill="#f6d8c2" stroke="#e8bc9c" stroke-width="0.7"/><line x1="343.3" y1="80.4" x2="345.9" y2="80.4" stroke="#e4b8a0" stroke-width="0.6"/><circle cx="373.7" cy="84.9" r="3.3" fill="#f6d8c2" stroke="#e8bc9c" stroke-width="0.7"/><line x1="372.4" y1="84.9" x2="375" y2="84.9" stroke="#e4b8a0" stroke-width="0.6"/><circle cx="401.8" cy="52" r="3.3" fill="#f6d8c2" stroke="#e8bc9c" stroke-width="0.7"/><line x1="400.5" y1="52" x2="403.1" y2="52" stroke="#e4b8a0" stroke-width="0.6"/><circle cx="400.5" cy="67.5" r="3.3" fill="#f6d8c2" stroke="#e8bc9c" stroke-width="0.7"/><line x1="399.2" y1="67.5" x2="401.8" y2="67.5" stroke="#e4b8a0" stroke-width="0.6"/><path d="M349.8,34.8 Q349.8,31.8 352.8,32.1 L363.8,35.3 Q364.8,35.8 364.8,38.3 L364.8,87.8 Q364.8,89.3 362.3,89.1 L349.8,85.8 Z" fill="#141a14"/><path d="M350.6,35.2 Q350.6,33.4 352.4,33.6 L361.8,37.4 L361.8,88.5 L350.6,85.9 Z" fill="url(#bg0_341_349)"/><g transform="translate(356.1,42.3) skewY(18)"><ellipse cx="0" cy="0" rx="4.3" ry="4.8" fill="#3a9ec4" stroke="#7ad4ea" stroke-width="0.7"/><path d="M-2.7,0 h5.4 M0,-2.9 v5.8" stroke="#f4fcf0" stroke-width="1.7"/></g><ellipse cx="362" cy="56" rx="19" ry="22" fill="url(#cg0_341g)" opacity="0.5"/></g>
<circle cx="381.7" cy="360.7" r="8.2" fill="#fafcfe" fill-opacity="0.6" stroke="#f2a8b2" stroke-width="3.1"/><line x1="376.4" y1="355.6" x2="387" y2="365.8" stroke="#f2a8b2" stroke-width="3.1"/>
<path d="M389.3,374.9 389.6,374.8 389.8,374.6 390.1,374.5 390.3,374.3 390.5,374.2 390.7,373.9 390.9,373.7 391.1,373.4 391.2,373.2 391.3,372.8 391.4,372.5 391.5,372.1 391.5,371.8 391.5,371.4 391.4,371 391.4,370.6 391.3,370.2 391.2,369.8 391,369.5 390.9,369.2 390.8,368.9 390.6,368.7 390.5,368.5 390.4,368.5 390.4,368.5 390.4,368.6 390.4,368.8 390.4,369 390.5,369.2 390.6,369.5 390.8,369.8 391,370.1 391.3,370.5 391.6,370.8 391.9,371.2 392.2,371.5 392.6,371.9 393,372.2 393.4,372.5 393.9,372.7 394.3,372.9 394.7,373 395.1,373.1 395.5,373.1 395.9,373 396.2,372.9 396.4,372.7 396.7,372.4 396.8,372 396.9,371.6 397,371.1 397,370.5 396.9,369.9 396.8,369.3 396.6,368.6 396.4,367.9 396.1,367.2 395.8,366.5 395.4,365.8 395.1,365.1 394.7,364.5 394.4,363.9 394,363.3 393.7,362.9 393.3,362.5 393.1,362.2 392.8,362 392.6,361.9 392.5,361.8 392.4,361.9 392.4,362.1 392.5,362.3 392.7,362.7 392.9,363.1 393.2,363.6 393.6,364.2 394.1,364.8 394.6,365.4 395.1,366.1 395.8,366.8 396.4,367.5 397.1,368.2 397.8,368.8 398.5,369.4 399.2,369.9 399.9,370.3 400.6,370.7 401.2,370.9 401.8,371.1 402.3,371.1 402.7,371 403.1,370.8 403.3,370.5 403.5,370 403.6,369.5 403.6,368.8 403.5,368 403.2,367.2 403,366.3 402.6,365.3 402.1,364.2 401.6,363.2 401,362.1 400.4,361.1 399.8,360 399.1,359.1 398.5,358.1 397.8,357.3 397.2,356.6 396.7,355.9 396.1,355.4 395.7,355.1 395.3,354.8 395.1,354.7 395,354.9 395,355.1 395.1,355.6 395.3,356.1 395.7,356.8 396.1,357.5 396.6,358.4 397.3,359.3 398,360.3 398.8,361.3 399.7,362.3 400.6,363.3 401.5,364.3 402.5,365.3 403.5,366.2 404.4,367 405.4,367.6 406.3,368.2 407.1,368.7 407.9,369 408.5,369.1 409.1,369.1 409.6,369 410,368.7 410.2,368.3 410.4,367.7 410.4,367 410.3,366.2 410,365.2 409.7,364.2 409.3,363.1 408.7,362 408.1,360.8 407.5,359.6 406.7,358.4 406,357.3 405.2,356.2 404.4,355.2 403.6,354.3 402.9,353.5" fill="none" stroke="#d4d4d4" stroke-width="3.8880000000000003" stroke-opacity="0.55" stroke-linecap="round" stroke-linejoin="round"/><path d="M389.3,374.9 389.6,374.8 389.8,374.6 390.1,374.5 390.3,374.3 390.5,374.2 390.7,373.9 390.9,373.7 391.1,373.4 391.2,373.2 391.3,372.8 391.4,372.5 391.5,372.1 391.5,371.8 391.5,371.4 391.4,371 391.4,370.6 391.3,370.2 391.2,369.8 391,369.5 390.9,369.2 390.8,368.9 390.6,368.7 390.5,368.5 390.4,368.5 390.4,368.5 390.4,368.6 390.4,368.8 390.4,369 390.5,369.2 390.6,369.5 390.8,369.8 391,370.1 391.3,370.5 391.6,370.8 391.9,371.2 392.2,371.5 392.6,371.9 393,372.2 393.4,372.5 393.9,372.7 394.3,372.9 394.7,373 395.1,373.1 395.5,373.1 395.9,373 396.2,372.9 396.4,372.7 396.7,372.4 396.8,372 396.9,371.6 397,371.1 397,370.5 396.9,369.9 396.8,369.3 396.6,368.6 396.4,367.9 396.1,367.2 395.8,366.5 395.4,365.8 395.1,365.1 394.7,364.5 394.4,363.9 394,363.3 393.7,362.9 393.3,362.5 393.1,362.2 392.8,362 392.6,361.9 392.5,361.8 392.4,361.9 392.4,362.1 392.5,362.3 392.7,362.7 392.9,363.1 393.2,363.6 393.6,364.2 394.1,364.8 394.6,365.4 395.1,366.1 395.8,366.8 396.4,367.5 397.1,368.2 397.8,368.8 398.5,369.4 399.2,369.9 399.9,370.3 400.6,370.7 401.2,370.9 401.8,371.1 402.3,371.1 402.7,371 403.1,370.8 403.3,370.5 403.5,370 403.6,369.5 403.6,368.8 403.5,368 403.2,367.2 403,366.3 402.6,365.3 402.1,364.2 401.6,363.2 401,362.1 400.4,361.1 399.8,360 399.1,359.1 398.5,358.1 397.8,357.3 397.2,356.6 396.7,355.9 396.1,355.4 395.7,355.1 395.3,354.8 395.1,354.7 395,354.9 395,355.1 395.1,355.6 395.3,356.1 395.7,356.8 396.1,357.5 396.6,358.4 397.3,359.3 398,360.3 398.8,361.3 399.7,362.3 400.6,363.3 401.5,364.3 402.5,365.3 403.5,366.2 404.4,367 405.4,367.6 406.3,368.2 407.1,368.7 407.9,369 408.5,369.1 409.1,369.1 409.6,369 410,368.7 410.2,368.3 410.4,367.7 410.4,367 410.3,366.2 410,365.2 409.7,364.2 409.3,363.1 408.7,362 408.1,360.8 407.5,359.6 406.7,358.4 406,357.3 405.2,356.2 404.4,355.2 403.6,354.3 402.9,353.5" fill="none" stroke="#7c7c7c" stroke-width="1.566" stroke-linecap="round" stroke-linejoin="round"/><polygon points="400.57,350.57 401.57,356.13 405.78,352.75" fill="#d4d4d4" stroke="#d4d4d4" stroke-width="1.6" stroke-linejoin="round" stroke-opacity="0.55" fill-opacity="0.55"/><polygon points="400.57,350.57 401.57,356.13 405.78,352.75" fill="#7c7c7c" stroke="#7c7c7c" stroke-width="0.5" stroke-linejoin="round" />
<g transform="translate(231.5,342.5)"><ellipse cx="358.5" cy="58" rx="49" ry="46" fill="url(#cg231_342o)"/><path d="M330.4,37 Q330.4,33 334,32.5 L340.7,31 L340.7,30 Q341,27.5 344,27 L362,23 Q366,22.5 369,24 L384,31.5 Q387.3,33.5 387.3,37 L387.3,80 Q387.3,83 384.5,84.5 L372,92.5 Q368,95.2 364,95.3 L359,94 L342,88.5 L334,85 Q330.4,83.5 330.4,80 Z" fill="url(#cg231_342b)" stroke="#c6c8d0" stroke-width="0.8"/><path d="M336,34.5 L341,33.2 L341,31 Q342,29 345,28.8 L362,25.2 Q365.5,24.8 368,26 L382,33 L382,36 L366,42 L343,38 Z" fill="#f4f4f7" stroke="#c6c8d0" stroke-width="0.6"/><path d="M341,38 L341,88 M336.6,35 L336.6,85.5 M366.5,42 L366.5,95 M378.3,37 L378.3,89 M381,36 L381,87.5 M331,58 L342,60.5 L359,66.5 L387,58" fill="none" stroke="#fcfcfe" stroke-width="1.1" stroke-opacity="0.95"/><path d="M340.3,38 L340.3,88 M365.8,42 L365.8,95 M377.6,37 L377.6,89" fill="none" stroke="#c6c8d0" stroke-width="0.5"/><ellipse cx="362" cy="55" rx="34.1" ry="35.2" fill="url(#cg231_342g)"/><path d="M331,56 Q325,56 318,52 M331,62 Q325,64 318,66.5 M387,56 Q393,56 399,52 M387,62 Q393,64 399,67.5 M352,70 Q345,73 345,80 M366,74 Q372,77 374,84" fill="none" stroke="#dfe3cf" stroke-width="1.4"/><circle cx="316" cy="52" r="3.3" fill="#f6d8c2" stroke="#e8bc9c" stroke-width="0.7"/><line x1="314.7" y1="52" x2="317.3" y2="52" stroke="#e4b8a0" stroke-width="0.6"/><circle cx="316" cy="66.6" r="3.3" fill="#f6d8c2" stroke="#e8bc9c" stroke-width="0.7"/><line x1="314.7" y1="66.6" x2="317.3" y2="66.6" stroke="#e4b8a0" stroke-width="0.6"/><circle cx="344.6" cy="80.4" r="3.3" fill="#f6d8c2" stroke="#e8bc9c" stroke-width="0.7"/><line x1="343.3" y1="80.4" x2="345.9" y2="80.4" stroke="#e4b8a0" stroke-width="0.6"/><circle cx="373.7" cy="84.9" r="3.3" fill="#f6d8c2" stroke="#e8bc9c" stroke-width="0.7"/><line x1="372.4" y1="84.9" x2="375" y2="84.9" stroke="#e4b8a0" stroke-width="0.6"/><circle cx="401.8" cy="52" r="3.3" fill="#f6d8c2" stroke="#e8bc9c" stroke-width="0.7"/><line x1="400.5" y1="52" x2="403.1" y2="52" stroke="#e4b8a0" stroke-width="0.6"/><circle cx="400.5" cy="67.5" r="3.3" fill="#f6d8c2" stroke="#e8bc9c" stroke-width="0.7"/><line x1="399.2" y1="67.5" x2="401.8" y2="67.5" stroke="#e4b8a0" stroke-width="0.6"/><path d="M342.3,37.5 Q342.3,34.5 345.3,34.8 L355.9,38 Q356.9,38.5 356.9,41 L356.9,91.4 Q356.9,92.9 354.4,92.7 L342.3,89.4 Z" fill="#141a14"/><path d="M343.1,37.9 Q343.1,36.1 344.9,36.3 L353.9,40.1 L353.9,92.1 L343.1,89.5 Z" fill="url(#bg231_342_342)"/><g transform="translate(348.4,83.4) skewY(18)"><ellipse cx="0" cy="0" rx="4.3" ry="4.8" fill="#3a9ec4" stroke="#7ad4ea" stroke-width="0.7"/><path d="M-2.7,0 h5.4 M0,-2.9 v5.8" stroke="#f4fcf0" stroke-width="1.7"/></g><path d="M361.5,27.5 Q361.5,24.5 364.5,24.8 L375.1,28 Q376.1,28.5 376.1,31 L376.1,80.4 Q376.1,81.9 373.6,81.7 L361.5,78.4 Z" fill="#141a14"/><path d="M362.3,27.9 Q362.3,26.1 364.1,26.3 L373.1,30.1 L373.1,81.1 L362.3,78.5 Z" fill="url(#bg231_342_361)"/><g transform="translate(367.6,35) skewY(18)"><ellipse cx="0" cy="0" rx="4.3" ry="4.8" fill="#3a9ec4" stroke="#7ad4ea" stroke-width="0.7"/><path d="M-2.7,0 h5.4 M0,-2.9 v5.8" stroke="#f4fcf0" stroke-width="1.7"/></g><ellipse cx="362" cy="56" rx="20.9" ry="24.2" fill="url(#cg231_342g)" opacity="0.5"/></g>
<path d="M626.7,368.8 626.9,368.7 627.2,368.6 627.4,368.4 627.6,368.3 627.8,368.1 628,367.9 628.2,367.7 628.4,367.5 628.5,367.2 628.6,366.9 628.7,366.6 628.7,366.2 628.7,365.9 628.7,365.5 628.7,365.2 628.6,364.8 628.5,364.5 628.4,364.1 628.3,363.8 628.2,363.5 628.1,363.2 627.9,363 627.8,362.9 627.8,362.9 627.7,362.9 627.7,363 627.7,363.1 627.8,363.3 627.8,363.5 627.9,363.8 628.1,364 628.3,364.4 628.5,364.7 628.8,365 629.1,365.4 629.4,365.7 629.8,366 630.1,366.3 630.5,366.6 630.9,366.8 631.3,366.9 631.7,367.1 632.1,367.1 632.4,367.1 632.8,367.1 633.1,366.9 633.3,366.7 633.5,366.5 633.7,366.1 633.8,365.7 633.8,365.3 633.8,364.7 633.7,364.2 633.6,363.6 633.4,363 633.2,362.3 633,361.6 632.7,361 632.4,360.3 632.1,359.7 631.7,359.1 631.4,358.6 631,358.1 630.7,357.7 630.4,357.3 630.2,357 630,356.8 629.8,356.7 629.7,356.7 629.6,356.8 629.6,356.9 629.7,357.2 629.8,357.5 630.1,357.9 630.3,358.3 630.7,358.9 631.1,359.4 631.6,360 632.1,360.7 632.7,361.3 633.3,361.9 633.9,362.6 634.6,363.1 635.3,363.7 635.9,364.2 636.5,364.6 637.2,364.9 637.7,365.1 638.3,365.3 638.7,365.3 639.1,365.2 639.4,365 639.7,364.7 639.9,364.3 639.9,363.8 639.9,363.2 639.8,362.4 639.6,361.7 639.3,360.8 639,359.9 638.6,358.9 638.1,357.9 637.6,357 637,356 636.4,355 635.8,354.1 635.2,353.3 634.6,352.5 634,351.8 633.5,351.3 633,350.8 632.6,350.4 632.3,350.2 632.1,350.1 631.9,350.2 632,350.5 632.1,350.9 632.3,351.4 632.6,352 633,352.7 633.5,353.5 634.1,354.4 634.8,355.3 635.5,356.2 636.3,357.2 637.2,358.1 638,359 638.9,359.9 639.8,360.7 640.7,361.4 641.6,362.1 642.4,362.6 643.2,363 643.9,363.3 644.5,363.5 645.1,363.5 645.5,363.3 645.8,363.1 646.1,362.7 646.2,362.1 646.2,361.5 646.1,360.7 645.9,359.8 645.6,358.9 645.2,357.9 644.7,356.8 644.1,355.7 643.5,354.6 642.8,353.6 642.1,352.5 641.4,351.5 640.7,350.6 640,349.7 639.3,349" fill="none" stroke="#f8c8a0" stroke-width="3.6" stroke-opacity="0.55" stroke-linecap="round" stroke-linejoin="round"/><path d="M626.7,368.8 626.9,368.7 627.2,368.6 627.4,368.4 627.6,368.3 627.8,368.1 628,367.9 628.2,367.7 628.4,367.5 628.5,367.2 628.6,366.9 628.7,366.6 628.7,366.2 628.7,365.9 628.7,365.5 628.7,365.2 628.6,364.8 628.5,364.5 628.4,364.1 628.3,363.8 628.2,363.5 628.1,363.2 627.9,363 627.8,362.9 627.8,362.9 627.7,362.9 627.7,363 627.7,363.1 627.8,363.3 627.8,363.5 627.9,363.8 628.1,364 628.3,364.4 628.5,364.7 628.8,365 629.1,365.4 629.4,365.7 629.8,366 630.1,366.3 630.5,366.6 630.9,366.8 631.3,366.9 631.7,367.1 632.1,367.1 632.4,367.1 632.8,367.1 633.1,366.9 633.3,366.7 633.5,366.5 633.7,366.1 633.8,365.7 633.8,365.3 633.8,364.7 633.7,364.2 633.6,363.6 633.4,363 633.2,362.3 633,361.6 632.7,361 632.4,360.3 632.1,359.7 631.7,359.1 631.4,358.6 631,358.1 630.7,357.7 630.4,357.3 630.2,357 630,356.8 629.8,356.7 629.7,356.7 629.6,356.8 629.6,356.9 629.7,357.2 629.8,357.5 630.1,357.9 630.3,358.3 630.7,358.9 631.1,359.4 631.6,360 632.1,360.7 632.7,361.3 633.3,361.9 633.9,362.6 634.6,363.1 635.3,363.7 635.9,364.2 636.5,364.6 637.2,364.9 637.7,365.1 638.3,365.3 638.7,365.3 639.1,365.2 639.4,365 639.7,364.7 639.9,364.3 639.9,363.8 639.9,363.2 639.8,362.4 639.6,361.7 639.3,360.8 639,359.9 638.6,358.9 638.1,357.9 637.6,357 637,356 636.4,355 635.8,354.1 635.2,353.3 634.6,352.5 634,351.8 633.5,351.3 633,350.8 632.6,350.4 632.3,350.2 632.1,350.1 631.9,350.2 632,350.5 632.1,350.9 632.3,351.4 632.6,352 633,352.7 633.5,353.5 634.1,354.4 634.8,355.3 635.5,356.2 636.3,357.2 637.2,358.1 638,359 638.9,359.9 639.8,360.7 640.7,361.4 641.6,362.1 642.4,362.6 643.2,363 643.9,363.3 644.5,363.5 645.1,363.5 645.5,363.3 645.8,363.1 646.1,362.7 646.2,362.1 646.2,361.5 646.1,360.7 645.9,359.8 645.6,358.9 645.2,357.9 644.7,356.8 644.1,355.7 643.5,354.6 642.8,353.6 642.1,352.5 641.4,351.5 640.7,350.6 640,349.7 639.3,349" fill="none" stroke="#e07428" stroke-width="1.45" stroke-linecap="round" stroke-linejoin="round"/><polygon points="637.13,346.27 638.07,351.42 641.96,348.29" fill="#f8c8a0" stroke="#f8c8a0" stroke-width="1.6" stroke-linejoin="round" stroke-opacity="0.55" fill-opacity="0.55"/><polygon points="637.13,346.27 638.07,351.42 641.96,348.29" fill="#e07428" stroke="#e07428" stroke-width="0.5" stroke-linejoin="round" /></svg>
</body></html>
